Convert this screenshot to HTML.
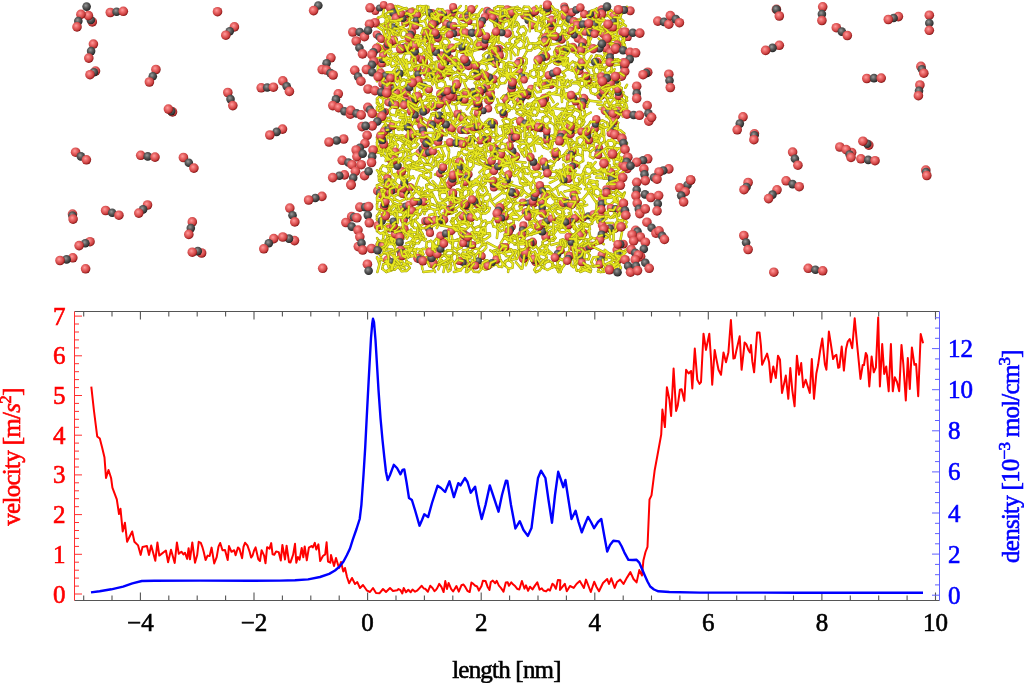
<!DOCTYPE html>
<html><head><meta charset="utf-8"><title>CO2 diffusion</title>
<style>html,body{margin:0;padding:0;background:#fff;}body{width:1024px;height:683px;overflow:hidden;}svg{display:block;}
text{font-family:"Liberation Serif","Times New Roman",serif;font-size:25px;stroke-width:0.6px;}</style></head>
<body><svg width="1024" height="683" viewBox="0 0 1024 683">
<defs>
<radialGradient id="gO" cx="0.42" cy="0.4" r="0.62" fx="0.4" fy="0.36">
<stop offset="0" stop-color="#ff9c9c"/><stop offset="0.4" stop-color="#e96666"/><stop offset="0.72" stop-color="#cc4242"/><stop offset="0.9" stop-color="#9c2020"/><stop offset="1" stop-color="#6a0e0e"/>
</radialGradient>
<radialGradient id="gC" cx="0.42" cy="0.4" r="0.62" fx="0.4" fy="0.36">
<stop offset="0" stop-color="#9a9a9a"/><stop offset="0.45" stop-color="#5c5c5c"/><stop offset="0.82" stop-color="#383838"/><stop offset="1" stop-color="#181818"/>
</radialGradient>
</defs>
<rect width="1024" height="683" fill="#fff"/>
<g>
<path d="M412.3 195.4L415.2 191.5M553.9 226.7L553.6 229.1M451.3 255.9L446.5 255.6M620.2 241.2L622.1 231.8M420.5 13.5L417.4 11.3M535 151.1L532.9 142M454.2 227.7L466.7 222.7M513.3 219.3L510.3 216.9M520.3 35.5L517.5 31.7M399.4 100.1L397.4 103.6M612.3 267.8L610.8 265.4M596.7 216.1L597.5 214M426.9 170L423.3 167.4M551 114L549 103.1M546.4 64.8L542.8 62.6M479.4 210.8L474.3 210.9M561.6 268.5L559.9 265.5M540.5 231.6L539.9 227.3M612.4 33.8L612.9 37.6M490 62.8L490 59.6M620 175.8L622.4 176.6M386.2 18.4L386 16.4M401 90.9L404.2 89.6M519.4 206.3L528.7 216.7M473.9 263.7L471.7 259.9M545.8 124.4L542.3 121.8M612.3 267.8L613.5 269.3M452 66.3L450.5 66M433.8 262L433.5 260.4M401.8 188.4L389.4 190.7M550.5 118.2L549.9 122.6M382.1 79.2L382.8 80.5M416.2 187.3L418.7 187M445.6 62.2L450.7 62M580.2 264.8L580.5 261.4M482.7 38.8L478.4 39.6M545.8 200L545.7 203.5M436.4 130.8L439.8 131.5M549.9 177.5L548.2 174.5M410.8 84.8L410.1 81.6M446.2 129.8L449.5 128.2M623.4 94.6L626.4 97.4M619.4 27.7L616.4 32.1M464.1 266.2L460.5 269.9M554.2 62.9L554.6 60M440.9 128.1L440.1 130.4M561.4 51.3L559.4 48.9M554.9 25.5L556.9 25.3M557.1 247.3L567.5 239.5M546.6 237.4L548.8 234.6M403.5 231.5L391.5 238.6M380.8 140.1L377.2 140.5M608.8 147.4L607.2 143M456.8 91.8L454.3 91.3M432.9 70.5L435.7 68.2M604.9 269.1L605.9 266.8M546.4 64.8L546.6 66.1M602.3 196.9L599.1 198.4M537.7 71.6L537.5 75.6M437.2 132.4L444.5 133M482.9 227.8L483.2 231M461.4 200.2L463.2 203.1M380.8 149.3L381.4 155.8M426.8 68.1L430.5 68.4M477.7 65.8L477.7 66.7M580.5 131.5L588.6 124.9M543.8 147.4L541.1 143.9M418 238.7L406.3 232.8M466.3 236.8L463.2 236.9M574.4 247.5L577.3 251.4M613.9 260.2L610.1 262.2M538.7 82.9L540.8 77.8M597.7 87.5L598.8 91.8M566.1 129.7L566.2 134.4M377.5 114.3L381.7 113.5M598.4 256.8L601.2 261M515.7 102.1L520.2 100.9M574 247.3L574.4 247.5M415.2 42.6L411 42.1M463.4 145.5L462 149.2M379 79.3L377 76.1M620.1 42.1L616 40M590.8 220.1L592.2 218.1M386.1 120.8L396.7 122.6M578.4 204L575.7 201.7M574 161.4L573.5 156.6M435.7 165.6L432.8 167.2M413.8 255.9L409.8 256.5M614.4 65.3L611.4 63.3M477.8 158.4L481.3 157.2M421 239.4L418.7 243.1M417.8 164.6L422.1 162.6M411.1 25.3L409.3 20.8M495 157.6L496.3 158.6M409.5 29L405.5 30.4M604.9 269.1L605.5 264.4M550.7 195.7L555.2 198.6M521.5 86.5L524.3 91.4M443.1 120.6L441 122.8M497.1 183.6L500 184.4M509.2 217.9L513.5 219.2M460.4 255.5L462.6 253.4M555 203.9L550.2 206.3M601.5 88.1L604.5 91M469.3 126.3L469.2 130.7M482.5 209.8L479.1 207.2M602.4 221.6L597.8 222.3M549.2 13L553.5 12.3M420.2 230.1L420.9 228.3M434.1 244.2L433.4 248.6M481.2 203L484.6 205.6M597.2 196.8L593.6 193.8M432.3 67.3L429.3 76.1M399.8 27.5L396.3 24.6M483.8 210.2L487.2 207.6M484.9 140.5L481.5 140M615.2 152.2L618.1 148.6M444.6 162.6L445.3 166.7M475.8 90.6L479.2 91.4M465.2 36.5L464.8 35.6M478.9 272L473.7 271.7M498.5 43.1L498.4 33.1M510.1 95.3L508.1 97.8M423.8 10.9L420.5 13.5M506.5 147.9L503.2 151.1M573.6 226.6L574.7 222.2M488.5 93.1L494.2 82.7M492.4 75.5L493.2 79.6M612.4 33.8L612.3 32.2M405.2 123.6L402.1 124.9M599.6 108.7L609.3 107.9M496.9 64.7L493.5 65.3M594.3 173.6L595.8 171.5M603.2 124.3L604.3 135.4M619.7 206.9L616.1 194.6M568.9 158.5L572.5 151.7M569.7 238.7L574.5 239M517.7 103.8L515.7 102.1M478.5 137.9L488.2 145.5M574.4 259.6L574.9 264.3M424.9 36.3L428.7 36.3M611.4 65.9L611.7 69.7M382.7 41.2L385.5 33.9M420.7 6L423.8 6.2M436.2 221.1L436.8 220.1M506.7 137.7L502.4 129.8M618.1 148.6L621.2 147.8M587.2 106.7L578.6 100.1M426.3 56.8L425 50.9M432.6 204.5L437.4 206.6M486.2 247.6L482.8 251.6M501.6 143.6L501 140.6M560.3 179.9L557.5 174.7M488.3 40.2L487.1 36.7M395.7 166.5L392.2 166.4M517.2 80.4L520.3 82.3M602.6 171.1L602.2 174.2M534.4 216.9L532.3 216.8M568.6 252.2L570 247.9M473.7 116.7L468 117.1M453.5 198.1L453.6 196.9M524.3 91.4L525.2 94.8M390.7 156.4L386.3 157.8M496.3 158.6L495 157.6M584.6 85.5L587.2 87.7M576.8 120.6L579.6 116.5M576.1 249.6L573.6 246.1M604.5 127.8L599.5 127.9M438.3 244.3L435.5 247.7M471.1 124L467.5 123.2M619.9 83.8L618.1 79.2M466.7 20.9L464.4 28.3M530.9 171.2L532.4 172.9M387.7 38L390 37.5M405.9 211.5L408.3 207.8M578.5 19.5L570 20.4M491.2 160.8L495 157.6M431.6 121.9L430.1 118.4M491.2 179.6L486.6 178.1M386.7 51.2L383.7 49.1M544.9 216.6L543.1 221.3M529.6 195.7L531.1 193.2M388.1 96.6L386.4 98.3M513.7 211.9L509.7 215.4M413.6 220.3L410.6 219.5M572.1 70.7L568.7 69.4M388.7 153.6L390.7 156.4M589.2 138.9L589.5 135M445 24.6L442.9 21M511 135.8L509.8 131.8M473.8 137.4L473.7 132.6M458.6 8.3L460.7 6M593.6 129.4L589.4 129.7M436.2 221.1L432 221.9M588.4 265.9L594 266.2M495.8 218.7L496 213.5M564.9 31.7L562.8 30.4M460.5 269.9L455.6 268.5M439.7 18.4L437.9 17.6M581.9 261.6L577.2 252.7M567.8 58.2L567.6 62M518.4 233.5L511.6 240.9M435.7 102.2L439.3 102.6M471.4 40.2L472 43.9M503.3 17.5L511.5 10.1M543.4 209.9L548.5 211.3M506.8 50.6L512 45.5M427.2 96.5L431.7 105.8M530.4 188.3L530.7 183.5M511 135.8L514.6 132.2M463.4 207.3L464.4 204.8M616.7 104.6L613.3 108M592.1 223.4L587.5 226M490 37.3L493.8 34.9M607 45.5L607.1 52.2M413.1 242.7L414.5 243.4M494.3 8.4L498.3 6.2M561.4 51.3L560.2 48.2M604.7 69L607.9 65.5M553.4 22.7L554.5 18.2M410.8 160.4L411.1 155.5M431 190.7L426.7 188.4M419 79.6L419.6 82.9M608.1 11.4L611 10.3M617.7 179.4L620 175.8M536.7 57.5L541 58.8M420.5 73.3L417.9 69.4M498.3 79.8L500.7 75.5M594.9 187.7L593.8 190.6M442.4 155.4L442.8 158.8M491.1 48.9L492.5 47.3M449.8 133.3L446.2 129.8M383.7 49.1L384.3 45M548.8 234.6L553.2 234.8M528.3 173.9L523.1 173.1M603.9 208.6L605.2 212.9M596.3 35.2L594.3 32.1M419.8 226.3L423.7 223.8M582.8 25.5L583.3 28.6M613.9 13.2L613.9 17.3M436.1 83.2L439.8 80.4M508.8 125.2L504.6 123.7M407.5 127.1L405.2 123.6M467.8 242.3L464.4 239.8M540.8 77.8L541.8 81.3M555 150.6L549.7 147.3M528.1 231.7L527.3 235.6M471.7 204.8L476.8 204.8M517.7 73.8L519.8 77.2M412 17.1L416.7 17.8M537.8 222.2L534.3 218.4M487.5 69.1L484 72.8M403.7 72.7L406.8 62.4M463.1 178.9L462.9 174.5M612.2 136.7L616.4 137.5M413 236.3L411 229.5M394.8 174L407.6 176M451.2 14.9L453.5 11.1M397.9 167.8L395.7 166.5M463.4 145.5L458.6 146.2M461.1 152.3L462 149.2M412.6 8.3L415.6 10M575.8 234.3L575.5 236.2M435.2 264.6L439.6 261.3M385.8 77.9L389.6 79.9M384.9 176.2L377 170.3M537.8 222.2L537.2 223.1M384.9 231.8L380.4 233.5M402.5 255.9L398.3 256.9M385.4 14.3L388.6 11.8M444.5 200.2L441.8 202.7M422.6 248.7L427.7 249.2M575.6 67.5L579.3 68.9M428.5 104.1L420.7 109.9M406.8 226.5L406.7 230.4M390.4 150.1L387.1 151.4M531.9 136.8L532.2 135.9M406.2 243.4L414.9 239.9M476.5 85.3L474.8 82.9M492.2 53.9L493.5 58.9M516.4 251.3L518.4 251.1M381 57.2L385.3 65.7M524.3 91.4L528.5 89.4M545.2 36.1L546 41.3M567.6 154.3L571 156.9M503.3 110.7L503.5 106.5M588.2 135.9L589.5 135M431 58.5L432.1 63.2M476.6 70.3L473.4 71.1M377.6 73.9L378.1 64.4M460.8 110.8L462.4 119.9M507.1 194.7L509.9 192.2M546.5 162.2L541.6 160.1M524.8 107.1L527.6 103.8M399 251L395.6 250.5M458 174.1L462.9 174.5M524.4 238.3L523.5 242.2M408.8 165.2L412.4 165.4M597.7 87.5L597.1 86.9M444.5 17.1L445 18.2M528.6 147.9L531 151.7M521.6 239.8L523.5 242.2M488.4 92.9L492.1 93M495.6 32.3L494.4 23.9M415.7 133.7L419.8 134.8M484.7 134.1L488 134.6M537 190.8L549.9 191.5M483.2 231L478.8 233M575.8 94.1L579.1 93.2M438.3 209.3L440.4 208.5M443.6 216.4L436.7 228M553.6 165.3L549.4 166.7M484.2 58.7L483.1 55.3M460.1 92.5L456.8 91.8M599.7 266.4L603.6 264.1M487.2 201.8L483.3 201.3M429.9 89.2L431 93.6M582.2 72L584.9 74.5M540.8 25.8L552.6 31.9M528.1 231.7L527.2 233.3M476.9 130.9L480.2 133.9M478.1 181.3L480.9 183.1M521.1 59.6L523.8 57.1M377.5 43.7L381.6 46.3M567.5 234.9L571.2 234.4M437.2 87.6L436.1 83.2M437.3 246.4L439.8 250.1M391.6 31.2L389.6 35.8M574.5 228.9L571.9 224.6M443.1 236.5L452.7 244.6M471.4 245.2L482.9 240.6M452.2 162.1L453.3 158M470.9 14.4L476.9 6M617.6 49.9L616.3 51.4M463.2 203.1L463.4 207.3M493.9 177.6L498.3 180M393.1 146L390.4 150.1M621.1 161.1L615.6 158.6M501.8 142.9L495 150.7M552.8 37L549.2 38.7M437.7 98.7L439.4 95M542.2 23.3L543.6 27.7M471.2 182.2L475.4 180.3M504.2 229.9L500.6 231.1M480.5 186.5L485.5 187.4M390.4 23.6L394.2 21.2M467.5 123.2L466.2 123.7M412 86L412.1 78.9M623 78.6L618.1 79.2M473.8 60.1L470.8 64.5M467.2 249.6L462.9 250.5M624.1 133.5L623.9 135.7M411.1 148.4L407.2 152.2M389.7 83.2L389.9 82.5M478.4 39.6L481 39.7M419.4 160.6L415 163M386.9 239.2L389.5 242.6M498.2 50.9L503.3 49.5M489.4 267.6L484.9 269.6M383.7 31L377 26.5M484.6 76.8L483.6 79.9M535.4 127.6L532.8 128.9M426.4 46.1L424.6 44.3M510.3 208.9L513.9 208.7M614.4 214.3L613.6 210.1M433.8 262L430.2 260.7M569 47.4L569.6 44.8M457.2 84.3L453.3 82.4M500.5 83.5L498.3 79.8M563.4 128.5L561.4 129.7M488.3 167.6L491 169.4M466 31.9L464.8 35.6M528.9 155.9L524.3 156.3M388.2 129.8L390.5 127.1M410.1 81.6L414.2 79M622.7 108.4L620.5 111.3M384.2 250.4L388.4 249.1M573.6 246.1L574.4 243.6M611.4 63.3L613.2 60.3M543.4 209.9L539.8 213.3M419.1 229L424 236.8M429.8 19.9L433.6 18.9M571.3 18.8L568 7.9M573.2 106.1L574.8 109.4M596.9 24.6L589.5 33.8M541.5 125.1L547.5 126.3M404.8 159.1L403 157.4M424.2 64.2L426.8 68.1M420.1 206L422.9 206.1M583.9 58.9L583.9 54.4M539.3 226.6L545.1 229.9M442.9 38.5L438.7 33M468.8 144.2L468.1 140.5M386.9 270.9L396.6 264.5M425.8 39.5L428.7 36.3M423.8 6.2L423.8 10.9M541.8 81.3L540.8 77.8M549.7 121.4L557.3 127.3M616.7 171.6L620.9 175.6M613.5 269.3L616.3 271M395.4 241L393 244.1M567.4 230.2L564.5 232.3M551 28.3L542.7 36.8M584.4 81.3L583.9 80.4M384.7 219.1L381.1 221.4M433.3 96.5L433.5 99.8M497.5 259L494.3 255.3M528.6 147.9L527.4 144.1M561.2 96.5L560.9 92.4M459 64.6L458.2 62.6M531.6 107.2L532 107.8M496.6 141.9L495.5 139.7M619.5 212.4L624 212.1M550.6 141.3L547 139.6M414.5 243.4L412.4 239.9M534 46.7L538.6 46.8M436.7 48.5L432.7 46.9M476.9 130.9L476.8 125.8M546.2 7.9L549.7 9.6M474.7 259.5L475.6 255.2M530 226.5L534 228.1M575.6 67.5L572.1 70.7M557.5 174.7L563.2 169M499.1 150.4L496.1 151.3M520.4 169.6L519.7 171M604.7 68.1L604.7 69M420.5 98.6L422.2 101.9M519.1 142L516.5 131.8M509.4 119.6L511.2 123.1M462.1 98.8L474.7 104.5M622.1 216.8L627 222.3M399.8 110.9L404.2 123.1M451.4 116.7L449 120.3M479.1 207.2L480.6 207.8M439.8 80.4L437.8 77.3M484.4 195.3L479.4 194.5M411.3 250.1L417.1 248.9M563.7 155.5L567.6 154.3M409.9 145.2L413.7 142.5M383.4 140.9L384 146M434.3 209.9L435.9 215.1M547.5 136.8L545 129.9M427.9 16.5L429.8 19.9M504 162L503.2 159.2M381.8 96.6L383 98.7M461.8 117.7L448.4 114.1M425.8 210L424.4 214M466.4 21.2L466.6 24.2M508 15.5L510.1 11.1M496 137.8L491.8 137.2M604.1 230L605.9 227.8M604.6 141.1L601.3 143.7M407.6 22.5L410.6 25.1M621.7 223.6L622.6 220.1M537.5 108.3L539.6 105.8M562.8 72.3L565 76M623.4 252.3L617.5 247.6M506.6 104.3L503.8 99.3M411.7 63L412.4 65M564 223.3L554.7 227.2M618 37.2L619 42.1M453.5 132.7L453.2 121.3M433.2 53L431.9 55M444.1 45.3L441.5 41.9M616.4 32.1L617.6 37M396.3 113.8L397.1 110.9M436.2 139L439.2 142.1M597.4 12.6L596.2 16.8M456.5 76.1L460.4 78.1M400.9 237.3L397.3 242.3M511.1 201.3L513.8 203.9M537.5 108.3L538.9 103.6M439.8 192.3L437.8 189.3M377 45L377.5 43.7M614.6 264.1L618.9 264.1M468.1 189.7L468.6 194.3M612.9 37.6L609.5 39.7M435 174.6L442.5 176.1M526.6 185L530.7 183.5M393.1 13.5L389.9 16M546 110.8L541.1 111.9M435.9 254.5L435.1 251.6M559.9 265.5L561.3 269.3M605 102.1L608.7 102.5M412.4 65L411.7 63M399.1 75.7L398.8 80.2M383 98.7L381.8 96.6M442.5 191.3L446.6 192.6M401.3 258.8L402.5 255.9M442.3 169.2L438.8 167.5M486.5 124.6L486.7 127.9M602.2 174.2L602.6 171.1M493.7 43.2L490 41.4M472.3 263.4L468.1 261.8M564.7 140L566.7 137.8M608.8 81L612.5 79.3M507.5 133.4L503.8 131.4M429.8 253.8L426.7 257.7M395.9 235.8L394.6 230.8M472.4 32.7L474.8 24.7M457.2 72L452.3 73.6M433.7 214.1L437.1 217.2M599 208L603.9 208.6M565.9 227.7L567.4 230.2M587.2 29.7L589.1 27.9M485.9 244.4L486.2 247.6M529.9 128.2L532.8 128.9M418.7 99.4L415.2 97M447.9 258.6L447 263.4M575.3 37.2L582.6 31.1M624 212.1L625.5 215.9M432.2 271.1L423.2 272M604.8 198.3L602.3 196.9M534 46.7L531.1 50.3M475.1 179.5L483 190.9M486.9 162.9L483.4 164.1M521 235.5L521.2 234.6M603.4 94.9L604.5 91M466.2 262.4L458.6 258.2M388.7 214.8L384.7 214M446 113.3L449.9 113.2M555.2 198.6L555 203.9M479.1 71.6L478.1 71.9M405.5 30.4L404.8 29.6M476.4 14.5L478.7 16.1M392.3 145.1L390.2 141.9M587.7 81.6L583.9 80.4M429.5 207.9L428.7 205.2M405.1 114.4L400.4 115.6M572.1 124.2L570.4 124.2M582.7 156.1L582.6 152.3M416.1 39.2L416.7 36.5M462.6 181.7L467 180.6M468.8 188.2L464.4 189.2M504.1 62.2L505.8 66.5M576.4 188L578.6 191.7M501.1 21L499 25.2M584.2 259.3L583.6 258.4M560.7 184.3L552.2 190.5M621.3 150.5L618.5 154M480.5 186.5L476.6 184.2M611.4 63.3L611.4 65.9M579.6 25.8L582.8 25.5M560.2 271.6L553.3 265M519.9 202.8L522.1 206.5M428.4 121.4L429.2 124.8M527.4 209.9L523 210.5M577.3 262.5L574.4 259.6M606.7 174.1L605.9 178.2M384.5 226.5L385.1 227.6M584.6 85.5L585.9 81.1M570.7 92.3L574.3 95.2M601.6 169.2L603.1 164.7M463 46.6L461.6 50.7M510.6 168.9L508.5 173.2M465.5 218.5L469.9 219.5M385.6 189.9L384.7 189.1M410.6 143.1L415.5 142.1M513.3 36.5L517.6 37.5M517.6 80.7L513.4 80.8M459.9 205.7L459.7 201.5M388.1 254.7L389.8 254.1M555.6 219.1L557.5 218M563.4 202.1L563 206.3M446.5 255.6L444.7 255.2M475.6 255.2L471.2 251.3M496 263.1L490.7 263M393.7 204.2L385.6 212.4M460.9 270.4L453.9 272M381.2 259.7L380.8 255.4M514.3 199.7L516.3 203M575.4 234.1L577.2 230.5M589.5 180.2L593.9 181.1M542.8 62.6L543.4 57.7M507.4 107.4L509.5 106.3M582 224.4L583 226M573 186.9L579.5 192.9M532.8 128.9L535.4 133.1M455 142.1L459.8 141.4M432.6 42.9L436.5 40.5M382.7 105.8L383.1 108.6M378 17.8L382.6 15.8M471.7 136.2L472.4 139.8M410.6 105.3L408.7 110.1M611 43.6L611.6 45.2M468.3 159.3L470.3 158.5M603.1 164.7L607.2 163M389.8 125.2L386.2 125.5M497 259.8L494.5 256.3M569.8 227.1L573.6 226.6M585.1 66.9L589.1 72.1M392.1 249.7L391.6 251.7M619 42.1L615 45.3M561.6 268.5L558.1 267.1M499.6 61.4L504.1 62.2M593.1 145.2L594.7 141.3M452.9 241.7L457.6 239.4M508.4 234.3L511.8 237.1M390 37.5L387.7 38M527.2 233.3L526.6 229M481.6 239.6L483.7 242.4M558.6 19.2L559.8 17.6M611.5 192.7L609.4 196.2M556.9 25.3L554.9 25.5M398.1 35.2L393.5 34.6M576.4 50.4L581 44.1M406.6 120.3L402.7 114.6M502.3 127.7L504.6 126M561.5 227.5L561.5 223.6M620.8 202.1L616.8 207.3M470.4 257.2L468.1 259.3M386.5 130.1L384.4 133.3M478.5 147.8L478.2 148.9M417.9 201.5L424.5 195M563.1 209.5L561.1 220.6M517.4 109.9L521.6 108.7M423.7 223.8L428.6 223.5M406.7 199L405.4 198.8M457.2 84.5L457.2 84.3M480.1 74L481.1 70.9M568.6 32.8L568.4 37.4M546 41.3L543.3 45M419.6 155.7L419.4 160.6M508.4 128.1L510.9 125.5M538.5 127.6L541.2 126.1M384.4 133.3L384.4 136.8M532 107.8L531.6 107.2M479.4 210.8L477.6 210.8M593.1 35.7L589.3 33.6M613.5 210.3L615.7 214.1M491.4 266.8L481.7 256.9M596.3 125.4L599.8 125.4M445.8 51.5L444.1 54.1M582.2 199.7L587.8 193.1M519.7 121.3L519.4 126.3M436.8 35.5L434.3 39.8M411.6 111.6L414.9 109.1M560.8 122.9L560.1 119.5M574.9 264.3L577.2 261.8M400.4 115.6L396.3 113.8M590.2 193.3L587.8 193.1M525.2 94.8L523.1 96.6M529.8 257.3L531.3 252.6M485.3 209L482.5 209.8M604.2 271.7L600.3 272M399 111.5L395.9 115.2M512.2 214.6L517.2 214.5M600.1 79.7L604.5 81M540.1 139.1L550 141.4M608.4 178.8L596.1 177.6M424.2 137.5L424.9 132.9M524.2 95.9L524.3 91.4M407 141.1L403.1 141.9M463.1 258.4L460.4 255.5M410.6 25.1L417 22.9M615 144.4L612.4 147.6M545.7 203.5L545.8 200M608.5 154.4L606.9 150M590 146L587.6 149.7M577.6 199.5L576.6 194.9M483.4 42.8L481.2 47M614.1 122L617.6 124.5M435.3 158.2L433.9 159M462.9 174.5L465.7 171M563.5 164.5L564.8 172M616.2 186.1L617.8 189.8M608.8 81L604.8 78.7M519.4 126.3L515 128.4M500 27.6L497.7 19.7M598.4 74.4L594.8 74M503.8 99.3L501.5 98.4M477.7 66.7L481.3 63M462.7 261.1L464.1 266.2M455.7 168.3L457.8 169.7M571 132.1L569.3 127.8M506.3 67.1L508.1 65.7M423.2 254.3L420.2 257.7M402.4 37.7L400 34.9M405.8 80.5L400.8 79.3M421.7 189.9L422.3 193.1M611.9 233.2L609.9 232.3M445.3 126.1L449.5 128.2M568.1 237.2L567.5 234.9M380.4 233.5L377 230.9M486.6 178.1L485.4 183.3M610.8 122.6L614.1 122M395.5 87.5L401.7 88.7M540 69.2L543.8 71M536.1 263.6L548.9 261.1M535.4 260L531.8 261M479 142.5L483.4 141.8M396.5 66.9L396 62.3M547.6 128.3L545 129.9M411.6 61.8L406.3 62.4M569.9 51L566.2 52.7M589.4 100.7L587.1 104.6M531 210.8L531.5 215.7M430.1 118.4L432.4 113.8M444.1 54.1L440.2 53.4M538.5 254.8L536.9 255.3M437.6 116.6L439.7 114.4M527.2 233.3L524.4 238.3M515.9 65.9L513.7 67.4M604.6 59.8L603.5 57.3M602.2 174.2L603 170M402.9 263L401.3 258.8M498.9 103.8L497.2 99M596.2 64.3L594.5 67.3M472.8 223.2L471.3 225.9M458.3 230.7L461.4 230.6M595.1 148.7L594.3 148.7M471.9 157.2L475 158.5M572.4 238.9L568.1 237.2M545.1 67.6L536.7 68.8M417.9 131.2L422.4 129.6M413.9 75.8L417.3 79M487.1 47.7L485.7 43.4M422.5 233.8L422.1 237.2M412.7 124.1L411.3 127.4M398.6 162.8L395.7 166.5M567 242.7L569.7 238.7M471.5 24.3L484.3 25.6M614.1 122L619 116.3M464.6 74.8L467.4 78M392 173.8L389.6 162.2M459.2 222L468.6 220.1M404.7 169.7L408.8 171.4M432.7 143L431.7 140.5M497.4 248L487.3 242.6M510.9 256.5L506.1 256M432.9 80.4L428.5 80.8M567.3 150.4L562.6 156.6M583.5 170.7L585 181.5M615.5 112.2L612.5 112.7M534.1 69.5L534.4 64.9M520.4 79.8L520.3 82.3M459.1 65.2L450.8 56.4M536.1 194.4L532.1 196.3M525.9 265.2L529 256.3M410.8 121.7L421.2 125.9M535.7 184.4L535.4 189.2M573.6 226.6L576.4 230.1M586.5 242.6L590.4 246.1M584.3 110.8L585.3 115.8M417.3 210.2L415.7 211.5M468.6 194.3L464.8 197.2M590.7 239.3L589.2 231M394.4 255.3L395.3 250.8M485.4 126.2L486.5 124.6M580.2 264.8L577.3 262.5M593.2 85.9L587.7 81.6M449 120.3L445.1 120.4M377.7 68.1L386 62.1M590 176.8L579.2 180.6M491.2 131.8L488.9 126.6M408.8 165.2L412.7 163.6M521.6 72.8L525.9 62M565.3 176.7L567 180.6M485.6 87.5L487.4 84.1M564.1 213.3L561.8 215.2M454.7 84L457.2 84.5M492.2 41.4L493.7 45.8M439.8 131.5L442.6 128.5M568.7 69.4L569 64.9M564.5 171.7L574.6 177.5M576.8 120.6L574.5 122.2M385.9 52.1L383.1 50.2M620.3 42.8L624.6 44.5M527.5 73.9L528 78.1M396.5 66.9L395.5 65.1M405.4 198.8L399.8 201.7M420.2 257.7L415.7 256.8M431.8 192.6L437.2 203.1M497.3 223.4L500.9 222.2M605.9 227.8L609.3 229.7M381.1 189.8L377 187.9M409.6 77.2L406.5 74.2M406.9 13.5L409.8 14.1M435.3 158.2L438.7 155.1M587.9 131.5L588.2 135.9M539.8 166.9L539.3 158.1M583.3 262.8L580.2 264.8M440.1 130.4L440.9 128.1M396.4 153.5L397.5 145.7M489 48.3L495.7 39.7M416 48.8L414.3 48.6M524.1 65.9L521.2 64M468.9 203.4L472.1 206.9M581.4 255.5L578.1 255.5M386.5 148.5L381.2 150.6M620.8 202.1L616.5 201.5M408.2 10L412.6 8.3M501.1 21L499.8 20.3M600.5 258.2L601.8 254.2M387.6 187.1L389.1 190.5M488.3 167.6L483.6 164.7M566 19.8L563.3 21.1M473 154L475.2 149.6M460 45.7L452.9 47.4M577.2 261.8L580.5 261.4M524.1 65.9L525.6 67.5M491.2 131.8L495.5 132.4M556.6 179.5L549.8 182.8M515.8 164.6L522.7 170.9M378.8 105.2L382.7 105.8M608.2 126.6L610.8 122.6M525.6 143.6L527.4 146.2M595 33.9L593.1 35.7M388.7 153.6L390.4 150.1M418.7 46L422.9 47.5M437.8 205.1L437.9 203M576.1 238.4L578.2 240.7M482.1 222L480.6 217.7M493.8 34.9L497.5 36.7M624 12.2L621.2 14M569.5 101.1L565.9 98.2M518.1 23.7L515 26.2M398.9 29L400.8 32.4M604.4 193.4L609 191.3M499.9 17.8L501.1 21M491.6 162.2L494.9 152.9M546 110.8L546 108.4M451.4 101.2L454.6 98.7M405.7 85.7L402.1 87.9M576.7 243.3L577.1 244.3M566.2 207.6L565.6 203.3M468.6 97L457.6 103.8M521.2 64L515.9 65.9M403.3 228.9L404.6 233.9M519.6 88.8L516.5 86.9M583 204.1L580.5 206.3M472.1 236.3L470.1 239.5M613.3 87.4L609.2 85M535.1 136.7L532.2 135.9M525.8 209.7L527.4 209.9M396.9 107.3L400 105.6M566 110.3L568.8 106.6M428.3 95.8L433.3 96.5M503.9 149.5L494.3 151.9M429.8 101.5L430.8 105M616.5 216.6L615.7 214.1M571.8 109.9L562 108.4M482.9 232L481.3 228.8M622.6 10.4L627 6.8M481.1 70.9L483.3 72.3M520.4 79.8L519.8 75.6M524.9 14.6L522.2 10.6M491.2 131.8L486.7 127.9M386.7 118L390.2 117.7M430.3 102.1L433.5 99.8M479.9 129.9L479.7 126.6M514.4 45.1L510.1 44M433.9 159L439.6 156.5M455 116.1L456 120.4M422.4 14.8L426.8 13.6M407.2 152.2L407 156.5M457.4 68.2L458.8 67.4M578.6 191.7L576.6 194.9M582 27.7L595.1 31.6M544.4 112.1L546 108.4M418.7 224.6L417.9 228M617 101.2L609.1 93.8M558.5 116.3L561.8 113M410.5 120.9L402.5 130M531.4 195.3L540 192.6M587.2 204.9L577 208.4M509.9 192.2L514.9 193.5M406.2 46.6L407 44.4M415.1 71.5L413.9 75.8M398.9 99.6L408.5 90.3M620.1 164.9L619.5 169.2M599.8 125.4L598.7 121.7M433.4 248.6L429.4 249.8M409.5 252.7L406.3 255.7M377 118.5L377 119.7M505.8 245.9L506.9 250.2M560.1 119.5L558.5 116.3M619.6 104.8L621.2 102.4M606.9 39.5L598.4 49.7M549.8 128.7L537.1 126.4M399.8 201.7L401 204.4M385.1 27.2L385.9 23.5M581.9 16.2L587 15.8M617.7 260.4L614.6 264.1M555.3 125.8L556.9 122.5M448.2 45.4L444.1 45.3M463.1 258.4L462.7 261.1M616.8 207.3L620.7 208.6M561.4 219.7L563.4 222.5M450 262L450.7 258.6M514.9 193.5L517.1 197.2M546.4 229.8L545.4 229.2M520.3 35.5L517.6 37.5M494.3 97L492.8 100.8M509.5 106.3L509.3 110.5M439.7 18.4L435.8 19.5M426.8 242.1L430.8 240.9M608.2 236.1L600.5 226.1M538.5 127.6L535.4 133.1M616.6 108.9L620.5 111.3M567 180.6L572.9 178.4M570.9 260.9L566.1 256.9M470.1 183.9L468.8 188.2M531.3 252.6L528.9 248.1M492.3 83.2L490.4 82.5M513.9 208.7L513.7 211.9M415.3 93.2L418.8 95.6M394 134.3L391.7 137M391.6 251.7L387.3 253M453.4 191.8L457.8 189.2M544.3 75.3L540.8 77.8M618.1 85.5L619.9 83.8M415.5 142.1L417.1 138.5M508 165.6L508.9 163.5M567.5 217.1L563 215.4M600.9 56.1L603.4 60.8M384.9 178.1L382.1 181.7M457.1 225.5L453.5 225.2M543.8 267.9L542.2 266.6M549.4 23.9L553.4 22.7M454.6 98.7L458.4 98.9M434.7 186.2L435 189.6M460 43.4L463 46.6M622.7 116.4L624.4 103.9M488.9 119.1L492.4 119.5M588 61.9L592.9 61.7M442.8 264.8L439.6 261.3M459.7 201.5L461.4 200.2M402.6 185.3L413 176.2M480.6 217.7L476.7 219.7M484.9 269.6L481.6 267.1M427.2 179.4L430.3 183.9M384.8 197.2L383.1 196.7M528.8 235.1L536 229.3M591 269.7L590.4 272M414.2 227.9L411.2 224.5M607.1 98.2L608.7 102.5M388.8 237.9L393.3 237.9M506.8 71.9L506.3 67.1M464.4 28.3L466 31.9M407.5 237.5L395.8 231.6M583.6 258.4L583.3 262.8M488 134.6L488.1 137.8M478.7 249.3L482.1 245.3M586.1 138L583.6 135.8M380.7 25.1L377 22.4M458.3 88.4L456.8 91.8M464.7 169.6L460.1 171.3M570.9 260.9L572.4 257.9M530.7 183.5L526.6 185M471.2 251.3L469.4 253.6M566.6 131.7L554.9 133.7M494.4 149.5L491.1 152.4M405.2 257.3L406.8 261.5M389.6 35.8L391.6 31.2M513.3 253.1L514.7 255.4M433.6 62.9L436 66.5M543.6 260.4L539.5 258.7M476.5 102.9L475.3 99.7M467.3 161.5L470.3 158.5M409.4 168.4L400.2 159.2M415.7 100.9L414.5 103.7M443.8 250.9L436.8 249.5M603.2 238.6L601.1 242.8M593.2 85.9L597.7 87.5M528.7 169.3L530.1 158.7M458.8 67.4L457.2 72M490 41.4L490 37.3M581.9 265.6L584.7 266.7M532.8 225.2L530.7 221.8M477.1 140.5L479 142.5M422.9 47.5L424.3 51.9M621.2 92.4L621.1 95.1M557.5 10.2L559.8 13.9M494.4 23L496.5 18.8M517.7 103.8L513.7 102.5M618.3 164L614.1 163.9M575.7 201.7L577.6 199.5M417 103.1L419.7 91.6M453.3 158L457.4 157.3M385.4 151.1L392.1 147.8M493.6 81.7L495.1 78.7M472.1 236.3L471.5 232.6M570.5 85.1L566.9 87.2M616.9 45.5L619 42.1M441.5 206.9L437.8 205.1M541.9 24.9L542.2 23.3M389.8 189.1L387.6 187.1M456 120.4L454.3 122.8M382.8 80.5L386.9 85.9M589.6 67.5L586.4 64.8M417.6 229.9L417.9 228M592.2 79.3L587.7 81.6M401 165.1L395.9 176.4M574.3 98.2L575.8 94.1M477.3 154.7L477.8 158.4M473.8 228.5L478.2 226.5M377 118.5L377.5 114.3M421.5 257.2L419.5 252.6M483.2 79.1L484.8 81.5M561.8 251.1L565.3 253M555.4 237.9L553.3 240.7M411.7 216.1L415.7 213.5M388.3 90.1L386.9 85.9M551.8 80.3L550.5 76.3M377 62L377 58.6M575.7 26.4L576.8 29.2M526.1 47.1L523.4 47.4M419.6 158.5L421 156.3M571.2 144.2L571.7 149M588 24.5L582.9 24.8M536.6 266L540.6 264.4M416 48.8L418.7 46M574.3 98.2L574.3 95.2M457.5 220.4L456.5 218.4M459.3 114.4L463.9 113.6M505.3 224.3L500.7 227.3M445.9 102.8L443.7 101.2M599 265.6L599.7 266.4M532.8 191.1L535.2 191.3M458.7 19.3L455.7 16.3M524.9 140.5L518.2 140.5M619 116.3L619.5 114.5M509 62.1L513.5 63.2M444.5 200.2L440.4 198.9M407.8 104.1L408.9 101.3M565.4 246.6L562.8 247.3M424.9 36.3L421.7 33M574.4 155.8L571.4 153.2M378.8 93.1L380.5 91.4M487.2 201.8L487.2 207.6M455.4 208.8L456.5 211M565.1 119.3L570.9 123.2M445.8 86.3L442.1 89.2M496.4 155.5L499.9 145.6M406.5 74.2L408.7 75.8M383.6 234.9L385.9 232.6M377.5 100.1L381.2 110.8M496.5 142.5L490.2 145.5M519.4 126.3L518.2 124.7M463.8 188.1L464.4 189.2M473.7 245.8L474.2 248.2M441.8 202.7L444.5 200.2M424.2 64.2L423.7 64.6M423.2 254.3L419.5 252.6M446.2 129.8L447.5 124.8M475.8 240.1L472.1 236.3M444.9 76.2L442.6 80.2M415.8 62.9L414.4 66.5M467.4 78L466.1 80.6M536.3 115.4L532 114.6M611.8 97.5L607.1 98.2M620.1 42.1L620.3 42.8M532.8 191.1L530.4 188.3M523.1 96.6L519.2 95.3M392.6 54.1L402.2 52.9M426.1 206.4L422.9 198.9M588.5 191.5L584.5 181.7M470.8 211.8L466.4 213.3M461.9 242.4L461.5 247.6M532.5 96.4L528.2 98.4M462.3 191.7L460.5 195.5M434.3 209.9L429.5 207.9M514.9 45.8L515.7 41M438.7 14.4L438.3 14.2M431 190.7L427.7 190.6M394.9 262.5L398.5 262.9M484.3 267.6L471.6 262.8M602.7 222.7L612.7 223M432.6 181L437.4 186.3M509.7 215.4L506.1 215.5M448.1 175L445.5 178.3M517.4 237.3L516 238.8M485 101.1L487.4 88.1M601.7 133.5L599.1 136.1M501 140.6L496.6 141.9M485.7 43.4L483.4 42.8M583.1 160.9L578.8 163.5M464.4 189.2L461.3 186M451 221.6L452.7 218.2M466.7 47.4L469.7 47.8M594.8 74L593.1 70M532 239.6L535.4 242.1M490.4 198.4L487.2 201.8M469.7 263.5L470.8 265.4M445.5 215.1L441.2 216.1M496.5 18.8L499.9 17.8M488.8 53.2L490.3 53.2M553.2 234.8L556.1 231.1M613.9 17.3L611 18.4M453.4 28.8L440.4 30M391.5 57.7L390.2 59.4M412.4 239.9L414.7 236.2M382.8 80.5L379 79.3M473.8 50.7L484.7 47.9M511.3 49.7L507.4 48.8M377 219.6L377 215.7M423.3 7L416.4 15.6M495.1 78.7L497.9 80.1M506.2 112.7L503.3 110.7M555.8 171.7L557.5 174.7M451.4 101.2L452 99M577.7 64L579.4 59.6M534.4 177.9L531.1 176.2M576.4 188L579.9 182.4M560.9 192.2L565.5 197.9M497.3 223.4L497.6 227.4M618.9 264.1L621.2 259.2M609.8 72.2L608.5 73.1M398.9 139.4L398.4 136.1M486.9 96.8L488.4 92.9M572.4 257.9L574.4 259.6M417.5 53.2L416 48.8M601.7 63.7L593.8 62.6M417.6 229.9L420.2 230.1M466.6 256.9L469.4 253.6M392.7 213.8L388.7 214.8M429.2 124.8L425.5 125.4M498.3 146.7L494.4 149.5M437.8 9L442.5 9.6M488.7 89.9L492.1 93M533 213.4L531.5 215.7M444.7 156.2L440.6 146.4M433.5 260.4L435.2 264.6M572.4 194.3L570.2 190.5M601 20.5L599.8 26M405.3 40.8L409.1 44.1M546 108.4L539.6 105.8M575.4 266.5L577.2 261.8M586.5 12.5L596 22.6M387.3 224L392.6 224.4M498.9 254L499.3 252.1M433.9 159L432 163.5M486.3 175.7L484.9 175.4M398.3 227.3L403.3 228.9M416.9 133.6L417.9 131.2M504.9 265.3L505.2 261M597.1 155.2L593.2 158.2M507.1 203.1L511.1 201.3M539 176.4L534.4 177.9M381.7 69.3L377 81.3M396.3 24.6L397.6 20.2M555.5 72.1L558.1 70.3M429.4 249.8L426.1 246.6M435.5 247.7L433.7 245.4M412 17.1L409.9 15.2M564.1 213.3L562.4 210.6M549.7 231.9L546.1 232.3M577.9 83.8L577.7 79.6M547.4 249.4L556.9 258M572.1 124.2L576.5 124.8M575.4 132.7L571 132.1M512.5 22.7L516.9 22M585.4 129.2L587.9 131.5M488.8 53.2L489 49.9M530 226.5L529.3 221M442.3 169.2L443.1 174.1M502.3 155.3L509.1 161.5M581.4 86.8L579.1 93.2M465.7 171L468.7 171.8M617.1 93.8L613.5 91M470.5 207.9L472.1 206.9M597.4 141.9L596.8 137.5M407 141.1L405.3 143.6M484.4 195.3L485.9 193.9M437.6 116.6L437.7 116.1M596.8 137.5L600.1 134.9M469.2 130.7L465.9 132.4M424.5 93.7L418.8 95.6M488.7 89.9L485.6 87.5M553.4 22.7L549.8 25.1M609 236L610.4 239.6M594.4 86.7L590.8 86.8M426.8 13.6L427.9 16.5M473.7 271.7L471.2 267.3M563.1 82.3L562.8 86.4M447.2 214.4L448 211.8M560.1 232.1L558.6 229.6M615.1 192.6L616.9 195.8M470.4 17.7L469.8 18M625.4 101L627 97.4M439.7 114.4L442.4 116.4M544.3 186.6L548.7 186.4M428.3 95.8L425.5 100M422.6 122.4L421.3 124.8M392.6 90.9L388.3 90.1M621.3 196.3L624.8 192.4M462.4 18.8L466.4 21.2M485.2 144.6L482.6 148.2M506.2 248.7L506.6 246.5M407.2 152.2L411.1 148.4M554.3 162.3L553.6 165.3M476.1 234.2L484 235M417.3 210.2L420.1 206M427.5 106.9L423.2 105.3M425.9 141.7L424.2 137.5M587.6 226.6L579 225.7M456.9 250.9L460.4 237.6M603.3 16.9L608.1 15.5M605.2 212.9L601.6 216.7M591.1 92.9L589.9 88.6M534 228.1L534.6 232.4M408.9 94.9L405.7 96.1M562.1 259.9L558.7 258M451.9 145.9L444.8 144.8M378.8 193.9L382.2 193.5M594.3 32.1L596 27.5M432.7 46.9L432.6 42.9M432.8 71.9L432.4 77.1M577.3 131.9L583.4 119.7M538.9 38.2L541.6 34.5M620.3 184.6L617.9 183.8M616.2 186.1L617.9 183.8M542.6 189.9L544.3 186.6M387.3 253L388.1 254.7M417.5 123.4L414.9 119.7M623.2 199.5L620.8 202.1M621.2 92.4L617.1 93.8M409.9 145.2L411.9 148.7M455.7 104.2L451.9 104M512.9 47.3L511.3 49.7M465.7 40.2L462.6 40.2M509.3 260.1L514.9 259.2M609.9 204.8L605.4 203.4M479.7 150L479.5 150.3M515.6 118.4L519.7 121.3M616.5 216.6L619.5 212.4M619.6 256.2L618.9 264.1M498.7 210.3L490.2 200M406.6 137.8L407 141.1M554.5 31.2L555.4 33.2M388.5 258.9L385.1 261.4M622.6 181L620.3 184.6M389.1 190.5L390.4 194.5M461.9 222.8L462 221.8M510.6 26.9L509.4 25.2M491.2 179.6L493.9 177.6M428.9 164.9L429.3 164.7M495.8 107.7L498.9 103.8M405.7 96.1L401.7 94.1M593.6 129.4L596.9 130.5M537.5 164.2L541.9 156M620.9 267.9L618.6 271.6M559.8 157L557.5 158.7M615.5 112.2L614.1 109.3M464 221.2L465.5 218.5M398.8 46.7L400.2 42M459 64.6L455.4 65.3M549.7 192.7L550.7 195.7M396.7 206.1L395.9 209.6M531.1 176.2L532.4 172.9M513.4 80.8L511.3 77.4M481.1 213.3L482.9 213.1M506.1 185.8L501.8 188.2M426 87.1L429.9 89.2M554.1 80.5L558.7 79.4M613.9 153.8L612 156.4M495.3 85.6L495 85.9M473.2 217.2L473.7 212.7M472.1 206.9L470.8 211.8M503.6 104.3L505.2 108.7M448.8 24.2L445 24.6M426.9 170L427.3 170.9M481.3 78.5L480.1 74M615.4 227.6L617.5 228.4M393.3 237.9L395.4 241M504 63.4L503.1 76.3M531.2 104.1L532 107.8M622.6 160.9L618.3 164M397.8 145.1L388.6 137.8M500.7 75.5L505.4 74.9M392 66.6L390.1 63.4M442.1 89.2L437.2 87.6M395.1 37.7L393.5 34.6M379.6 8.6L388.3 7.1M521.4 195.3L516.4 195M422.2 128.7L429.3 124.6M393 244.1L394.7 246.2M593.2 85.9L594.4 86.7M425.9 164.5L424.5 164.8M526.2 181.6L526.6 185M565.4 15.1L566 19.8M575.4 234.1L571.6 234.6M467.4 78L473.9 79.1M505.2 261L509.3 260.1M613.5 269.3L609 271.5M463.9 237.1L466.3 236.8M415.1 113.1L411.8 113.6M479.1 71.6L477.7 66.7M431.9 196.8L429.3 197.6M528 121.2L527.6 117.7M581.2 249L580.1 248.2M435.8 19.5L433.6 18.9M422.9 210.3L420.1 214.5M479.9 256.9L476.8 260.3M423.8 6.2L426.5 6M394.7 269.6L391.1 269.3M543.8 102.5L547.4 106.1M537.3 213.6L534.4 216.9M600.9 145.6L593.1 135.4M621.1 95.1L623.4 94.6M518.2 124.7L521.5 124M391.7 137L388.8 134.7M608.2 48.5L598.7 38.5M467 214.5L461.5 204.1M395.2 199.5L399.8 201.7M500.1 211.5L504 214.8M601.6 216.7L600.8 217M415.5 142.1L418.2 144.2M545.2 192.9L542.6 197.9M451.2 14.9L449.3 17.4M421.6 54.7L417.5 53.2M397.6 73.1L399.1 75.7M506.9 250.2L503.6 253.4M614.1 264.7L613.5 269.3M621 61.4L619.2 64.4M555.8 16L553.5 12.3M576.1 55L585.2 61.8M514.1 88.3L513.8 77M455.2 165.5L455.7 168.3M546.7 229.4L550 219.7M472.6 125.8L474.7 121.4M620.4 140.8L620.1 143.3M385.6 189.9L389.1 190.5M615.1 192.6L610.7 191.7M394.8 74.6L394.4 70.5M514.5 211.4L512.2 207.8M571.5 256.1L572.4 257.9M391.2 137.7L394.3 136.8M603.1 20.6L601 20.5M620.1 143.3L615.9 142.5M445.3 166.7L442.3 169.2M554.3 51.9L556.4 48.2M458 174.1L456.3 177M396.9 217.6L393.8 214.5M404.8 29.6L405.5 30.4M431.7 48.5L432.7 46.9M460 231.1L455.8 230.5M513.3 235.2L517.4 237.3M616.4 137.5L620.4 140.8M582.8 251.7L587.1 251.7M569.4 81.8L572 80.2M536.3 143.1L534.5 140.4M411.6 61.8L411.7 59.9M423.2 105.3L422.2 101.9M402.3 135.3L406.6 137.8M596.3 125.4L601.3 125.1M627 100.8L624.7 101.3M444.9 264.4L443.5 272M497.4 40.8L493.7 43.2M564.9 31.7L566.8 30M535.4 189.2L537.9 192.1M418.4 110.6L415.1 113.1M409.8 78.8L405.8 80.5M605.7 234.1L604.1 230M409.4 250.2L409.3 246.5M422.8 205.3L426.5 195.6M596.3 55.6L600.9 56.1M407.8 265.1L409.7 267.8M473.7 116.7L470.9 113M516.8 113.1L517.4 109.9M565.3 184.2L562 183.9M531.6 185.2L523.7 177M404.7 169.7L408.5 167.8M491 169.4L490 173.5M577.1 244.3L577.7 244.7M518.2 146.2L522.7 154.3M586.7 184.1L597.4 181.3M421.8 157.1L430.4 155.3M460.1 171.3L456.1 168.4M412.3 134.9L409 134M440.1 57.1L442.2 57.1M601.4 64.8L604.6 70.5M511.6 240.1L510.1 237.3M420.9 36.1L424.5 38.2M460 231.1L458.3 230.7M385.1 28.6L388.3 31M413.3 207.8L415.7 211.5M575.8 234.3L577.2 230.5M525.4 229.7L528.1 231.7M543.4 57.7L547.5 55M405.5 30.4L402.6 27.8M470.4 17.7L466.4 21.2M425.9 130.5L424.9 132.9M428.5 67.6L436.1 61.7M574.3 95.2L573.7 99.7M440.4 177.4L443.1 174.1M485.9 239.1L481.6 239.6M428.9 208.6L425.8 210M575.9 255.7L571.5 256.1M416.1 117.4L420 118.7M437.8 77.3L434 75M440.9 33.3L441.1 29.9M435.6 71L435.7 68.2M457.4 68.2L455.5 64.4M431 93.6L428.3 95.8M507.9 94.4L510.1 95.3M404 108L401.8 109.7M580.1 212.1L579.2 207.9M525.6 110.8L524.8 107.1M580.5 261.4L581.9 265.6M484.9 140.5L485 143.7M609.5 39.7L606.9 37.2M400.9 237.3L395.9 235.8M468 117.1L471.4 121M416.6 233.5L414 245.8M587.2 29.7L583.3 28.6M533.7 77.6L530 75.5M531.5 10.9L529.6 14.7M422.7 59.9L426.3 56.8M518.6 254.9L519.9 255.7M594.6 135.8L591.7 139.3M443 20.6L444.3 25M540.6 264.4L543.1 260.5M612.5 167.6L617.4 167.2M437.4 206.6L438.3 209.3M517 234.9L521.2 234.6M497.6 182.8L489.4 181.7M417.6 217.7L413.6 220.3M384.5 226.5L387.3 224M414.5 17.6L419.3 18.9M452.3 73.6L448.9 70.6M427.8 27.2L430.9 30.5M511.3 77.4L513.5 73.9M619.5 212.4L617.5 207.7M398.3 256.9L400.7 261.6M485.5 220.5L486.9 223.1M549.6 243.5L545.9 245.9M593.9 181.1L597.6 184.5M596.7 240.4L596.3 241.7M519.8 75.6L523.4 72.6M459.7 229.3L461 228.7M614.1 160.7L618.4 157.6M443.6 220.6L447.2 214.4M543.8 71L544.3 75.3M458.1 116.3L452.2 123.4M613.3 49.1L611.6 45.2M588 142L590 146M475.1 260.2L472.3 263.4M475.8 90.6L477.3 85.7M410.5 250.9L414.5 250.3M593 30L595 33.9M616 40L617.1 44.7M450.5 208.1L455.4 208.8M406.3 255.7L402 254.4M522.2 164.9L525 172M577.6 199.5L582.2 199.7M462.9 125.4L466.2 123.7M584.5 144.3L583.5 141.8M462 149.2L463.4 145.5M577.7 64L575.9 63M392.2 266.2L391.1 269.3M441.6 179.6L444.3 181M407.2 191.6L410.7 191.4M437.8 189.3L440.7 186.5M574 247.3L569.2 247M483.6 79.9L481.3 78.5M408.4 146.2L409.9 145.2M394.7 158.9L390.7 156.4M557.7 79.1L555.4 81.8M413.5 93.9L415.3 93.2M381.1 189.8L382.2 193.5M473.9 96.3L470.4 95.5M389.7 179.1L392.2 179.9M390.6 77.9L398.8 74.2M441 141.7L432.6 139.9M378.8 146.1L377 151.7M426.7 172.8L416 169.4M491.8 221.8L494 217.8M508.1 97.8L503.8 99.3M578.2 240.7L581.7 237.9M563 126.5L561.4 129.7M503.4 193.1L501.3 189.2M539.9 227.3L542.1 223.9M386.7 57.4L384.6 53.7M564.5 232.3L560.1 232.1M580.8 146.3L577 143.3M557.3 148.9L559.7 152.1M572.6 61.7L575.9 63M579.6 228.8L577.2 230.5M378.6 240.7L377.1 238.1M597.1 86.9L596.4 82.7M543.1 221.3L537.8 222.2M486.2 146.1L478.2 153.7M585.6 150.3L586.1 137.4M493.6 226.6L491.8 221.8M519.3 27.3L523.8 26.6M408.5 175.9L414.1 178.3M510.9 125.5L508.4 128.1M404 214.3L405.9 211.5M438.6 20.6L443 20.6M505.8 66.5L503 69.9M486.1 64.2L490 62.8M552.6 262.9L551.9 267.5M425.9 195L425.1 191.5M443.7 101.2L444.4 99.4M418.7 187L421.7 189.9M550.8 152L557.7 159.5M462.9 174.5L457.8 173.1M578.2 129.1L575.4 132.7M387.5 234.7L386.9 239.2M502.5 172.5L506.6 175.1M573.4 267.2L571.4 265.6M522.1 206.5L519.4 210.8M596 14.9L598.3 11.3M516.9 259L514.9 259.2M522.2 10.6L524.1 6.8M478.4 116.2L473.7 116.7M577.6 154.2L574.4 155.8M485.7 40.1L496.2 39.9M505.7 207.5L507.1 203.1M390.1 21.6L389.3 25.3M605.2 212.9L607.2 213M480.9 183.1L478.1 181.3M520.9 137.7L517.2 141.3M517.4 187.7L522.3 188M496.9 56.1L498.2 50.9M538.9 18.9L535 15.9M503.8 220L499.8 222M384.3 252.9L388.1 254.7M623 149.4L627 143.4M440.8 14.3L443.1 22M614 86.9L617.1 85.7M470.1 67.2L466.1 56.5M454 253.4L458.5 253.6M548.4 215.2L547.1 210.8M485.6 233.7L489.8 233.2M585.6 173.1L584.5 168.7M411.7 59.9L411.6 61.8M466.2 10.3L469.5 12.7M483.4 42.8L488.9 41.6M509.1 66.2L506.8 63.6M466.4 213.3L464.1 215.2M507.4 48.8L505 45.5M532.8 128.9L535.4 127.6M439.4 161.9L435.7 161.6M581.9 265.6L580.1 270.3M594.3 173.6L592.4 171.3M580.8 45.8L576.4 50.4M613.9 260.2L610.5 257.8M558.7 227.3L552.2 234.8M456.7 163.9L459.3 164.9M381.8 96.6L378.8 93.1M384.6 173.4L382.2 173.6M584.5 168.7L587.4 165.5M493.2 79.6L493.6 81.7M609.6 106.1L605.3 94.8M602.6 171.1L601 173.2M443.5 15L444.5 17.1M392.2 241.7L394.2 231.3M461.3 178.8L466.1 188M503.3 6.7L504.4 9.4M390.5 127.1L393.4 129.4M597.5 24.7L602 17.2M550.3 227L553.9 226.7M411 45.4L414.3 48.6M419.8 134.8L420.5 137.3M542.2 266.6L539.8 270.4M615.7 214.1L613.7 217.4M557.5 174.7L564.4 174.9M392.3 145.1L392.5 143.1M561.7 209.8L564.1 213.3M621.2 14L619.8 18M541 58.8L543.5 62.6M452.4 123.4L454.3 122.8M442.4 116.4L443.1 120.6M519.7 178.8L522.8 178.6M541.7 252.7L545.9 254.5M440.4 60.8L436.4 62M434.9 130.2L432.8 127.1M544.5 263.3L543.6 260.4M586.2 245.9L594.3 242.6M514.9 259.2L514.7 255.4M584.7 266.7L580.4 264.7M587.8 193.1L589 190.2M414.4 66.5L412.4 65M401.4 176.6L405 180.2M540.5 31.4L541.6 34.5M438.6 131.8L434.9 130.2M428.6 223.5L429.7 225.5M492.3 83.2L495.3 85.6M388.8 134.7L388.2 129.8M512.2 207.8L513.8 203.9M452.3 114.2L455 116.1M432.8 71.9L430.5 68.4M599.8 125.4L596.3 125.4M478.2 236.3L481.5 236.9M413.1 242.7L413.2 246.4M410.3 120.6L412.7 124.1M536.2 213.8L537.3 213.6M568.8 231.1L569.8 227.1M409.8 14.1L409.7 18M389.9 16L386 16.4M385.1 261.4L388.1 263.1M520.9 97.1L521.3 101.1M403.9 79.7L406.7 81.6M504.3 225.5L505.3 224.3M428.7 36.3L430.5 38M438.1 75L442.6 73.6M526 202.6L528.9 205.9M589.1 27.9L593 30M386.5 241L388.8 237.9M616.9 14L615.5 12.2M405.9 36.4L402.4 37.7M451.9 104L451.4 101.2M524.9 34.8L520.3 35.5M427.3 162.2L425.9 164.5M620.2 35.8L624.3 37.9M501.2 164L497.5 167.2M469.5 136.5L471.7 136.2M463.5 202.5L449.8 203.1M418.7 39.4L425.1 40.2M588.7 182.8L589.5 180.2M518.7 147.1L521.3 144M399.9 100.8L399.4 100.1M584.2 238.7L583.1 242.3M560.1 34.8L555.8 34.6M450.4 159.8L440.9 169.6M510.5 25.7L500.4 31.4M410.3 38.3L413.8 35.1M473.8 228.5L471.3 225.9M461.7 208.6L459.9 205.7M500.3 217.7L508.2 218M622.6 23.2L625.9 26M482.6 185.8L480.9 183.1M508 240.3L507.8 238.5M558.2 56.8L559.9 59.2M467.5 271.8L465.9 272M440.4 60.8L440.1 57.1M418 35.6L418.7 39.4M457.5 118.9L456 120.4M415.8 26.1L411.1 25.3M556.3 75.1L557.7 79.1M479.7 150L482.6 148.2M415.2 97L415.7 100.9M417.1 138.5L413 137.4M574.9 264.3L573.4 267.2M469.7 269.6L467.5 271.8M455.7 16.3L452.3 17.5M482.1 222L485.5 220.5M499.1 150.4L498.3 146.7M382.6 15.8L386.2 18.4M400.3 82L403.9 79.7M576 77L577.7 73.3M492.5 165.6L491.2 160.8M392.2 266.2L391.4 270.6M519.4 210.8L514.5 211.4M604.7 69L600.4 70.7M419.5 252.6L422.6 248.7M401.6 247.1L401 250.1M394.7 246.2L397.3 242.3M541.1 111.9L537.5 108.3M397.2 96.4L399.4 100.1M385.9 232.6L384.9 231.8M451 205.1L449.5 200.4M620 100.4L618.5 93.3M483.2 44.8L474.7 42.1M526.1 47.1L529 43.6M457.6 239.4L461.9 242.4M493 184L491.2 179.6M416.7 36.5L420.9 36.1M455.4 100.2L446.3 100.7M497.9 135.4L496 137.8M613.8 76.1L614.3 76.8M415 163L410.8 160.4M395.5 65.1L396.5 66.9M548.3 36.7L545.2 36.1M388.3 31L390.5 28.1M449.9 113.2L451.4 116.7M551.8 218.6L548.4 215.2M421.9 70.2L432.5 72.8M604.4 167.5L607.8 175.1M573.5 156.6L577.9 154M432 39.8L432.3 35.6M491.1 152.4L487 150.6M589.9 229.2L587.4 231.7M472.3 62.8L470.8 64.5M497.2 227.8L497.3 223.4M440.9 128.1L445.3 126.1M427.2 179.4L423.6 177.3M399.4 121.8L402.1 124.9M430.1 118.4L428.4 121.4M401.6 247.1L399 251M611.5 105.9L610.6 109M602.3 196.9L604.4 193.4M571 138.9L573.3 142.1M579.5 245.2L577.1 244.3M468.3 159.3L466.3 158.5M602.7 259.5L600.5 258.2M432.2 253.1L435.9 254.5M547.4 106.1L546 110.8M400.8 32.4L400 34.9M377.2 140.5L377 137.2M380.2 169.1L382.8 165.6M464.6 230.3L459.7 229.3M385.9 52.1L386.7 51.2M412 68.6L415.1 71.5M429.5 35L424.9 36.3M432.8 127.1L434.3 125.7M535.1 60L536.7 57.5M517.6 80.7L517.2 80.4M450.7 69.4L446.9 66.5M614.8 177.9L607.1 184.3M409.5 49.8L406.2 46.6M445.6 98.5L449.7 97.4M565.8 241L568.1 237.2M486.3 175.7L483.6 173.8M417.4 11.3L415.6 10M478.2 30.6L482.5 29.9M430.3 145.1L431.7 140.5M505 45.5L497.4 40.8M539.8 270.4L535.8 271.9M571.6 234.6L568.8 231.1M413.1 220.5L404.9 225.3M577.2 230.5L582 230.6M523.3 33.5L525.1 42.1M576.4 230.1L575.4 234.1M485.4 122.5L488.9 119.1M471.2 182.2L466.1 179.8M597.9 243.7L590.4 246.1M610.9 39.4L611 43.6M546.5 162.2L550.7 160.8M414.7 133.8L407.1 135.3M473 154L473.4 154.3M512.9 161.2L525.5 162.5M554.1 138.2L561.9 144.9M440.6 132.2L440.9 128.1M398.1 23.2L398.2 27.7M618.1 148.6L612.4 147.6M443.6 116.9L446 113.3M564.7 80.7L569.4 81.8M498.9 103.8L503.6 104.3M566.9 117L568.4 116M440.6 75L437.8 77.3M426.7 188.4L426.3 185M515 128.4L510.9 125.5M501.3 189.2L495.2 188.8M397.4 103.6L393.1 103.4M509.2 17L508.6 20.3M519.6 88.8L519.4 90.4M445.4 12.6L443.5 15M527.3 235.6L523.8 237.5M383.1 50.2L383.7 49.1M546.5 104.3L548.6 94.1M505.2 108.7L503.5 106.5M582.2 199.7L584.9 202M388.8 211.1L388.8 205.5M542.8 142.1L547.1 143.8M583.9 54.4L583.9 58.9M511.8 237.1L516 238.8M503.6 95.9L507.9 94.4M423.3 89.3L418.7 86.9M505.8 245.9L502.4 246.8M525.2 110.7L524.5 113.9M470.8 265.4L469.7 269.6M598.4 256.8L600.5 258.2M382.1 181.7L379.3 184.5M500.8 177.1L499.6 173.5M587.1 251.7L589.9 255.5M472.1 206.9L470.5 207.9M510.1 95.3L513.3 98.5M452.9 78.3L449.3 76.5M580.1 270.3L576.8 270.7M402.7 145.4L405.3 143.6M466.8 117.4L465 122M596.8 137.5L594.6 135.8M546 41.3L552 44M437.3 25.8L433.4 26.9M600.2 238.5L602.7 229.1M572.2 170.3L568.8 172.6M446.5 255.6L444.5 252.9M478.1 181.3L476.6 184.2M486.1 156.3L483.6 156.1M620.1 164.9L621.1 161.1M472 43.9L469.2 43.9M379.3 184.5L383.8 186.4M528.2 98.4L524.2 95.9M464.4 204.8L468.9 203.4M619.3 227.8L617.5 228.4M557.5 218L561.8 215.2M439.2 142.1L437.8 146.7M428.5 80.8L425.9 77.2M447 263.4L447.9 263.3M538.9 103.6L543.8 102.5M618.3 10.4L622.6 10.4M404.2 89.6L408.1 91.6M391 94.6L396.9 104.4M577.8 222L568.8 213M459.4 60.6L459 64.6M418.3 108.6L418.4 110.6M381.4 75.1L384 78.4M425.5 100L429.8 101.5M458.7 222L457.1 225.5M611.8 172.1L609.7 170.1M416.8 190.5L412.2 195M530 75.5L527.5 73.9M597.5 214L596 218.1M417.5 6.6L420.7 6M522.8 11.3L522.2 10.6M411.8 113.6L411.6 111.6M616.7 61L624.5 64.3M504.4 189.1L512.1 181.9M532 107.8L529.2 111.1M550.7 108L549.1 111.7M396.2 177.5L401.4 176.6M622.2 44.5L615.8 40.4M481.5 236.9L485.6 233.7M538.4 249.1L541.9 245.9M541.9 204.9L543.4 209.9M389.6 237.9L394 245.4M483.7 242.4L485.9 244.4M527.4 146.2L524.8 149.3M604.1 105.2L605 102.1M613.6 210.1L616.8 207.3M503.3 49.5L507.4 48.8M452.3 17.5L451.2 14.9M507.1 157.9L503.2 151.1M488.4 59.5L484.2 58.7M498.3 146.7L501.6 143.6M613.2 60.3L618 59.3M397.5 204.7L395.7 211.4M503.6 174.1L502.5 172.5M451.8 255.8L454.3 252.8M459.2 76.7L460.5 74.2M552.7 73.6L556.3 75.1M397 135.5L384.4 133.6M412 50.2L421.7 43.3M413.6 140.8L416.6 131.2M395.9 235.8L393.3 237.9M441.1 160.9L439.4 161.9M610.8 122.6L608.2 126.6M510.5 19.4L508 15.5M467.7 252.1L467.6 254.3M390.7 114.8L388.6 110.6M503.5 206.4L508.1 195.2M482.6 185.8L480.5 186.5M617.6 49.9L616.9 45.5M600.1 33.7L596.3 35.2M406.5 20.9L403.3 19.9M385.3 23.1L385.9 23.5M410.4 10.9L397.5 6M452.2 62L452.6 58M385.1 261.4L381.2 259.7M408.8 171.4L410 167.8M580.6 32L581.7 38.4M502.1 112.7L497.4 112.2M562.2 89.5L563.9 90.8M432.8 71.9L432 73M422.3 193.1L425.1 191.5M535.4 127.6L534.1 123.5M588.4 32.4L597.4 25M563.8 241.5L551.3 245M499.8 126.6L512.8 122.9M489.8 233.2L490 235.9M549.7 48.7L543.4 52.7M537.6 63.8L534.1 69.5M471.2 67.3L472.3 62.8M473.7 212.7L477.6 210.8M579.2 207.9L580.5 206.3M608.1 15.5L608.1 11.4M430.5 68.4L430.9 63.9M473.6 255.3L474.7 259.5M384.4 133.3L382.5 132.2M467.2 249.6L470.2 246.5M397.1 155.7L396.2 159.8M592.6 221.1L590.8 220.1M525 126.7L525.1 130.3M491.8 137.2L489.4 134.2M399.3 212.1L410.7 213.1M580.8 136.3L584.5 139.3M474.7 121.4L471.1 124M383 239.4L383.6 234.9M616.9 45.5L611 43.3M598.3 11.3L601.9 12.3M584.9 202L583 204.1M574.8 109.4L578.9 108.9M592.7 75.7L592.2 79.3M414.2 79L419 79.6M558.1 203.3L558.4 199.2M377 110.1L377 107.4M414.1 252.4L417.1 248.9M522.3 188L524.3 191.8M459.2 76.7L460.4 78.1M412.6 161.3L412.4 165.4M384 149.2L388.3 147.8M394.7 182L396.2 177.5M561.2 25.6L562.8 30.4M620.7 208.6L621.5 212.8M447.7 130.3L455.3 122.5M578.7 79.5L576 77M401.8 109.7L404 108M462 79.9L459.2 76.7M521.8 131.1L519.6 133.2M422.9 206.1L424.5 206.6M497 259.8L500.5 260.1M562.2 86.2L561.1 82.9M411.1 70.2L407.2 70M459.7 212.8L464.1 215.2M405 223.1L406.8 226.5M618.2 258.1L615.3 255M610.9 39.4L616 40M497.9 80.1L498.3 79.8M383.1 196.7L384.8 197.2M483.6 156.1L480.4 152.9M503.8 252.1L506.9 250.2M590.4 246.1L589.6 251M497.8 87.2L495 85.9M542.5 245L542.8 241.7M561.2 217.4L558.1 223.7M567.6 102.8L565.4 116.1M528 78.1L524.5 81.1M597 201.6L595.8 212.4M474 156.5L473 154M396.2 177.5L392.9 174.2M414.2 79L413.9 75.8M606.6 62.2L607.9 65M614.1 201.6L614.6 198.4M440.4 198.9L439.4 194.4M529.6 110.5L531.6 107.2M591.7 139.3L589.2 138.9M456 127L454.7 132M618.2 258.1L617.7 260.4M535.9 108L535 109M583.5 141.8L588 142M398.4 136.1L402.3 135.3M613.5 172.5L617 175.9M416.2 252.8L413.8 255.9M453.2 87.4L449 86.5M473.7 132.6L476.9 130.9M428.9 164.9L427.7 161.7M524.8 149.3L524.1 148.4M414.9 119.7L416.1 117.4M575.5 236.2L575.8 234.3M604.1 271.5L596.4 260M405.8 80.5L403.9 79.7M520.5 149.7L518.7 147.1M429.4 107L430.3 102.1M404.6 233.9L400.9 237.3M496.7 64.8L496.9 64.7M546 108.4L549.2 106.4M439.5 15.1L439.7 18.4M616.6 129.4L617.8 127.7M398.1 159L403 157.4M435.4 120.7L434.3 125.7M403.3 153.1L405.4 150.5M597.4 19.5L596 14.9M438.2 163.4L441.1 160.9M582.9 24.8L579.8 20.6M566.8 30L568.6 32.8M411.3 250.1L409.4 250.2M519.9 255.7L520.8 250.8M397.5 42.3L394.7 46.6M616.9 14L618.3 23.3M523.5 242.2L521.6 239.8M486.3 175.7L484.9 181.3M404.2 247L408.5 248.3M471.4 184.9L480.2 175.6M475.3 129.2L476.9 130.9M438.8 167.5L438.2 163.4M447.5 26.7L447.2 30.1M507.2 237.5L505.6 229.2M468.1 259.3L463.1 258.4M499 25.2L495.6 26.2M460.5 195.5L460 191M388.6 110.6L391.7 106.9M503.8 99.3L506.6 104.3M602.4 120.4L607.2 122.9M614.1 201.6L609.9 204.8M595 33.9L594.3 32.1M575.7 53L572.1 51.6M467.5 271.8L466.4 269.9M577.1 244.3L578.2 240.7M492.4 123.2L488.9 126.6M601.4 64.8L602 62.3M550.7 195.7L549.7 192.7M482.8 149.7L490.2 137.9M571.4 153.2L571.7 149M447 268L447.9 263.3M382.2 63.3L378.1 64.4M524.8 149.3L520.5 149.7M623.2 24.3L615.5 30.9M397.1 110.9L401.8 109.7M557.6 262.3L560.4 258.8M553.5 102.2L548.1 93.3M581.9 244.1L586.5 242.6M462.7 129.8L462.9 125.4M595.5 94.5L591.1 92.9M457.4 157.3L461.1 152.3M583.2 78.2L587 81.7M409.7 18L406.5 20.9M618.5 22.4L618.3 23.3M468 131.7L476.2 130.4M432 163.5L428.9 164.9M435.4 24.9L437.3 25.8M472.3 99.4L462 104M424.5 206.6L422.9 206.1M385.1 93.1L388.1 96.6M397.3 242.3L400.7 242.7M576.5 124.8L578.2 129.1M533.1 206.9L536.7 203.4M568.3 138.9L562.9 145.8M503 69.9L505.4 75.8M541.7 252.7L544.5 254.9M399.8 76.4L399.1 75.7M568.1 26.8L563.4 24M614.5 99L617.3 100.1M425.8 210L424.5 206.6M482.6 148.2L479.7 150M414.5 250.3L416.2 252.8M525.5 248.8L523.4 250.1M552.2 155.9L551.8 142.3M619.2 156.2L618.5 154M535.4 133.1L535.1 136.7M540.4 41.2L544.2 44.1M404.9 199.1L409.5 187.4M563 61.4L562.7 60.6M574 164.4L571.3 176.9M584.7 266.7L585.3 264.4M545.9 254.5L546.8 258.4M462.3 191.7L462.5 196.8M563.4 222.5L561.5 223.6M432.3 35.6L434.9 31.4M609.4 196.2L609.2 195.6M596.7 216.1L595.3 211.8M387.1 151.4L386.5 148.5M383.8 186.4L384.7 189.1M380.4 196.2L377 191.1M549.9 240.2L549.6 243.5M625.9 165.3L627 171.1M508.1 65.7L509.1 66.2M473.4 158L485.1 165.5M403.3 19.9L403.4 16M454.2 175.5L454 171.1M429.3 42.9L426.4 46.1M590.8 112.5L579.6 118.5M550.5 83L548.6 87.1M524.5 113.9L520.3 115.1M596.9 130.5L599.5 127.9M508.5 268.6L508.1 272M380.8 140.1L379.5 139.1M434.6 76.5L434 75M442.9 21.7L445.2 27.5M438.7 212.8L440.4 208.5M542.8 117.5L547 115.7M618.9 264.1L620.9 267.9M586 47.3L587 51.4M555.8 34.6L554.2 29.8M561.8 215.2L557.5 218M434.3 125.7L438 127.3M490 235.9L485.9 239.1M398.3 129.5L395.5 126.5M444.7 255.2L446.5 255.6M503.2 159.2L507.1 157.9M593.8 190.6L590.2 193.3M405.6 66.3L407.9 62.8M566.7 112.8L568.4 116M529.7 245.7L527.1 246.5M516.4 195L514.4 191.2M594.3 148.7L597.6 150.5M608.1 15.5L603.3 16.9M409.5 252.7L408.1 254M535.2 191.3L537.7 191.9M578.8 163.5L579.1 167.5M387.3 41.7L382.2 41.5M596.8 187.1L593.5 189.3M529.6 195.7L526.1 197.4M447.9 250.2L441.8 256.8M579.4 220.1L582 224.4M378.8 213.4L380.8 209.5M406.5 74.2L407.7 69.9M605 198.8L609.2 195.6M509.3 260.1L510.9 256.5M622.4 176.6L622.6 181M530.7 183.5L533.3 181.6M433.4 148.2L430.3 145.1M458.6 146.2L454.4 144.5M534.1 69.5L537.7 71.6M589.5 67.2L585.4 61.5M478.2 226.5L482.9 227.8M588.1 240L584.2 238.7M463.1 209.8L464.4 204.8M421 239.4L425.8 239.1M485.9 77.2L488.7 74.3M557.2 269.4L557.9 265.5M454.7 198.8L464.9 197.7M608.8 85.8L600.4 89.6M615.7 17.3L613.9 17.3M578.8 101.2L573.7 99.7M424 40.8L425.8 39.5M613.5 269.3L612.3 267.8M611 43.6L607 45.5M623.7 166.2L620.1 164.9M493.5 58.9L496.9 61.5M488.3 40.2L492.2 41.4M527.4 144.1L525.6 143.6M555.4 33.2L552.8 37M523.4 72.6L524.1 65.9M394.5 30.1L390.5 28.1M609.8 72.2L612.8 72.3M588.5 259.3L584.2 259.3M463 46.6L466.7 47.4M567.9 58.9L566.4 67.2M429.3 197.6L425.9 195M568.4 116L566.9 117M479.2 91.4L478.3 94.3M545.8 124.4L545.7 126.4M470.8 132.1L459.3 129.9M565.4 242.7L565.8 241M508.4 7L521.8 10M455 262.6L457.7 259.7M444.3 25L441.1 29.3M476.3 40.8L481 39.7M542.5 96.7L549.7 92M444.4 99.4L442.7 103M409.3 20.8L412 17.1M379.1 180.6L378.8 175.8M394.7 182L392.2 179.9M435.3 12.9L439.5 15.1M579.8 20.6L581.9 16.2M459.8 141.4L464 143.1M537.7 191.9L542.6 189.9M615.4 154.9L615.2 152.2M441.2 216.1L438.7 212.8M441.1 29.9L444.4 26.6M555.4 81.8L551.8 80.3M539.9 227.3L539.3 226.6M457.4 157.3L458.8 152.2M439.5 70.5L440.6 75M524.8 149.3L527.7 153.5M604.6 59.8L606.6 62.2M582.6 152.3L583.2 149.4M562 183.9L560.3 179.9M415.1 113.1L416.1 117.4M429.3 200.5L429.3 197.6M469.9 125.8L480.2 122.5M417.3 214.4L418.7 214.3M455.7 104.2L456.8 109.7M586.4 64.8L588 61.9M598.4 24.5L592.5 15.7M577.6 125.3L576.8 120.6M519.3 27.3L518.1 23.7M496.7 64.8L499.6 61.4M576 101.4L574.3 98.2M427.5 48.1L424.3 51.9M481.5 236.9L483.2 231M606.1 256.7L602.7 259.5M566.5 93.7L570.7 92.3M413.9 75.8L409.6 77.2M460.8 82.2L457.2 84.3M407.1 34.2L415.5 37.1M606.9 150L608.8 147.4M511.6 229.6L503 219.1M519.6 133.2L520.9 137.7M587.9 41.2L590.2 43.8M399.9 100.8L403.9 98.5M513.5 219.2L513.7 223M611.6 229.5L615.4 227.6M511.2 120.5L511.2 123.1M537.5 75.6L533.7 77.6M400.4 172.5L397.9 167.8M408 100.9L407.8 104.1M506.8 63.6L509 62.1M598.8 65.3L602 62.3M564.6 36.3L564.9 31.7M555.1 137.5L554.7 140.3M406.2 46.6L407.7 48.8M409.4 250.2L408.5 248.3M380.6 51.6L377 49M584.7 266.7L581.9 265.6M610.1 262.2L613.9 260.2M623.9 135.7L620.1 134.9M484.9 175.4L486.3 175.7M410.3 120.6L410.6 116.9M421 156.3L418.5 152.1M560.8 122.9L563 118.5M447.5 26.7L445 24.6M617.7 179.4L618.4 180.3M622.2 36.7L625.3 48.9M436.4 139.4L433 138.7M518.2 241.6L515 243.7M463.9 113.6L466.8 117.4M574.4 82L582.4 80.5M612 156.4L608.5 154.4M381.7 113.5L384.2 117M581.2 249L581.9 244.1M543.3 45L539.7 43.4M384.6 173.4L384.9 178.1M618.4 122.8L606.2 116.5M438.3 209.3L434.3 209.9M477.3 95.9L480.6 95.2M466.9 224.9L464 221.2M464.4 116.3L468 117.1M620.5 111.3L622 114.1M418.8 95.6L420.5 98.6M578.8 49.1L581.9 46.2M495.9 134.9L494.8 122.8M472.2 15.3L476.4 14.5M395.3 144.2L392.3 145.1M408.3 207.8L413.3 207.8M496 213.5L500.1 211.5M438 127.3L441 122.8M571 115L574.8 117.6M598.7 121.7L602.4 120.4M479 156.8L485.8 160.4M442.9 21.7L439.4 21.4M433.1 246.6L430.7 249.7M576.5 124.8L577.6 125.3M461.9 222.8L457.5 220.4M386.7 174.7L382.2 173.6M519.2 242.4L516 238.8M541.9 245.9L546.7 247.3M418.7 224.6L419.8 226.3M567.4 230.2L568.8 231.1M446.8 209.6L450.5 208.1M412.9 99.7L415.7 100.9M446.9 172.9L449.6 169.4M592.5 187.5L592.4 186.3M431.7 169.8L426.9 170M560.9 92.4L562.2 89.5M619.5 212.4L618.3 215.7M569.9 51L569 47.4M437.6 116.6L433 113.2M510.3 216.9L512.2 214.6M534 228.1L539.9 227.3M609.4 216.9L607.2 213M622.6 23.2L618.5 22.4M398 194.5L401.2 196.7M531.5 215.7L533 213.4M388.1 254.7L392.1 251.8M416.4 208.1L428.9 205.6M479.1 207.2L478.5 203.7M399.8 76.4L393.9 75M389.4 54L391.5 57.7M484.2 58.7L481.2 61.5M450.7 62L453.9 64.1M452.2 62L453.9 64.1M604.1 105.2L597.3 104.5M566.6 162L563.2 159.4M392.5 11.3L393.1 13.5M443.7 101.2L445.6 98.5M443.7 64.5L445.6 62.2M452.3 73.6L450.4 79.2M492.2 53.9L488.8 53.2M414.3 48.6L417.6 49.4M377 107.4L378.8 105.2M586.3 97L589.4 100.7M563.3 21.1L559.8 17.6M613.2 60.3L608.5 58.4M483.2 79.1L481.3 78.5M406.9 13.5L408.2 10M611.7 69.7L608.5 73.1M520.1 207.2L521.6 203.3M525.5 248.8L529.4 251.7M397.3 56.1L403.5 68M567.6 23.9L562.3 19.1M382.9 182.8L378.4 172.2M510.1 11.1L514.8 10.7M545 129.9L540.5 129.5M414.1 252.4L416.2 252.8M438.3 120.8L437.6 116.6M492.1 93L488.7 89.9M470.8 239.4L473.9 230.7M463.9 237.1L466.7 237M451.4 116.7L450.6 116.6M393.8 214.5L392.7 213.8M522.3 188L523.5 185.2M390.3 212.4L391.1 209M499.3 252.1L498.2 247.8M510.5 44L512.9 47.3M618.1 79.2L616.7 81.6M438.7 252.7L441.2 256.3M419.8 134.8L416.9 133.6M466.2 123.7L465 122M448 211.8L446.8 209.6M478.2 242.8L471.8 232.3M491.5 56.7L488.4 59.5M481 39.7L483.4 42.8M462.9 24.8L461.5 28.2M467.8 155.5L471.3 153.4M481.1 70.9L484 72.8M609.7 170.1L609.8 165.7M507.8 238.5L509.3 242.3M377 76.1L377.6 73.9M612.4 147.6L614.9 152.1M556.7 206.3L549.8 210M399.2 252.4L398.3 256.9M428.8 46.1L426.4 46.1M419.9 191.7L419.8 193.4M399.9 103L409 99.8M498 218.6L499.8 223.4M406.6 120.3L406.5 119.7M607 45.5L603.1 43.3M378.1 64.4L377 62M598.7 66.7L600.1 68.2M425.4 31.3L435.3 35.8M499 30.3L505.1 19.5M406.7 230.4L404.7 230.9M447.3 99.6L442.2 110.6M448.9 70.6L450.5 66M428.3 224.1L434.4 219.2M394.2 187.2L398.3 190M408.5 175.9L404.2 178.7M535 15.9L535.7 10.9M548.2 174.5L551.2 171.6M571.4 35.8L562.2 33.5M517.2 141.3L512.3 140.3M615.4 73.7L611.7 69.7M437.4 21.8L437.3 25.8M611 255.5L614.9 255.6M403.6 23.8L404.5 25.9M589.5 81L587.7 81.6M527.5 73.9L530 75.5M468.4 154.3L464.3 154.9M432.8 167.2L431.7 169.8M382.5 133.2L383.5 136.4M524.5 81.1L520.4 79.8M431.2 114L441.1 119.1M613.9 13.2L615.5 12.2M610.9 39.4L609.1 38.7M539.6 105.8L537.5 108.3M417.1 248.9L411.3 250.1M507.1 157.9L512 159.4M382.1 79.2L385.8 77.9M450 262L451.1 265.4M613.3 108L610.6 107M530.1 117.8L533.1 121.3M464.8 35.6L465.2 36.5M413.6 57.1L411.6 61.8M609.9 232.3L611.6 229.5M616.8 264.2L617.4 255.7M508.1 65.7L510.5 69.1M466.9 222.9L466.9 224.9M541.9 65.1L537.6 63.8M503.6 174.1L501 170.7M382.6 15.8L384 9.1M396.3 140L395.3 144.2M420.3 119.2L424 118.7M432 39.8L430.5 38M388.4 20.7L390.1 21.6M424.6 41.3L415.6 38.4M477.9 116.8L475.5 108.1M584.5 144.3L580.8 146.3M428.3 6.7L427.8 15.3M419.1 176.6L414.4 189.3M579.8 53.3L577.3 55.7M528.5 256.5L523.7 258.6M458.4 98.9L458.9 101.6M437.2 31.4L436.8 35.5M458.4 225L462 221.8M389.3 25.3L386.8 28.1M498.3 180L500 184.4M597.4 12.6L608.1 15.5M478.1 79.8L483.2 79.1M395.9 237.1L382.8 233.5M591.3 166.8L592.4 171.3M398.8 80.2L400.3 82M456.5 218.4L458.7 222M525.7 143.9L527.4 133.3M571.2 234.4L571.6 234.6M601.1 242.8L597.9 243.7M583.2 124.7L573.2 127.6M589.5 135L592.4 131.5M535.4 242.1L535.9 246.4M621.1 161.1L619.2 156.2M579.4 220.1L581.2 216.9M400 34.9L400.8 32.4M456.9 9.9L458 12.5M557.7 75.9L556.3 75.1M594.5 67.3L589.6 67.5M434.3 39.8L436.5 40.5M580.5 206.3L583 204.1M614.6 198.4L614.1 201.6M435.4 120.7L431.6 121.9M400.1 149.4L409.6 140.5M595.7 238.6L596.3 241.7M424.5 164.8L425.9 164.5M574.4 259.6L577.3 262.5M446.7 135.3L433.2 134.9M579.6 217.3L569.2 217.9M389.3 171.2L386.7 174.7M592.2 218.1L595.2 216.5M580.7 256L583.6 258.4M514.3 199.7L509.3 198.4M523 210.5L520.1 207.2M386.2 182.3L384.9 178.1M466.1 148.6L469.3 151.1M589 225L589.9 229.2M572.1 51.6L569 47.4M500.5 11.5L500.4 17M511.8 237.1L511.6 240.1M403.4 16L406.6 13.1M568.4 37.4L566.4 39.1M440.6 46.1L446.9 48.7M386.8 28.1L385.1 27.2M590.8 86.8L586.6 84M481.3 228.8L480 226.1M613.1 35.5L618 37.2M480.4 152.9L479.7 150M402.9 251.1L415.3 256.4M454.9 226.4L466 229.4M435.9 254.5L436.7 258.9M504.3 132.5L515.4 127.1M613.7 217.4L609.4 216.9M384 149.2L380.8 149.3M583.1 242.3L581.9 244.1M627 107.2L627 109.6M387.7 157.7L388.7 153.6M538.6 46.8L537.6 42.6M571.4 265.6L570.9 260.9M394.7 46.6L389.6 46.3M407.9 62.8L411.7 63M618.5 154L615.4 154.9M610.6 109L614.1 109.3M471.4 146.6L462.5 145.1M597.6 184.5L596.8 187.1M559 16.8L555.8 16M616.9 45.5L620.3 42.8M589 190.2L592.5 187.5M379.7 110.7L377 110.1M544.2 44.1L545.2 48.3M616 36.8L620.2 35.8M411.9 148.7L409.4 150.5M398.9 67.5L399.3 71.6M466.2 123.7L467.5 123.2M590.2 43.8L588 46.6M466.2 123.7L469.3 126.3M517.6 80.7L519.6 83.9M594.3 148.7L595.1 148.7M488.7 74.3L492.4 75.5M587.9 125.9L590.5 121.9M427.7 190.6L431.1 193.3M430.5 38L432 39.8M575.9 63L575.6 67.5M577.8 270.5L588.5 267.7M484.6 76.8L485.9 77.2M492.7 159.2L490.8 155.9M548.8 19.4L549.4 23.9M572.2 170.3L575.7 170.8M532.2 144.1L527.4 144.1M391.4 270.6L386.4 271.9M587.4 231.7L584 230.2M377 103.3L377 98.8M382.3 268.8L383.2 264.4M609.7 170.1L612.5 167.6M520.3 183.3L530.4 183.7M567.2 31L562.8 30.4M517.4 109.9L521.2 109.3M574.3 220.2L579.4 220.1M533 213.4L535.9 210.1M432 39.8L430 43.1M601.2 155.6L595.7 151.1M442.9 38.5L446.9 38.6M424.5 206.6L426.2 201.9M551.1 44.9L562.4 42.5M521.9 152.6L524.1 148.4M398.2 27.7L394.5 30.1M535.9 246.4L538.4 249.1M471.2 267.3L470.8 265.4M383.1 50.2L385.9 52.1M523.4 250.1L525.5 248.8M467.8 155.5L468.4 154.3M462 149.2L466.1 148.6M383.2 205.2L380.8 209.5M440 14.1L443.6 14.4M411.2 224.5L412 221.1M409.5 49.8L410.3 52.9M562.1 202.8L552.5 193.5M380.5 57.5L383.4 59.9M503.5 106.5L506.6 104.3M531.5 10.9L535.7 10.9M393.8 214.5L395.7 211.4M499.8 222L495.8 218.7M594.3 32.1L595 33.9M454 253.4L451.3 255.9M517.3 14.7L514.5 11.3M540.4 169L552 168.3M509.6 225.6L505.3 224.3M456.7 163.9L461.3 162.2M435 189.6L431 190.7M471.5 232.6L474.6 232.5M578.8 101.2L581.1 97.3M409.4 150.5L411.1 155.5M613.3 108L614.1 109.3M616.7 171.6L611.8 172.1M534.5 140.4L532.2 144.1M618.4 157.6L622.6 157.7M377 185.2L379.3 184.5M535 109L532.7 105.3M479.6 164.6L466.7 160.1M400.9 211.3L404 214.3M540.4 8.8L540.8 6M582.9 223.4L582.9 218.1M457.5 220.4L456.3 215.4M504.3 21.7L500.9 31.9M517.9 243.3L521.6 239.8M408.1 91.6L408.9 94.9M486.1 64.2L487.5 69.1M482.9 213.1L483.8 210.2M475.4 180.3L478.1 181.3M513.3 219.3L513.5 219.2M583.9 80.4L584.4 76.9M399.8 27.5L398.6 31.7M513.8 203.9L512.2 207.8M481.2 203L483.3 201.3M435.7 68.2L439.5 70.5M469.3 151.1L468.4 154.3M513.7 211.9L512.2 214.6M551.4 189.4L549.7 192.7M505.2 118.1L509.4 119.6M469.3 151.1L474.4 150.4M467.7 252.1L467.2 249.6M486.6 269.5L498.3 262.9M481.3 157.2L485.9 159.4M505.1 82.9L500.5 83.5" stroke="#9a980e" stroke-width="2.5" fill="none" stroke-linecap="round"/>
<path d="M412.3 195.4L415.2 191.5M553.9 226.7L553.6 229.1M451.3 255.9L446.5 255.6M620.2 241.2L622.1 231.8M420.5 13.5L417.4 11.3M535 151.1L532.9 142M454.2 227.7L466.7 222.7M513.3 219.3L510.3 216.9M520.3 35.5L517.5 31.7M399.4 100.1L397.4 103.6M612.3 267.8L610.8 265.4M596.7 216.1L597.5 214M426.9 170L423.3 167.4M551 114L549 103.1M546.4 64.8L542.8 62.6M479.4 210.8L474.3 210.9M561.6 268.5L559.9 265.5M540.5 231.6L539.9 227.3M612.4 33.8L612.9 37.6M490 62.8L490 59.6M620 175.8L622.4 176.6M386.2 18.4L386 16.4M401 90.9L404.2 89.6M519.4 206.3L528.7 216.7M473.9 263.7L471.7 259.9M545.8 124.4L542.3 121.8M612.3 267.8L613.5 269.3M452 66.3L450.5 66M433.8 262L433.5 260.4M401.8 188.4L389.4 190.7M550.5 118.2L549.9 122.6M382.1 79.2L382.8 80.5M416.2 187.3L418.7 187M445.6 62.2L450.7 62M580.2 264.8L580.5 261.4M482.7 38.8L478.4 39.6M545.8 200L545.7 203.5M436.4 130.8L439.8 131.5M549.9 177.5L548.2 174.5M410.8 84.8L410.1 81.6M446.2 129.8L449.5 128.2M623.4 94.6L626.4 97.4M619.4 27.7L616.4 32.1M464.1 266.2L460.5 269.9M554.2 62.9L554.6 60M440.9 128.1L440.1 130.4M561.4 51.3L559.4 48.9M554.9 25.5L556.9 25.3M557.1 247.3L567.5 239.5M546.6 237.4L548.8 234.6M403.5 231.5L391.5 238.6M380.8 140.1L377.2 140.5M608.8 147.4L607.2 143M456.8 91.8L454.3 91.3M432.9 70.5L435.7 68.2M604.9 269.1L605.9 266.8M546.4 64.8L546.6 66.1M602.3 196.9L599.1 198.4M537.7 71.6L537.5 75.6M437.2 132.4L444.5 133M482.9 227.8L483.2 231M461.4 200.2L463.2 203.1M380.8 149.3L381.4 155.8M426.8 68.1L430.5 68.4M477.7 65.8L477.7 66.7M580.5 131.5L588.6 124.9M543.8 147.4L541.1 143.9M418 238.7L406.3 232.8M466.3 236.8L463.2 236.9M574.4 247.5L577.3 251.4M613.9 260.2L610.1 262.2M538.7 82.9L540.8 77.8M597.7 87.5L598.8 91.8M566.1 129.7L566.2 134.4M377.5 114.3L381.7 113.5M598.4 256.8L601.2 261M515.7 102.1L520.2 100.9M574 247.3L574.4 247.5M415.2 42.6L411 42.1M463.4 145.5L462 149.2M379 79.3L377 76.1M620.1 42.1L616 40M590.8 220.1L592.2 218.1M386.1 120.8L396.7 122.6M578.4 204L575.7 201.7M574 161.4L573.5 156.6M435.7 165.6L432.8 167.2M413.8 255.9L409.8 256.5M614.4 65.3L611.4 63.3M477.8 158.4L481.3 157.2M421 239.4L418.7 243.1M417.8 164.6L422.1 162.6M411.1 25.3L409.3 20.8M495 157.6L496.3 158.6M409.5 29L405.5 30.4M604.9 269.1L605.5 264.4M550.7 195.7L555.2 198.6M521.5 86.5L524.3 91.4M443.1 120.6L441 122.8M497.1 183.6L500 184.4M509.2 217.9L513.5 219.2M460.4 255.5L462.6 253.4M555 203.9L550.2 206.3M601.5 88.1L604.5 91M469.3 126.3L469.2 130.7M482.5 209.8L479.1 207.2M602.4 221.6L597.8 222.3M549.2 13L553.5 12.3M420.2 230.1L420.9 228.3M434.1 244.2L433.4 248.6M481.2 203L484.6 205.6M597.2 196.8L593.6 193.8M432.3 67.3L429.3 76.1M399.8 27.5L396.3 24.6M483.8 210.2L487.2 207.6M484.9 140.5L481.5 140M615.2 152.2L618.1 148.6M444.6 162.6L445.3 166.7M475.8 90.6L479.2 91.4M465.2 36.5L464.8 35.6M478.9 272L473.7 271.7M498.5 43.1L498.4 33.1M510.1 95.3L508.1 97.8M423.8 10.9L420.5 13.5M506.5 147.9L503.2 151.1M573.6 226.6L574.7 222.2M488.5 93.1L494.2 82.7M492.4 75.5L493.2 79.6M612.4 33.8L612.3 32.2M405.2 123.6L402.1 124.9M599.6 108.7L609.3 107.9M496.9 64.7L493.5 65.3M594.3 173.6L595.8 171.5M603.2 124.3L604.3 135.4M619.7 206.9L616.1 194.6M568.9 158.5L572.5 151.7M569.7 238.7L574.5 239M517.7 103.8L515.7 102.1M478.5 137.9L488.2 145.5M574.4 259.6L574.9 264.3M424.9 36.3L428.7 36.3M611.4 65.9L611.7 69.7M382.7 41.2L385.5 33.9M420.7 6L423.8 6.2M436.2 221.1L436.8 220.1M506.7 137.7L502.4 129.8M618.1 148.6L621.2 147.8M587.2 106.7L578.6 100.1M426.3 56.8L425 50.9M432.6 204.5L437.4 206.6M486.2 247.6L482.8 251.6M501.6 143.6L501 140.6M560.3 179.9L557.5 174.7M488.3 40.2L487.1 36.7M395.7 166.5L392.2 166.4M517.2 80.4L520.3 82.3M602.6 171.1L602.2 174.2M534.4 216.9L532.3 216.8M568.6 252.2L570 247.9M473.7 116.7L468 117.1M453.5 198.1L453.6 196.9M524.3 91.4L525.2 94.8M390.7 156.4L386.3 157.8M496.3 158.6L495 157.6M584.6 85.5L587.2 87.7M576.8 120.6L579.6 116.5M576.1 249.6L573.6 246.1M604.5 127.8L599.5 127.9M438.3 244.3L435.5 247.7M471.1 124L467.5 123.2M619.9 83.8L618.1 79.2M466.7 20.9L464.4 28.3M530.9 171.2L532.4 172.9M387.7 38L390 37.5M405.9 211.5L408.3 207.8M578.5 19.5L570 20.4M491.2 160.8L495 157.6M431.6 121.9L430.1 118.4M491.2 179.6L486.6 178.1M386.7 51.2L383.7 49.1M544.9 216.6L543.1 221.3M529.6 195.7L531.1 193.2M388.1 96.6L386.4 98.3M513.7 211.9L509.7 215.4M413.6 220.3L410.6 219.5M572.1 70.7L568.7 69.4M388.7 153.6L390.7 156.4M589.2 138.9L589.5 135M445 24.6L442.9 21M511 135.8L509.8 131.8M473.8 137.4L473.7 132.6M458.6 8.3L460.7 6M593.6 129.4L589.4 129.7M436.2 221.1L432 221.9M588.4 265.9L594 266.2M495.8 218.7L496 213.5M564.9 31.7L562.8 30.4M460.5 269.9L455.6 268.5M439.7 18.4L437.9 17.6M581.9 261.6L577.2 252.7M567.8 58.2L567.6 62M518.4 233.5L511.6 240.9M435.7 102.2L439.3 102.6M471.4 40.2L472 43.9M503.3 17.5L511.5 10.1M543.4 209.9L548.5 211.3M506.8 50.6L512 45.5M427.2 96.5L431.7 105.8M530.4 188.3L530.7 183.5M511 135.8L514.6 132.2M463.4 207.3L464.4 204.8M616.7 104.6L613.3 108M592.1 223.4L587.5 226M490 37.3L493.8 34.9M607 45.5L607.1 52.2M413.1 242.7L414.5 243.4M494.3 8.4L498.3 6.2M561.4 51.3L560.2 48.2M604.7 69L607.9 65.5M553.4 22.7L554.5 18.2M410.8 160.4L411.1 155.5M431 190.7L426.7 188.4M419 79.6L419.6 82.9M608.1 11.4L611 10.3M617.7 179.4L620 175.8M536.7 57.5L541 58.8M420.5 73.3L417.9 69.4M498.3 79.8L500.7 75.5M594.9 187.7L593.8 190.6M442.4 155.4L442.8 158.8M491.1 48.9L492.5 47.3M449.8 133.3L446.2 129.8M383.7 49.1L384.3 45M548.8 234.6L553.2 234.8M528.3 173.9L523.1 173.1M603.9 208.6L605.2 212.9M596.3 35.2L594.3 32.1M419.8 226.3L423.7 223.8M582.8 25.5L583.3 28.6M613.9 13.2L613.9 17.3M436.1 83.2L439.8 80.4M508.8 125.2L504.6 123.7M407.5 127.1L405.2 123.6M467.8 242.3L464.4 239.8M540.8 77.8L541.8 81.3M555 150.6L549.7 147.3M528.1 231.7L527.3 235.6M471.7 204.8L476.8 204.8M517.7 73.8L519.8 77.2M412 17.1L416.7 17.8M537.8 222.2L534.3 218.4M487.5 69.1L484 72.8M403.7 72.7L406.8 62.4M463.1 178.9L462.9 174.5M612.2 136.7L616.4 137.5M413 236.3L411 229.5M394.8 174L407.6 176M451.2 14.9L453.5 11.1M397.9 167.8L395.7 166.5M463.4 145.5L458.6 146.2M461.1 152.3L462 149.2M412.6 8.3L415.6 10M575.8 234.3L575.5 236.2M435.2 264.6L439.6 261.3M385.8 77.9L389.6 79.9M384.9 176.2L377 170.3M537.8 222.2L537.2 223.1M384.9 231.8L380.4 233.5M402.5 255.9L398.3 256.9M385.4 14.3L388.6 11.8M444.5 200.2L441.8 202.7M422.6 248.7L427.7 249.2M575.6 67.5L579.3 68.9M428.5 104.1L420.7 109.9M406.8 226.5L406.7 230.4M390.4 150.1L387.1 151.4M531.9 136.8L532.2 135.9M406.2 243.4L414.9 239.9M476.5 85.3L474.8 82.9M492.2 53.9L493.5 58.9M516.4 251.3L518.4 251.1M381 57.2L385.3 65.7M524.3 91.4L528.5 89.4M545.2 36.1L546 41.3M567.6 154.3L571 156.9M503.3 110.7L503.5 106.5M588.2 135.9L589.5 135M431 58.5L432.1 63.2M476.6 70.3L473.4 71.1M377.6 73.9L378.1 64.4M460.8 110.8L462.4 119.9M507.1 194.7L509.9 192.2M546.5 162.2L541.6 160.1M524.8 107.1L527.6 103.8M399 251L395.6 250.5M458 174.1L462.9 174.5M524.4 238.3L523.5 242.2M408.8 165.2L412.4 165.4M597.7 87.5L597.1 86.9M444.5 17.1L445 18.2M528.6 147.9L531 151.7M521.6 239.8L523.5 242.2M488.4 92.9L492.1 93M495.6 32.3L494.4 23.9M415.7 133.7L419.8 134.8M484.7 134.1L488 134.6M537 190.8L549.9 191.5M483.2 231L478.8 233M575.8 94.1L579.1 93.2M438.3 209.3L440.4 208.5M443.6 216.4L436.7 228M553.6 165.3L549.4 166.7M484.2 58.7L483.1 55.3M460.1 92.5L456.8 91.8M599.7 266.4L603.6 264.1M487.2 201.8L483.3 201.3M429.9 89.2L431 93.6M582.2 72L584.9 74.5M540.8 25.8L552.6 31.9M528.1 231.7L527.2 233.3M476.9 130.9L480.2 133.9M478.1 181.3L480.9 183.1M521.1 59.6L523.8 57.1M377.5 43.7L381.6 46.3M567.5 234.9L571.2 234.4M437.2 87.6L436.1 83.2M437.3 246.4L439.8 250.1M391.6 31.2L389.6 35.8M574.5 228.9L571.9 224.6M443.1 236.5L452.7 244.6M471.4 245.2L482.9 240.6M452.2 162.1L453.3 158M470.9 14.4L476.9 6M617.6 49.9L616.3 51.4M463.2 203.1L463.4 207.3M493.9 177.6L498.3 180M393.1 146L390.4 150.1M621.1 161.1L615.6 158.6M501.8 142.9L495 150.7M552.8 37L549.2 38.7M437.7 98.7L439.4 95M542.2 23.3L543.6 27.7M471.2 182.2L475.4 180.3M504.2 229.9L500.6 231.1M480.5 186.5L485.5 187.4M390.4 23.6L394.2 21.2M467.5 123.2L466.2 123.7M412 86L412.1 78.9M623 78.6L618.1 79.2M473.8 60.1L470.8 64.5M467.2 249.6L462.9 250.5M624.1 133.5L623.9 135.7M411.1 148.4L407.2 152.2M389.7 83.2L389.9 82.5M478.4 39.6L481 39.7M419.4 160.6L415 163M386.9 239.2L389.5 242.6M498.2 50.9L503.3 49.5M489.4 267.6L484.9 269.6M383.7 31L377 26.5M484.6 76.8L483.6 79.9M535.4 127.6L532.8 128.9M426.4 46.1L424.6 44.3M510.3 208.9L513.9 208.7M614.4 214.3L613.6 210.1M433.8 262L430.2 260.7M569 47.4L569.6 44.8M457.2 84.3L453.3 82.4M500.5 83.5L498.3 79.8M563.4 128.5L561.4 129.7M488.3 167.6L491 169.4M466 31.9L464.8 35.6M528.9 155.9L524.3 156.3M388.2 129.8L390.5 127.1M410.1 81.6L414.2 79M622.7 108.4L620.5 111.3M384.2 250.4L388.4 249.1M573.6 246.1L574.4 243.6M611.4 63.3L613.2 60.3M543.4 209.9L539.8 213.3M419.1 229L424 236.8M429.8 19.9L433.6 18.9M571.3 18.8L568 7.9M573.2 106.1L574.8 109.4M596.9 24.6L589.5 33.8M541.5 125.1L547.5 126.3M404.8 159.1L403 157.4M424.2 64.2L426.8 68.1M420.1 206L422.9 206.1M583.9 58.9L583.9 54.4M539.3 226.6L545.1 229.9M442.9 38.5L438.7 33M468.8 144.2L468.1 140.5M386.9 270.9L396.6 264.5M425.8 39.5L428.7 36.3M423.8 6.2L423.8 10.9M541.8 81.3L540.8 77.8M549.7 121.4L557.3 127.3M616.7 171.6L620.9 175.6M613.5 269.3L616.3 271M395.4 241L393 244.1M567.4 230.2L564.5 232.3M551 28.3L542.7 36.8M584.4 81.3L583.9 80.4M384.7 219.1L381.1 221.4M433.3 96.5L433.5 99.8M497.5 259L494.3 255.3M528.6 147.9L527.4 144.1M561.2 96.5L560.9 92.4M459 64.6L458.2 62.6M531.6 107.2L532 107.8M496.6 141.9L495.5 139.7M619.5 212.4L624 212.1M550.6 141.3L547 139.6M414.5 243.4L412.4 239.9M534 46.7L538.6 46.8M436.7 48.5L432.7 46.9M476.9 130.9L476.8 125.8M546.2 7.9L549.7 9.6M474.7 259.5L475.6 255.2M530 226.5L534 228.1M575.6 67.5L572.1 70.7M557.5 174.7L563.2 169M499.1 150.4L496.1 151.3M520.4 169.6L519.7 171M604.7 68.1L604.7 69M420.5 98.6L422.2 101.9M519.1 142L516.5 131.8M509.4 119.6L511.2 123.1M462.1 98.8L474.7 104.5M622.1 216.8L627 222.3M399.8 110.9L404.2 123.1M451.4 116.7L449 120.3M479.1 207.2L480.6 207.8M439.8 80.4L437.8 77.3M484.4 195.3L479.4 194.5M411.3 250.1L417.1 248.9M563.7 155.5L567.6 154.3M409.9 145.2L413.7 142.5M383.4 140.9L384 146M434.3 209.9L435.9 215.1M547.5 136.8L545 129.9M427.9 16.5L429.8 19.9M504 162L503.2 159.2M381.8 96.6L383 98.7M461.8 117.7L448.4 114.1M425.8 210L424.4 214M466.4 21.2L466.6 24.2M508 15.5L510.1 11.1M496 137.8L491.8 137.2M604.1 230L605.9 227.8M604.6 141.1L601.3 143.7M407.6 22.5L410.6 25.1M621.7 223.6L622.6 220.1M537.5 108.3L539.6 105.8M562.8 72.3L565 76M623.4 252.3L617.5 247.6M506.6 104.3L503.8 99.3M411.7 63L412.4 65M564 223.3L554.7 227.2M618 37.2L619 42.1M453.5 132.7L453.2 121.3M433.2 53L431.9 55M444.1 45.3L441.5 41.9M616.4 32.1L617.6 37M396.3 113.8L397.1 110.9M436.2 139L439.2 142.1M597.4 12.6L596.2 16.8M456.5 76.1L460.4 78.1M400.9 237.3L397.3 242.3M511.1 201.3L513.8 203.9M537.5 108.3L538.9 103.6M439.8 192.3L437.8 189.3M377 45L377.5 43.7M614.6 264.1L618.9 264.1M468.1 189.7L468.6 194.3M612.9 37.6L609.5 39.7M435 174.6L442.5 176.1M526.6 185L530.7 183.5M393.1 13.5L389.9 16M546 110.8L541.1 111.9M435.9 254.5L435.1 251.6M559.9 265.5L561.3 269.3M605 102.1L608.7 102.5M412.4 65L411.7 63M399.1 75.7L398.8 80.2M383 98.7L381.8 96.6M442.5 191.3L446.6 192.6M401.3 258.8L402.5 255.9M442.3 169.2L438.8 167.5M486.5 124.6L486.7 127.9M602.2 174.2L602.6 171.1M493.7 43.2L490 41.4M472.3 263.4L468.1 261.8M564.7 140L566.7 137.8M608.8 81L612.5 79.3M507.5 133.4L503.8 131.4M429.8 253.8L426.7 257.7M395.9 235.8L394.6 230.8M472.4 32.7L474.8 24.7M457.2 72L452.3 73.6M433.7 214.1L437.1 217.2M599 208L603.9 208.6M565.9 227.7L567.4 230.2M587.2 29.7L589.1 27.9M485.9 244.4L486.2 247.6M529.9 128.2L532.8 128.9M418.7 99.4L415.2 97M447.9 258.6L447 263.4M575.3 37.2L582.6 31.1M624 212.1L625.5 215.9M432.2 271.1L423.2 272M604.8 198.3L602.3 196.9M534 46.7L531.1 50.3M475.1 179.5L483 190.9M486.9 162.9L483.4 164.1M521 235.5L521.2 234.6M603.4 94.9L604.5 91M466.2 262.4L458.6 258.2M388.7 214.8L384.7 214M446 113.3L449.9 113.2M555.2 198.6L555 203.9M479.1 71.6L478.1 71.9M405.5 30.4L404.8 29.6M476.4 14.5L478.7 16.1M392.3 145.1L390.2 141.9M587.7 81.6L583.9 80.4M429.5 207.9L428.7 205.2M405.1 114.4L400.4 115.6M572.1 124.2L570.4 124.2M582.7 156.1L582.6 152.3M416.1 39.2L416.7 36.5M462.6 181.7L467 180.6M468.8 188.2L464.4 189.2M504.1 62.2L505.8 66.5M576.4 188L578.6 191.7M501.1 21L499 25.2M584.2 259.3L583.6 258.4M560.7 184.3L552.2 190.5M621.3 150.5L618.5 154M480.5 186.5L476.6 184.2M611.4 63.3L611.4 65.9M579.6 25.8L582.8 25.5M560.2 271.6L553.3 265M519.9 202.8L522.1 206.5M428.4 121.4L429.2 124.8M527.4 209.9L523 210.5M577.3 262.5L574.4 259.6M606.7 174.1L605.9 178.2M384.5 226.5L385.1 227.6M584.6 85.5L585.9 81.1M570.7 92.3L574.3 95.2M601.6 169.2L603.1 164.7M463 46.6L461.6 50.7M510.6 168.9L508.5 173.2M465.5 218.5L469.9 219.5M385.6 189.9L384.7 189.1M410.6 143.1L415.5 142.1M513.3 36.5L517.6 37.5M517.6 80.7L513.4 80.8M459.9 205.7L459.7 201.5M388.1 254.7L389.8 254.1M555.6 219.1L557.5 218M563.4 202.1L563 206.3M446.5 255.6L444.7 255.2M475.6 255.2L471.2 251.3M496 263.1L490.7 263M393.7 204.2L385.6 212.4M460.9 270.4L453.9 272M381.2 259.7L380.8 255.4M514.3 199.7L516.3 203M575.4 234.1L577.2 230.5M589.5 180.2L593.9 181.1M542.8 62.6L543.4 57.7M507.4 107.4L509.5 106.3M582 224.4L583 226M573 186.9L579.5 192.9M532.8 128.9L535.4 133.1M455 142.1L459.8 141.4M432.6 42.9L436.5 40.5M382.7 105.8L383.1 108.6M378 17.8L382.6 15.8M471.7 136.2L472.4 139.8M410.6 105.3L408.7 110.1M611 43.6L611.6 45.2M468.3 159.3L470.3 158.5M603.1 164.7L607.2 163M389.8 125.2L386.2 125.5M497 259.8L494.5 256.3M569.8 227.1L573.6 226.6M585.1 66.9L589.1 72.1M392.1 249.7L391.6 251.7M619 42.1L615 45.3M561.6 268.5L558.1 267.1M499.6 61.4L504.1 62.2M593.1 145.2L594.7 141.3M452.9 241.7L457.6 239.4M508.4 234.3L511.8 237.1M390 37.5L387.7 38M527.2 233.3L526.6 229M481.6 239.6L483.7 242.4M558.6 19.2L559.8 17.6M611.5 192.7L609.4 196.2M556.9 25.3L554.9 25.5M398.1 35.2L393.5 34.6M576.4 50.4L581 44.1M406.6 120.3L402.7 114.6M502.3 127.7L504.6 126M561.5 227.5L561.5 223.6M620.8 202.1L616.8 207.3M470.4 257.2L468.1 259.3M386.5 130.1L384.4 133.3M478.5 147.8L478.2 148.9M417.9 201.5L424.5 195M563.1 209.5L561.1 220.6M517.4 109.9L521.6 108.7M423.7 223.8L428.6 223.5M406.7 199L405.4 198.8M457.2 84.5L457.2 84.3M480.1 74L481.1 70.9M568.6 32.8L568.4 37.4M546 41.3L543.3 45M419.6 155.7L419.4 160.6M508.4 128.1L510.9 125.5M538.5 127.6L541.2 126.1M384.4 133.3L384.4 136.8M532 107.8L531.6 107.2M479.4 210.8L477.6 210.8M593.1 35.7L589.3 33.6M613.5 210.3L615.7 214.1M491.4 266.8L481.7 256.9M596.3 125.4L599.8 125.4M445.8 51.5L444.1 54.1M582.2 199.7L587.8 193.1M519.7 121.3L519.4 126.3M436.8 35.5L434.3 39.8M411.6 111.6L414.9 109.1M560.8 122.9L560.1 119.5M574.9 264.3L577.2 261.8M400.4 115.6L396.3 113.8M590.2 193.3L587.8 193.1M525.2 94.8L523.1 96.6M529.8 257.3L531.3 252.6M485.3 209L482.5 209.8M604.2 271.7L600.3 272M399 111.5L395.9 115.2M512.2 214.6L517.2 214.5M600.1 79.7L604.5 81M540.1 139.1L550 141.4M608.4 178.8L596.1 177.6M424.2 137.5L424.9 132.9M524.2 95.9L524.3 91.4M407 141.1L403.1 141.9M463.1 258.4L460.4 255.5M410.6 25.1L417 22.9M615 144.4L612.4 147.6M545.7 203.5L545.8 200M608.5 154.4L606.9 150M590 146L587.6 149.7M577.6 199.5L576.6 194.9M483.4 42.8L481.2 47M614.1 122L617.6 124.5M435.3 158.2L433.9 159M462.9 174.5L465.7 171M563.5 164.5L564.8 172M616.2 186.1L617.8 189.8M608.8 81L604.8 78.7M519.4 126.3L515 128.4M500 27.6L497.7 19.7M598.4 74.4L594.8 74M503.8 99.3L501.5 98.4M477.7 66.7L481.3 63M462.7 261.1L464.1 266.2M455.7 168.3L457.8 169.7M571 132.1L569.3 127.8M506.3 67.1L508.1 65.7M423.2 254.3L420.2 257.7M402.4 37.7L400 34.9M405.8 80.5L400.8 79.3M421.7 189.9L422.3 193.1M611.9 233.2L609.9 232.3M445.3 126.1L449.5 128.2M568.1 237.2L567.5 234.9M380.4 233.5L377 230.9M486.6 178.1L485.4 183.3M610.8 122.6L614.1 122M395.5 87.5L401.7 88.7M540 69.2L543.8 71M536.1 263.6L548.9 261.1M535.4 260L531.8 261M479 142.5L483.4 141.8M396.5 66.9L396 62.3M547.6 128.3L545 129.9M411.6 61.8L406.3 62.4M569.9 51L566.2 52.7M589.4 100.7L587.1 104.6M531 210.8L531.5 215.7M430.1 118.4L432.4 113.8M444.1 54.1L440.2 53.4M538.5 254.8L536.9 255.3M437.6 116.6L439.7 114.4M527.2 233.3L524.4 238.3M515.9 65.9L513.7 67.4M604.6 59.8L603.5 57.3M602.2 174.2L603 170M402.9 263L401.3 258.8M498.9 103.8L497.2 99M596.2 64.3L594.5 67.3M472.8 223.2L471.3 225.9M458.3 230.7L461.4 230.6M595.1 148.7L594.3 148.7M471.9 157.2L475 158.5M572.4 238.9L568.1 237.2M545.1 67.6L536.7 68.8M417.9 131.2L422.4 129.6M413.9 75.8L417.3 79M487.1 47.7L485.7 43.4M422.5 233.8L422.1 237.2M412.7 124.1L411.3 127.4M398.6 162.8L395.7 166.5M567 242.7L569.7 238.7M471.5 24.3L484.3 25.6M614.1 122L619 116.3M464.6 74.8L467.4 78M392 173.8L389.6 162.2M459.2 222L468.6 220.1M404.7 169.7L408.8 171.4M432.7 143L431.7 140.5M497.4 248L487.3 242.6M510.9 256.5L506.1 256M432.9 80.4L428.5 80.8M567.3 150.4L562.6 156.6M583.5 170.7L585 181.5M615.5 112.2L612.5 112.7M534.1 69.5L534.4 64.9M520.4 79.8L520.3 82.3M459.1 65.2L450.8 56.4M536.1 194.4L532.1 196.3M525.9 265.2L529 256.3M410.8 121.7L421.2 125.9M535.7 184.4L535.4 189.2M573.6 226.6L576.4 230.1M586.5 242.6L590.4 246.1M584.3 110.8L585.3 115.8M417.3 210.2L415.7 211.5M468.6 194.3L464.8 197.2M590.7 239.3L589.2 231M394.4 255.3L395.3 250.8M485.4 126.2L486.5 124.6M580.2 264.8L577.3 262.5M593.2 85.9L587.7 81.6M449 120.3L445.1 120.4M377.7 68.1L386 62.1M590 176.8L579.2 180.6M491.2 131.8L488.9 126.6M408.8 165.2L412.7 163.6M521.6 72.8L525.9 62M565.3 176.7L567 180.6M485.6 87.5L487.4 84.1M564.1 213.3L561.8 215.2M454.7 84L457.2 84.5M492.2 41.4L493.7 45.8M439.8 131.5L442.6 128.5M568.7 69.4L569 64.9M564.5 171.7L574.6 177.5M576.8 120.6L574.5 122.2M385.9 52.1L383.1 50.2M620.3 42.8L624.6 44.5M527.5 73.9L528 78.1M396.5 66.9L395.5 65.1M405.4 198.8L399.8 201.7M420.2 257.7L415.7 256.8M431.8 192.6L437.2 203.1M497.3 223.4L500.9 222.2M605.9 227.8L609.3 229.7M381.1 189.8L377 187.9M409.6 77.2L406.5 74.2M406.9 13.5L409.8 14.1M435.3 158.2L438.7 155.1M587.9 131.5L588.2 135.9M539.8 166.9L539.3 158.1M583.3 262.8L580.2 264.8M440.1 130.4L440.9 128.1M396.4 153.5L397.5 145.7M489 48.3L495.7 39.7M416 48.8L414.3 48.6M524.1 65.9L521.2 64M468.9 203.4L472.1 206.9M581.4 255.5L578.1 255.5M386.5 148.5L381.2 150.6M620.8 202.1L616.5 201.5M408.2 10L412.6 8.3M501.1 21L499.8 20.3M600.5 258.2L601.8 254.2M387.6 187.1L389.1 190.5M488.3 167.6L483.6 164.7M566 19.8L563.3 21.1M473 154L475.2 149.6M460 45.7L452.9 47.4M577.2 261.8L580.5 261.4M524.1 65.9L525.6 67.5M491.2 131.8L495.5 132.4M556.6 179.5L549.8 182.8M515.8 164.6L522.7 170.9M378.8 105.2L382.7 105.8M608.2 126.6L610.8 122.6M525.6 143.6L527.4 146.2M595 33.9L593.1 35.7M388.7 153.6L390.4 150.1M418.7 46L422.9 47.5M437.8 205.1L437.9 203M576.1 238.4L578.2 240.7M482.1 222L480.6 217.7M493.8 34.9L497.5 36.7M624 12.2L621.2 14M569.5 101.1L565.9 98.2M518.1 23.7L515 26.2M398.9 29L400.8 32.4M604.4 193.4L609 191.3M499.9 17.8L501.1 21M491.6 162.2L494.9 152.9M546 110.8L546 108.4M451.4 101.2L454.6 98.7M405.7 85.7L402.1 87.9M576.7 243.3L577.1 244.3M566.2 207.6L565.6 203.3M468.6 97L457.6 103.8M521.2 64L515.9 65.9M403.3 228.9L404.6 233.9M519.6 88.8L516.5 86.9M583 204.1L580.5 206.3M472.1 236.3L470.1 239.5M613.3 87.4L609.2 85M535.1 136.7L532.2 135.9M525.8 209.7L527.4 209.9M396.9 107.3L400 105.6M566 110.3L568.8 106.6M428.3 95.8L433.3 96.5M503.9 149.5L494.3 151.9M429.8 101.5L430.8 105M616.5 216.6L615.7 214.1M571.8 109.9L562 108.4M482.9 232L481.3 228.8M622.6 10.4L627 6.8M481.1 70.9L483.3 72.3M520.4 79.8L519.8 75.6M524.9 14.6L522.2 10.6M491.2 131.8L486.7 127.9M386.7 118L390.2 117.7M430.3 102.1L433.5 99.8M479.9 129.9L479.7 126.6M514.4 45.1L510.1 44M433.9 159L439.6 156.5M455 116.1L456 120.4M422.4 14.8L426.8 13.6M407.2 152.2L407 156.5M457.4 68.2L458.8 67.4M578.6 191.7L576.6 194.9M582 27.7L595.1 31.6M544.4 112.1L546 108.4M418.7 224.6L417.9 228M617 101.2L609.1 93.8M558.5 116.3L561.8 113M410.5 120.9L402.5 130M531.4 195.3L540 192.6M587.2 204.9L577 208.4M509.9 192.2L514.9 193.5M406.2 46.6L407 44.4M415.1 71.5L413.9 75.8M398.9 99.6L408.5 90.3M620.1 164.9L619.5 169.2M599.8 125.4L598.7 121.7M433.4 248.6L429.4 249.8M409.5 252.7L406.3 255.7M377 118.5L377 119.7M505.8 245.9L506.9 250.2M560.1 119.5L558.5 116.3M619.6 104.8L621.2 102.4M606.9 39.5L598.4 49.7M549.8 128.7L537.1 126.4M399.8 201.7L401 204.4M385.1 27.2L385.9 23.5M581.9 16.2L587 15.8M617.7 260.4L614.6 264.1M555.3 125.8L556.9 122.5M448.2 45.4L444.1 45.3M463.1 258.4L462.7 261.1M616.8 207.3L620.7 208.6M561.4 219.7L563.4 222.5M450 262L450.7 258.6M514.9 193.5L517.1 197.2M546.4 229.8L545.4 229.2M520.3 35.5L517.6 37.5M494.3 97L492.8 100.8M509.5 106.3L509.3 110.5M439.7 18.4L435.8 19.5M426.8 242.1L430.8 240.9M608.2 236.1L600.5 226.1M538.5 127.6L535.4 133.1M616.6 108.9L620.5 111.3M567 180.6L572.9 178.4M570.9 260.9L566.1 256.9M470.1 183.9L468.8 188.2M531.3 252.6L528.9 248.1M492.3 83.2L490.4 82.5M513.9 208.7L513.7 211.9M415.3 93.2L418.8 95.6M394 134.3L391.7 137M391.6 251.7L387.3 253M453.4 191.8L457.8 189.2M544.3 75.3L540.8 77.8M618.1 85.5L619.9 83.8M415.5 142.1L417.1 138.5M508 165.6L508.9 163.5M567.5 217.1L563 215.4M600.9 56.1L603.4 60.8M384.9 178.1L382.1 181.7M457.1 225.5L453.5 225.2M543.8 267.9L542.2 266.6M549.4 23.9L553.4 22.7M454.6 98.7L458.4 98.9M434.7 186.2L435 189.6M460 43.4L463 46.6M622.7 116.4L624.4 103.9M488.9 119.1L492.4 119.5M588 61.9L592.9 61.7M442.8 264.8L439.6 261.3M459.7 201.5L461.4 200.2M402.6 185.3L413 176.2M480.6 217.7L476.7 219.7M484.9 269.6L481.6 267.1M427.2 179.4L430.3 183.9M384.8 197.2L383.1 196.7M528.8 235.1L536 229.3M591 269.7L590.4 272M414.2 227.9L411.2 224.5M607.1 98.2L608.7 102.5M388.8 237.9L393.3 237.9M506.8 71.9L506.3 67.1M464.4 28.3L466 31.9M407.5 237.5L395.8 231.6M583.6 258.4L583.3 262.8M488 134.6L488.1 137.8M478.7 249.3L482.1 245.3M586.1 138L583.6 135.8M380.7 25.1L377 22.4M458.3 88.4L456.8 91.8M464.7 169.6L460.1 171.3M570.9 260.9L572.4 257.9M530.7 183.5L526.6 185M471.2 251.3L469.4 253.6M566.6 131.7L554.9 133.7M494.4 149.5L491.1 152.4M405.2 257.3L406.8 261.5M389.6 35.8L391.6 31.2M513.3 253.1L514.7 255.4M433.6 62.9L436 66.5M543.6 260.4L539.5 258.7M476.5 102.9L475.3 99.7M467.3 161.5L470.3 158.5M409.4 168.4L400.2 159.2M415.7 100.9L414.5 103.7M443.8 250.9L436.8 249.5M603.2 238.6L601.1 242.8M593.2 85.9L597.7 87.5M528.7 169.3L530.1 158.7M458.8 67.4L457.2 72M490 41.4L490 37.3M581.9 265.6L584.7 266.7M532.8 225.2L530.7 221.8M477.1 140.5L479 142.5M422.9 47.5L424.3 51.9M621.2 92.4L621.1 95.1M557.5 10.2L559.8 13.9M494.4 23L496.5 18.8M517.7 103.8L513.7 102.5M618.3 164L614.1 163.9M575.7 201.7L577.6 199.5M417 103.1L419.7 91.6M453.3 158L457.4 157.3M385.4 151.1L392.1 147.8M493.6 81.7L495.1 78.7M472.1 236.3L471.5 232.6M570.5 85.1L566.9 87.2M616.9 45.5L619 42.1M441.5 206.9L437.8 205.1M541.9 24.9L542.2 23.3M389.8 189.1L387.6 187.1M456 120.4L454.3 122.8M382.8 80.5L386.9 85.9M589.6 67.5L586.4 64.8M417.6 229.9L417.9 228M592.2 79.3L587.7 81.6M401 165.1L395.9 176.4M574.3 98.2L575.8 94.1M477.3 154.7L477.8 158.4M473.8 228.5L478.2 226.5M377 118.5L377.5 114.3M421.5 257.2L419.5 252.6M483.2 79.1L484.8 81.5M561.8 251.1L565.3 253M555.4 237.9L553.3 240.7M411.7 216.1L415.7 213.5M388.3 90.1L386.9 85.9M551.8 80.3L550.5 76.3M377 62L377 58.6M575.7 26.4L576.8 29.2M526.1 47.1L523.4 47.4M419.6 158.5L421 156.3M571.2 144.2L571.7 149M588 24.5L582.9 24.8M536.6 266L540.6 264.4M416 48.8L418.7 46M574.3 98.2L574.3 95.2M457.5 220.4L456.5 218.4M459.3 114.4L463.9 113.6M505.3 224.3L500.7 227.3M445.9 102.8L443.7 101.2M599 265.6L599.7 266.4M532.8 191.1L535.2 191.3M458.7 19.3L455.7 16.3M524.9 140.5L518.2 140.5M619 116.3L619.5 114.5M509 62.1L513.5 63.2M444.5 200.2L440.4 198.9M407.8 104.1L408.9 101.3M565.4 246.6L562.8 247.3M424.9 36.3L421.7 33M574.4 155.8L571.4 153.2M378.8 93.1L380.5 91.4M487.2 201.8L487.2 207.6M455.4 208.8L456.5 211M565.1 119.3L570.9 123.2M445.8 86.3L442.1 89.2M496.4 155.5L499.9 145.6M406.5 74.2L408.7 75.8M383.6 234.9L385.9 232.6M377.5 100.1L381.2 110.8M496.5 142.5L490.2 145.5M519.4 126.3L518.2 124.7M463.8 188.1L464.4 189.2M473.7 245.8L474.2 248.2M441.8 202.7L444.5 200.2M424.2 64.2L423.7 64.6M423.2 254.3L419.5 252.6M446.2 129.8L447.5 124.8M475.8 240.1L472.1 236.3M444.9 76.2L442.6 80.2M415.8 62.9L414.4 66.5M467.4 78L466.1 80.6M536.3 115.4L532 114.6M611.8 97.5L607.1 98.2M620.1 42.1L620.3 42.8M532.8 191.1L530.4 188.3M523.1 96.6L519.2 95.3M392.6 54.1L402.2 52.9M426.1 206.4L422.9 198.9M588.5 191.5L584.5 181.7M470.8 211.8L466.4 213.3M461.9 242.4L461.5 247.6M532.5 96.4L528.2 98.4M462.3 191.7L460.5 195.5M434.3 209.9L429.5 207.9M514.9 45.8L515.7 41M438.7 14.4L438.3 14.2M431 190.7L427.7 190.6M394.9 262.5L398.5 262.9M484.3 267.6L471.6 262.8M602.7 222.7L612.7 223M432.6 181L437.4 186.3M509.7 215.4L506.1 215.5M448.1 175L445.5 178.3M517.4 237.3L516 238.8M485 101.1L487.4 88.1M601.7 133.5L599.1 136.1M501 140.6L496.6 141.9M485.7 43.4L483.4 42.8M583.1 160.9L578.8 163.5M464.4 189.2L461.3 186M451 221.6L452.7 218.2M466.7 47.4L469.7 47.8M594.8 74L593.1 70M532 239.6L535.4 242.1M490.4 198.4L487.2 201.8M469.7 263.5L470.8 265.4M445.5 215.1L441.2 216.1M496.5 18.8L499.9 17.8M488.8 53.2L490.3 53.2M553.2 234.8L556.1 231.1M613.9 17.3L611 18.4M453.4 28.8L440.4 30M391.5 57.7L390.2 59.4M412.4 239.9L414.7 236.2M382.8 80.5L379 79.3M473.8 50.7L484.7 47.9M511.3 49.7L507.4 48.8M377 219.6L377 215.7M423.3 7L416.4 15.6M495.1 78.7L497.9 80.1M506.2 112.7L503.3 110.7M555.8 171.7L557.5 174.7M451.4 101.2L452 99M577.7 64L579.4 59.6M534.4 177.9L531.1 176.2M576.4 188L579.9 182.4M560.9 192.2L565.5 197.9M497.3 223.4L497.6 227.4M618.9 264.1L621.2 259.2M609.8 72.2L608.5 73.1M398.9 139.4L398.4 136.1M486.9 96.8L488.4 92.9M572.4 257.9L574.4 259.6M417.5 53.2L416 48.8M601.7 63.7L593.8 62.6M417.6 229.9L420.2 230.1M466.6 256.9L469.4 253.6M392.7 213.8L388.7 214.8M429.2 124.8L425.5 125.4M498.3 146.7L494.4 149.5M437.8 9L442.5 9.6M488.7 89.9L492.1 93M533 213.4L531.5 215.7M444.7 156.2L440.6 146.4M433.5 260.4L435.2 264.6M572.4 194.3L570.2 190.5M601 20.5L599.8 26M405.3 40.8L409.1 44.1M546 108.4L539.6 105.8M575.4 266.5L577.2 261.8M586.5 12.5L596 22.6M387.3 224L392.6 224.4M498.9 254L499.3 252.1M433.9 159L432 163.5M486.3 175.7L484.9 175.4M398.3 227.3L403.3 228.9M416.9 133.6L417.9 131.2M504.9 265.3L505.2 261M597.1 155.2L593.2 158.2M507.1 203.1L511.1 201.3M539 176.4L534.4 177.9M381.7 69.3L377 81.3M396.3 24.6L397.6 20.2M555.5 72.1L558.1 70.3M429.4 249.8L426.1 246.6M435.5 247.7L433.7 245.4M412 17.1L409.9 15.2M564.1 213.3L562.4 210.6M549.7 231.9L546.1 232.3M577.9 83.8L577.7 79.6M547.4 249.4L556.9 258M572.1 124.2L576.5 124.8M575.4 132.7L571 132.1M512.5 22.7L516.9 22M585.4 129.2L587.9 131.5M488.8 53.2L489 49.9M530 226.5L529.3 221M442.3 169.2L443.1 174.1M502.3 155.3L509.1 161.5M581.4 86.8L579.1 93.2M465.7 171L468.7 171.8M617.1 93.8L613.5 91M470.5 207.9L472.1 206.9M597.4 141.9L596.8 137.5M407 141.1L405.3 143.6M484.4 195.3L485.9 193.9M437.6 116.6L437.7 116.1M596.8 137.5L600.1 134.9M469.2 130.7L465.9 132.4M424.5 93.7L418.8 95.6M488.7 89.9L485.6 87.5M553.4 22.7L549.8 25.1M609 236L610.4 239.6M594.4 86.7L590.8 86.8M426.8 13.6L427.9 16.5M473.7 271.7L471.2 267.3M563.1 82.3L562.8 86.4M447.2 214.4L448 211.8M560.1 232.1L558.6 229.6M615.1 192.6L616.9 195.8M470.4 17.7L469.8 18M625.4 101L627 97.4M439.7 114.4L442.4 116.4M544.3 186.6L548.7 186.4M428.3 95.8L425.5 100M422.6 122.4L421.3 124.8M392.6 90.9L388.3 90.1M621.3 196.3L624.8 192.4M462.4 18.8L466.4 21.2M485.2 144.6L482.6 148.2M506.2 248.7L506.6 246.5M407.2 152.2L411.1 148.4M554.3 162.3L553.6 165.3M476.1 234.2L484 235M417.3 210.2L420.1 206M427.5 106.9L423.2 105.3M425.9 141.7L424.2 137.5M587.6 226.6L579 225.7M456.9 250.9L460.4 237.6M603.3 16.9L608.1 15.5M605.2 212.9L601.6 216.7M591.1 92.9L589.9 88.6M534 228.1L534.6 232.4M408.9 94.9L405.7 96.1M562.1 259.9L558.7 258M451.9 145.9L444.8 144.8M378.8 193.9L382.2 193.5M594.3 32.1L596 27.5M432.7 46.9L432.6 42.9M432.8 71.9L432.4 77.1M577.3 131.9L583.4 119.7M538.9 38.2L541.6 34.5M620.3 184.6L617.9 183.8M616.2 186.1L617.9 183.8M542.6 189.9L544.3 186.6M387.3 253L388.1 254.7M417.5 123.4L414.9 119.7M623.2 199.5L620.8 202.1M621.2 92.4L617.1 93.8M409.9 145.2L411.9 148.7M455.7 104.2L451.9 104M512.9 47.3L511.3 49.7M465.7 40.2L462.6 40.2M509.3 260.1L514.9 259.2M609.9 204.8L605.4 203.4M479.7 150L479.5 150.3M515.6 118.4L519.7 121.3M616.5 216.6L619.5 212.4M619.6 256.2L618.9 264.1M498.7 210.3L490.2 200M406.6 137.8L407 141.1M554.5 31.2L555.4 33.2M388.5 258.9L385.1 261.4M622.6 181L620.3 184.6M389.1 190.5L390.4 194.5M461.9 222.8L462 221.8M510.6 26.9L509.4 25.2M491.2 179.6L493.9 177.6M428.9 164.9L429.3 164.7M495.8 107.7L498.9 103.8M405.7 96.1L401.7 94.1M593.6 129.4L596.9 130.5M537.5 164.2L541.9 156M620.9 267.9L618.6 271.6M559.8 157L557.5 158.7M615.5 112.2L614.1 109.3M464 221.2L465.5 218.5M398.8 46.7L400.2 42M459 64.6L455.4 65.3M549.7 192.7L550.7 195.7M396.7 206.1L395.9 209.6M531.1 176.2L532.4 172.9M513.4 80.8L511.3 77.4M481.1 213.3L482.9 213.1M506.1 185.8L501.8 188.2M426 87.1L429.9 89.2M554.1 80.5L558.7 79.4M613.9 153.8L612 156.4M495.3 85.6L495 85.9M473.2 217.2L473.7 212.7M472.1 206.9L470.8 211.8M503.6 104.3L505.2 108.7M448.8 24.2L445 24.6M426.9 170L427.3 170.9M481.3 78.5L480.1 74M615.4 227.6L617.5 228.4M393.3 237.9L395.4 241M504 63.4L503.1 76.3M531.2 104.1L532 107.8M622.6 160.9L618.3 164M397.8 145.1L388.6 137.8M500.7 75.5L505.4 74.9M392 66.6L390.1 63.4M442.1 89.2L437.2 87.6M395.1 37.7L393.5 34.6M379.6 8.6L388.3 7.1M521.4 195.3L516.4 195M422.2 128.7L429.3 124.6M393 244.1L394.7 246.2M593.2 85.9L594.4 86.7M425.9 164.5L424.5 164.8M526.2 181.6L526.6 185M565.4 15.1L566 19.8M575.4 234.1L571.6 234.6M467.4 78L473.9 79.1M505.2 261L509.3 260.1M613.5 269.3L609 271.5M463.9 237.1L466.3 236.8M415.1 113.1L411.8 113.6M479.1 71.6L477.7 66.7M431.9 196.8L429.3 197.6M528 121.2L527.6 117.7M581.2 249L580.1 248.2M435.8 19.5L433.6 18.9M422.9 210.3L420.1 214.5M479.9 256.9L476.8 260.3M423.8 6.2L426.5 6M394.7 269.6L391.1 269.3M543.8 102.5L547.4 106.1M537.3 213.6L534.4 216.9M600.9 145.6L593.1 135.4M621.1 95.1L623.4 94.6M518.2 124.7L521.5 124M391.7 137L388.8 134.7M608.2 48.5L598.7 38.5M467 214.5L461.5 204.1M395.2 199.5L399.8 201.7M500.1 211.5L504 214.8M601.6 216.7L600.8 217M415.5 142.1L418.2 144.2M545.2 192.9L542.6 197.9M451.2 14.9L449.3 17.4M421.6 54.7L417.5 53.2M397.6 73.1L399.1 75.7M506.9 250.2L503.6 253.4M614.1 264.7L613.5 269.3M621 61.4L619.2 64.4M555.8 16L553.5 12.3M576.1 55L585.2 61.8M514.1 88.3L513.8 77M455.2 165.5L455.7 168.3M546.7 229.4L550 219.7M472.6 125.8L474.7 121.4M620.4 140.8L620.1 143.3M385.6 189.9L389.1 190.5M615.1 192.6L610.7 191.7M394.8 74.6L394.4 70.5M514.5 211.4L512.2 207.8M571.5 256.1L572.4 257.9M391.2 137.7L394.3 136.8M603.1 20.6L601 20.5M620.1 143.3L615.9 142.5M445.3 166.7L442.3 169.2M554.3 51.9L556.4 48.2M458 174.1L456.3 177M396.9 217.6L393.8 214.5M404.8 29.6L405.5 30.4M431.7 48.5L432.7 46.9M460 231.1L455.8 230.5M513.3 235.2L517.4 237.3M616.4 137.5L620.4 140.8M582.8 251.7L587.1 251.7M569.4 81.8L572 80.2M536.3 143.1L534.5 140.4M411.6 61.8L411.7 59.9M423.2 105.3L422.2 101.9M402.3 135.3L406.6 137.8M596.3 125.4L601.3 125.1M627 100.8L624.7 101.3M444.9 264.4L443.5 272M497.4 40.8L493.7 43.2M564.9 31.7L566.8 30M535.4 189.2L537.9 192.1M418.4 110.6L415.1 113.1M409.8 78.8L405.8 80.5M605.7 234.1L604.1 230M409.4 250.2L409.3 246.5M422.8 205.3L426.5 195.6M596.3 55.6L600.9 56.1M407.8 265.1L409.7 267.8M473.7 116.7L470.9 113M516.8 113.1L517.4 109.9M565.3 184.2L562 183.9M531.6 185.2L523.7 177M404.7 169.7L408.5 167.8M491 169.4L490 173.5M577.1 244.3L577.7 244.7M518.2 146.2L522.7 154.3M586.7 184.1L597.4 181.3M421.8 157.1L430.4 155.3M460.1 171.3L456.1 168.4M412.3 134.9L409 134M440.1 57.1L442.2 57.1M601.4 64.8L604.6 70.5M511.6 240.1L510.1 237.3M420.9 36.1L424.5 38.2M460 231.1L458.3 230.7M385.1 28.6L388.3 31M413.3 207.8L415.7 211.5M575.8 234.3L577.2 230.5M525.4 229.7L528.1 231.7M543.4 57.7L547.5 55M405.5 30.4L402.6 27.8M470.4 17.7L466.4 21.2M425.9 130.5L424.9 132.9M428.5 67.6L436.1 61.7M574.3 95.2L573.7 99.7M440.4 177.4L443.1 174.1M485.9 239.1L481.6 239.6M428.9 208.6L425.8 210M575.9 255.7L571.5 256.1M416.1 117.4L420 118.7M437.8 77.3L434 75M440.9 33.3L441.1 29.9M435.6 71L435.7 68.2M457.4 68.2L455.5 64.4M431 93.6L428.3 95.8M507.9 94.4L510.1 95.3M404 108L401.8 109.7M580.1 212.1L579.2 207.9M525.6 110.8L524.8 107.1M580.5 261.4L581.9 265.6M484.9 140.5L485 143.7M609.5 39.7L606.9 37.2M400.9 237.3L395.9 235.8M468 117.1L471.4 121M416.6 233.5L414 245.8M587.2 29.7L583.3 28.6M533.7 77.6L530 75.5M531.5 10.9L529.6 14.7M422.7 59.9L426.3 56.8M518.6 254.9L519.9 255.7M594.6 135.8L591.7 139.3M443 20.6L444.3 25M540.6 264.4L543.1 260.5M612.5 167.6L617.4 167.2M437.4 206.6L438.3 209.3M517 234.9L521.2 234.6M497.6 182.8L489.4 181.7M417.6 217.7L413.6 220.3M384.5 226.5L387.3 224M414.5 17.6L419.3 18.9M452.3 73.6L448.9 70.6M427.8 27.2L430.9 30.5M511.3 77.4L513.5 73.9M619.5 212.4L617.5 207.7M398.3 256.9L400.7 261.6M485.5 220.5L486.9 223.1M549.6 243.5L545.9 245.9M593.9 181.1L597.6 184.5M596.7 240.4L596.3 241.7M519.8 75.6L523.4 72.6M459.7 229.3L461 228.7M614.1 160.7L618.4 157.6M443.6 220.6L447.2 214.4M543.8 71L544.3 75.3M458.1 116.3L452.2 123.4M613.3 49.1L611.6 45.2M588 142L590 146M475.1 260.2L472.3 263.4M475.8 90.6L477.3 85.7M410.5 250.9L414.5 250.3M593 30L595 33.9M616 40L617.1 44.7M450.5 208.1L455.4 208.8M406.3 255.7L402 254.4M522.2 164.9L525 172M577.6 199.5L582.2 199.7M462.9 125.4L466.2 123.7M584.5 144.3L583.5 141.8M462 149.2L463.4 145.5M577.7 64L575.9 63M392.2 266.2L391.1 269.3M441.6 179.6L444.3 181M407.2 191.6L410.7 191.4M437.8 189.3L440.7 186.5M574 247.3L569.2 247M483.6 79.9L481.3 78.5M408.4 146.2L409.9 145.2M394.7 158.9L390.7 156.4M557.7 79.1L555.4 81.8M413.5 93.9L415.3 93.2M381.1 189.8L382.2 193.5M473.9 96.3L470.4 95.5M389.7 179.1L392.2 179.9M390.6 77.9L398.8 74.2M441 141.7L432.6 139.9M378.8 146.1L377 151.7M426.7 172.8L416 169.4M491.8 221.8L494 217.8M508.1 97.8L503.8 99.3M578.2 240.7L581.7 237.9M563 126.5L561.4 129.7M503.4 193.1L501.3 189.2M539.9 227.3L542.1 223.9M386.7 57.4L384.6 53.7M564.5 232.3L560.1 232.1M580.8 146.3L577 143.3M557.3 148.9L559.7 152.1M572.6 61.7L575.9 63M579.6 228.8L577.2 230.5M378.6 240.7L377.1 238.1M597.1 86.9L596.4 82.7M543.1 221.3L537.8 222.2M486.2 146.1L478.2 153.7M585.6 150.3L586.1 137.4M493.6 226.6L491.8 221.8M519.3 27.3L523.8 26.6M408.5 175.9L414.1 178.3M510.9 125.5L508.4 128.1M404 214.3L405.9 211.5M438.6 20.6L443 20.6M505.8 66.5L503 69.9M486.1 64.2L490 62.8M552.6 262.9L551.9 267.5M425.9 195L425.1 191.5M443.7 101.2L444.4 99.4M418.7 187L421.7 189.9M550.8 152L557.7 159.5M462.9 174.5L457.8 173.1M578.2 129.1L575.4 132.7M387.5 234.7L386.9 239.2M502.5 172.5L506.6 175.1M573.4 267.2L571.4 265.6M522.1 206.5L519.4 210.8M596 14.9L598.3 11.3M516.9 259L514.9 259.2M522.2 10.6L524.1 6.8M478.4 116.2L473.7 116.7M577.6 154.2L574.4 155.8M485.7 40.1L496.2 39.9M505.7 207.5L507.1 203.1M390.1 21.6L389.3 25.3M605.2 212.9L607.2 213M480.9 183.1L478.1 181.3M520.9 137.7L517.2 141.3M517.4 187.7L522.3 188M496.9 56.1L498.2 50.9M538.9 18.9L535 15.9M503.8 220L499.8 222M384.3 252.9L388.1 254.7M623 149.4L627 143.4M440.8 14.3L443.1 22M614 86.9L617.1 85.7M470.1 67.2L466.1 56.5M454 253.4L458.5 253.6M548.4 215.2L547.1 210.8M485.6 233.7L489.8 233.2M585.6 173.1L584.5 168.7M411.7 59.9L411.6 61.8M466.2 10.3L469.5 12.7M483.4 42.8L488.9 41.6M509.1 66.2L506.8 63.6M466.4 213.3L464.1 215.2M507.4 48.8L505 45.5M532.8 128.9L535.4 127.6M439.4 161.9L435.7 161.6M581.9 265.6L580.1 270.3M594.3 173.6L592.4 171.3M580.8 45.8L576.4 50.4M613.9 260.2L610.5 257.8M558.7 227.3L552.2 234.8M456.7 163.9L459.3 164.9M381.8 96.6L378.8 93.1M384.6 173.4L382.2 173.6M584.5 168.7L587.4 165.5M493.2 79.6L493.6 81.7M609.6 106.1L605.3 94.8M602.6 171.1L601 173.2M443.5 15L444.5 17.1M392.2 241.7L394.2 231.3M461.3 178.8L466.1 188M503.3 6.7L504.4 9.4M390.5 127.1L393.4 129.4M597.5 24.7L602 17.2M550.3 227L553.9 226.7M411 45.4L414.3 48.6M419.8 134.8L420.5 137.3M542.2 266.6L539.8 270.4M615.7 214.1L613.7 217.4M557.5 174.7L564.4 174.9M392.3 145.1L392.5 143.1M561.7 209.8L564.1 213.3M621.2 14L619.8 18M541 58.8L543.5 62.6M452.4 123.4L454.3 122.8M442.4 116.4L443.1 120.6M519.7 178.8L522.8 178.6M541.7 252.7L545.9 254.5M440.4 60.8L436.4 62M434.9 130.2L432.8 127.1M544.5 263.3L543.6 260.4M586.2 245.9L594.3 242.6M514.9 259.2L514.7 255.4M584.7 266.7L580.4 264.7M587.8 193.1L589 190.2M414.4 66.5L412.4 65M401.4 176.6L405 180.2M540.5 31.4L541.6 34.5M438.6 131.8L434.9 130.2M428.6 223.5L429.7 225.5M492.3 83.2L495.3 85.6M388.8 134.7L388.2 129.8M512.2 207.8L513.8 203.9M452.3 114.2L455 116.1M432.8 71.9L430.5 68.4M599.8 125.4L596.3 125.4M478.2 236.3L481.5 236.9M413.1 242.7L413.2 246.4M410.3 120.6L412.7 124.1M536.2 213.8L537.3 213.6M568.8 231.1L569.8 227.1M409.8 14.1L409.7 18M389.9 16L386 16.4M385.1 261.4L388.1 263.1M520.9 97.1L521.3 101.1M403.9 79.7L406.7 81.6M504.3 225.5L505.3 224.3M428.7 36.3L430.5 38M438.1 75L442.6 73.6M526 202.6L528.9 205.9M589.1 27.9L593 30M386.5 241L388.8 237.9M616.9 14L615.5 12.2M405.9 36.4L402.4 37.7M451.9 104L451.4 101.2M524.9 34.8L520.3 35.5M427.3 162.2L425.9 164.5M620.2 35.8L624.3 37.9M501.2 164L497.5 167.2M469.5 136.5L471.7 136.2M463.5 202.5L449.8 203.1M418.7 39.4L425.1 40.2M588.7 182.8L589.5 180.2M518.7 147.1L521.3 144M399.9 100.8L399.4 100.1M584.2 238.7L583.1 242.3M560.1 34.8L555.8 34.6M450.4 159.8L440.9 169.6M510.5 25.7L500.4 31.4M410.3 38.3L413.8 35.1M473.8 228.5L471.3 225.9M461.7 208.6L459.9 205.7M500.3 217.7L508.2 218M622.6 23.2L625.9 26M482.6 185.8L480.9 183.1M508 240.3L507.8 238.5M558.2 56.8L559.9 59.2M467.5 271.8L465.9 272M440.4 60.8L440.1 57.1M418 35.6L418.7 39.4M457.5 118.9L456 120.4M415.8 26.1L411.1 25.3M556.3 75.1L557.7 79.1M479.7 150L482.6 148.2M415.2 97L415.7 100.9M417.1 138.5L413 137.4M574.9 264.3L573.4 267.2M469.7 269.6L467.5 271.8M455.7 16.3L452.3 17.5M482.1 222L485.5 220.5M499.1 150.4L498.3 146.7M382.6 15.8L386.2 18.4M400.3 82L403.9 79.7M576 77L577.7 73.3M492.5 165.6L491.2 160.8M392.2 266.2L391.4 270.6M519.4 210.8L514.5 211.4M604.7 69L600.4 70.7M419.5 252.6L422.6 248.7M401.6 247.1L401 250.1M394.7 246.2L397.3 242.3M541.1 111.9L537.5 108.3M397.2 96.4L399.4 100.1M385.9 232.6L384.9 231.8M451 205.1L449.5 200.4M620 100.4L618.5 93.3M483.2 44.8L474.7 42.1M526.1 47.1L529 43.6M457.6 239.4L461.9 242.4M493 184L491.2 179.6M416.7 36.5L420.9 36.1M455.4 100.2L446.3 100.7M497.9 135.4L496 137.8M613.8 76.1L614.3 76.8M415 163L410.8 160.4M395.5 65.1L396.5 66.9M548.3 36.7L545.2 36.1M388.3 31L390.5 28.1M449.9 113.2L451.4 116.7M551.8 218.6L548.4 215.2M421.9 70.2L432.5 72.8M604.4 167.5L607.8 175.1M573.5 156.6L577.9 154M432 39.8L432.3 35.6M491.1 152.4L487 150.6M589.9 229.2L587.4 231.7M472.3 62.8L470.8 64.5M497.2 227.8L497.3 223.4M440.9 128.1L445.3 126.1M427.2 179.4L423.6 177.3M399.4 121.8L402.1 124.9M430.1 118.4L428.4 121.4M401.6 247.1L399 251M611.5 105.9L610.6 109M602.3 196.9L604.4 193.4M571 138.9L573.3 142.1M579.5 245.2L577.1 244.3M468.3 159.3L466.3 158.5M602.7 259.5L600.5 258.2M432.2 253.1L435.9 254.5M547.4 106.1L546 110.8M400.8 32.4L400 34.9M377.2 140.5L377 137.2M380.2 169.1L382.8 165.6M464.6 230.3L459.7 229.3M385.9 52.1L386.7 51.2M412 68.6L415.1 71.5M429.5 35L424.9 36.3M432.8 127.1L434.3 125.7M535.1 60L536.7 57.5M517.6 80.7L517.2 80.4M450.7 69.4L446.9 66.5M614.8 177.9L607.1 184.3M409.5 49.8L406.2 46.6M445.6 98.5L449.7 97.4M565.8 241L568.1 237.2M486.3 175.7L483.6 173.8M417.4 11.3L415.6 10M478.2 30.6L482.5 29.9M430.3 145.1L431.7 140.5M505 45.5L497.4 40.8M539.8 270.4L535.8 271.9M571.6 234.6L568.8 231.1M413.1 220.5L404.9 225.3M577.2 230.5L582 230.6M523.3 33.5L525.1 42.1M576.4 230.1L575.4 234.1M485.4 122.5L488.9 119.1M471.2 182.2L466.1 179.8M597.9 243.7L590.4 246.1M610.9 39.4L611 43.6M546.5 162.2L550.7 160.8M414.7 133.8L407.1 135.3M473 154L473.4 154.3M512.9 161.2L525.5 162.5M554.1 138.2L561.9 144.9M440.6 132.2L440.9 128.1M398.1 23.2L398.2 27.7M618.1 148.6L612.4 147.6M443.6 116.9L446 113.3M564.7 80.7L569.4 81.8M498.9 103.8L503.6 104.3M566.9 117L568.4 116M440.6 75L437.8 77.3M426.7 188.4L426.3 185M515 128.4L510.9 125.5M501.3 189.2L495.2 188.8M397.4 103.6L393.1 103.4M509.2 17L508.6 20.3M519.6 88.8L519.4 90.4M445.4 12.6L443.5 15M527.3 235.6L523.8 237.5M383.1 50.2L383.7 49.1M546.5 104.3L548.6 94.1M505.2 108.7L503.5 106.5M582.2 199.7L584.9 202M388.8 211.1L388.8 205.5M542.8 142.1L547.1 143.8M583.9 54.4L583.9 58.9M511.8 237.1L516 238.8M503.6 95.9L507.9 94.4M423.3 89.3L418.7 86.9M505.8 245.9L502.4 246.8M525.2 110.7L524.5 113.9M470.8 265.4L469.7 269.6M598.4 256.8L600.5 258.2M382.1 181.7L379.3 184.5M500.8 177.1L499.6 173.5M587.1 251.7L589.9 255.5M472.1 206.9L470.5 207.9M510.1 95.3L513.3 98.5M452.9 78.3L449.3 76.5M580.1 270.3L576.8 270.7M402.7 145.4L405.3 143.6M466.8 117.4L465 122M596.8 137.5L594.6 135.8M546 41.3L552 44M437.3 25.8L433.4 26.9M600.2 238.5L602.7 229.1M572.2 170.3L568.8 172.6M446.5 255.6L444.5 252.9M478.1 181.3L476.6 184.2M486.1 156.3L483.6 156.1M620.1 164.9L621.1 161.1M472 43.9L469.2 43.9M379.3 184.5L383.8 186.4M528.2 98.4L524.2 95.9M464.4 204.8L468.9 203.4M619.3 227.8L617.5 228.4M557.5 218L561.8 215.2M439.2 142.1L437.8 146.7M428.5 80.8L425.9 77.2M447 263.4L447.9 263.3M538.9 103.6L543.8 102.5M618.3 10.4L622.6 10.4M404.2 89.6L408.1 91.6M391 94.6L396.9 104.4M577.8 222L568.8 213M459.4 60.6L459 64.6M418.3 108.6L418.4 110.6M381.4 75.1L384 78.4M425.5 100L429.8 101.5M458.7 222L457.1 225.5M611.8 172.1L609.7 170.1M416.8 190.5L412.2 195M530 75.5L527.5 73.9M597.5 214L596 218.1M417.5 6.6L420.7 6M522.8 11.3L522.2 10.6M411.8 113.6L411.6 111.6M616.7 61L624.5 64.3M504.4 189.1L512.1 181.9M532 107.8L529.2 111.1M550.7 108L549.1 111.7M396.2 177.5L401.4 176.6M622.2 44.5L615.8 40.4M481.5 236.9L485.6 233.7M538.4 249.1L541.9 245.9M541.9 204.9L543.4 209.9M389.6 237.9L394 245.4M483.7 242.4L485.9 244.4M527.4 146.2L524.8 149.3M604.1 105.2L605 102.1M613.6 210.1L616.8 207.3M503.3 49.5L507.4 48.8M452.3 17.5L451.2 14.9M507.1 157.9L503.2 151.1M488.4 59.5L484.2 58.7M498.3 146.7L501.6 143.6M613.2 60.3L618 59.3M397.5 204.7L395.7 211.4M503.6 174.1L502.5 172.5M451.8 255.8L454.3 252.8M459.2 76.7L460.5 74.2M552.7 73.6L556.3 75.1M397 135.5L384.4 133.6M412 50.2L421.7 43.3M413.6 140.8L416.6 131.2M395.9 235.8L393.3 237.9M441.1 160.9L439.4 161.9M610.8 122.6L608.2 126.6M510.5 19.4L508 15.5M467.7 252.1L467.6 254.3M390.7 114.8L388.6 110.6M503.5 206.4L508.1 195.2M482.6 185.8L480.5 186.5M617.6 49.9L616.9 45.5M600.1 33.7L596.3 35.2M406.5 20.9L403.3 19.9M385.3 23.1L385.9 23.5M410.4 10.9L397.5 6M452.2 62L452.6 58M385.1 261.4L381.2 259.7M408.8 171.4L410 167.8M580.6 32L581.7 38.4M502.1 112.7L497.4 112.2M562.2 89.5L563.9 90.8M432.8 71.9L432 73M422.3 193.1L425.1 191.5M535.4 127.6L534.1 123.5M588.4 32.4L597.4 25M563.8 241.5L551.3 245M499.8 126.6L512.8 122.9M489.8 233.2L490 235.9M549.7 48.7L543.4 52.7M537.6 63.8L534.1 69.5M471.2 67.3L472.3 62.8M473.7 212.7L477.6 210.8M579.2 207.9L580.5 206.3M608.1 15.5L608.1 11.4M430.5 68.4L430.9 63.9M473.6 255.3L474.7 259.5M384.4 133.3L382.5 132.2M467.2 249.6L470.2 246.5M397.1 155.7L396.2 159.8M592.6 221.1L590.8 220.1M525 126.7L525.1 130.3M491.8 137.2L489.4 134.2M399.3 212.1L410.7 213.1M580.8 136.3L584.5 139.3M474.7 121.4L471.1 124M383 239.4L383.6 234.9M616.9 45.5L611 43.3M598.3 11.3L601.9 12.3M584.9 202L583 204.1M574.8 109.4L578.9 108.9M592.7 75.7L592.2 79.3M414.2 79L419 79.6M558.1 203.3L558.4 199.2M377 110.1L377 107.4M414.1 252.4L417.1 248.9M522.3 188L524.3 191.8M459.2 76.7L460.4 78.1M412.6 161.3L412.4 165.4M384 149.2L388.3 147.8M394.7 182L396.2 177.5M561.2 25.6L562.8 30.4M620.7 208.6L621.5 212.8M447.7 130.3L455.3 122.5M578.7 79.5L576 77M401.8 109.7L404 108M462 79.9L459.2 76.7M521.8 131.1L519.6 133.2M422.9 206.1L424.5 206.6M497 259.8L500.5 260.1M562.2 86.2L561.1 82.9M411.1 70.2L407.2 70M459.7 212.8L464.1 215.2M405 223.1L406.8 226.5M618.2 258.1L615.3 255M610.9 39.4L616 40M497.9 80.1L498.3 79.8M383.1 196.7L384.8 197.2M483.6 156.1L480.4 152.9M503.8 252.1L506.9 250.2M590.4 246.1L589.6 251M497.8 87.2L495 85.9M542.5 245L542.8 241.7M561.2 217.4L558.1 223.7M567.6 102.8L565.4 116.1M528 78.1L524.5 81.1M597 201.6L595.8 212.4M474 156.5L473 154M396.2 177.5L392.9 174.2M414.2 79L413.9 75.8M606.6 62.2L607.9 65M614.1 201.6L614.6 198.4M440.4 198.9L439.4 194.4M529.6 110.5L531.6 107.2M591.7 139.3L589.2 138.9M456 127L454.7 132M618.2 258.1L617.7 260.4M535.9 108L535 109M583.5 141.8L588 142M398.4 136.1L402.3 135.3M613.5 172.5L617 175.9M416.2 252.8L413.8 255.9M453.2 87.4L449 86.5M473.7 132.6L476.9 130.9M428.9 164.9L427.7 161.7M524.8 149.3L524.1 148.4M414.9 119.7L416.1 117.4M575.5 236.2L575.8 234.3M604.1 271.5L596.4 260M405.8 80.5L403.9 79.7M520.5 149.7L518.7 147.1M429.4 107L430.3 102.1M404.6 233.9L400.9 237.3M496.7 64.8L496.9 64.7M546 108.4L549.2 106.4M439.5 15.1L439.7 18.4M616.6 129.4L617.8 127.7M398.1 159L403 157.4M435.4 120.7L434.3 125.7M403.3 153.1L405.4 150.5M597.4 19.5L596 14.9M438.2 163.4L441.1 160.9M582.9 24.8L579.8 20.6M566.8 30L568.6 32.8M411.3 250.1L409.4 250.2M519.9 255.7L520.8 250.8M397.5 42.3L394.7 46.6M616.9 14L618.3 23.3M523.5 242.2L521.6 239.8M486.3 175.7L484.9 181.3M404.2 247L408.5 248.3M471.4 184.9L480.2 175.6M475.3 129.2L476.9 130.9M438.8 167.5L438.2 163.4M447.5 26.7L447.2 30.1M507.2 237.5L505.6 229.2M468.1 259.3L463.1 258.4M499 25.2L495.6 26.2M460.5 195.5L460 191M388.6 110.6L391.7 106.9M503.8 99.3L506.6 104.3M602.4 120.4L607.2 122.9M614.1 201.6L609.9 204.8M595 33.9L594.3 32.1M575.7 53L572.1 51.6M467.5 271.8L466.4 269.9M577.1 244.3L578.2 240.7M492.4 123.2L488.9 126.6M601.4 64.8L602 62.3M550.7 195.7L549.7 192.7M482.8 149.7L490.2 137.9M571.4 153.2L571.7 149M447 268L447.9 263.3M382.2 63.3L378.1 64.4M524.8 149.3L520.5 149.7M623.2 24.3L615.5 30.9M397.1 110.9L401.8 109.7M557.6 262.3L560.4 258.8M553.5 102.2L548.1 93.3M581.9 244.1L586.5 242.6M462.7 129.8L462.9 125.4M595.5 94.5L591.1 92.9M457.4 157.3L461.1 152.3M583.2 78.2L587 81.7M409.7 18L406.5 20.9M618.5 22.4L618.3 23.3M468 131.7L476.2 130.4M432 163.5L428.9 164.9M435.4 24.9L437.3 25.8M472.3 99.4L462 104M424.5 206.6L422.9 206.1M385.1 93.1L388.1 96.6M397.3 242.3L400.7 242.7M576.5 124.8L578.2 129.1M533.1 206.9L536.7 203.4M568.3 138.9L562.9 145.8M503 69.9L505.4 75.8M541.7 252.7L544.5 254.9M399.8 76.4L399.1 75.7M568.1 26.8L563.4 24M614.5 99L617.3 100.1M425.8 210L424.5 206.6M482.6 148.2L479.7 150M414.5 250.3L416.2 252.8M525.5 248.8L523.4 250.1M552.2 155.9L551.8 142.3M619.2 156.2L618.5 154M535.4 133.1L535.1 136.7M540.4 41.2L544.2 44.1M404.9 199.1L409.5 187.4M563 61.4L562.7 60.6M574 164.4L571.3 176.9M584.7 266.7L585.3 264.4M545.9 254.5L546.8 258.4M462.3 191.7L462.5 196.8M563.4 222.5L561.5 223.6M432.3 35.6L434.9 31.4M609.4 196.2L609.2 195.6M596.7 216.1L595.3 211.8M387.1 151.4L386.5 148.5M383.8 186.4L384.7 189.1M380.4 196.2L377 191.1M549.9 240.2L549.6 243.5M625.9 165.3L627 171.1M508.1 65.7L509.1 66.2M473.4 158L485.1 165.5M403.3 19.9L403.4 16M454.2 175.5L454 171.1M429.3 42.9L426.4 46.1M590.8 112.5L579.6 118.5M550.5 83L548.6 87.1M524.5 113.9L520.3 115.1M596.9 130.5L599.5 127.9M508.5 268.6L508.1 272M380.8 140.1L379.5 139.1M434.6 76.5L434 75M442.9 21.7L445.2 27.5M438.7 212.8L440.4 208.5M542.8 117.5L547 115.7M618.9 264.1L620.9 267.9M586 47.3L587 51.4M555.8 34.6L554.2 29.8M561.8 215.2L557.5 218M434.3 125.7L438 127.3M490 235.9L485.9 239.1M398.3 129.5L395.5 126.5M444.7 255.2L446.5 255.6M503.2 159.2L507.1 157.9M593.8 190.6L590.2 193.3M405.6 66.3L407.9 62.8M566.7 112.8L568.4 116M529.7 245.7L527.1 246.5M516.4 195L514.4 191.2M594.3 148.7L597.6 150.5M608.1 15.5L603.3 16.9M409.5 252.7L408.1 254M535.2 191.3L537.7 191.9M578.8 163.5L579.1 167.5M387.3 41.7L382.2 41.5M596.8 187.1L593.5 189.3M529.6 195.7L526.1 197.4M447.9 250.2L441.8 256.8M579.4 220.1L582 224.4M378.8 213.4L380.8 209.5M406.5 74.2L407.7 69.9M605 198.8L609.2 195.6M509.3 260.1L510.9 256.5M622.4 176.6L622.6 181M530.7 183.5L533.3 181.6M433.4 148.2L430.3 145.1M458.6 146.2L454.4 144.5M534.1 69.5L537.7 71.6M589.5 67.2L585.4 61.5M478.2 226.5L482.9 227.8M588.1 240L584.2 238.7M463.1 209.8L464.4 204.8M421 239.4L425.8 239.1M485.9 77.2L488.7 74.3M557.2 269.4L557.9 265.5M454.7 198.8L464.9 197.7M608.8 85.8L600.4 89.6M615.7 17.3L613.9 17.3M578.8 101.2L573.7 99.7M424 40.8L425.8 39.5M613.5 269.3L612.3 267.8M611 43.6L607 45.5M623.7 166.2L620.1 164.9M493.5 58.9L496.9 61.5M488.3 40.2L492.2 41.4M527.4 144.1L525.6 143.6M555.4 33.2L552.8 37M523.4 72.6L524.1 65.9M394.5 30.1L390.5 28.1M609.8 72.2L612.8 72.3M588.5 259.3L584.2 259.3M463 46.6L466.7 47.4M567.9 58.9L566.4 67.2M429.3 197.6L425.9 195M568.4 116L566.9 117M479.2 91.4L478.3 94.3M545.8 124.4L545.7 126.4M470.8 132.1L459.3 129.9M565.4 242.7L565.8 241M508.4 7L521.8 10M455 262.6L457.7 259.7M444.3 25L441.1 29.3M476.3 40.8L481 39.7M542.5 96.7L549.7 92M444.4 99.4L442.7 103M409.3 20.8L412 17.1M379.1 180.6L378.8 175.8M394.7 182L392.2 179.9M435.3 12.9L439.5 15.1M579.8 20.6L581.9 16.2M459.8 141.4L464 143.1M537.7 191.9L542.6 189.9M615.4 154.9L615.2 152.2M441.2 216.1L438.7 212.8M441.1 29.9L444.4 26.6M555.4 81.8L551.8 80.3M539.9 227.3L539.3 226.6M457.4 157.3L458.8 152.2M439.5 70.5L440.6 75M524.8 149.3L527.7 153.5M604.6 59.8L606.6 62.2M582.6 152.3L583.2 149.4M562 183.9L560.3 179.9M415.1 113.1L416.1 117.4M429.3 200.5L429.3 197.6M469.9 125.8L480.2 122.5M417.3 214.4L418.7 214.3M455.7 104.2L456.8 109.7M586.4 64.8L588 61.9M598.4 24.5L592.5 15.7M577.6 125.3L576.8 120.6M519.3 27.3L518.1 23.7M496.7 64.8L499.6 61.4M576 101.4L574.3 98.2M427.5 48.1L424.3 51.9M481.5 236.9L483.2 231M606.1 256.7L602.7 259.5M566.5 93.7L570.7 92.3M413.9 75.8L409.6 77.2M460.8 82.2L457.2 84.3M407.1 34.2L415.5 37.1M606.9 150L608.8 147.4M511.6 229.6L503 219.1M519.6 133.2L520.9 137.7M587.9 41.2L590.2 43.8M399.9 100.8L403.9 98.5M513.5 219.2L513.7 223M611.6 229.5L615.4 227.6M511.2 120.5L511.2 123.1M537.5 75.6L533.7 77.6M400.4 172.5L397.9 167.8M408 100.9L407.8 104.1M506.8 63.6L509 62.1M598.8 65.3L602 62.3M564.6 36.3L564.9 31.7M555.1 137.5L554.7 140.3M406.2 46.6L407.7 48.8M409.4 250.2L408.5 248.3M380.6 51.6L377 49M584.7 266.7L581.9 265.6M610.1 262.2L613.9 260.2M623.9 135.7L620.1 134.9M484.9 175.4L486.3 175.7M410.3 120.6L410.6 116.9M421 156.3L418.5 152.1M560.8 122.9L563 118.5M447.5 26.7L445 24.6M617.7 179.4L618.4 180.3M622.2 36.7L625.3 48.9M436.4 139.4L433 138.7M518.2 241.6L515 243.7M463.9 113.6L466.8 117.4M574.4 82L582.4 80.5M612 156.4L608.5 154.4M381.7 113.5L384.2 117M581.2 249L581.9 244.1M543.3 45L539.7 43.4M384.6 173.4L384.9 178.1M618.4 122.8L606.2 116.5M438.3 209.3L434.3 209.9M477.3 95.9L480.6 95.2M466.9 224.9L464 221.2M464.4 116.3L468 117.1M620.5 111.3L622 114.1M418.8 95.6L420.5 98.6M578.8 49.1L581.9 46.2M495.9 134.9L494.8 122.8M472.2 15.3L476.4 14.5M395.3 144.2L392.3 145.1M408.3 207.8L413.3 207.8M496 213.5L500.1 211.5M438 127.3L441 122.8M571 115L574.8 117.6M598.7 121.7L602.4 120.4M479 156.8L485.8 160.4M442.9 21.7L439.4 21.4M433.1 246.6L430.7 249.7M576.5 124.8L577.6 125.3M461.9 222.8L457.5 220.4M386.7 174.7L382.2 173.6M519.2 242.4L516 238.8M541.9 245.9L546.7 247.3M418.7 224.6L419.8 226.3M567.4 230.2L568.8 231.1M446.8 209.6L450.5 208.1M412.9 99.7L415.7 100.9M446.9 172.9L449.6 169.4M592.5 187.5L592.4 186.3M431.7 169.8L426.9 170M560.9 92.4L562.2 89.5M619.5 212.4L618.3 215.7M569.9 51L569 47.4M437.6 116.6L433 113.2M510.3 216.9L512.2 214.6M534 228.1L539.9 227.3M609.4 216.9L607.2 213M622.6 23.2L618.5 22.4M398 194.5L401.2 196.7M531.5 215.7L533 213.4M388.1 254.7L392.1 251.8M416.4 208.1L428.9 205.6M479.1 207.2L478.5 203.7M399.8 76.4L393.9 75M389.4 54L391.5 57.7M484.2 58.7L481.2 61.5M450.7 62L453.9 64.1M452.2 62L453.9 64.1M604.1 105.2L597.3 104.5M566.6 162L563.2 159.4M392.5 11.3L393.1 13.5M443.7 101.2L445.6 98.5M443.7 64.5L445.6 62.2M452.3 73.6L450.4 79.2M492.2 53.9L488.8 53.2M414.3 48.6L417.6 49.4M377 107.4L378.8 105.2M586.3 97L589.4 100.7M563.3 21.1L559.8 17.6M613.2 60.3L608.5 58.4M483.2 79.1L481.3 78.5M406.9 13.5L408.2 10M611.7 69.7L608.5 73.1M520.1 207.2L521.6 203.3M525.5 248.8L529.4 251.7M397.3 56.1L403.5 68M567.6 23.9L562.3 19.1M382.9 182.8L378.4 172.2M510.1 11.1L514.8 10.7M545 129.9L540.5 129.5M414.1 252.4L416.2 252.8M438.3 120.8L437.6 116.6M492.1 93L488.7 89.9M470.8 239.4L473.9 230.7M463.9 237.1L466.7 237M451.4 116.7L450.6 116.6M393.8 214.5L392.7 213.8M522.3 188L523.5 185.2M390.3 212.4L391.1 209M499.3 252.1L498.2 247.8M510.5 44L512.9 47.3M618.1 79.2L616.7 81.6M438.7 252.7L441.2 256.3M419.8 134.8L416.9 133.6M466.2 123.7L465 122M448 211.8L446.8 209.6M478.2 242.8L471.8 232.3M491.5 56.7L488.4 59.5M481 39.7L483.4 42.8M462.9 24.8L461.5 28.2M467.8 155.5L471.3 153.4M481.1 70.9L484 72.8M609.7 170.1L609.8 165.7M507.8 238.5L509.3 242.3M377 76.1L377.6 73.9M612.4 147.6L614.9 152.1M556.7 206.3L549.8 210M399.2 252.4L398.3 256.9M428.8 46.1L426.4 46.1M419.9 191.7L419.8 193.4M399.9 103L409 99.8M498 218.6L499.8 223.4M406.6 120.3L406.5 119.7M607 45.5L603.1 43.3M378.1 64.4L377 62M598.7 66.7L600.1 68.2M425.4 31.3L435.3 35.8M499 30.3L505.1 19.5M406.7 230.4L404.7 230.9M447.3 99.6L442.2 110.6M448.9 70.6L450.5 66M428.3 224.1L434.4 219.2M394.2 187.2L398.3 190M408.5 175.9L404.2 178.7M535 15.9L535.7 10.9M548.2 174.5L551.2 171.6M571.4 35.8L562.2 33.5M517.2 141.3L512.3 140.3M615.4 73.7L611.7 69.7M437.4 21.8L437.3 25.8M611 255.5L614.9 255.6M403.6 23.8L404.5 25.9M589.5 81L587.7 81.6M527.5 73.9L530 75.5M468.4 154.3L464.3 154.9M432.8 167.2L431.7 169.8M382.5 133.2L383.5 136.4M524.5 81.1L520.4 79.8M431.2 114L441.1 119.1M613.9 13.2L615.5 12.2M610.9 39.4L609.1 38.7M539.6 105.8L537.5 108.3M417.1 248.9L411.3 250.1M507.1 157.9L512 159.4M382.1 79.2L385.8 77.9M450 262L451.1 265.4M613.3 108L610.6 107M530.1 117.8L533.1 121.3M464.8 35.6L465.2 36.5M413.6 57.1L411.6 61.8M609.9 232.3L611.6 229.5M616.8 264.2L617.4 255.7M508.1 65.7L510.5 69.1M466.9 222.9L466.9 224.9M541.9 65.1L537.6 63.8M503.6 174.1L501 170.7M382.6 15.8L384 9.1M396.3 140L395.3 144.2M420.3 119.2L424 118.7M432 39.8L430.5 38M388.4 20.7L390.1 21.6M424.6 41.3L415.6 38.4M477.9 116.8L475.5 108.1M584.5 144.3L580.8 146.3M428.3 6.7L427.8 15.3M419.1 176.6L414.4 189.3M579.8 53.3L577.3 55.7M528.5 256.5L523.7 258.6M458.4 98.9L458.9 101.6M437.2 31.4L436.8 35.5M458.4 225L462 221.8M389.3 25.3L386.8 28.1M498.3 180L500 184.4M597.4 12.6L608.1 15.5M478.1 79.8L483.2 79.1M395.9 237.1L382.8 233.5M591.3 166.8L592.4 171.3M398.8 80.2L400.3 82M456.5 218.4L458.7 222M525.7 143.9L527.4 133.3M571.2 234.4L571.6 234.6M601.1 242.8L597.9 243.7M583.2 124.7L573.2 127.6M589.5 135L592.4 131.5M535.4 242.1L535.9 246.4M621.1 161.1L619.2 156.2M579.4 220.1L581.2 216.9M400 34.9L400.8 32.4M456.9 9.9L458 12.5M557.7 75.9L556.3 75.1M594.5 67.3L589.6 67.5M434.3 39.8L436.5 40.5M580.5 206.3L583 204.1M614.6 198.4L614.1 201.6M435.4 120.7L431.6 121.9M400.1 149.4L409.6 140.5M595.7 238.6L596.3 241.7M424.5 164.8L425.9 164.5M574.4 259.6L577.3 262.5M446.7 135.3L433.2 134.9M579.6 217.3L569.2 217.9M389.3 171.2L386.7 174.7M592.2 218.1L595.2 216.5M580.7 256L583.6 258.4M514.3 199.7L509.3 198.4M523 210.5L520.1 207.2M386.2 182.3L384.9 178.1M466.1 148.6L469.3 151.1M589 225L589.9 229.2M572.1 51.6L569 47.4M500.5 11.5L500.4 17M511.8 237.1L511.6 240.1M403.4 16L406.6 13.1M568.4 37.4L566.4 39.1M440.6 46.1L446.9 48.7M386.8 28.1L385.1 27.2M590.8 86.8L586.6 84M481.3 228.8L480 226.1M613.1 35.5L618 37.2M480.4 152.9L479.7 150M402.9 251.1L415.3 256.4M454.9 226.4L466 229.4M435.9 254.5L436.7 258.9M504.3 132.5L515.4 127.1M613.7 217.4L609.4 216.9M384 149.2L380.8 149.3M583.1 242.3L581.9 244.1M627 107.2L627 109.6M387.7 157.7L388.7 153.6M538.6 46.8L537.6 42.6M571.4 265.6L570.9 260.9M394.7 46.6L389.6 46.3M407.9 62.8L411.7 63M618.5 154L615.4 154.9M610.6 109L614.1 109.3M471.4 146.6L462.5 145.1M597.6 184.5L596.8 187.1M559 16.8L555.8 16M616.9 45.5L620.3 42.8M589 190.2L592.5 187.5M379.7 110.7L377 110.1M544.2 44.1L545.2 48.3M616 36.8L620.2 35.8M411.9 148.7L409.4 150.5M398.9 67.5L399.3 71.6M466.2 123.7L467.5 123.2M590.2 43.8L588 46.6M466.2 123.7L469.3 126.3M517.6 80.7L519.6 83.9M594.3 148.7L595.1 148.7M488.7 74.3L492.4 75.5M587.9 125.9L590.5 121.9M427.7 190.6L431.1 193.3M430.5 38L432 39.8M575.9 63L575.6 67.5M577.8 270.5L588.5 267.7M484.6 76.8L485.9 77.2M492.7 159.2L490.8 155.9M548.8 19.4L549.4 23.9M572.2 170.3L575.7 170.8M532.2 144.1L527.4 144.1M391.4 270.6L386.4 271.9M587.4 231.7L584 230.2M377 103.3L377 98.8M382.3 268.8L383.2 264.4M609.7 170.1L612.5 167.6M520.3 183.3L530.4 183.7M567.2 31L562.8 30.4M517.4 109.9L521.2 109.3M574.3 220.2L579.4 220.1M533 213.4L535.9 210.1M432 39.8L430 43.1M601.2 155.6L595.7 151.1M442.9 38.5L446.9 38.6M424.5 206.6L426.2 201.9M551.1 44.9L562.4 42.5M521.9 152.6L524.1 148.4M398.2 27.7L394.5 30.1M535.9 246.4L538.4 249.1M471.2 267.3L470.8 265.4M383.1 50.2L385.9 52.1M523.4 250.1L525.5 248.8M467.8 155.5L468.4 154.3M462 149.2L466.1 148.6M383.2 205.2L380.8 209.5M440 14.1L443.6 14.4M411.2 224.5L412 221.1M409.5 49.8L410.3 52.9M562.1 202.8L552.5 193.5M380.5 57.5L383.4 59.9M503.5 106.5L506.6 104.3M531.5 10.9L535.7 10.9M393.8 214.5L395.7 211.4M499.8 222L495.8 218.7M594.3 32.1L595 33.9M454 253.4L451.3 255.9M517.3 14.7L514.5 11.3M540.4 169L552 168.3M509.6 225.6L505.3 224.3M456.7 163.9L461.3 162.2M435 189.6L431 190.7M471.5 232.6L474.6 232.5M578.8 101.2L581.1 97.3M409.4 150.5L411.1 155.5M613.3 108L614.1 109.3M616.7 171.6L611.8 172.1M534.5 140.4L532.2 144.1M618.4 157.6L622.6 157.7M377 185.2L379.3 184.5M535 109L532.7 105.3M479.6 164.6L466.7 160.1M400.9 211.3L404 214.3M540.4 8.8L540.8 6M582.9 223.4L582.9 218.1M457.5 220.4L456.3 215.4M504.3 21.7L500.9 31.9M517.9 243.3L521.6 239.8M408.1 91.6L408.9 94.9M486.1 64.2L487.5 69.1M482.9 213.1L483.8 210.2M475.4 180.3L478.1 181.3M513.3 219.3L513.5 219.2M583.9 80.4L584.4 76.9M399.8 27.5L398.6 31.7M513.8 203.9L512.2 207.8M481.2 203L483.3 201.3M435.7 68.2L439.5 70.5M469.3 151.1L468.4 154.3M513.7 211.9L512.2 214.6M551.4 189.4L549.7 192.7M505.2 118.1L509.4 119.6M469.3 151.1L474.4 150.4M467.7 252.1L467.2 249.6M486.6 269.5L498.3 262.9M481.3 157.2L485.9 159.4M505.1 82.9L500.5 83.5" stroke="#e8e820" stroke-width="1.6" fill="none" stroke-linecap="round"/>
<circle cx="493.8" cy="148.3" r="4.7" fill="url(#gO)"/>
<circle cx="497.1" cy="151.2" r="4.2" fill="url(#gC)"/>
<circle cx="500.5" cy="154.1" r="4.7" fill="url(#gO)"/>
<circle cx="384.1" cy="206.3" r="4.4" fill="url(#gO)"/>
<circle cx="384.7" cy="203.9" r="3.9" fill="url(#gC)"/>
<circle cx="385.3" cy="201.5" r="4.4" fill="url(#gO)"/>
<circle cx="515.5" cy="156.4" r="4.7" fill="url(#gO)"/>
<circle cx="512.3" cy="151.2" r="4.2" fill="url(#gC)"/>
<circle cx="509.1" cy="146" r="4.7" fill="url(#gO)"/>
<circle cx="448.4" cy="185.5" r="4.1" fill="url(#gO)"/>
<circle cx="444.5" cy="190" r="3.6" fill="url(#gC)"/>
<circle cx="522.9" cy="202.6" r="4.1" fill="url(#gO)"/>
<circle cx="528.3" cy="203" r="3.6" fill="url(#gC)"/>
<circle cx="533.6" cy="203.4" r="4.1" fill="url(#gO)"/>
<circle cx="600.9" cy="95.1" r="4.8" fill="url(#gO)"/>
<circle cx="602.5" cy="93" r="4.3" fill="url(#gC)"/>
<circle cx="604.2" cy="90.8" r="4.8" fill="url(#gO)"/>
<circle cx="395" cy="234" r="4.2" fill="url(#gO)"/>
<circle cx="399.7" cy="231.7" r="3.7" fill="url(#gC)"/>
<circle cx="404.5" cy="229.3" r="4.2" fill="url(#gO)"/>
<circle cx="419" cy="82.8" r="4" fill="url(#gO)"/>
<circle cx="423.9" cy="86.1" r="3.6" fill="url(#gC)"/>
<circle cx="428.9" cy="89.3" r="4" fill="url(#gO)"/>
<circle cx="402.4" cy="207.2" r="4" fill="url(#gO)"/>
<circle cx="405.8" cy="206" r="3.6" fill="url(#gC)"/>
<circle cx="409.3" cy="204.8" r="4" fill="url(#gO)"/>
<circle cx="426.7" cy="72" r="4.8" fill="url(#gO)"/>
<circle cx="433.2" cy="73.7" r="4.3" fill="url(#gC)"/>
<circle cx="439.7" cy="75.3" r="4.8" fill="url(#gO)"/>
<circle cx="623.6" cy="62.8" r="4.7" fill="url(#gO)"/>
<circle cx="624.2" cy="67.1" r="4.2" fill="url(#gC)"/>
<circle cx="624.8" cy="71.4" r="4.7" fill="url(#gO)"/>
<circle cx="617.1" cy="249.7" r="4.7" fill="url(#gO)"/>
<circle cx="617.6" cy="254.5" r="4.2" fill="url(#gC)"/>
<circle cx="618.1" cy="259.2" r="4.7" fill="url(#gO)"/>
<circle cx="488.3" cy="108.6" r="3.9" fill="url(#gO)"/>
<circle cx="483.1" cy="110.7" r="3.5" fill="url(#gC)"/>
<circle cx="477.8" cy="112.9" r="3.9" fill="url(#gO)"/>
<circle cx="463.2" cy="17.1" r="4.3" fill="url(#gO)"/>
<circle cx="467.3" cy="13.2" r="3.9" fill="url(#gC)"/>
<circle cx="471.3" cy="9.4" r="4.3" fill="url(#gO)"/>
<circle cx="527" cy="95" r="3.9" fill="url(#gO)"/>
<circle cx="529" cy="91.8" r="3.5" fill="url(#gC)"/>
<circle cx="531.1" cy="88.6" r="3.9" fill="url(#gO)"/>
<circle cx="393.9" cy="189.6" r="4" fill="url(#gO)"/>
<circle cx="391.6" cy="191.1" r="3.6" fill="url(#gC)"/>
<circle cx="389.4" cy="192.5" r="4" fill="url(#gO)"/>
<circle cx="389.4" cy="228.5" r="3.9" fill="url(#gO)"/>
<circle cx="392.4" cy="228.7" r="3.5" fill="url(#gC)"/>
<circle cx="395.5" cy="228.9" r="3.9" fill="url(#gO)"/>
<circle cx="565.6" cy="16.3" r="4.6" fill="url(#gO)"/>
<circle cx="569.8" cy="19" r="4.1" fill="url(#gC)"/>
<circle cx="573.9" cy="21.7" r="4.6" fill="url(#gO)"/>
<circle cx="519.8" cy="61.4" r="4.3" fill="url(#gO)"/>
<circle cx="518.7" cy="62.8" r="3.8" fill="url(#gC)"/>
<circle cx="517.6" cy="64.1" r="4.3" fill="url(#gO)"/>
<circle cx="600.7" cy="216.6" r="4.1" fill="url(#gO)"/>
<circle cx="601.3" cy="220.8" r="3.6" fill="url(#gC)"/>
<circle cx="601.9" cy="225" r="4.1" fill="url(#gO)"/>
<circle cx="389.5" cy="158.3" r="4.5" fill="url(#gO)"/>
<circle cx="392.3" cy="155.1" r="4.1" fill="url(#gC)"/>
<circle cx="395.1" cy="152" r="4.5" fill="url(#gO)"/>
<circle cx="583" cy="233" r="4.6" fill="url(#gO)"/>
<circle cx="581.4" cy="234.1" r="4.1" fill="url(#gC)"/>
<circle cx="579.8" cy="235.1" r="4.6" fill="url(#gO)"/>
<circle cx="489" cy="100.2" r="4.7" fill="url(#gO)"/>
<circle cx="489.6" cy="96.5" r="4.2" fill="url(#gC)"/>
<circle cx="490.2" cy="92.7" r="4.7" fill="url(#gO)"/>
<circle cx="438" cy="142" r="4.4" fill="url(#gO)"/>
<circle cx="439" cy="137.7" r="3.9" fill="url(#gC)"/>
<circle cx="440" cy="133.4" r="4.4" fill="url(#gO)"/>
<circle cx="619" cy="110.4" r="3.9" fill="url(#gO)"/>
<circle cx="617.6" cy="112.9" r="3.5" fill="url(#gC)"/>
<circle cx="616.1" cy="115.4" r="3.9" fill="url(#gO)"/>
<circle cx="507.1" cy="9.8" r="4.6" fill="url(#gO)"/>
<circle cx="503" cy="14.5" r="4.1" fill="url(#gC)"/>
<circle cx="499" cy="19.1" r="4.6" fill="url(#gO)"/>
<circle cx="419.5" cy="153" r="4.3" fill="url(#gO)"/>
<circle cx="422.4" cy="149.4" r="3.9" fill="url(#gC)"/>
<circle cx="425.3" cy="145.8" r="4.3" fill="url(#gO)"/>
<circle cx="532.5" cy="242.1" r="4.5" fill="url(#gO)"/>
<circle cx="530.5" cy="243" r="4.1" fill="url(#gC)"/>
<circle cx="528.5" cy="244" r="4.5" fill="url(#gO)"/>
<circle cx="466.9" cy="18.5" r="3.9" fill="url(#gO)"/>
<circle cx="467.7" cy="19.8" r="3.5" fill="url(#gC)"/>
<circle cx="468.6" cy="21.1" r="3.9" fill="url(#gO)"/>
<circle cx="511.6" cy="226.6" r="4.3" fill="url(#gO)"/>
<circle cx="510.2" cy="229.2" r="3.9" fill="url(#gC)"/>
<circle cx="508.7" cy="231.7" r="4.3" fill="url(#gO)"/>
<circle cx="407.4" cy="14.1" r="4.2" fill="url(#gO)"/>
<circle cx="409.5" cy="13.2" r="3.8" fill="url(#gC)"/>
<circle cx="411.5" cy="12.3" r="4.2" fill="url(#gO)"/>
<circle cx="615" cy="228.3" r="4.7" fill="url(#gO)"/>
<circle cx="609.8" cy="228.5" r="4.2" fill="url(#gC)"/>
<circle cx="604.6" cy="228.8" r="4.7" fill="url(#gO)"/>
<circle cx="377.5" cy="190.9" r="4.5" fill="url(#gO)"/>
<circle cx="379.9" cy="192.7" r="4" fill="url(#gC)"/>
<circle cx="382.2" cy="194.5" r="4.5" fill="url(#gO)"/>
<circle cx="468.7" cy="174.3" r="3.9" fill="url(#gO)"/>
<circle cx="467" cy="178.2" r="3.5" fill="url(#gC)"/>
<circle cx="465.4" cy="182" r="3.9" fill="url(#gO)"/>
<circle cx="586.5" cy="248.7" r="4" fill="url(#gO)"/>
<circle cx="588.9" cy="247.1" r="3.6" fill="url(#gC)"/>
<circle cx="591.2" cy="245.6" r="4" fill="url(#gO)"/>
<circle cx="531.5" cy="13" r="4.6" fill="url(#gO)"/>
<circle cx="533.2" cy="12" r="4.1" fill="url(#gC)"/>
<circle cx="534.9" cy="10.9" r="4.6" fill="url(#gO)"/>
<circle cx="466.9" cy="264.1" r="4" fill="url(#gO)"/>
<circle cx="463.1" cy="262.5" r="3.6" fill="url(#gC)"/>
<circle cx="459.3" cy="260.9" r="4" fill="url(#gO)"/>
<circle cx="425.7" cy="109.9" r="4.4" fill="url(#gO)"/>
<circle cx="423.2" cy="111.7" r="4" fill="url(#gC)"/>
<circle cx="379.8" cy="244.6" r="4.4" fill="url(#gO)"/>
<circle cx="381.6" cy="245.2" r="3.9" fill="url(#gC)"/>
<circle cx="383.3" cy="245.8" r="4.4" fill="url(#gO)"/>
<circle cx="395.9" cy="93.2" r="4.7" fill="url(#gO)"/>
<circle cx="392.9" cy="87.4" r="4.2" fill="url(#gC)"/>
<circle cx="390" cy="81.6" r="4.7" fill="url(#gO)"/>
<circle cx="575" cy="218" r="4.1" fill="url(#gO)"/>
<circle cx="571.7" cy="221.6" r="3.7" fill="url(#gC)"/>
<circle cx="568.4" cy="225.2" r="4.1" fill="url(#gO)"/>
<circle cx="441.8" cy="71.5" r="4.1" fill="url(#gO)"/>
<circle cx="444.8" cy="72.2" r="3.7" fill="url(#gC)"/>
<circle cx="447.9" cy="72.8" r="4.1" fill="url(#gO)"/>
<circle cx="550.7" cy="84.2" r="4.7" fill="url(#gO)"/>
<circle cx="546.4" cy="84.5" r="4.2" fill="url(#gC)"/>
<circle cx="542.1" cy="84.9" r="4.7" fill="url(#gO)"/>
<circle cx="376.8" cy="34.5" r="4.1" fill="url(#gO)"/>
<circle cx="379" cy="36.7" r="3.7" fill="url(#gC)"/>
<circle cx="381.2" cy="38.8" r="4.1" fill="url(#gO)"/>
<circle cx="426.2" cy="38.6" r="4.1" fill="url(#gO)"/>
<circle cx="426" cy="35.7" r="3.7" fill="url(#gC)"/>
<circle cx="425.8" cy="32.8" r="4.1" fill="url(#gO)"/>
<circle cx="602.2" cy="198.4" r="4.3" fill="url(#gO)"/>
<circle cx="601.7" cy="203.9" r="3.9" fill="url(#gC)"/>
<circle cx="601.3" cy="209.4" r="4.3" fill="url(#gO)"/>
<circle cx="574.9" cy="164.1" r="3.9" fill="url(#gO)"/>
<circle cx="572.6" cy="166.1" r="3.5" fill="url(#gC)"/>
<circle cx="570.3" cy="168.1" r="3.9" fill="url(#gO)"/>
<circle cx="375.3" cy="11.1" r="3.9" fill="url(#gO)"/>
<circle cx="379.5" cy="8" r="3.5" fill="url(#gC)"/>
<circle cx="383.7" cy="4.9" r="3.9" fill="url(#gO)"/>
<circle cx="424.5" cy="139.4" r="4.8" fill="url(#gO)"/>
<circle cx="426.4" cy="143.1" r="4.3" fill="url(#gC)"/>
<circle cx="403.9" cy="219.4" r="4.2" fill="url(#gO)"/>
<circle cx="407.8" cy="215.1" r="3.7" fill="url(#gC)"/>
<circle cx="411.8" cy="210.8" r="4.2" fill="url(#gO)"/>
<circle cx="424" cy="62.4" r="4.1" fill="url(#gO)"/>
<circle cx="422.6" cy="60.7" r="3.7" fill="url(#gC)"/>
<circle cx="421.1" cy="59" r="4.1" fill="url(#gO)"/>
<circle cx="441.7" cy="65.9" r="4" fill="url(#gO)"/>
<circle cx="445.7" cy="62" r="3.6" fill="url(#gC)"/>
<circle cx="449.6" cy="58" r="4" fill="url(#gO)"/>
<circle cx="583" cy="217.4" r="4" fill="url(#gO)"/>
<circle cx="588.3" cy="215.8" r="3.6" fill="url(#gC)"/>
<circle cx="593.6" cy="214.2" r="4" fill="url(#gO)"/>
<circle cx="511.2" cy="94.3" r="4.2" fill="url(#gO)"/>
<circle cx="508.6" cy="96.8" r="3.7" fill="url(#gC)"/>
<circle cx="506" cy="99.2" r="4.2" fill="url(#gO)"/>
<circle cx="408.8" cy="127.6" r="4.3" fill="url(#gO)"/>
<circle cx="407" cy="126.8" r="3.9" fill="url(#gC)"/>
<circle cx="403.1" cy="193.8" r="4.3" fill="url(#gO)"/>
<circle cx="406.6" cy="190.5" r="3.9" fill="url(#gC)"/>
<circle cx="410" cy="187.3" r="4.3" fill="url(#gO)"/>
<circle cx="627.8" cy="37.2" r="3.9" fill="url(#gO)"/>
<circle cx="625" cy="34.5" r="3.5" fill="url(#gC)"/>
<circle cx="622.2" cy="31.7" r="3.9" fill="url(#gO)"/>
<circle cx="567.1" cy="220.8" r="4.1" fill="url(#gO)"/>
<circle cx="565.5" cy="222" r="3.7" fill="url(#gC)"/>
<circle cx="401.4" cy="171.4" r="4.7" fill="url(#gO)"/>
<circle cx="397.4" cy="165.7" r="4.2" fill="url(#gC)"/>
<circle cx="393.4" cy="160" r="4.7" fill="url(#gO)"/>
<circle cx="610.8" cy="208" r="4.1" fill="url(#gO)"/>
<circle cx="615.3" cy="208.7" r="3.6" fill="url(#gC)"/>
<circle cx="619.8" cy="209.5" r="4.1" fill="url(#gO)"/>
<circle cx="443.7" cy="219.7" r="4.6" fill="url(#gO)"/>
<circle cx="439.3" cy="220.2" r="4.1" fill="url(#gC)"/>
<circle cx="434.9" cy="220.7" r="4.6" fill="url(#gO)"/>
<circle cx="557.3" cy="61" r="4.6" fill="url(#gO)"/>
<circle cx="558.7" cy="58.5" r="4.1" fill="url(#gC)"/>
<circle cx="560.1" cy="56" r="4.6" fill="url(#gO)"/>
<circle cx="572.6" cy="151" r="4" fill="url(#gO)"/>
<circle cx="571.1" cy="154.4" r="3.6" fill="url(#gC)"/>
<circle cx="569.6" cy="157.8" r="4" fill="url(#gO)"/>
<circle cx="487.1" cy="10.7" r="3.9" fill="url(#gO)"/>
<circle cx="488.8" cy="11.7" r="3.5" fill="url(#gC)"/>
<circle cx="490.5" cy="12.8" r="3.9" fill="url(#gO)"/>
<circle cx="467.2" cy="141.1" r="4.4" fill="url(#gO)"/>
<circle cx="472.1" cy="138.9" r="3.9" fill="url(#gC)"/>
<circle cx="457.4" cy="32.2" r="4.1" fill="url(#gO)"/>
<circle cx="453.5" cy="33.4" r="3.7" fill="url(#gC)"/>
<circle cx="449.6" cy="34.5" r="4.1" fill="url(#gO)"/>
<circle cx="608.9" cy="32.6" r="4.5" fill="url(#gO)"/>
<circle cx="606.1" cy="33.1" r="4" fill="url(#gC)"/>
<circle cx="603.3" cy="33.5" r="4.5" fill="url(#gO)"/>
<circle cx="493.3" cy="123.6" r="4.8" fill="url(#gO)"/>
<circle cx="491.7" cy="124.3" r="4.3" fill="url(#gC)"/>
<circle cx="432.2" cy="13.4" r="4.4" fill="url(#gO)"/>
<circle cx="429.2" cy="12.6" r="3.9" fill="url(#gC)"/>
<circle cx="487.6" cy="165.2" r="4.4" fill="url(#gO)"/>
<circle cx="489.5" cy="163" r="3.9" fill="url(#gC)"/>
<circle cx="491.5" cy="160.8" r="4.4" fill="url(#gO)"/>
<circle cx="519.7" cy="71.9" r="3.8" fill="url(#gO)"/>
<circle cx="521.9" cy="75.8" r="3.4" fill="url(#gC)"/>
<circle cx="524" cy="79.8" r="3.8" fill="url(#gO)"/>
<circle cx="595.5" cy="29.8" r="4.7" fill="url(#gO)"/>
<circle cx="594.1" cy="24.8" r="4.2" fill="url(#gC)"/>
<circle cx="417.4" cy="68" r="4.2" fill="url(#gO)"/>
<circle cx="417.9" cy="74.1" r="3.7" fill="url(#gC)"/>
<circle cx="418.4" cy="80.3" r="4.2" fill="url(#gO)"/>
<circle cx="572.7" cy="47.3" r="4.5" fill="url(#gO)"/>
<circle cx="566.1" cy="48.5" r="4" fill="url(#gC)"/>
<circle cx="559.5" cy="49.7" r="4.5" fill="url(#gO)"/>
<circle cx="524.6" cy="15.2" r="4.4" fill="url(#gO)"/>
<circle cx="528.3" cy="20.1" r="3.9" fill="url(#gC)"/>
<circle cx="531.9" cy="25" r="4.4" fill="url(#gO)"/>
<circle cx="409" cy="137.1" r="4.4" fill="url(#gO)"/>
<circle cx="411" cy="135.6" r="3.9" fill="url(#gC)"/>
<circle cx="412.9" cy="134" r="4.4" fill="url(#gO)"/>
<circle cx="480.1" cy="91.8" r="4.8" fill="url(#gO)"/>
<circle cx="473.3" cy="92" r="4.3" fill="url(#gC)"/>
<circle cx="466.5" cy="92.2" r="4.8" fill="url(#gO)"/>
<circle cx="512" cy="133.8" r="4" fill="url(#gO)"/>
<circle cx="512.2" cy="132.3" r="3.6" fill="url(#gC)"/>
<circle cx="512.3" cy="130.8" r="4" fill="url(#gO)"/>
<circle cx="523.4" cy="225.4" r="4.1" fill="url(#gO)"/>
<circle cx="522.5" cy="230" r="3.7" fill="url(#gC)"/>
<circle cx="521.7" cy="234.5" r="4.1" fill="url(#gO)"/>
<circle cx="486.5" cy="87.7" r="4" fill="url(#gO)"/>
<circle cx="483.1" cy="89.4" r="3.6" fill="url(#gC)"/>
<circle cx="479.8" cy="91.2" r="4" fill="url(#gO)"/>
<circle cx="415" cy="57.5" r="4.7" fill="url(#gO)"/>
<circle cx="414.8" cy="51.6" r="4.2" fill="url(#gC)"/>
<circle cx="414.6" cy="45.7" r="4.7" fill="url(#gO)"/>
<circle cx="495.3" cy="58.4" r="4.7" fill="url(#gO)"/>
<circle cx="490.9" cy="58.4" r="4.2" fill="url(#gC)"/>
<circle cx="424.7" cy="153.3" r="4.1" fill="url(#gO)"/>
<circle cx="428.8" cy="152.3" r="3.7" fill="url(#gC)"/>
<circle cx="432.9" cy="151.3" r="4.1" fill="url(#gO)"/>
<circle cx="550.7" cy="26" r="4.6" fill="url(#gO)"/>
<circle cx="551.2" cy="23.1" r="4.1" fill="url(#gC)"/>
<circle cx="551.7" cy="20.2" r="4.6" fill="url(#gO)"/>
<circle cx="454.4" cy="62.3" r="3.9" fill="url(#gO)"/>
<circle cx="457.6" cy="65.3" r="3.5" fill="url(#gC)"/>
<circle cx="460.8" cy="68.3" r="3.9" fill="url(#gO)"/>
<circle cx="535.3" cy="261.7" r="4.2" fill="url(#gO)"/>
<circle cx="534.5" cy="260.2" r="3.8" fill="url(#gC)"/>
<circle cx="533.7" cy="258.8" r="4.2" fill="url(#gO)"/>
<circle cx="497.4" cy="24.3" r="3.8" fill="url(#gO)"/>
<circle cx="495" cy="20.8" r="3.4" fill="url(#gC)"/>
<circle cx="492.6" cy="17.3" r="3.8" fill="url(#gO)"/>
<circle cx="622.6" cy="165" r="4.3" fill="url(#gO)"/>
<circle cx="625" cy="166.9" r="3.8" fill="url(#gC)"/>
<circle cx="627.4" cy="168.9" r="4.3" fill="url(#gO)"/>
<circle cx="453.2" cy="12.7" r="4" fill="url(#gO)"/>
<circle cx="453.1" cy="9.9" r="3.5" fill="url(#gC)"/>
<circle cx="453.1" cy="7" r="4" fill="url(#gO)"/>
<circle cx="388.2" cy="26.8" r="4.4" fill="url(#gO)"/>
<circle cx="393.4" cy="27.5" r="4" fill="url(#gC)"/>
<circle cx="510.3" cy="17.1" r="4.4" fill="url(#gO)"/>
<circle cx="511.1" cy="14.5" r="3.9" fill="url(#gC)"/>
<circle cx="511.9" cy="12" r="4.4" fill="url(#gO)"/>
<circle cx="453.7" cy="201.3" r="4.5" fill="url(#gO)"/>
<circle cx="453.2" cy="197.1" r="4" fill="url(#gC)"/>
<circle cx="452.8" cy="193" r="4.5" fill="url(#gO)"/>
<circle cx="382.2" cy="83.8" r="3.9" fill="url(#gO)"/>
<circle cx="384.9" cy="85.9" r="3.5" fill="url(#gC)"/>
<circle cx="387.6" cy="88.1" r="3.9" fill="url(#gO)"/>
<circle cx="573.7" cy="194.9" r="4.3" fill="url(#gO)"/>
<circle cx="574.6" cy="197.4" r="3.9" fill="url(#gC)"/>
<circle cx="575.5" cy="200" r="4.3" fill="url(#gO)"/>
<circle cx="461" cy="129.9" r="4" fill="url(#gO)"/>
<circle cx="464.1" cy="130.1" r="3.6" fill="url(#gC)"/>
<circle cx="467.2" cy="130.2" r="4" fill="url(#gO)"/>
<path d="M377 142.4L379.5 139.1M433 138.7L433 134.4M565 76L562.4 77.8M610.8 233.8L609 236M572.9 178.4L576.3 174.5M414.1 199.5L412.3 195.4M506.6 104.3L509.5 106.3M395.6 250.5L394.7 246.2M623.3 20.9L622.6 23.2M583.3 41.3L587.9 41.2M599.5 27.5L599.8 23.3M383.5 136.4L380.8 140.1M576.3 174.5L572.2 170.3M457.2 84.5L458.3 88.4M473 152.9L482.4 154.2M618.1 220.4L616.5 216.6M415.8 221.2L418.7 224.6M429.7 157.2L432.8 155.8M609.1 188L611.8 185.2M510.6 168.9L513.1 173.9M498.5 266.6L496 263.1M531.5 215.7L529.2 217.6M474.2 248.2L471.2 251.3M476.8 260.3L474.7 259.5M612.9 93.6L611.8 97.5M457.2 254.8L457.5 259.7M565.4 57.9L558.2 56.8M566.6 121.6L566.9 117M441.1 29.3L436.6 29.3M510.9 241.6L509.3 242.3M446.9 66.5L450.7 69.4M490 37.3L484.7 34M605.7 143.7L608.3 140.4M499.8 223.4L497.6 227.4M473.9 263.7L479.1 264.3M585.9 81.1L584.6 85.5M610.6 107L611.5 105.9M486.6 178.1L491.3 174.1M509.4 25.2L512.5 22.7M582 230.6L584 230.2M407.2 70L405.6 66.3M478.2 236.3L478.8 240.1M456.1 168.4L456.7 163.9M382.5 121.2L378.3 122M382.2 247.7L384.2 250.4M410.6 143.1L407 141.1M469.8 18L466.7 20.9M533 220.7L537.2 223.1M578.6 70.5L575.6 67.5M418.3 108.6L423.2 105.3M395.5 126.5L393.4 129.4M494.5 43.5L492.4 32.9M386 260.7L377 258.4M446.9 66.5L443.7 64.5M409.9 15.2L406.9 13.5M498.3 180L500.8 177.1M382.5 133.2L382.5 132.2M510.9 125.5L504.6 128.5M505.3 224.3L505.1 220.5M473.5 77.1L470 75.7M574.5 183.1L572.9 178.4M414.3 48.6L413.5 50.8M498.2 247.8L501.5 244.7M444.7 81.9L445.8 86.3M415.5 85.4L410.8 84.8M537 100.1L533.1 93.1M399.8 268.5L402.8 265.5M464.1 266.2L467.5 265.7M529.8 31.3L529.8 21.3M527.6 103.8L531.2 104.1M508.5 173.2L503.6 174.1M421.3 124.8L417.5 123.4M509.5 39.7L513.3 36.5M602 235.3L605.7 234.1M589.9 88.6L593.2 85.9M545.9 245.9L542.5 245M555.1 155.5L555 150.6M535.1 59.8L541.3 52M521.8 231.6L525.4 229.7M535.1 254.1L539.2 261.9M512.6 267.7L508.5 268.6M560.2 48.2L563.8 46.5M549.4 166.7L545.8 165.1M505.5 219L503.3 207M415.7 211.5L413.3 215.2M592.4 131.5L595 131.9M501 140.6L501.6 143.6M465.4 233.6L466.3 236.8M594.4 86.7L593.2 85.9M596 14.9L596.2 16.8M589.9 255.5L588.5 259.3M607.9 65L614.7 64.8M626.5 226.8L623.3 228.6M532 114.6L529.6 110.5M407.5 70.7L406.5 59.7M529.6 14.7L524.9 14.6M389.9 16L390.4 21M583 204.1L578.4 204M422.3 193.1L419.8 193.4M500 159.2L501.2 164M391.2 137.7L391.7 137M523.4 72.6L527.5 73.9M492.4 119.5L492.4 123.2M418.7 243.1L414.5 243.4M479.7 126.6L482.9 124M609 191.3L611.5 192.7M523.8 237.5L521.6 239.8M493.7 43.2L492.5 47.3M398 194.5L393.6 196.4M482.7 197.3L476.5 196.4M597.8 222.3L597 219.9M481.5 84.6L476.5 85.3M574.2 150.7L577 141.8M581.7 237.9L584.2 238.7M382.5 132.2L382.6 127.8M480.2 133.9L479.9 129.9M557.1 208.2L560.4 206.9M415.5 153.2L419.6 155.7M547 42.7L549.2 38.7M609.4 196.2L604.8 198.3M453.3 225.3L451 221.6M405.8 111.5L405.1 114.4M452.7 218.2L456.5 218.4M408.7 75.8L409.8 78.8M616.4 32.1L612.3 32.2M560.2 244.1L560.3 240.2M439.8 135.8L436.4 139.4M390.4 23.6L389.3 25.3M477.6 144.5L475 157.9M523.4 47.4L518.8 49M474.8 82.9L478.1 79.8M543.8 267.9L544.5 263.3M426.8 68.1L425 72.7M477.3 154.7L474 156.5M538.4 109.2L535 109M611.2 27.8L614.2 23.4M478.1 71.9L477.5 75.2M504.6 237.4L504.8 234.4M448 159.8L449.1 152.1M420 118.7L422.6 122.4M540.2 120.9L541.5 125.1M491.3 59.5L478.1 62.9M384.5 35.5L383.2 30.8M456.5 218.4L457.5 220.4M495.8 51.3L502 52.5M431.6 109.4L429.4 107M402.2 18.7L405.7 21.5M556.4 48.2L559.4 48.9M470.8 64.5L465.5 64M456.5 211L452.9 212.5M464.4 239.8L463.9 237.1M478.7 16.1L476.9 18.5M383 98.7L383.5 103.2M624.7 101.3L621.2 102.4M522.8 178.6L526.2 181.6M548.8 240.5L546.6 237.4M598.1 87L595 74.3M386.5 130.1L388.2 129.8M440.4 131.8L437 124.4M534.2 269.8L536.6 266M430.9 177.2L427.2 179.4M585.5 223.5L589 225M438.6 131.8L436.4 130.8M599.5 127.9L601.9 129.4M580.7 96.5L579.2 100.6M599.1 136.1L600.1 134.9M464.3 154.9L461.1 152.3M533.5 124.8L531 124.7M512.9 47.3L514.9 45.8M553.5 12.3L554.3 9.4M429.3 164.7L428.9 164.9M612.4 33.8L615 32.2M485.7 43.4L488.3 40.2M402.9 223.6L405 223.1M466.7 109.3L473.2 100.8M483.8 210.2L485.3 209M505.7 144.2L506.5 147.9M429.4 249.8L427.7 249.2M546.7 247.3L545.9 245.9M623.9 254.5L619.6 256.2M410.5 250.9L411.3 250.1M485.9 193.9L489.8 194.4M392.6 224.4L395 227.2M390 37.5L395.1 37.7M473.7 116.7L471.7 121.3M587 51.4L583.9 54.4M534.6 211.8L533.1 206.9M589.9 156.4L590.4 151.7M385.9 52.1L389.4 54M381.1 221.4L380.8 225M404 214.3L402 217.5M526.6 229L530 226.5M377 137.2L378.9 133.6M509.3 242.3L510.9 241.6M449.6 42L448.2 45.4M484.6 169.8L488.3 167.6M403.6 230L394.9 232.5M608.8 147.4L612.4 147.6M537.7 22.6L542.2 23.3M483.4 141.8L481.5 140M614.1 163.9L617.4 167.2M562.3 63.5L558 64.6M464.2 169.8L471.4 169.6M444.7 64.6L442.6 64.6M468.3 227.1L464.6 230.3M531.3 252.6L534.9 251.6M560.8 122.9L563 126.5M429.3 256.2L432.2 253.1M389.9 82.5L394.1 83.4M456.9 249.8L452.6 246.9M490 173.5L486.3 175.7M547.5 270L543.8 267.9M615.3 252.1L619.6 250.4M478.7 251.8L480.8 252.6M479.5 150.3L477.3 154.7M547.7 111.7L557.8 103.8M523.8 237.5L521 235.5M611.6 45.2L612.9 43.6M558.6 19.2L557.5 23.8M584 230.2L583 226M566.1 134.5L572.4 129.4M433.3 41.6L433.5 29.9M523.8 26.6L526.6 30.3M392.9 154.2L403.8 151M622.7 108.4L619.6 104.8M481.3 63L486.1 64.2M614.3 271.5L612.3 267.8M598.4 140.8L601 134.6M562 102L561.4 89.7M506.6 185.9L508.7 189.7M577.3 262.5L577.5 258M521.6 239.8L526.2 241.4M547.5 136.8L551.5 135.8M382.1 181.7L379.1 180.6M612.1 110L602.8 106.6M566.2 52.7L565.4 57.9M457.3 51.7L454.4 48.5M478.3 94.3L473.9 96.3M427.8 55.3L423.5 67.2M510.7 138.3L510.2 146.8M558.8 58.9L562.7 60.6M577.5 188.6L564.5 191.5M395.7 211.4L395.9 209.6M621.7 98.5L621.1 95.1M398.9 129.3L402.4 120.6M490.3 53.2L491.1 48.9M465.9 132.4L462.7 129.8M495.6 250.3L498.9 254M439.8 131.5L439.8 135.8M467.6 254.3L467.7 252.1M412.4 165.4L408.5 167.8M398.1 159L398.6 162.8M404.7 166.1L404.8 162M386 16.4L388.4 20.7M470.8 211.8L473.7 212.7M514.2 100.2L515.5 105.2M394.3 28.4L394.5 30.1M543.4 88.3L540 85.4M616.4 137.5L620.1 134.9M506.1 256L503.8 252.1M436.2 139L436.4 139.4M536.7 203.4L541.9 204.9M402.8 218.7L408.1 213.7M408.5 167.8L404.7 166.1M541.2 126.1L545.7 126.4M537.9 204.8L538.6 200.4M564.4 265L561.6 268.5M444.5 252.9L447.3 250.4M617.9 183.8L616.2 186.1M498 24.8L502.8 33.7M474.6 232.5L478.2 236.3M466.1 179.8L463.1 178.9M584.5 139.3L584.5 144.3M446 73.5L443.3 71.2M512.9 162.3L508.9 163.5M408 105.7L404 108M469.3 126.3L472.6 125.8M557.5 23.8L554.9 25.5M481.5 140L481.4 136.8M481 39.7L478.4 39.6M565.3 253L565.5 257.5M625.7 158.5L627 159.9M530.7 221.8L533 220.7M480.9 183.1L482 177.9M612.5 79.3L616.7 81.6M478.4 39.6L476.2 35.5M612.8 177.9L611.4 173.5M608.2 170.2L604.1 172M560.3 240.2L562.9 239.5M558.2 56.8L555.2 56.2M588.7 243.1L588.1 240M561 136.8L560.9 132M400.2 177L401.4 176.6M567.7 113.6L566 110.3M417.8 164.6L418.9 167.2M562.9 97.8L561.2 96.5M619.8 18L623.3 20.9M377 22.4L378 17.8M427.6 261.9L429.7 259.1M394.7 158.9L398.1 159M567.2 31L566.8 30M451.6 120.9L450.6 116.6M617.4 167.2L614.1 163.9M452.3 17.5L448.3 16.7M620.4 130.3L624.1 133.5M407 156.5L411.1 155.5M610 52.1L611.1 54.6M378.8 213.4L383.6 215.1M483.6 164.7L483.4 164.1M414.5 103.7L410.6 105.3M410.6 105.3L407.8 104.1M600.4 70.7L598.4 74.4M590.4 246.1L588.7 243.1M594.7 141.3L591.7 139.3M610.8 265.4L605.9 266.8M558.7 125.4L554.5 137.8M515.6 250.3L505.2 252.4M453 243.3L451.1 232.5M424.9 132.9L420.4 134.5M395.7 211.4L400.9 211.3M483.5 130.5L479.9 129.9M606.2 218.7L602.4 221.6M497.5 167.2L492.5 165.6M412.7 163.6L417.8 164.6M430.6 203.9L428.9 208.6M460.1 92.5L463.3 89.7M518.8 49L517.8 54.9M514 107L515.5 105.2M450.5 20.3L448.8 24.2M500.7 75.5L499 72.7M519.2 95.3L520.9 97.1M397.7 249.4L395.6 250.5M621.3 194.1L614.3 188.7M521.2 109.3L525.2 114.6M408.9 101.3L412.9 99.7M394.3 136.8L396.3 140M516.9 22L518.1 23.7M547 139.6L547.1 143.8M497.5 259L497 259.8M587.6 149.7L583.2 149.4M554.9 25.5L553.4 22.7M580.5 67.6L582.2 72M546.8 258.4L543.6 260.4M623.9 251.6L627 249M458.3 202.8L451 199.7M562.4 210.6L564.1 213.3M380.8 209.5L377.1 209M587.5 226L585.5 223.5M411.1 70.2L412 68.6M452 250.6L454 253.4M378 199.9L381.8 200.4M430.2 260.7L429.3 256.2M438 81.6L439.8 80.4M581.1 145.4L583.5 141.8M392.9 96.3L397.2 96.4M541.9 24.9L541.2 20.4M477.3 95.9L478.3 94.3M441.6 179.6L440.4 177.4M595.1 148.7L593.1 145.2M537 227.6L532.8 225.2M512 159.4L517.2 157.8M396.3 140L398.9 139.4M479.4 172.5L486.2 166.3M399.3 86L394.2 89.1M383.6 215.1L384.7 219.1M549.2 38.7L548.3 36.7M553.8 255.2L541 250.3M476.4 146.1L479 142.5M450.5 66L455.4 64.4M598 271.4L599.7 266.4M548.7 186.4L551.4 189.4M530.3 71.4L534.1 69.5M584.2 259.3L581.4 255.5M429.3 178.3L420.5 175.1M619.5 169.2L616.7 171.6M386.3 157.8L385.7 160.9M420.9 228.3L419.8 226.3M507.4 48.8L503.3 49.5M608.7 102.5L611.5 105.9M563.9 140.2L572.8 143.5M542.8 62.6L543.5 62.6M418.6 22.3L415.8 26.1M410.8 160.4L412.6 161.3M557.9 265.5L551.9 267.5M452 99L450.1 101.7M444.4 99.4L443.7 101.2M388.6 244.1L384.9 249M568.8 106.6L573.2 106.1M514.5 244.5L525.3 244.1M511.2 123.1L508.8 125.2M558.6 272L557.2 269.4M472.1 206.9L476.8 205.3M389.6 79.9L389.7 83.2M391.8 58.8L395.3 57.4M412.1 107.4L414.8 100.2M549.1 111.7L552.3 115.2M572.4 83.3L579.8 83M549.7 9.6L549.2 13M429.5 40.2L425.4 30.5M460.4 122.8L457.5 118.9M603.6 31.3L593.4 27.7M535.9 210.1L538 210.2M584 230.2L582 230.6M486.1 52.5L490.3 53.2M444.8 192.4L439.8 192.3M540.4 8.8L544.3 11.8M471.1 124L474.7 121.4M482.2 150.2L485.4 153.4M512.2 108.8L507.4 107.4M470.3 105L461.5 104.3M411 42.1L410.3 38.3M582.9 24.8L582.8 25.5M557.5 158.7L555.1 155.5M621.2 102.4L625.9 103.6M551.2 171.6L549.4 166.7M621.7 88.3L621.2 92.4M571.5 256.1L568.6 252.2M573.5 156.6L571 156.9M455.4 64.4L458.8 67.4M559.8 17.6L559.1 12.9M571.2 234.4L575.5 236.2M384.7 121.9L386.7 118M552.5 144.4L553.5 135.1M503.8 220L505.1 220.5M602 62.3L606.6 62.2M506.9 250.2L512.4 251.8M548.6 87.1L543.4 88.3M519.4 90.4L523.4 91.7M615 19.5L615.7 17.3M393.6 196.4L389.6 193.6M604.7 69L604.7 68.1M528.5 89.4L532.6 91.9M544.8 224.8L545.4 229.2M559.4 48.9L561.4 51.3M581.1 97.3L579.2 100.6M615.7 231.2L611.9 233.2M597.1 187.8L597 181.1M377 215.7L378.8 213.4M514.4 165.7L515.4 170.4M504.3 137.3L501 140.6M455 202.8L453.8 206.3M394.6 230.8L395 227.2M395.9 115.2L390.7 114.8M413.3 66.7L411.1 70.2M626.5 201.3L618.2 209.9M581.1 97.3L586.3 97M462.4 18.8L463.4 18.5M610.7 191.7L611.5 192.7M377.1 247.1L377 243.6M380.8 255.4L384.3 252.9M465.7 216L469.6 225.6M468 36.5L471.4 40.2M484 72.8L479.1 71.6M608.7 102.5L607.1 98.2M525.8 209.7L528.1 207.8M606.2 53.4L610 52.1M540.5 129.5L538.5 127.6M533.3 181.6L534.4 177.9M482.7 197.3L485.9 193.9M592.5 17.9L590.1 14.8M480.8 252.6L479.1 252.5M594 266.2L591.2 262M462.5 196.8L458.1 199.4M555.8 34.6L554.5 31.2M566.2 134.4L570.6 136.4M611.5 105.9L616.6 104.6M445 18.2L442.9 21.7M611.9 139.2L612.2 136.7M522 14.2L517.9 14.2M538 210.2L534.6 211.8M594.5 67.3L595.1 66.3M386.3 157.8L382.9 154.2M470.9 113L472.7 108.8M553.6 229.1L549.7 231.9M469.2 202.3L471.6 190.6M386.4 271.9L382.3 268.8M413.2 246.4L411.3 250.1M519.5 8.3L522.8 11.3M531.2 234.9L527.2 233.3M402.1 87.9L399.3 86M604.1 53.2L605.4 43.6M425.9 228L420.9 228.3M582.9 218.1L587.6 215.5M505.1 15.4L509.2 17M548.9 260.8L552.6 262.9M477.7 65.8L476.6 70.3M596 27.5L599.8 26M616 36.8L611 34.2M399.3 86L400.3 82M434 75L432.9 70.5M550.9 40.3L546.1 52.3M471.5 55.3L468.9 53.8M546.6 66.1L543.8 71M549.4 166.7L551.2 171.6M576.4 188L574.5 183.1M385.9 232.6L387.5 234.7M495.4 11L494.3 8.4M579.1 238.2L575.8 234.3M613.5 241L613.5 230.2M495 157.6L500 159.2M612.4 147.6L608.8 147.4M429.7 259.1L426.7 257.7M400.2 42L405.3 40.8M456.3 177L454.2 175.5M596.7 134.6L596.9 130.5M560.3 53.2L563.3 53.9M440.2 53.4L437.9 50.1M582.8 251.7L579.3 250.6M536.6 120.1L540.2 120.9M582 224.4L579.6 228.8M390.4 194.5L389.6 193.6M445.7 186.6L447.7 189.5M485.4 126.2L485.4 122.5M515.5 105.2L512.2 108.8M449.7 97.4L452 99M600.1 134.9L604 136.8M583.2 149.4L581.1 145.4M607.8 147.3L605.7 143.7M518.7 168.9L519.7 171M419.6 82.9L415.5 85.4M500.5 11.5L495.4 11M406.7 270.8L401.7 271.2M581.3 125.9L577.6 125.3M447.6 197.1L444.5 200.2M392.2 229.7L387 229.3M563.6 138L561 136.8M391.7 137L391.2 137.7M555 203.9L558.1 203.3M433.1 246.6L434.1 244.2M529.2 217.6L526.4 214.6M465.5 64L463.2 59.2M482.9 213.1L481.1 213.3M421 156.3L424.8 158.1M565.1 119.3L560.1 119.5M453.4 71.7L448.9 70.6M483.3 72.3L484.6 76.8M550.7 160.8L554.3 162.3M618.4 180.3L616.3 181.3M542.6 189.9L537.7 191.9M399.8 76.4L403.8 74.6M506.4 212.3L510.3 208.9M588 46.6L583.4 46.7M582 230.6L585.3 234.4M427.9 16.5L424.8 20.6M546.1 232.3L546.4 229.8M570.5 160.7L566.6 162M537.7 22.6L538.9 18.9M420.1 214.5L417.3 214.4M470.7 242.2L467.8 242.3M561.5 227.5L565.9 227.7M494.3 255.3L493.3 251M567.5 48.9L567.6 41.9M595.8 171.5L600 170.3M568.6 52.8L563.8 57.9M517.5 31.7L519.3 27.3M551 57.2L550.5 62.1M463.4 18.5L462.4 18.8M504.8 13.8L508 15.5M513.3 36.5L512.7 32.1M520.4 169.6L523 167M534.1 88.2L535 83.5M526.6 30.3L524.9 34.8M419.4 237L417.2 233.3M480.3 138.7L477.1 140.5M529 43.6L527 37.6M463.4 18.5L463.2 13.2M442.8 213.4L451.5 213.7M450.7 69.4L453.4 71.7M593.8 190.6L593.5 189.3M483.6 173.8L484.6 169.8M540.8 12.2L536.1 6M461.9 35.5L460 43.4M409.8 256.5L408.1 254M391.8 121.3L389.8 125.2M408.4 146.2L410.6 143.1M389.8 125.2L390.5 127.1M574 247.3L574.4 243.6M443.6 14.4L445 18.2M617.8 127.7L616.6 129.4M416 147.4L411.1 148.4M461.6 50.7L457.3 51.7M554.6 60L558.8 58.9M433 134.4L436.4 130.8M404.7 230.9L402.8 227.5M580.5 113.7L581.7 120.7M525.1 130.3L529.9 128.2M605.9 266.8L604.2 271.7M461 228.7L460 231.1M524.9 140.5L527.1 136.8M519.8 77.2L517.6 80.7M416.7 17.8L418.6 22.3M561.4 129.7L557.5 129.4M580.1 248.2L579.3 250.6M391.7 151.4L390.7 156.4M380.6 200.3L378 199.9M454.3 231.6L453.4 220.7M452.1 260.7L451.8 255.8M580 111.8L581.6 108.8M454 171.1L455.7 168.3M536.1 194.4L538.6 200.4M454.6 98.7L455.2 96.2M610.1 43.6L609.1 38.7M623.3 228.6L619.3 227.8M482.3 9L476 17.5M445.6 204.4L445.4 206.6M580.5 261.4L580.2 264.8M544.5 104.5L552.3 112.7M447.2 210.7L446.8 209.6M436 66.5L435.6 71M561.3 269.3L560.6 272M436.5 40.5L440.5 42.1M583.1 220.5L575 212M507.8 178.7L504.9 179.7M408.4 215.1L405.9 211.5M392 59.2L400.1 51.4M410.3 198.8L406.7 199M546 26.6L541.9 24.9M541.6 34.5L545.2 36.1M617.7 260.4L613.9 260.2M398.9 64.3L389.9 58.4M470.3 169.2L468.7 171.8M429.5 214.9L433.7 214.1M619.3 227.8L618.5 225.4M536 30.6L534.6 26.2M456.3 215.4L459.7 212.8M440.1 130.4L438.6 131.8M506 149.5L515 155.9M593 266.3L602.1 265.8M616 40L618 37.2M553.3 240.7L548.8 240.5M548.1 149.1L543.8 147.4M581.3 175.2L585.6 173.1M382.6 127.8L384.7 124.6M469.9 219.5L472.8 223.2M564.2 94.9L566.5 93.7M527.6 117.7L530.1 117.8M400.9 211.3L402.7 208.5M435.8 11.5L437.8 9M615.4 73.7L620.2 73.1M615.3 255L607.4 252.6M579.1 238.2L581.7 237.9M604.7 68.1L600.1 68.2M531 124.7L528 121.2M383.4 59.9L382.2 63.3M523.4 250.1L518.8 248.5M477.7 66.7L477.7 65.8M466.7 237L470.1 239.5M424.9 132.9L424.2 137.5M387.3 166.7L389.3 171.2M478.7 249.3L474.2 248.2M605.5 264.4L610.1 262.2M621.5 212.8L618.3 215.7M513.8 203.9L512.4 208.2M618.5 225.4L621.7 223.6M396.9 107.3L399 111.5M397.2 60.5L395.5 65.1M618.2 262.9L607 271.2M432.6 248L433.7 245.4M534.4 177.9L533.3 181.6M442.2 57.1L444.5 60.8M392.2 166.4L391.7 162.6M390.2 117.7L391.8 121.3M563 206.3L560.4 206.9M487 150.6L485.4 153.4M426.1 246.6L426.8 242.1M492.4 75.5L495.9 71.8M541.2 206.8L541.9 204.9M404.2 89.6L402.1 87.9M418.8 199.8L426.2 201.9M425.1 191.5L427.7 190.6M427.3 170.9L430.9 173M434.1 63.8L425.3 53.6M434.6 76.5L439.3 76.1M523.7 258.6L519.9 255.7M395 227.2L392.2 229.7M618.6 271.6L614.3 271.5M384.8 212.1L388.8 211.1M523.8 128.1L532.4 129.7M517.6 37.5L518.2 41.8M590.1 20L588 24.5M528.1 207.8L531 210.8M622.6 157.7L622.6 160.9M423.6 177.3L423.6 173.1M451.8 168.1L454.6 160.9M500.9 242.9L503.6 238.8M594.8 173.7L590.7 163.2M405.2 144.3L400.6 138.2M515 26.2L510.6 26.9M427.7 249.2L429.8 253.8M583.4 46.7L581 44.1M398.5 262.9L398.4 266.4M400.3 82L398.8 80.2M397.2 75.1L397.6 73.1M521.5 86.5L519.6 88.8M608.7 79.7L607.7 75.9M449.3 17.4L445 18.2M444.2 167.7L436.1 173.9M502 266.9L498.5 266.6M433.4 248.6L438.1 253.2M446 73.5L444.9 76.2M419.9 191.7L422.9 187.7M610.7 191.7L609.1 188M616 40L616 36.8M471.3 92.6L475.8 90.6M390.4 21L394.2 21.2M554.2 29.8L556.9 25.3M482.1 245.3L485.9 244.4M441.1 160.9L444.6 162.6M506.9 250.2L503.8 252.1M504.6 123.7L502.8 120.1M503.8 131.4L502.3 127.7M506.6 10.6L504.4 9.4M485.5 187.4L487.4 191.8M584.6 85.5L581.4 86.8M579.2 207.9L575 203.2M383.4 133.1L388.8 134.7M562.4 77.8L557.7 75.9M385.1 186.3L383.8 186.4M400 105.6L399.9 100.8M403.4 225.2L403.5 238.9M497.5 36.7L501.6 34M521 235.5L521.8 231.6M467.4 78L470 75.7M609.1 38.7L613.1 35.5M535 109L535.9 108M433.1 246.6L433.5 242.1M412 221.1L415.8 221.2M587.2 270.5L584.7 266.7M587.1 104.6L581.9 104.9M396.9 107.3L393.1 103.4M460 191L463.8 188.1M469.7 47.8L472.4 51.3M469.4 253.6L473.6 255.3M590.1 14.8L585.3 16.2M616.7 81.6L617.1 85.7M466.4 269.9L467.5 265.7M486.9 223.1L484.8 227.3M603.1 43.3L603 39.1M609.2 85L608.8 81M438.9 189.6L448.7 189.6M609 271.5L604.9 269.1M540.8 77.8L538.7 82.9M508.6 173.6L506.6 175.1M477.3 108.4L480.2 112.1M454.7 132L449.8 133.3M500.5 11.5L499.9 17.8M438 127.3L440.1 130.4M486.9 96.8L481.9 98.4M541.9 204.9L541.2 206.8M498.8 136.4L503.2 135.2M407.9 62.8L411.6 61.8M459.3 164.9L455.2 165.5M496.3 158.6L492.7 159.2M424 118.7L428.4 121.4M509.3 242.3L506.6 246.5M597.6 150.5L597.1 155.2M433.7 245.4L433.4 248.6M513.1 173.9L508.6 173.6M441.9 260.1L438.3 269.4M616.9 195.8L615.1 192.6M403 157.4L403.3 153.1M516.5 86.9L515.3 82.7M617.9 49.9L616.9 45.5M567 180.6L565.3 184.2M498 207.9L506.7 204.3M423.3 167.4L424.5 164.8M519.1 122.9L520.6 135.3M432.7 46.9L431.7 48.5M433 138.7L430.9 138.8M507.4 107.4L506.1 102.4M607.2 213L605.2 212.9M505.8 66.5L506.8 63.6M577.7 244.7L580.1 248.2M547.5 55L551 57.2M600 170.3L602.6 171.1M411.2 242.7L413.1 242.7M414.7 112.6L419.9 121.5M532.2 135.9L529.6 131.7M385.9 23.5L388.4 20.7M477.6 210.8L479.4 210.8M513.7 102.5L513.3 98.5M378.8 175.8L381.5 172.3M447.5 124.8L452.4 123.4M598.7 148.1L595.1 148.7M512.4 208.2L508.4 210M558.7 258L558.5 253.5M447.9 263.3L450 262M473.4 71.1L474.7 70.5M610.1 262.2L614.1 264.7M511 73.8L513.5 73.9M427.1 14.8L426.3 6.7M570.2 190.5L572.2 187.4M424.3 51.9L421.6 54.7M403.9 79.7L405.8 80.5M546.5 239.3L549.9 240.2M555.2 56.2L551 57.2M418.7 39.4L416.1 39.2M601.9 12.3L603.3 16.9M564.2 94.9L566.9 96.8M627 163.7L623.7 166.2M576.3 174.5L581.3 175.2M403.5 184.7L398.3 185.6M601.5 88.1L597.1 86.9M441.1 29.3L444.4 26.6M572.4 238.9L569.7 238.7M407.1 32.3L405.9 36.4M506.2 248.7L504.4 245.7M439.9 218.6L443.6 220.6M404.5 25.9L403.6 23.8M532.1 196.3L529.6 195.7M537.8 98.3L528.1 106.6M384.6 241.6L383 239.4M442.8 158.8L439.4 161.9M482.8 251.6L479.1 252.5M557.3 16.5L553.1 8M547.8 28.7L544.4 35M444.8 192.4L442.5 191.3M603.3 16.9L601 20.5M601.3 143.7L597.4 141.9M606.8 259.6L597.3 257.7M469.2 43.9L465.7 40.2M554.8 210.2L557.1 208.2M579.8 20.6L574.4 21M591.5 17.2L596.7 8.3M509.5 98.8L508.1 93.3M509.4 96.5L518.6 93.2M383.2 30.8L385.1 28.6M405.5 65.2L401.2 59M592.2 218.1L592.1 223.4M581.3 175.2L582.8 179.9M603.4 60.8L601.4 64.8M618.3 23.3L619.4 27.7M399.2 252.4L402 254.4M480 128.2L475.3 129.2M607.9 65.5L611.4 65.9M396.2 159.8L391.5 160.8M523.1 173.1L520.4 169.6M588.8 74.5L592.7 75.7M508.4 210L505.7 207.5M447.3 129.5L456.9 125.5M541.1 143.9L536.3 143.1M518.3 128.3L518.2 124.7M540.6 264.4L542.2 266.6M518.2 41.8L515.7 41M536.9 76L536.5 71.8M545.2 14.7L544.1 21.5M436.6 29.3L435.4 24.9M579.8 53.3L578.8 49.1M563.2 169L566.5 166.7M538.6 46.8L534.8 48.7M521.2 64L521.1 59.6M505.1 220.5L509.2 217.9M466.7 20.9L463.4 18.5M414.4 90.3L415.3 93.2M383.4 193.3L385.6 189.9M581.3 175.2L583.9 172.1M600.8 195.2L597.2 196.8M443 20.6L439.4 21.4M560.4 258.8L563.9 260.1M420.2 230.1L422.5 233.8M506.2 112.7L506.1 116.6M532.9 115.6L521.4 109.9M579.2 100.6L581.1 97.3M428.7 73.7L432.8 84.3M602 235.3L603.2 238.6M597 219.9L600.8 217M459.2 233.9L458.3 230.7M442.8 95.4L444.4 99.4M488.4 59.5L490 59.6M377 204.2L378 199.9M496 263.1L497 259.8M402.1 124.9L401.6 128.8M596.3 125.4L593.6 129.4M434.3 39.8L432 39.8M615.4 227.6L618.1 220.4M458.2 62.6L462.8 64.6M382.2 173.6L380.2 169.1M549.5 35.7L544.7 23M377 243.6L378.6 240.7M555.8 16L557.1 16.4M437.9 50.1L439.6 47.5M523.5 242.2L519.2 242.4M516 238.8L511.8 237.1M391.6 251.7L395.3 250.8M386.7 174.7L389.7 179.1M540.3 98L548.6 105.2M596.7 240.4L598.8 236.2M419.6 158.5L419.4 160.6M570.5 32.9L567.2 31M599.8 158.2L611.9 158M611.8 185.2L616.2 186.1M391.3 161.3L391.5 160.8M387.3 166.7L392.2 166.4M610.5 257.8L611 255.5M492.5 47.3L491.1 48.9M583.3 117.2L583.6 118.7M417.3 214.4L417.3 210.2M391.7 162.6L394.7 158.9M592.2 79.3L597.7 81M613.9 153.8L615.2 152.2M487.4 84.1L482.4 80M514.7 255.4L516.4 251.3M380.6 51.6L382.5 57.9M472.3 195.3L475.8 206.1M600.8 190.7L600.8 195.2M447.9 263.3L447 263.4M605.9 266.8L604.9 269.1M553.3 199.2L548.9 191.6M618.5 22.4L615 19.5M462.8 64.6L464.7 68.5M549.7 147.3L548.1 149.1M444.7 64.6L445.6 62.2M380.8 209.5L384.8 212.1M499.9 258.3L497.5 259M555.6 116.6L562.7 126.7M617.4 167.2L619.5 169.2M562.8 247.3L560.2 244.1M380.8 225L385.1 227.6M425.5 125.4L422.4 129.6M417.4 11.3L417.5 6.6M590.4 151.7L587.6 149.7M468.1 54.6L473.4 49.4M484.8 81.5L486.8 81.3M518.6 254.9L516.9 259M481.6 239.6L481.5 236.9M483.1 55.3L486.1 52.5M398.3 185.6L394.7 182M471.3 225.9L474.2 229.5M397.2 75.1L399.8 76.4M557.6 221.9L555.6 219.1M625.6 48.8L622.2 51.5M596.8 64.3L596.2 64.3M439.4 95L442.8 95.4M539.7 43.4L538.9 38.2M558.6 229.6L561.5 227.5M414.2 13.4L414.5 17.6M500.5 7.6L500 17.3M521.2 109.3L517.4 109.9M505.9 58.3L500.8 59.7M522.1 206.5L520.1 207.2M422.6 122.4L420.3 119.2M561.5 11.5L567 6.2M557.9 265.5L559.9 265.5M432 73L434.6 76.5M422.1 162.6L419.6 158.5M394.9 13L401.8 18.9M603.8 244.2L598 240.2M576.7 243.3L574 247.3M587 15.8L590.1 20M481.3 78.5L483.2 79.1M452 66.3L446.9 66.5M420.5 137.3L417.1 138.5M481.4 136.8L484.7 134.1M568.6 32.8L577.3 32.3M463.2 59.2L466.2 54.9M508.5 268.6L504.9 265.3M397.2 75.1L394.8 74.6M421.7 33L423.2 28.5M468.1 189.7L471.6 187M480.6 207.8L479.4 210.8M440.7 186.5L445.7 186.6M585.9 166.1L593.4 168.3M439.8 250.1L438.7 252.7M435.7 161.6L435.3 158.2M509.3 110.5L506.2 112.7M608.7 79.7L604.5 81M466.3 236.8L463.9 237.1M621.2 259.2L619.6 256.2M590 146L593.1 145.2M462.3 191.7L464.4 189.2M493.5 89L488.7 89.9M412.4 65L411.7 59.9M624.2 41L620.1 42.1M495 85.9L493.6 81.7M386 16.4L386.2 18.4M516.7 110.5L514 107M536.5 71.8L540 69.2M457.8 169.7L456.1 168.4M464.1 119.3L464.4 116.3M614.9 255.6L618.2 258.1M607.9 65L604.7 68.1M419.9 191.7L421.7 195.9M568.8 172.6L564.3 171.9M587.4 165.5L591.3 166.8M406.8 261.5L411 263.7M601.8 254.2L605.2 251.4M448.1 175L454.2 175.5M377 49L377 45M391.1 269.3L391.2 265.8M598.7 66.7L600.4 70.7M595.9 21.6L599.8 23.3M506.2 248.7L511 249.2M455.7 183.8L462.7 181.5M440.5 256.5L444.7 255.2M384.3 45L387.9 43M463.4 207.3L461.7 208.6M479.9 267.3L486.3 260.6M562.7 60.6L562.3 63.5M401.7 94.1L401 90.9M543.6 27.7L540.5 31.4M622.6 10.4L624 12.2M605 72.8L604.7 69M612.8 72.3L613.8 76.1M542.2 9.6L546.2 7.9M612 51.7L609.6 61.1M406.6 120.3L410.3 120.6M403.9 98.5L408 100.9M476 88.6L476.5 85.3M596 34L588.7 30.2M471.9 157.2L468.3 159.3M441.4 225.6L437.6 223.6M542.4 49.7L538.6 46.8M382.8 165.6L387.3 166.7M617.6 124.5L617.8 127.7M616.3 181.3L612.8 177.9M566.6 121.6L562.5 123.6M502.8 200.3L496.6 204.1M390.8 99.8L392.9 96.3M558.2 56.8L558.8 58.9M618.1 79.2L614.3 76.8M554.5 31.2L555.8 34.6M469.5 12.7L469.8 18M443.5 15L440 14.1M474.7 121.4L479.4 120.4M604 136.8L604.6 141.1M499.3 84.3L497.8 87.2M545.4 229.2L543.2 232.6M403 157.4L399.9 161.1M411.1 25.3L410.6 25.1M490 59.6L493.5 58.9M518.2 124.7L519.4 126.3M415.8 221.2L413.6 220.3M624 75.6L623 78.6M600.5 65.2L599.1 75.5M436.4 139.4L436.2 139M484.7 34L482.7 38.8M579.4 183.9L574.5 183.1M483.3 201.3L482.7 197.3M597.4 141.9L598.4 140.8M457.7 259.7L462.7 261.1M405.7 21.5L404.5 25.9M617.5 228.4L615.7 231.2M458 12.5L455.7 16.3M475.7 77.5L483.5 88M574.9 38.1L582.6 38.8M479.5 150.3L479.7 150M621.2 102.4L624.7 101.3M503.2 159.2L501.2 164M612.3 32.2L612.4 33.8M557.5 174.7L560.3 179.9M459.9 205.7L455.4 208.8M513.1 173.9L510.6 168.9M400.8 32.4L398.1 35.2M469.8 18L470.4 17.7M404.8 159.1L408.7 159.6M538.2 112.1L536.3 115.4M497.6 227.4L493.6 226.6M505.9 182.3L506.1 185.8M430.9 63.9L433.6 62.9M524.1 148.4L528.6 147.9M453.9 64.1L452 66.3M578.2 129.1L583.3 131.4M382.2 193.5L381.1 189.8M550.2 206.3L549.2 209.7M549.9 240.2L553.4 237.9M447.7 189.5L444.8 192.4M401 250.1L404.2 247M472.4 186.1L469.7 185.1M387.6 187.1L389.8 189.1M594.2 59.7L596.3 55.6M388.4 260.5L387.3 253M480.6 95.2L481.9 98.4M433.4 248.6L433.7 245.4M419.8 226.3L418.7 224.6M440.4 208.5L444.6 207.5M622 114.1L619.5 114.5M465.7 40.2L465.2 36.5M601.9 129.4L601.7 133.5M527.1 136.8L531.9 136.8M501.5 98.4L503.6 95.9M581.9 46.2L586 47.3M587.9 41.2L589.3 33.6M430.8 105L427.5 106.9M423.3 132.8L429.1 123.1M561.5 223.6L557.6 221.9M547 115.7L550.5 118.2M521.2 234.6L524.4 238.3M514.5 11.3L515.3 8.3M541.2 206.8L537.9 204.8M618.1 220.4L615.8 223.2M490.4 82.5L486.8 81.3M382.2 82.5L382.1 79.2M402.8 265.5L407.8 265.1M391.6 31.2L394.3 28.4M419.3 18.9L422.4 14.8M615.8 223.2L615.4 227.6M432.7 143L430.2 144.5M435.4 24.9L438.6 20.6M439.4 194.4L442.5 191.3M391.5 149.4L380.6 144.4M412.3 134.9L415.7 133.7M490.2 250.2L499.9 257.7M541.8 81.3L547.1 80.1M525.3 114.3L518 120.9M438.1 189.4L441.2 181.1M421.7 195.9L418.8 199.8M454.8 38.8L466.3 42.4M379.2 263.6L377 257.1M621.1 161.1L622.6 160.9M439.8 80.4L438 81.6M590.8 220.1L592.2 216M536.6 266L535.4 260M412.4 65L410.8 68.8M517.1 197.2L514.3 199.7M502.5 172.5L501.2 168.4M625 170.2L614.5 179.2M444.4 224.1L441.4 225.6M509.3 260.1L513 263.4M621.7 223.6L625.7 224.4M545.2 36.1L548.3 36.7M426.3 56.8L431 58.5M531.6 107.2L535.9 108M490.8 155.9L492.5 152M465.7 171L464.7 169.6M493 199.7L503.5 191.4M445.5 178.3L441.6 179.6M386.6 125.8L386.5 130.1M473.8 137.4L471.7 136.2M384 146L380.8 149.3M427.6 73.3L432 73M446.6 192.6L447.6 197.1M604.5 81L605.2 85.2M497.9 135.4L495.5 139.7M549.2 106.4L550.7 108M437.7 116.1L435.4 120.7M596.2 16.8L595.9 21.6M525.1 130.3L521.8 131.1M408.7 159.6L412.6 161.3M446.4 143.3L448 150.2M401.7 271.2L399.8 268.5M557.7 75.9L555.5 72.1M510.7 51.1L511.1 59.1M613.8 76.1L611.8 79.8M416.5 134.7L412.4 128.5M566.7 137.8L571 138.9M409.7 18L409.3 20.8M478.2 148.9L478.5 147.8M531 151.7L528.9 155.9M534.1 88.2L532.6 91.9M534.6 232.4L531.2 234.9M442.6 80.2L438 81.6M603.2 238.6L606.9 237.7M445.1 120.4L443.6 116.9M453.8 206.3L451 205.1M444.9 142L449.1 150.1M608.3 140.4L613 140.8M495.8 51.3L492.2 53.9M572.5 207.3L570.6 209.4M431.4 13.9L435.3 12.9M529.6 14.7L532.1 18.4M477.6 210.8L478.1 206.7M589.7 193L596.5 203M560.9 132L563.4 128.5M405.9 211.5L404 214.3M479.4 194.5L477.5 190.1M574.5 122.2L570.4 124.2M442.7 72.7L436.7 68.5M553.7 198.8L567.6 197.9M473.4 154.3L473 154M576.6 194.9L572.4 194.3M488.9 210.9L485.5 213.5M455.9 179.4L464.7 171.4M556.8 91.4L557.6 78.5M463.8 81.7L469 94.1M386.9 239.2L388.8 237.9M391.5 160.8L387.7 157.7M519.6 133.2L521.8 131.1M411.6 61.8L414.8 65.9M452.3 17.5L450.2 21.1M504 214.8L503.8 220M524.3 156.3L521.9 152.6M411.3 127.4L407.5 127.1M443.3 71.2L445.7 69.1M625.5 215.9L622.6 220.1M537.7 191.9L536.1 194.4M521.6 108.7L517.7 103.8M444.4 26.6L447.5 26.7M565.5 131.6L579 128.3M397.5 204.7L399.5 209.2M499.6 173.5L502.5 172.5M532 111.3L535.2 100.9M601.6 216.7L596.7 216.1M451.5 195.2L453 202.1M570 247.9L574.4 247.5M541.4 87L540.6 91.7M428.6 218.8L428.6 223.5M487.2 207.6L489.8 208M524.2 95.9L520.9 97.1M395.8 116.2L398.3 104.5M512 159.4L512.9 162.3M616.7 104.6L621.4 106.4M519.8 75.6L519.8 77.2M407.7 48.8L402.6 50M446.9 38.6L449.6 42M611.1 54.6L608.5 58.4M512.3 140.3L511 135.8M619.2 258.7L612.5 269.5M497.5 36.7L497.4 40.8M383.8 241.4L384.6 241.6M409.3 246.5L411.2 242.7M565.4 242.7L567 242.7M545.2 14.7L541.7 13M469.2 130.7L473.6 134.4M436.4 62L436 66.5M426.7 257.7L428.8 262.4M563.9 260.1L564.4 265M442.4 116.4L443.6 116.9M601.8 29L600.1 33.7M613.5 91L614 86.9M481.3 228.8L482.9 227.8M623.5 92.3L619.4 101.7M381.7 113.5L379.7 110.7M507.6 78.6L505.1 82.9M422.2 101.9L420.5 98.6M425 72.7L420.5 73.3M380.1 105.5L378.8 105.2M551 57.2L555.2 56.2M466.1 80.6L462 79.9M481.7 268.7L481.6 267.1M451.1 265.4L450.2 270.1M473.4 71.1L471.2 67.3M515.1 19L510.5 19.4M461.5 28.2L464.4 28.3M572.4 24.5L575.7 26.4M529 43.6L532.9 43.4M384.6 241.6L383.8 241.4M518.2 10.6L526.3 11.7M431.7 140.5L432.7 143M428.6 218.8L429.5 214.9M597 219.9L596 218.1M403.8 74.6L408.7 75.8M613.5 172.5L616.7 171.6M560.4 206.9L558.1 203.3M411.1 155.5L415.5 153.2M486.1 142.1L491.7 134.3M432.1 63.2L428.4 66.3M394.9 262.7L404.9 268.6M516 238.8L517 234.9M541.5 125.1L539.1 128.4M438.1 75L437.8 77.3M607.2 213L609.2 209.7M502.4 246.8L500.9 242.9M578.8 49.1L576.4 50.4M581.4 86.8L577.9 83.8M577.9 154L577.6 154.2M572.2 170.3L576.3 174.5M504.4 9.4L500.5 11.5M412.2 195L412.3 195.4M466.2 10.3L466.1 6.2M389.4 54L391.5 51.4M534.1 123.5L536.6 120.1M507.1 203.1L503.5 199.7M403 58.3L405.1 53.5M504.4 9.4L504.8 13.8M618.3 215.7L614.4 214.3M429.7 23.9L429.8 19.9M433.1 267.4L435.1 272M454.4 144.5L455 142.1M615.5 12.2L618.3 10.4M485.4 126.2L482.1 123.8M452 250.6L452.6 246.9M389.8 254.1L394.4 255.3M383.8 241.4L385.6 244.9M407 156.5L404.8 159.1M512.9 162.3L514.4 165.7M553.5 12.3L549.2 13M440.6 132.2L439.8 131.5M513 263.4L512.6 267.7M515.7 102.1L517.7 103.8M605.9 26.4L602.6 29M412.3 195.4L412.2 195M613 140.8L615 144.4M596.4 82.7L594.4 86.7M402.6 27.8L403.6 23.8M527.2 50.5L523.8 57.1M397.5 204.7L393 202.5M445.9 117.8L444 109.4M562.4 77.8L558.7 79.4M589.6 251L585 252.5M383.6 252.4L384.2 250.4M502.9 185.6L506.6 185.9M391.7 106.9L389.4 102.4M388.8 211.1L392.7 211.9M452.9 78.3L456.5 76.1M410 179.7L402.6 184.3M386.2 18.4L385.3 23.1M481.1 213.3L480.6 217.7M593.2 158.2L589.9 156.4M479.1 264.3L481.7 268.7M625.3 87.8L627 84.8M460.5 195.5L462.3 191.7M557.1 16.4L558.6 19.2M407 44.4L411 45.4M401.4 176.6L400.2 177M387.5 32.3L385.8 21.9M457.4 157.3L460.4 160.8M588.2 135.9L586.1 138M381.6 46.3L383.1 50.2M431.9 55L429.1 52.5M439.6 261.3L440.5 256.5M466.2 97.4L461.6 96.4M477.5 190.1L480.5 186.5M608.8 147.4L612.3 149.4M385.3 23.1L380.7 25.1M430.6 203.9L428.7 205.2M590.1 14.8L587 15.8M583.6 258.4L584.2 259.3M405.4 150.5L407.2 152.2M381.1 221.4L377 219.6M503.6 253.4L499.3 252.1M394.2 187.2L398.3 185.6M492.8 100.8L489.1 100.7M557.2 213.7L554.8 210.2M565.5 239.6L563.1 248.1M398.1 23.2L396.3 24.6M611.9 139.2L613 140.8M387.7 38L384.5 35.5M393.4 152.6L397.1 155.7M496.6 105.1L504 105M611.2 102.5L614.5 99M551.2 171.6L555.8 171.7M565.9 98.2L566.5 93.7M384.7 124.6L386.6 125.8M385.6 244.9L382.2 247.7M433.1 267.4L429.3 266M465.8 140L466.6 150M449.5 128.2L449.2 132.3M379.2 96.5L383 98.7M563.2 159.4L563.7 155.5M592.9 61.7L596.2 64.3M581 44.1L583.3 41.3M472.4 51.3L474.2 44.9M563 126.5L566.6 121.6M490 59.6L488.4 59.5M501.3 189.2L502.9 185.6M475.3 99.7L477.3 95.9M479.1 252.5L478.7 249.3M576.8 29.2L579.6 25.8M499.5 14.7L490 11.8M593.8 26.5L581.3 25.8M616.3 51.4L613.3 49.1M529.2 111.1L525.6 110.8M400.7 242.7L401.6 247.1M484.2 167.7L478.6 159.3M567 143.2L564.7 140M396.5 66.9L398.9 67.5M433.6 18.9L437.4 21.8M498.4 208.7L508.4 203.4M600.8 217L605.4 216.3M524.2 42.5L523.4 47.4M549.7 192.7L545.2 192.9M513.5 63.2L515.9 65.9M573.3 142.1L577 143.3M442.9 38.5L443.9 33.4M553.3 223.7L553.1 234.3M428.7 205.2L430.6 203.9M496.1 151.3L498 154.6M380.8 149.3L377 147.5M563 215.4L561.4 219.7M553.9 217.6L551.8 218.6M551.9 267.5L547.5 270M539.1 128.4L535.4 127.6M541.8 81.3L538.3 78.3M393.4 129.4L394 134.3M498 229.1L496.9 238M428.8 46.1L431.7 48.5M382.5 132.2L382.5 133.2M427.3 162.2L427.7 161.7M577.7 73.3L582.2 72M406.9 13.5L401.5 15.6M591.6 237.7L595.7 238.6M386.7 130.1L386.1 142.4M574.8 109.4L580 111.8M462.5 167.2L461.7 157.6M386.2 125.5L386.6 125.8M521 235.5L517.4 237.3M607.2 163L609.8 165.7M601.2 261L599 265.6M382.1 141L377.7 151.3M594.7 121.7L596.3 125.4M544.7 17.7L548.8 19.4M422.9 206.1L422.9 210.3M501 170.7L503.2 166.5M560.3 179.9L561.9 176.3M515.3 82.7L517.2 80.4M409.7 267.8L406.7 270.8M503.5 263.3L511.3 256.8M455.2 96.2L456.8 91.8M565.3 253L568.6 252.2M577.2 230.5L574 226.7M493.6 144.8L494.4 149.5M449.2 132.3L444.8 134.3M592.8 243.9L588.7 243.1M431.7 140.5L436.2 139M616.7 104.6L619.6 104.8M559 16.8L559.1 12.9M418.2 144.2L416 147.4M529.7 245.7L529.1 241.4M419.7 64.9L414.4 66.5M415.5 85.4L414.4 90.3M410.1 168.4L419.9 159.6M540.3 173.2L539 176.4M615.9 142.5L611.9 139.2M605.4 203.4L605 198.8M405.1 53.5L407.7 48.8M579.4 59.6L583.9 58.9M524.1 148.4L524.8 149.3M542.3 121.8L542.8 117.5M438.7 252.7L435.1 251.6M436.2 139L438.6 131.8M421.6 96L415.7 107.6M579.6 228.8L574.5 228.9M464.8 197.2L460.5 195.5M595.9 188.4L585.1 189.1M455 262.6L452.1 260.7M531.9 136.8L534.5 140.4M474.7 70.5L473.4 71.1M625.7 224.4L626.5 226.8M619.6 250.4L623.9 251.6M595.4 14.5L605.6 15.3M434 75L434.6 76.5M547.1 80.1L550.5 83M565.8 110L553.5 108.1M406.8 261.5L405.6 264.4M402.1 124.9L405.2 123.6M527.1 246.5L523.4 250.1M616.9 45.5L617.6 49.9M389.7 179.1L390.5 176.1M584.9 74.5L584.4 76.9M478.5 203.7L481.2 203M408.1 254L409.5 252.7M610.6 107L611.2 102.5M450.6 116.6L447.7 114.6M413.5 50.8L409.5 49.8M402.9 223.6L402 217.5M421.7 195.9L425.9 195M485.5 213.5L482.9 213.1M520.3 35.5L520.3 39.3M513.1 173.9L515.4 170.4M563.9 90.8L564.2 94.9M494 217.8L498 218.6M386 84.5L382.2 82.5M495.6 26.2L494.4 23M507.1 193.4L503.4 193.1M384.7 189.1L381.1 189.8M464.7 68.5L462 70.3M542.3 121.8L540.2 120.9M543.2 232.6L540.5 231.6M470.1 239.5L470.7 242.2M508 165.6L510.6 168.9M576.4 50.4L575.7 53M585.9 81.1L589.5 81M432.2 253.1L431.5 249.5M532.8 225.2L534 228.1M463.2 13.2L458 12.5M406.3 62.4L403 58.3M442.9 251.2L441.1 240.8M508 15.5L506.6 10.6M426.7 257.7L421.5 257.2M577.7 79.6L581 78.4M422.4 129.6L425.9 130.5M605.9 178.2L603.7 178.3M567.9 165.6L566.9 178.9M533.1 248.2L529.7 245.7M431.7 17.2L431.4 13.9M407.8 104.1L408 100.9M609.3 90.3L612.9 93.6M453.3 82.4L452.9 78.3M445.8 86.3L451.7 88.1M440.6 115.2L435.8 121M571.3 214.1L567.5 217.1M470.9 143.8L468.8 144.2M608.5 58.4L604.6 59.8M614.5 128.4L611 125.9M554.8 125.3L555.2 136.2M388.6 244.1L386.5 241M450.6 116.6L451.4 116.7M439.6 47.5L443.6 48.1M612.9 37.6L609.1 38.7M404.8 162L408.7 159.6M419.7 83.4L430.2 86.6M564.3 171.9L563.2 169M422.5 269.4L420.7 259M515.5 105.2L514 107M460.5 74.2L462 70.3M517.3 92.2L519.4 90.4M612.3 267.8L614.6 264.1M432.4 113.8L436.2 112.7M596.3 241.7L596.7 240.4M442.9 38.5L436.8 35.5M562.7 60.6L563 61.4M582.8 25.5L582.9 24.8M407.7 69.9L412 68.6M439.4 95L442.1 89.2M482.4 206.9L473.3 210.9M426.3 185L430.3 183.9M486.7 127.9L483.5 130.5M503.2 151.1L499.1 150.4M397.7 249.4L399.2 252.4M520.3 82.3L521.5 86.5M411 79.9L403.7 71.1M457.8 225.8L461 228.7M599.8 23.3L603.1 20.6M425.9 164.5L422.1 162.6M499.8 20.3L500.4 17M541 138.1L530.7 145.8M572.2 187.4L576.4 188M503.8 131.4L503.2 135.2M439.4 161.9L441.1 160.9M523 167L528.2 167.8M416.8 190.5L416.2 187.3M417.1 138.5L415.5 142.1M595.4 169.8L588.1 162.9M464 143.1L468.1 140.5M404 108L400 105.6M466 31.9L469.1 32M533.3 181.6L535.7 184.4M522.2 189.7L518 196.4M437.7 116.1L444 114.3M616.6 129.4L620.4 130.3M394.7 246.2L393 244.1M564.2 94.9L562.9 97.8M439.6 47.5L440.6 46.1M390.5 28.1L390.4 23.6M414.7 236.2L419 235.9M409.6 82L421.9 87.4M394.1 83.4L395.5 87.5M553.8 84.5L554.1 80.5M383.5 103.2L380.1 105.5M408.4 143.2L407.9 130.7M470.4 95.5L469.3 94.7M584.7 185L578.5 178.3M391.8 199.9L395.2 199.5M532.9 43.4L534 46.7M436.7 258.9L433.8 262M379.5 139.1L380.8 140.1M561.9 176.3L565.3 176.7M502.9 185.6L501.8 188.2M582.2 130.3L576 123.7M457.3 51.7L456.2 57.3M424.9 36.3L424.5 38.2M575.5 236.2L576.1 238.4M433.5 242.1L436.3 238.7M583.2 78.2L578.7 79.5M508.8 125.2L504.6 126M506.1 102.4L509.5 98.8M567.7 79.9L562.6 89.3M577.2 230.5L575.4 234.1M569.2 247L567 242.7M412.2 195L410.3 198.8M453.4 71.7L451.1 73.8M441 122.8L438.3 120.8M543.6 16.8L538.9 18.9M566.5 166.7L571 167.4M592.4 171.3L594.3 173.6M409.9 145.2L408.4 146.2M617.3 100.1L616.7 104.6M599.8 26L601.8 29M411.7 59.9L413.2 56.4M498.2 50.9L495.8 51.3M562.8 30.4L564.9 31.7M568.6 47.9L572.5 46.1M389 183.9L401.4 189.3M401 204.4L397.5 204.7M589.4 34.5L579.2 27.3M583.3 117.2L584.2 121.9M589.5 81L593.8 83.8M572.1 113.1L571 115M548.3 212.5L541.6 224.7M596.2 16.8L592.5 17.9M541.1 177.9L551.4 171M408.1 254L410.5 250.9M512.1 127.1L505.1 128.7M571 156.9L573.5 156.6M452.5 227.6L453.5 225.2M487.4 260.5L490.7 263M408.1 254L403.4 254.7M621.3 196.3L623.2 199.5M411.7 216.1L413.3 215.2M462 70.3L457.4 68.2M563 61.4L565.4 57.9M415.2 57.9L415.8 62.9M600.1 68.2L598.8 65.3M423.6 173.1L427.3 170.9M386.5 148.5L389.2 144.4M618.2 258.1L621.7 258.2M609.1 38.7L612.9 37.6M480.2 112.1L478.4 116.2M434.9 31.4L437.2 31.4M429.7 259.1L433.5 260.4M379.2 254.1L377 248.4M493.7 45.8L491.1 48.9M394.7 158.9L396.2 159.8M394.6 230.8L398.3 227.3M611 10.3L613.9 13.2M550.5 76.3L552.7 73.6M395.5 65.1L392 66.6M558.1 70.3L562.8 72.3M514.8 10.7L517.3 14.7M439.5 15.1L443.3 14M503.2 166.5L499.9 162.3M520.3 39.3L524.2 42.5M489.8 194.4L490.4 198.4M386.3 34.4L385.1 45M503.2 135.2L504.3 137.3M612.3 32.2L611.2 27.8M574.8 109.4L572.1 113.1M565.5 257.5L562.1 259.9M577.6 125.3L576.5 124.8M440.4 208.5L441.5 206.9M468.8 188.2L473.1 192.6M604.5 91L609.3 90.3M444.3 181L445.7 186.6M395.6 250.5L397.7 249.4M509.3 198.4L511.1 201.3M420.5 13.5L422.4 14.8M475.3 129.2L472.6 125.8M411 42.1L409.1 44.1M413.8 35.1L418 35.6M384.7 219.1L390.6 221.4M422.4 14.8L420.5 13.5M418.8 95.6L424.5 93.7M617.9 183.8L617.7 179.4M514.4 191.2L517.4 187.7M441.5 41.9L440.5 42.1M512.5 22.7L515.1 19M417.9 69.4L419.7 64.9M489.8 208L488.9 210.9M389.6 193.6L390.4 194.5M417.6 113L414.7 104.2M416.1 117.4L415.1 113.1M495.3 85.6L493.5 89M399.5 117.9L409.3 117.1M455.5 64.4L458.2 62.6M417 232.1L424.3 240.5M431.7 48.5L433.2 53M466.3 158.5L467.8 155.5M559.8 13.9L559 16.8M481.7 268.7L478.9 272M385.9 232.6L387 229.3M510.1 44L509.5 39.7M585.1 66.9L580.5 67.6M507.5 9.5L517.6 6.8M393 244.1L388.6 244.1M555.9 123.8L553 111M393.6 196.4L395.2 199.5M511.5 162.5L518.4 156.8M464 139L454.5 137.2M595.3 211.8L599 208M517.9 14.2L514.5 11.3M495.5 139.7L498.8 136.4M596.7 216.1L592.8 220.2M503.9 22L499.8 20.3M608.4 65.4L614.5 59.4M560.4 206.9L557.1 208.2M571.2 144.2L567 143.2M491.1 48.9L487.1 47.7M390.3 212.4L392.7 211.9M450.1 101.7L445.9 102.8M535.8 271.9L534.2 269.8M422.4 129.6L425.5 125.4M387.9 160.2L386.6 152.4M461.5 247.6L456.9 249.8M386.9 239.2L384.6 241.6M395.5 87.5L392.6 90.9M452.1 260.7L450 262" stroke="#9a980e" stroke-width="2.5" fill="none" stroke-linecap="round"/>
<path d="M377 142.4L379.5 139.1M433 138.7L433 134.4M565 76L562.4 77.8M610.8 233.8L609 236M572.9 178.4L576.3 174.5M414.1 199.5L412.3 195.4M506.6 104.3L509.5 106.3M395.6 250.5L394.7 246.2M623.3 20.9L622.6 23.2M583.3 41.3L587.9 41.2M599.5 27.5L599.8 23.3M383.5 136.4L380.8 140.1M576.3 174.5L572.2 170.3M457.2 84.5L458.3 88.4M473 152.9L482.4 154.2M618.1 220.4L616.5 216.6M415.8 221.2L418.7 224.6M429.7 157.2L432.8 155.8M609.1 188L611.8 185.2M510.6 168.9L513.1 173.9M498.5 266.6L496 263.1M531.5 215.7L529.2 217.6M474.2 248.2L471.2 251.3M476.8 260.3L474.7 259.5M612.9 93.6L611.8 97.5M457.2 254.8L457.5 259.7M565.4 57.9L558.2 56.8M566.6 121.6L566.9 117M441.1 29.3L436.6 29.3M510.9 241.6L509.3 242.3M446.9 66.5L450.7 69.4M490 37.3L484.7 34M605.7 143.7L608.3 140.4M499.8 223.4L497.6 227.4M473.9 263.7L479.1 264.3M585.9 81.1L584.6 85.5M610.6 107L611.5 105.9M486.6 178.1L491.3 174.1M509.4 25.2L512.5 22.7M582 230.6L584 230.2M407.2 70L405.6 66.3M478.2 236.3L478.8 240.1M456.1 168.4L456.7 163.9M382.5 121.2L378.3 122M382.2 247.7L384.2 250.4M410.6 143.1L407 141.1M469.8 18L466.7 20.9M533 220.7L537.2 223.1M578.6 70.5L575.6 67.5M418.3 108.6L423.2 105.3M395.5 126.5L393.4 129.4M494.5 43.5L492.4 32.9M386 260.7L377 258.4M446.9 66.5L443.7 64.5M409.9 15.2L406.9 13.5M498.3 180L500.8 177.1M382.5 133.2L382.5 132.2M510.9 125.5L504.6 128.5M505.3 224.3L505.1 220.5M473.5 77.1L470 75.7M574.5 183.1L572.9 178.4M414.3 48.6L413.5 50.8M498.2 247.8L501.5 244.7M444.7 81.9L445.8 86.3M415.5 85.4L410.8 84.8M537 100.1L533.1 93.1M399.8 268.5L402.8 265.5M464.1 266.2L467.5 265.7M529.8 31.3L529.8 21.3M527.6 103.8L531.2 104.1M508.5 173.2L503.6 174.1M421.3 124.8L417.5 123.4M509.5 39.7L513.3 36.5M602 235.3L605.7 234.1M589.9 88.6L593.2 85.9M545.9 245.9L542.5 245M555.1 155.5L555 150.6M535.1 59.8L541.3 52M521.8 231.6L525.4 229.7M535.1 254.1L539.2 261.9M512.6 267.7L508.5 268.6M560.2 48.2L563.8 46.5M549.4 166.7L545.8 165.1M505.5 219L503.3 207M415.7 211.5L413.3 215.2M592.4 131.5L595 131.9M501 140.6L501.6 143.6M465.4 233.6L466.3 236.8M594.4 86.7L593.2 85.9M596 14.9L596.2 16.8M589.9 255.5L588.5 259.3M607.9 65L614.7 64.8M626.5 226.8L623.3 228.6M532 114.6L529.6 110.5M407.5 70.7L406.5 59.7M529.6 14.7L524.9 14.6M389.9 16L390.4 21M583 204.1L578.4 204M422.3 193.1L419.8 193.4M500 159.2L501.2 164M391.2 137.7L391.7 137M523.4 72.6L527.5 73.9M492.4 119.5L492.4 123.2M418.7 243.1L414.5 243.4M479.7 126.6L482.9 124M609 191.3L611.5 192.7M523.8 237.5L521.6 239.8M493.7 43.2L492.5 47.3M398 194.5L393.6 196.4M482.7 197.3L476.5 196.4M597.8 222.3L597 219.9M481.5 84.6L476.5 85.3M574.2 150.7L577 141.8M581.7 237.9L584.2 238.7M382.5 132.2L382.6 127.8M480.2 133.9L479.9 129.9M557.1 208.2L560.4 206.9M415.5 153.2L419.6 155.7M547 42.7L549.2 38.7M609.4 196.2L604.8 198.3M453.3 225.3L451 221.6M405.8 111.5L405.1 114.4M452.7 218.2L456.5 218.4M408.7 75.8L409.8 78.8M616.4 32.1L612.3 32.2M560.2 244.1L560.3 240.2M439.8 135.8L436.4 139.4M390.4 23.6L389.3 25.3M477.6 144.5L475 157.9M523.4 47.4L518.8 49M474.8 82.9L478.1 79.8M543.8 267.9L544.5 263.3M426.8 68.1L425 72.7M477.3 154.7L474 156.5M538.4 109.2L535 109M611.2 27.8L614.2 23.4M478.1 71.9L477.5 75.2M504.6 237.4L504.8 234.4M448 159.8L449.1 152.1M420 118.7L422.6 122.4M540.2 120.9L541.5 125.1M491.3 59.5L478.1 62.9M384.5 35.5L383.2 30.8M456.5 218.4L457.5 220.4M495.8 51.3L502 52.5M431.6 109.4L429.4 107M402.2 18.7L405.7 21.5M556.4 48.2L559.4 48.9M470.8 64.5L465.5 64M456.5 211L452.9 212.5M464.4 239.8L463.9 237.1M478.7 16.1L476.9 18.5M383 98.7L383.5 103.2M624.7 101.3L621.2 102.4M522.8 178.6L526.2 181.6M548.8 240.5L546.6 237.4M598.1 87L595 74.3M386.5 130.1L388.2 129.8M440.4 131.8L437 124.4M534.2 269.8L536.6 266M430.9 177.2L427.2 179.4M585.5 223.5L589 225M438.6 131.8L436.4 130.8M599.5 127.9L601.9 129.4M580.7 96.5L579.2 100.6M599.1 136.1L600.1 134.9M464.3 154.9L461.1 152.3M533.5 124.8L531 124.7M512.9 47.3L514.9 45.8M553.5 12.3L554.3 9.4M429.3 164.7L428.9 164.9M612.4 33.8L615 32.2M485.7 43.4L488.3 40.2M402.9 223.6L405 223.1M466.7 109.3L473.2 100.8M483.8 210.2L485.3 209M505.7 144.2L506.5 147.9M429.4 249.8L427.7 249.2M546.7 247.3L545.9 245.9M623.9 254.5L619.6 256.2M410.5 250.9L411.3 250.1M485.9 193.9L489.8 194.4M392.6 224.4L395 227.2M390 37.5L395.1 37.7M473.7 116.7L471.7 121.3M587 51.4L583.9 54.4M534.6 211.8L533.1 206.9M589.9 156.4L590.4 151.7M385.9 52.1L389.4 54M381.1 221.4L380.8 225M404 214.3L402 217.5M526.6 229L530 226.5M377 137.2L378.9 133.6M509.3 242.3L510.9 241.6M449.6 42L448.2 45.4M484.6 169.8L488.3 167.6M403.6 230L394.9 232.5M608.8 147.4L612.4 147.6M537.7 22.6L542.2 23.3M483.4 141.8L481.5 140M614.1 163.9L617.4 167.2M562.3 63.5L558 64.6M464.2 169.8L471.4 169.6M444.7 64.6L442.6 64.6M468.3 227.1L464.6 230.3M531.3 252.6L534.9 251.6M560.8 122.9L563 126.5M429.3 256.2L432.2 253.1M389.9 82.5L394.1 83.4M456.9 249.8L452.6 246.9M490 173.5L486.3 175.7M547.5 270L543.8 267.9M615.3 252.1L619.6 250.4M478.7 251.8L480.8 252.6M479.5 150.3L477.3 154.7M547.7 111.7L557.8 103.8M523.8 237.5L521 235.5M611.6 45.2L612.9 43.6M558.6 19.2L557.5 23.8M584 230.2L583 226M566.1 134.5L572.4 129.4M433.3 41.6L433.5 29.9M523.8 26.6L526.6 30.3M392.9 154.2L403.8 151M622.7 108.4L619.6 104.8M481.3 63L486.1 64.2M614.3 271.5L612.3 267.8M598.4 140.8L601 134.6M562 102L561.4 89.7M506.6 185.9L508.7 189.7M577.3 262.5L577.5 258M521.6 239.8L526.2 241.4M547.5 136.8L551.5 135.8M382.1 181.7L379.1 180.6M612.1 110L602.8 106.6M566.2 52.7L565.4 57.9M457.3 51.7L454.4 48.5M478.3 94.3L473.9 96.3M427.8 55.3L423.5 67.2M510.7 138.3L510.2 146.8M558.8 58.9L562.7 60.6M577.5 188.6L564.5 191.5M395.7 211.4L395.9 209.6M621.7 98.5L621.1 95.1M398.9 129.3L402.4 120.6M490.3 53.2L491.1 48.9M465.9 132.4L462.7 129.8M495.6 250.3L498.9 254M439.8 131.5L439.8 135.8M467.6 254.3L467.7 252.1M412.4 165.4L408.5 167.8M398.1 159L398.6 162.8M404.7 166.1L404.8 162M386 16.4L388.4 20.7M470.8 211.8L473.7 212.7M514.2 100.2L515.5 105.2M394.3 28.4L394.5 30.1M543.4 88.3L540 85.4M616.4 137.5L620.1 134.9M506.1 256L503.8 252.1M436.2 139L436.4 139.4M536.7 203.4L541.9 204.9M402.8 218.7L408.1 213.7M408.5 167.8L404.7 166.1M541.2 126.1L545.7 126.4M537.9 204.8L538.6 200.4M564.4 265L561.6 268.5M444.5 252.9L447.3 250.4M617.9 183.8L616.2 186.1M498 24.8L502.8 33.7M474.6 232.5L478.2 236.3M466.1 179.8L463.1 178.9M584.5 139.3L584.5 144.3M446 73.5L443.3 71.2M512.9 162.3L508.9 163.5M408 105.7L404 108M469.3 126.3L472.6 125.8M557.5 23.8L554.9 25.5M481.5 140L481.4 136.8M481 39.7L478.4 39.6M565.3 253L565.5 257.5M625.7 158.5L627 159.9M530.7 221.8L533 220.7M480.9 183.1L482 177.9M612.5 79.3L616.7 81.6M478.4 39.6L476.2 35.5M612.8 177.9L611.4 173.5M608.2 170.2L604.1 172M560.3 240.2L562.9 239.5M558.2 56.8L555.2 56.2M588.7 243.1L588.1 240M561 136.8L560.9 132M400.2 177L401.4 176.6M567.7 113.6L566 110.3M417.8 164.6L418.9 167.2M562.9 97.8L561.2 96.5M619.8 18L623.3 20.9M377 22.4L378 17.8M427.6 261.9L429.7 259.1M394.7 158.9L398.1 159M567.2 31L566.8 30M451.6 120.9L450.6 116.6M617.4 167.2L614.1 163.9M452.3 17.5L448.3 16.7M620.4 130.3L624.1 133.5M407 156.5L411.1 155.5M610 52.1L611.1 54.6M378.8 213.4L383.6 215.1M483.6 164.7L483.4 164.1M414.5 103.7L410.6 105.3M410.6 105.3L407.8 104.1M600.4 70.7L598.4 74.4M590.4 246.1L588.7 243.1M594.7 141.3L591.7 139.3M610.8 265.4L605.9 266.8M558.7 125.4L554.5 137.8M515.6 250.3L505.2 252.4M453 243.3L451.1 232.5M424.9 132.9L420.4 134.5M395.7 211.4L400.9 211.3M483.5 130.5L479.9 129.9M606.2 218.7L602.4 221.6M497.5 167.2L492.5 165.6M412.7 163.6L417.8 164.6M430.6 203.9L428.9 208.6M460.1 92.5L463.3 89.7M518.8 49L517.8 54.9M514 107L515.5 105.2M450.5 20.3L448.8 24.2M500.7 75.5L499 72.7M519.2 95.3L520.9 97.1M397.7 249.4L395.6 250.5M621.3 194.1L614.3 188.7M521.2 109.3L525.2 114.6M408.9 101.3L412.9 99.7M394.3 136.8L396.3 140M516.9 22L518.1 23.7M547 139.6L547.1 143.8M497.5 259L497 259.8M587.6 149.7L583.2 149.4M554.9 25.5L553.4 22.7M580.5 67.6L582.2 72M546.8 258.4L543.6 260.4M623.9 251.6L627 249M458.3 202.8L451 199.7M562.4 210.6L564.1 213.3M380.8 209.5L377.1 209M587.5 226L585.5 223.5M411.1 70.2L412 68.6M452 250.6L454 253.4M378 199.9L381.8 200.4M430.2 260.7L429.3 256.2M438 81.6L439.8 80.4M581.1 145.4L583.5 141.8M392.9 96.3L397.2 96.4M541.9 24.9L541.2 20.4M477.3 95.9L478.3 94.3M441.6 179.6L440.4 177.4M595.1 148.7L593.1 145.2M537 227.6L532.8 225.2M512 159.4L517.2 157.8M396.3 140L398.9 139.4M479.4 172.5L486.2 166.3M399.3 86L394.2 89.1M383.6 215.1L384.7 219.1M549.2 38.7L548.3 36.7M553.8 255.2L541 250.3M476.4 146.1L479 142.5M450.5 66L455.4 64.4M598 271.4L599.7 266.4M548.7 186.4L551.4 189.4M530.3 71.4L534.1 69.5M584.2 259.3L581.4 255.5M429.3 178.3L420.5 175.1M619.5 169.2L616.7 171.6M386.3 157.8L385.7 160.9M420.9 228.3L419.8 226.3M507.4 48.8L503.3 49.5M608.7 102.5L611.5 105.9M563.9 140.2L572.8 143.5M542.8 62.6L543.5 62.6M418.6 22.3L415.8 26.1M410.8 160.4L412.6 161.3M557.9 265.5L551.9 267.5M452 99L450.1 101.7M444.4 99.4L443.7 101.2M388.6 244.1L384.9 249M568.8 106.6L573.2 106.1M514.5 244.5L525.3 244.1M511.2 123.1L508.8 125.2M558.6 272L557.2 269.4M472.1 206.9L476.8 205.3M389.6 79.9L389.7 83.2M391.8 58.8L395.3 57.4M412.1 107.4L414.8 100.2M549.1 111.7L552.3 115.2M572.4 83.3L579.8 83M549.7 9.6L549.2 13M429.5 40.2L425.4 30.5M460.4 122.8L457.5 118.9M603.6 31.3L593.4 27.7M535.9 210.1L538 210.2M584 230.2L582 230.6M486.1 52.5L490.3 53.2M444.8 192.4L439.8 192.3M540.4 8.8L544.3 11.8M471.1 124L474.7 121.4M482.2 150.2L485.4 153.4M512.2 108.8L507.4 107.4M470.3 105L461.5 104.3M411 42.1L410.3 38.3M582.9 24.8L582.8 25.5M557.5 158.7L555.1 155.5M621.2 102.4L625.9 103.6M551.2 171.6L549.4 166.7M621.7 88.3L621.2 92.4M571.5 256.1L568.6 252.2M573.5 156.6L571 156.9M455.4 64.4L458.8 67.4M559.8 17.6L559.1 12.9M571.2 234.4L575.5 236.2M384.7 121.9L386.7 118M552.5 144.4L553.5 135.1M503.8 220L505.1 220.5M602 62.3L606.6 62.2M506.9 250.2L512.4 251.8M548.6 87.1L543.4 88.3M519.4 90.4L523.4 91.7M615 19.5L615.7 17.3M393.6 196.4L389.6 193.6M604.7 69L604.7 68.1M528.5 89.4L532.6 91.9M544.8 224.8L545.4 229.2M559.4 48.9L561.4 51.3M581.1 97.3L579.2 100.6M615.7 231.2L611.9 233.2M597.1 187.8L597 181.1M377 215.7L378.8 213.4M514.4 165.7L515.4 170.4M504.3 137.3L501 140.6M455 202.8L453.8 206.3M394.6 230.8L395 227.2M395.9 115.2L390.7 114.8M413.3 66.7L411.1 70.2M626.5 201.3L618.2 209.9M581.1 97.3L586.3 97M462.4 18.8L463.4 18.5M610.7 191.7L611.5 192.7M377.1 247.1L377 243.6M380.8 255.4L384.3 252.9M465.7 216L469.6 225.6M468 36.5L471.4 40.2M484 72.8L479.1 71.6M608.7 102.5L607.1 98.2M525.8 209.7L528.1 207.8M606.2 53.4L610 52.1M540.5 129.5L538.5 127.6M533.3 181.6L534.4 177.9M482.7 197.3L485.9 193.9M592.5 17.9L590.1 14.8M480.8 252.6L479.1 252.5M594 266.2L591.2 262M462.5 196.8L458.1 199.4M555.8 34.6L554.5 31.2M566.2 134.4L570.6 136.4M611.5 105.9L616.6 104.6M445 18.2L442.9 21.7M611.9 139.2L612.2 136.7M522 14.2L517.9 14.2M538 210.2L534.6 211.8M594.5 67.3L595.1 66.3M386.3 157.8L382.9 154.2M470.9 113L472.7 108.8M553.6 229.1L549.7 231.9M469.2 202.3L471.6 190.6M386.4 271.9L382.3 268.8M413.2 246.4L411.3 250.1M519.5 8.3L522.8 11.3M531.2 234.9L527.2 233.3M402.1 87.9L399.3 86M604.1 53.2L605.4 43.6M425.9 228L420.9 228.3M582.9 218.1L587.6 215.5M505.1 15.4L509.2 17M548.9 260.8L552.6 262.9M477.7 65.8L476.6 70.3M596 27.5L599.8 26M616 36.8L611 34.2M399.3 86L400.3 82M434 75L432.9 70.5M550.9 40.3L546.1 52.3M471.5 55.3L468.9 53.8M546.6 66.1L543.8 71M549.4 166.7L551.2 171.6M576.4 188L574.5 183.1M385.9 232.6L387.5 234.7M495.4 11L494.3 8.4M579.1 238.2L575.8 234.3M613.5 241L613.5 230.2M495 157.6L500 159.2M612.4 147.6L608.8 147.4M429.7 259.1L426.7 257.7M400.2 42L405.3 40.8M456.3 177L454.2 175.5M596.7 134.6L596.9 130.5M560.3 53.2L563.3 53.9M440.2 53.4L437.9 50.1M582.8 251.7L579.3 250.6M536.6 120.1L540.2 120.9M582 224.4L579.6 228.8M390.4 194.5L389.6 193.6M445.7 186.6L447.7 189.5M485.4 126.2L485.4 122.5M515.5 105.2L512.2 108.8M449.7 97.4L452 99M600.1 134.9L604 136.8M583.2 149.4L581.1 145.4M607.8 147.3L605.7 143.7M518.7 168.9L519.7 171M419.6 82.9L415.5 85.4M500.5 11.5L495.4 11M406.7 270.8L401.7 271.2M581.3 125.9L577.6 125.3M447.6 197.1L444.5 200.2M392.2 229.7L387 229.3M563.6 138L561 136.8M391.7 137L391.2 137.7M555 203.9L558.1 203.3M433.1 246.6L434.1 244.2M529.2 217.6L526.4 214.6M465.5 64L463.2 59.2M482.9 213.1L481.1 213.3M421 156.3L424.8 158.1M565.1 119.3L560.1 119.5M453.4 71.7L448.9 70.6M483.3 72.3L484.6 76.8M550.7 160.8L554.3 162.3M618.4 180.3L616.3 181.3M542.6 189.9L537.7 191.9M399.8 76.4L403.8 74.6M506.4 212.3L510.3 208.9M588 46.6L583.4 46.7M582 230.6L585.3 234.4M427.9 16.5L424.8 20.6M546.1 232.3L546.4 229.8M570.5 160.7L566.6 162M537.7 22.6L538.9 18.9M420.1 214.5L417.3 214.4M470.7 242.2L467.8 242.3M561.5 227.5L565.9 227.7M494.3 255.3L493.3 251M567.5 48.9L567.6 41.9M595.8 171.5L600 170.3M568.6 52.8L563.8 57.9M517.5 31.7L519.3 27.3M551 57.2L550.5 62.1M463.4 18.5L462.4 18.8M504.8 13.8L508 15.5M513.3 36.5L512.7 32.1M520.4 169.6L523 167M534.1 88.2L535 83.5M526.6 30.3L524.9 34.8M419.4 237L417.2 233.3M480.3 138.7L477.1 140.5M529 43.6L527 37.6M463.4 18.5L463.2 13.2M442.8 213.4L451.5 213.7M450.7 69.4L453.4 71.7M593.8 190.6L593.5 189.3M483.6 173.8L484.6 169.8M540.8 12.2L536.1 6M461.9 35.5L460 43.4M409.8 256.5L408.1 254M391.8 121.3L389.8 125.2M408.4 146.2L410.6 143.1M389.8 125.2L390.5 127.1M574 247.3L574.4 243.6M443.6 14.4L445 18.2M617.8 127.7L616.6 129.4M416 147.4L411.1 148.4M461.6 50.7L457.3 51.7M554.6 60L558.8 58.9M433 134.4L436.4 130.8M404.7 230.9L402.8 227.5M580.5 113.7L581.7 120.7M525.1 130.3L529.9 128.2M605.9 266.8L604.2 271.7M461 228.7L460 231.1M524.9 140.5L527.1 136.8M519.8 77.2L517.6 80.7M416.7 17.8L418.6 22.3M561.4 129.7L557.5 129.4M580.1 248.2L579.3 250.6M391.7 151.4L390.7 156.4M380.6 200.3L378 199.9M454.3 231.6L453.4 220.7M452.1 260.7L451.8 255.8M580 111.8L581.6 108.8M454 171.1L455.7 168.3M536.1 194.4L538.6 200.4M454.6 98.7L455.2 96.2M610.1 43.6L609.1 38.7M623.3 228.6L619.3 227.8M482.3 9L476 17.5M445.6 204.4L445.4 206.6M580.5 261.4L580.2 264.8M544.5 104.5L552.3 112.7M447.2 210.7L446.8 209.6M436 66.5L435.6 71M561.3 269.3L560.6 272M436.5 40.5L440.5 42.1M583.1 220.5L575 212M507.8 178.7L504.9 179.7M408.4 215.1L405.9 211.5M392 59.2L400.1 51.4M410.3 198.8L406.7 199M546 26.6L541.9 24.9M541.6 34.5L545.2 36.1M617.7 260.4L613.9 260.2M398.9 64.3L389.9 58.4M470.3 169.2L468.7 171.8M429.5 214.9L433.7 214.1M619.3 227.8L618.5 225.4M536 30.6L534.6 26.2M456.3 215.4L459.7 212.8M440.1 130.4L438.6 131.8M506 149.5L515 155.9M593 266.3L602.1 265.8M616 40L618 37.2M553.3 240.7L548.8 240.5M548.1 149.1L543.8 147.4M581.3 175.2L585.6 173.1M382.6 127.8L384.7 124.6M469.9 219.5L472.8 223.2M564.2 94.9L566.5 93.7M527.6 117.7L530.1 117.8M400.9 211.3L402.7 208.5M435.8 11.5L437.8 9M615.4 73.7L620.2 73.1M615.3 255L607.4 252.6M579.1 238.2L581.7 237.9M604.7 68.1L600.1 68.2M531 124.7L528 121.2M383.4 59.9L382.2 63.3M523.4 250.1L518.8 248.5M477.7 66.7L477.7 65.8M466.7 237L470.1 239.5M424.9 132.9L424.2 137.5M387.3 166.7L389.3 171.2M478.7 249.3L474.2 248.2M605.5 264.4L610.1 262.2M621.5 212.8L618.3 215.7M513.8 203.9L512.4 208.2M618.5 225.4L621.7 223.6M396.9 107.3L399 111.5M397.2 60.5L395.5 65.1M618.2 262.9L607 271.2M432.6 248L433.7 245.4M534.4 177.9L533.3 181.6M442.2 57.1L444.5 60.8M392.2 166.4L391.7 162.6M390.2 117.7L391.8 121.3M563 206.3L560.4 206.9M487 150.6L485.4 153.4M426.1 246.6L426.8 242.1M492.4 75.5L495.9 71.8M541.2 206.8L541.9 204.9M404.2 89.6L402.1 87.9M418.8 199.8L426.2 201.9M425.1 191.5L427.7 190.6M427.3 170.9L430.9 173M434.1 63.8L425.3 53.6M434.6 76.5L439.3 76.1M523.7 258.6L519.9 255.7M395 227.2L392.2 229.7M618.6 271.6L614.3 271.5M384.8 212.1L388.8 211.1M523.8 128.1L532.4 129.7M517.6 37.5L518.2 41.8M590.1 20L588 24.5M528.1 207.8L531 210.8M622.6 157.7L622.6 160.9M423.6 177.3L423.6 173.1M451.8 168.1L454.6 160.9M500.9 242.9L503.6 238.8M594.8 173.7L590.7 163.2M405.2 144.3L400.6 138.2M515 26.2L510.6 26.9M427.7 249.2L429.8 253.8M583.4 46.7L581 44.1M398.5 262.9L398.4 266.4M400.3 82L398.8 80.2M397.2 75.1L397.6 73.1M521.5 86.5L519.6 88.8M608.7 79.7L607.7 75.9M449.3 17.4L445 18.2M444.2 167.7L436.1 173.9M502 266.9L498.5 266.6M433.4 248.6L438.1 253.2M446 73.5L444.9 76.2M419.9 191.7L422.9 187.7M610.7 191.7L609.1 188M616 40L616 36.8M471.3 92.6L475.8 90.6M390.4 21L394.2 21.2M554.2 29.8L556.9 25.3M482.1 245.3L485.9 244.4M441.1 160.9L444.6 162.6M506.9 250.2L503.8 252.1M504.6 123.7L502.8 120.1M503.8 131.4L502.3 127.7M506.6 10.6L504.4 9.4M485.5 187.4L487.4 191.8M584.6 85.5L581.4 86.8M579.2 207.9L575 203.2M383.4 133.1L388.8 134.7M562.4 77.8L557.7 75.9M385.1 186.3L383.8 186.4M400 105.6L399.9 100.8M403.4 225.2L403.5 238.9M497.5 36.7L501.6 34M521 235.5L521.8 231.6M467.4 78L470 75.7M609.1 38.7L613.1 35.5M535 109L535.9 108M433.1 246.6L433.5 242.1M412 221.1L415.8 221.2M587.2 270.5L584.7 266.7M587.1 104.6L581.9 104.9M396.9 107.3L393.1 103.4M460 191L463.8 188.1M469.7 47.8L472.4 51.3M469.4 253.6L473.6 255.3M590.1 14.8L585.3 16.2M616.7 81.6L617.1 85.7M466.4 269.9L467.5 265.7M486.9 223.1L484.8 227.3M603.1 43.3L603 39.1M609.2 85L608.8 81M438.9 189.6L448.7 189.6M609 271.5L604.9 269.1M540.8 77.8L538.7 82.9M508.6 173.6L506.6 175.1M477.3 108.4L480.2 112.1M454.7 132L449.8 133.3M500.5 11.5L499.9 17.8M438 127.3L440.1 130.4M486.9 96.8L481.9 98.4M541.9 204.9L541.2 206.8M498.8 136.4L503.2 135.2M407.9 62.8L411.6 61.8M459.3 164.9L455.2 165.5M496.3 158.6L492.7 159.2M424 118.7L428.4 121.4M509.3 242.3L506.6 246.5M597.6 150.5L597.1 155.2M433.7 245.4L433.4 248.6M513.1 173.9L508.6 173.6M441.9 260.1L438.3 269.4M616.9 195.8L615.1 192.6M403 157.4L403.3 153.1M516.5 86.9L515.3 82.7M617.9 49.9L616.9 45.5M567 180.6L565.3 184.2M498 207.9L506.7 204.3M423.3 167.4L424.5 164.8M519.1 122.9L520.6 135.3M432.7 46.9L431.7 48.5M433 138.7L430.9 138.8M507.4 107.4L506.1 102.4M607.2 213L605.2 212.9M505.8 66.5L506.8 63.6M577.7 244.7L580.1 248.2M547.5 55L551 57.2M600 170.3L602.6 171.1M411.2 242.7L413.1 242.7M414.7 112.6L419.9 121.5M532.2 135.9L529.6 131.7M385.9 23.5L388.4 20.7M477.6 210.8L479.4 210.8M513.7 102.5L513.3 98.5M378.8 175.8L381.5 172.3M447.5 124.8L452.4 123.4M598.7 148.1L595.1 148.7M512.4 208.2L508.4 210M558.7 258L558.5 253.5M447.9 263.3L450 262M473.4 71.1L474.7 70.5M610.1 262.2L614.1 264.7M511 73.8L513.5 73.9M427.1 14.8L426.3 6.7M570.2 190.5L572.2 187.4M424.3 51.9L421.6 54.7M403.9 79.7L405.8 80.5M546.5 239.3L549.9 240.2M555.2 56.2L551 57.2M418.7 39.4L416.1 39.2M601.9 12.3L603.3 16.9M564.2 94.9L566.9 96.8M627 163.7L623.7 166.2M576.3 174.5L581.3 175.2M403.5 184.7L398.3 185.6M601.5 88.1L597.1 86.9M441.1 29.3L444.4 26.6M572.4 238.9L569.7 238.7M407.1 32.3L405.9 36.4M506.2 248.7L504.4 245.7M439.9 218.6L443.6 220.6M404.5 25.9L403.6 23.8M532.1 196.3L529.6 195.7M537.8 98.3L528.1 106.6M384.6 241.6L383 239.4M442.8 158.8L439.4 161.9M482.8 251.6L479.1 252.5M557.3 16.5L553.1 8M547.8 28.7L544.4 35M444.8 192.4L442.5 191.3M603.3 16.9L601 20.5M601.3 143.7L597.4 141.9M606.8 259.6L597.3 257.7M469.2 43.9L465.7 40.2M554.8 210.2L557.1 208.2M579.8 20.6L574.4 21M591.5 17.2L596.7 8.3M509.5 98.8L508.1 93.3M509.4 96.5L518.6 93.2M383.2 30.8L385.1 28.6M405.5 65.2L401.2 59M592.2 218.1L592.1 223.4M581.3 175.2L582.8 179.9M603.4 60.8L601.4 64.8M618.3 23.3L619.4 27.7M399.2 252.4L402 254.4M480 128.2L475.3 129.2M607.9 65.5L611.4 65.9M396.2 159.8L391.5 160.8M523.1 173.1L520.4 169.6M588.8 74.5L592.7 75.7M508.4 210L505.7 207.5M447.3 129.5L456.9 125.5M541.1 143.9L536.3 143.1M518.3 128.3L518.2 124.7M540.6 264.4L542.2 266.6M518.2 41.8L515.7 41M536.9 76L536.5 71.8M545.2 14.7L544.1 21.5M436.6 29.3L435.4 24.9M579.8 53.3L578.8 49.1M563.2 169L566.5 166.7M538.6 46.8L534.8 48.7M521.2 64L521.1 59.6M505.1 220.5L509.2 217.9M466.7 20.9L463.4 18.5M414.4 90.3L415.3 93.2M383.4 193.3L385.6 189.9M581.3 175.2L583.9 172.1M600.8 195.2L597.2 196.8M443 20.6L439.4 21.4M560.4 258.8L563.9 260.1M420.2 230.1L422.5 233.8M506.2 112.7L506.1 116.6M532.9 115.6L521.4 109.9M579.2 100.6L581.1 97.3M428.7 73.7L432.8 84.3M602 235.3L603.2 238.6M597 219.9L600.8 217M459.2 233.9L458.3 230.7M442.8 95.4L444.4 99.4M488.4 59.5L490 59.6M377 204.2L378 199.9M496 263.1L497 259.8M402.1 124.9L401.6 128.8M596.3 125.4L593.6 129.4M434.3 39.8L432 39.8M615.4 227.6L618.1 220.4M458.2 62.6L462.8 64.6M382.2 173.6L380.2 169.1M549.5 35.7L544.7 23M377 243.6L378.6 240.7M555.8 16L557.1 16.4M437.9 50.1L439.6 47.5M523.5 242.2L519.2 242.4M516 238.8L511.8 237.1M391.6 251.7L395.3 250.8M386.7 174.7L389.7 179.1M540.3 98L548.6 105.2M596.7 240.4L598.8 236.2M419.6 158.5L419.4 160.6M570.5 32.9L567.2 31M599.8 158.2L611.9 158M611.8 185.2L616.2 186.1M391.3 161.3L391.5 160.8M387.3 166.7L392.2 166.4M610.5 257.8L611 255.5M492.5 47.3L491.1 48.9M583.3 117.2L583.6 118.7M417.3 214.4L417.3 210.2M391.7 162.6L394.7 158.9M592.2 79.3L597.7 81M613.9 153.8L615.2 152.2M487.4 84.1L482.4 80M514.7 255.4L516.4 251.3M380.6 51.6L382.5 57.9M472.3 195.3L475.8 206.1M600.8 190.7L600.8 195.2M447.9 263.3L447 263.4M605.9 266.8L604.9 269.1M553.3 199.2L548.9 191.6M618.5 22.4L615 19.5M462.8 64.6L464.7 68.5M549.7 147.3L548.1 149.1M444.7 64.6L445.6 62.2M380.8 209.5L384.8 212.1M499.9 258.3L497.5 259M555.6 116.6L562.7 126.7M617.4 167.2L619.5 169.2M562.8 247.3L560.2 244.1M380.8 225L385.1 227.6M425.5 125.4L422.4 129.6M417.4 11.3L417.5 6.6M590.4 151.7L587.6 149.7M468.1 54.6L473.4 49.4M484.8 81.5L486.8 81.3M518.6 254.9L516.9 259M481.6 239.6L481.5 236.9M483.1 55.3L486.1 52.5M398.3 185.6L394.7 182M471.3 225.9L474.2 229.5M397.2 75.1L399.8 76.4M557.6 221.9L555.6 219.1M625.6 48.8L622.2 51.5M596.8 64.3L596.2 64.3M439.4 95L442.8 95.4M539.7 43.4L538.9 38.2M558.6 229.6L561.5 227.5M414.2 13.4L414.5 17.6M500.5 7.6L500 17.3M521.2 109.3L517.4 109.9M505.9 58.3L500.8 59.7M522.1 206.5L520.1 207.2M422.6 122.4L420.3 119.2M561.5 11.5L567 6.2M557.9 265.5L559.9 265.5M432 73L434.6 76.5M422.1 162.6L419.6 158.5M394.9 13L401.8 18.9M603.8 244.2L598 240.2M576.7 243.3L574 247.3M587 15.8L590.1 20M481.3 78.5L483.2 79.1M452 66.3L446.9 66.5M420.5 137.3L417.1 138.5M481.4 136.8L484.7 134.1M568.6 32.8L577.3 32.3M463.2 59.2L466.2 54.9M508.5 268.6L504.9 265.3M397.2 75.1L394.8 74.6M421.7 33L423.2 28.5M468.1 189.7L471.6 187M480.6 207.8L479.4 210.8M440.7 186.5L445.7 186.6M585.9 166.1L593.4 168.3M439.8 250.1L438.7 252.7M435.7 161.6L435.3 158.2M509.3 110.5L506.2 112.7M608.7 79.7L604.5 81M466.3 236.8L463.9 237.1M621.2 259.2L619.6 256.2M590 146L593.1 145.2M462.3 191.7L464.4 189.2M493.5 89L488.7 89.9M412.4 65L411.7 59.9M624.2 41L620.1 42.1M495 85.9L493.6 81.7M386 16.4L386.2 18.4M516.7 110.5L514 107M536.5 71.8L540 69.2M457.8 169.7L456.1 168.4M464.1 119.3L464.4 116.3M614.9 255.6L618.2 258.1M607.9 65L604.7 68.1M419.9 191.7L421.7 195.9M568.8 172.6L564.3 171.9M587.4 165.5L591.3 166.8M406.8 261.5L411 263.7M601.8 254.2L605.2 251.4M448.1 175L454.2 175.5M377 49L377 45M391.1 269.3L391.2 265.8M598.7 66.7L600.4 70.7M595.9 21.6L599.8 23.3M506.2 248.7L511 249.2M455.7 183.8L462.7 181.5M440.5 256.5L444.7 255.2M384.3 45L387.9 43M463.4 207.3L461.7 208.6M479.9 267.3L486.3 260.6M562.7 60.6L562.3 63.5M401.7 94.1L401 90.9M543.6 27.7L540.5 31.4M622.6 10.4L624 12.2M605 72.8L604.7 69M612.8 72.3L613.8 76.1M542.2 9.6L546.2 7.9M612 51.7L609.6 61.1M406.6 120.3L410.3 120.6M403.9 98.5L408 100.9M476 88.6L476.5 85.3M596 34L588.7 30.2M471.9 157.2L468.3 159.3M441.4 225.6L437.6 223.6M542.4 49.7L538.6 46.8M382.8 165.6L387.3 166.7M617.6 124.5L617.8 127.7M616.3 181.3L612.8 177.9M566.6 121.6L562.5 123.6M502.8 200.3L496.6 204.1M390.8 99.8L392.9 96.3M558.2 56.8L558.8 58.9M618.1 79.2L614.3 76.8M554.5 31.2L555.8 34.6M469.5 12.7L469.8 18M443.5 15L440 14.1M474.7 121.4L479.4 120.4M604 136.8L604.6 141.1M499.3 84.3L497.8 87.2M545.4 229.2L543.2 232.6M403 157.4L399.9 161.1M411.1 25.3L410.6 25.1M490 59.6L493.5 58.9M518.2 124.7L519.4 126.3M415.8 221.2L413.6 220.3M624 75.6L623 78.6M600.5 65.2L599.1 75.5M436.4 139.4L436.2 139M484.7 34L482.7 38.8M579.4 183.9L574.5 183.1M483.3 201.3L482.7 197.3M597.4 141.9L598.4 140.8M457.7 259.7L462.7 261.1M405.7 21.5L404.5 25.9M617.5 228.4L615.7 231.2M458 12.5L455.7 16.3M475.7 77.5L483.5 88M574.9 38.1L582.6 38.8M479.5 150.3L479.7 150M621.2 102.4L624.7 101.3M503.2 159.2L501.2 164M612.3 32.2L612.4 33.8M557.5 174.7L560.3 179.9M459.9 205.7L455.4 208.8M513.1 173.9L510.6 168.9M400.8 32.4L398.1 35.2M469.8 18L470.4 17.7M404.8 159.1L408.7 159.6M538.2 112.1L536.3 115.4M497.6 227.4L493.6 226.6M505.9 182.3L506.1 185.8M430.9 63.9L433.6 62.9M524.1 148.4L528.6 147.9M453.9 64.1L452 66.3M578.2 129.1L583.3 131.4M382.2 193.5L381.1 189.8M550.2 206.3L549.2 209.7M549.9 240.2L553.4 237.9M447.7 189.5L444.8 192.4M401 250.1L404.2 247M472.4 186.1L469.7 185.1M387.6 187.1L389.8 189.1M594.2 59.7L596.3 55.6M388.4 260.5L387.3 253M480.6 95.2L481.9 98.4M433.4 248.6L433.7 245.4M419.8 226.3L418.7 224.6M440.4 208.5L444.6 207.5M622 114.1L619.5 114.5M465.7 40.2L465.2 36.5M601.9 129.4L601.7 133.5M527.1 136.8L531.9 136.8M501.5 98.4L503.6 95.9M581.9 46.2L586 47.3M587.9 41.2L589.3 33.6M430.8 105L427.5 106.9M423.3 132.8L429.1 123.1M561.5 223.6L557.6 221.9M547 115.7L550.5 118.2M521.2 234.6L524.4 238.3M514.5 11.3L515.3 8.3M541.2 206.8L537.9 204.8M618.1 220.4L615.8 223.2M490.4 82.5L486.8 81.3M382.2 82.5L382.1 79.2M402.8 265.5L407.8 265.1M391.6 31.2L394.3 28.4M419.3 18.9L422.4 14.8M615.8 223.2L615.4 227.6M432.7 143L430.2 144.5M435.4 24.9L438.6 20.6M439.4 194.4L442.5 191.3M391.5 149.4L380.6 144.4M412.3 134.9L415.7 133.7M490.2 250.2L499.9 257.7M541.8 81.3L547.1 80.1M525.3 114.3L518 120.9M438.1 189.4L441.2 181.1M421.7 195.9L418.8 199.8M454.8 38.8L466.3 42.4M379.2 263.6L377 257.1M621.1 161.1L622.6 160.9M439.8 80.4L438 81.6M590.8 220.1L592.2 216M536.6 266L535.4 260M412.4 65L410.8 68.8M517.1 197.2L514.3 199.7M502.5 172.5L501.2 168.4M625 170.2L614.5 179.2M444.4 224.1L441.4 225.6M509.3 260.1L513 263.4M621.7 223.6L625.7 224.4M545.2 36.1L548.3 36.7M426.3 56.8L431 58.5M531.6 107.2L535.9 108M490.8 155.9L492.5 152M465.7 171L464.7 169.6M493 199.7L503.5 191.4M445.5 178.3L441.6 179.6M386.6 125.8L386.5 130.1M473.8 137.4L471.7 136.2M384 146L380.8 149.3M427.6 73.3L432 73M446.6 192.6L447.6 197.1M604.5 81L605.2 85.2M497.9 135.4L495.5 139.7M549.2 106.4L550.7 108M437.7 116.1L435.4 120.7M596.2 16.8L595.9 21.6M525.1 130.3L521.8 131.1M408.7 159.6L412.6 161.3M446.4 143.3L448 150.2M401.7 271.2L399.8 268.5M557.7 75.9L555.5 72.1M510.7 51.1L511.1 59.1M613.8 76.1L611.8 79.8M416.5 134.7L412.4 128.5M566.7 137.8L571 138.9M409.7 18L409.3 20.8M478.2 148.9L478.5 147.8M531 151.7L528.9 155.9M534.1 88.2L532.6 91.9M534.6 232.4L531.2 234.9M442.6 80.2L438 81.6M603.2 238.6L606.9 237.7M445.1 120.4L443.6 116.9M453.8 206.3L451 205.1M444.9 142L449.1 150.1M608.3 140.4L613 140.8M495.8 51.3L492.2 53.9M572.5 207.3L570.6 209.4M431.4 13.9L435.3 12.9M529.6 14.7L532.1 18.4M477.6 210.8L478.1 206.7M589.7 193L596.5 203M560.9 132L563.4 128.5M405.9 211.5L404 214.3M479.4 194.5L477.5 190.1M574.5 122.2L570.4 124.2M442.7 72.7L436.7 68.5M553.7 198.8L567.6 197.9M473.4 154.3L473 154M576.6 194.9L572.4 194.3M488.9 210.9L485.5 213.5M455.9 179.4L464.7 171.4M556.8 91.4L557.6 78.5M463.8 81.7L469 94.1M386.9 239.2L388.8 237.9M391.5 160.8L387.7 157.7M519.6 133.2L521.8 131.1M411.6 61.8L414.8 65.9M452.3 17.5L450.2 21.1M504 214.8L503.8 220M524.3 156.3L521.9 152.6M411.3 127.4L407.5 127.1M443.3 71.2L445.7 69.1M625.5 215.9L622.6 220.1M537.7 191.9L536.1 194.4M521.6 108.7L517.7 103.8M444.4 26.6L447.5 26.7M565.5 131.6L579 128.3M397.5 204.7L399.5 209.2M499.6 173.5L502.5 172.5M532 111.3L535.2 100.9M601.6 216.7L596.7 216.1M451.5 195.2L453 202.1M570 247.9L574.4 247.5M541.4 87L540.6 91.7M428.6 218.8L428.6 223.5M487.2 207.6L489.8 208M524.2 95.9L520.9 97.1M395.8 116.2L398.3 104.5M512 159.4L512.9 162.3M616.7 104.6L621.4 106.4M519.8 75.6L519.8 77.2M407.7 48.8L402.6 50M446.9 38.6L449.6 42M611.1 54.6L608.5 58.4M512.3 140.3L511 135.8M619.2 258.7L612.5 269.5M497.5 36.7L497.4 40.8M383.8 241.4L384.6 241.6M409.3 246.5L411.2 242.7M565.4 242.7L567 242.7M545.2 14.7L541.7 13M469.2 130.7L473.6 134.4M436.4 62L436 66.5M426.7 257.7L428.8 262.4M563.9 260.1L564.4 265M442.4 116.4L443.6 116.9M601.8 29L600.1 33.7M613.5 91L614 86.9M481.3 228.8L482.9 227.8M623.5 92.3L619.4 101.7M381.7 113.5L379.7 110.7M507.6 78.6L505.1 82.9M422.2 101.9L420.5 98.6M425 72.7L420.5 73.3M380.1 105.5L378.8 105.2M551 57.2L555.2 56.2M466.1 80.6L462 79.9M481.7 268.7L481.6 267.1M451.1 265.4L450.2 270.1M473.4 71.1L471.2 67.3M515.1 19L510.5 19.4M461.5 28.2L464.4 28.3M572.4 24.5L575.7 26.4M529 43.6L532.9 43.4M384.6 241.6L383.8 241.4M518.2 10.6L526.3 11.7M431.7 140.5L432.7 143M428.6 218.8L429.5 214.9M597 219.9L596 218.1M403.8 74.6L408.7 75.8M613.5 172.5L616.7 171.6M560.4 206.9L558.1 203.3M411.1 155.5L415.5 153.2M486.1 142.1L491.7 134.3M432.1 63.2L428.4 66.3M394.9 262.7L404.9 268.6M516 238.8L517 234.9M541.5 125.1L539.1 128.4M438.1 75L437.8 77.3M607.2 213L609.2 209.7M502.4 246.8L500.9 242.9M578.8 49.1L576.4 50.4M581.4 86.8L577.9 83.8M577.9 154L577.6 154.2M572.2 170.3L576.3 174.5M504.4 9.4L500.5 11.5M412.2 195L412.3 195.4M466.2 10.3L466.1 6.2M389.4 54L391.5 51.4M534.1 123.5L536.6 120.1M507.1 203.1L503.5 199.7M403 58.3L405.1 53.5M504.4 9.4L504.8 13.8M618.3 215.7L614.4 214.3M429.7 23.9L429.8 19.9M433.1 267.4L435.1 272M454.4 144.5L455 142.1M615.5 12.2L618.3 10.4M485.4 126.2L482.1 123.8M452 250.6L452.6 246.9M389.8 254.1L394.4 255.3M383.8 241.4L385.6 244.9M407 156.5L404.8 159.1M512.9 162.3L514.4 165.7M553.5 12.3L549.2 13M440.6 132.2L439.8 131.5M513 263.4L512.6 267.7M515.7 102.1L517.7 103.8M605.9 26.4L602.6 29M412.3 195.4L412.2 195M613 140.8L615 144.4M596.4 82.7L594.4 86.7M402.6 27.8L403.6 23.8M527.2 50.5L523.8 57.1M397.5 204.7L393 202.5M445.9 117.8L444 109.4M562.4 77.8L558.7 79.4M589.6 251L585 252.5M383.6 252.4L384.2 250.4M502.9 185.6L506.6 185.9M391.7 106.9L389.4 102.4M388.8 211.1L392.7 211.9M452.9 78.3L456.5 76.1M410 179.7L402.6 184.3M386.2 18.4L385.3 23.1M481.1 213.3L480.6 217.7M593.2 158.2L589.9 156.4M479.1 264.3L481.7 268.7M625.3 87.8L627 84.8M460.5 195.5L462.3 191.7M557.1 16.4L558.6 19.2M407 44.4L411 45.4M401.4 176.6L400.2 177M387.5 32.3L385.8 21.9M457.4 157.3L460.4 160.8M588.2 135.9L586.1 138M381.6 46.3L383.1 50.2M431.9 55L429.1 52.5M439.6 261.3L440.5 256.5M466.2 97.4L461.6 96.4M477.5 190.1L480.5 186.5M608.8 147.4L612.3 149.4M385.3 23.1L380.7 25.1M430.6 203.9L428.7 205.2M590.1 14.8L587 15.8M583.6 258.4L584.2 259.3M405.4 150.5L407.2 152.2M381.1 221.4L377 219.6M503.6 253.4L499.3 252.1M394.2 187.2L398.3 185.6M492.8 100.8L489.1 100.7M557.2 213.7L554.8 210.2M565.5 239.6L563.1 248.1M398.1 23.2L396.3 24.6M611.9 139.2L613 140.8M387.7 38L384.5 35.5M393.4 152.6L397.1 155.7M496.6 105.1L504 105M611.2 102.5L614.5 99M551.2 171.6L555.8 171.7M565.9 98.2L566.5 93.7M384.7 124.6L386.6 125.8M385.6 244.9L382.2 247.7M433.1 267.4L429.3 266M465.8 140L466.6 150M449.5 128.2L449.2 132.3M379.2 96.5L383 98.7M563.2 159.4L563.7 155.5M592.9 61.7L596.2 64.3M581 44.1L583.3 41.3M472.4 51.3L474.2 44.9M563 126.5L566.6 121.6M490 59.6L488.4 59.5M501.3 189.2L502.9 185.6M475.3 99.7L477.3 95.9M479.1 252.5L478.7 249.3M576.8 29.2L579.6 25.8M499.5 14.7L490 11.8M593.8 26.5L581.3 25.8M616.3 51.4L613.3 49.1M529.2 111.1L525.6 110.8M400.7 242.7L401.6 247.1M484.2 167.7L478.6 159.3M567 143.2L564.7 140M396.5 66.9L398.9 67.5M433.6 18.9L437.4 21.8M498.4 208.7L508.4 203.4M600.8 217L605.4 216.3M524.2 42.5L523.4 47.4M549.7 192.7L545.2 192.9M513.5 63.2L515.9 65.9M573.3 142.1L577 143.3M442.9 38.5L443.9 33.4M553.3 223.7L553.1 234.3M428.7 205.2L430.6 203.9M496.1 151.3L498 154.6M380.8 149.3L377 147.5M563 215.4L561.4 219.7M553.9 217.6L551.8 218.6M551.9 267.5L547.5 270M539.1 128.4L535.4 127.6M541.8 81.3L538.3 78.3M393.4 129.4L394 134.3M498 229.1L496.9 238M428.8 46.1L431.7 48.5M382.5 132.2L382.5 133.2M427.3 162.2L427.7 161.7M577.7 73.3L582.2 72M406.9 13.5L401.5 15.6M591.6 237.7L595.7 238.6M386.7 130.1L386.1 142.4M574.8 109.4L580 111.8M462.5 167.2L461.7 157.6M386.2 125.5L386.6 125.8M521 235.5L517.4 237.3M607.2 163L609.8 165.7M601.2 261L599 265.6M382.1 141L377.7 151.3M594.7 121.7L596.3 125.4M544.7 17.7L548.8 19.4M422.9 206.1L422.9 210.3M501 170.7L503.2 166.5M560.3 179.9L561.9 176.3M515.3 82.7L517.2 80.4M409.7 267.8L406.7 270.8M503.5 263.3L511.3 256.8M455.2 96.2L456.8 91.8M565.3 253L568.6 252.2M577.2 230.5L574 226.7M493.6 144.8L494.4 149.5M449.2 132.3L444.8 134.3M592.8 243.9L588.7 243.1M431.7 140.5L436.2 139M616.7 104.6L619.6 104.8M559 16.8L559.1 12.9M418.2 144.2L416 147.4M529.7 245.7L529.1 241.4M419.7 64.9L414.4 66.5M415.5 85.4L414.4 90.3M410.1 168.4L419.9 159.6M540.3 173.2L539 176.4M615.9 142.5L611.9 139.2M605.4 203.4L605 198.8M405.1 53.5L407.7 48.8M579.4 59.6L583.9 58.9M524.1 148.4L524.8 149.3M542.3 121.8L542.8 117.5M438.7 252.7L435.1 251.6M436.2 139L438.6 131.8M421.6 96L415.7 107.6M579.6 228.8L574.5 228.9M464.8 197.2L460.5 195.5M595.9 188.4L585.1 189.1M455 262.6L452.1 260.7M531.9 136.8L534.5 140.4M474.7 70.5L473.4 71.1M625.7 224.4L626.5 226.8M619.6 250.4L623.9 251.6M595.4 14.5L605.6 15.3M434 75L434.6 76.5M547.1 80.1L550.5 83M565.8 110L553.5 108.1M406.8 261.5L405.6 264.4M402.1 124.9L405.2 123.6M527.1 246.5L523.4 250.1M616.9 45.5L617.6 49.9M389.7 179.1L390.5 176.1M584.9 74.5L584.4 76.9M478.5 203.7L481.2 203M408.1 254L409.5 252.7M610.6 107L611.2 102.5M450.6 116.6L447.7 114.6M413.5 50.8L409.5 49.8M402.9 223.6L402 217.5M421.7 195.9L425.9 195M485.5 213.5L482.9 213.1M520.3 35.5L520.3 39.3M513.1 173.9L515.4 170.4M563.9 90.8L564.2 94.9M494 217.8L498 218.6M386 84.5L382.2 82.5M495.6 26.2L494.4 23M507.1 193.4L503.4 193.1M384.7 189.1L381.1 189.8M464.7 68.5L462 70.3M542.3 121.8L540.2 120.9M543.2 232.6L540.5 231.6M470.1 239.5L470.7 242.2M508 165.6L510.6 168.9M576.4 50.4L575.7 53M585.9 81.1L589.5 81M432.2 253.1L431.5 249.5M532.8 225.2L534 228.1M463.2 13.2L458 12.5M406.3 62.4L403 58.3M442.9 251.2L441.1 240.8M508 15.5L506.6 10.6M426.7 257.7L421.5 257.2M577.7 79.6L581 78.4M422.4 129.6L425.9 130.5M605.9 178.2L603.7 178.3M567.9 165.6L566.9 178.9M533.1 248.2L529.7 245.7M431.7 17.2L431.4 13.9M407.8 104.1L408 100.9M609.3 90.3L612.9 93.6M453.3 82.4L452.9 78.3M445.8 86.3L451.7 88.1M440.6 115.2L435.8 121M571.3 214.1L567.5 217.1M470.9 143.8L468.8 144.2M608.5 58.4L604.6 59.8M614.5 128.4L611 125.9M554.8 125.3L555.2 136.2M388.6 244.1L386.5 241M450.6 116.6L451.4 116.7M439.6 47.5L443.6 48.1M612.9 37.6L609.1 38.7M404.8 162L408.7 159.6M419.7 83.4L430.2 86.6M564.3 171.9L563.2 169M422.5 269.4L420.7 259M515.5 105.2L514 107M460.5 74.2L462 70.3M517.3 92.2L519.4 90.4M612.3 267.8L614.6 264.1M432.4 113.8L436.2 112.7M596.3 241.7L596.7 240.4M442.9 38.5L436.8 35.5M562.7 60.6L563 61.4M582.8 25.5L582.9 24.8M407.7 69.9L412 68.6M439.4 95L442.1 89.2M482.4 206.9L473.3 210.9M426.3 185L430.3 183.9M486.7 127.9L483.5 130.5M503.2 151.1L499.1 150.4M397.7 249.4L399.2 252.4M520.3 82.3L521.5 86.5M411 79.9L403.7 71.1M457.8 225.8L461 228.7M599.8 23.3L603.1 20.6M425.9 164.5L422.1 162.6M499.8 20.3L500.4 17M541 138.1L530.7 145.8M572.2 187.4L576.4 188M503.8 131.4L503.2 135.2M439.4 161.9L441.1 160.9M523 167L528.2 167.8M416.8 190.5L416.2 187.3M417.1 138.5L415.5 142.1M595.4 169.8L588.1 162.9M464 143.1L468.1 140.5M404 108L400 105.6M466 31.9L469.1 32M533.3 181.6L535.7 184.4M522.2 189.7L518 196.4M437.7 116.1L444 114.3M616.6 129.4L620.4 130.3M394.7 246.2L393 244.1M564.2 94.9L562.9 97.8M439.6 47.5L440.6 46.1M390.5 28.1L390.4 23.6M414.7 236.2L419 235.9M409.6 82L421.9 87.4M394.1 83.4L395.5 87.5M553.8 84.5L554.1 80.5M383.5 103.2L380.1 105.5M408.4 143.2L407.9 130.7M470.4 95.5L469.3 94.7M584.7 185L578.5 178.3M391.8 199.9L395.2 199.5M532.9 43.4L534 46.7M436.7 258.9L433.8 262M379.5 139.1L380.8 140.1M561.9 176.3L565.3 176.7M502.9 185.6L501.8 188.2M582.2 130.3L576 123.7M457.3 51.7L456.2 57.3M424.9 36.3L424.5 38.2M575.5 236.2L576.1 238.4M433.5 242.1L436.3 238.7M583.2 78.2L578.7 79.5M508.8 125.2L504.6 126M506.1 102.4L509.5 98.8M567.7 79.9L562.6 89.3M577.2 230.5L575.4 234.1M569.2 247L567 242.7M412.2 195L410.3 198.8M453.4 71.7L451.1 73.8M441 122.8L438.3 120.8M543.6 16.8L538.9 18.9M566.5 166.7L571 167.4M592.4 171.3L594.3 173.6M409.9 145.2L408.4 146.2M617.3 100.1L616.7 104.6M599.8 26L601.8 29M411.7 59.9L413.2 56.4M498.2 50.9L495.8 51.3M562.8 30.4L564.9 31.7M568.6 47.9L572.5 46.1M389 183.9L401.4 189.3M401 204.4L397.5 204.7M589.4 34.5L579.2 27.3M583.3 117.2L584.2 121.9M589.5 81L593.8 83.8M572.1 113.1L571 115M548.3 212.5L541.6 224.7M596.2 16.8L592.5 17.9M541.1 177.9L551.4 171M408.1 254L410.5 250.9M512.1 127.1L505.1 128.7M571 156.9L573.5 156.6M452.5 227.6L453.5 225.2M487.4 260.5L490.7 263M408.1 254L403.4 254.7M621.3 196.3L623.2 199.5M411.7 216.1L413.3 215.2M462 70.3L457.4 68.2M563 61.4L565.4 57.9M415.2 57.9L415.8 62.9M600.1 68.2L598.8 65.3M423.6 173.1L427.3 170.9M386.5 148.5L389.2 144.4M618.2 258.1L621.7 258.2M609.1 38.7L612.9 37.6M480.2 112.1L478.4 116.2M434.9 31.4L437.2 31.4M429.7 259.1L433.5 260.4M379.2 254.1L377 248.4M493.7 45.8L491.1 48.9M394.7 158.9L396.2 159.8M394.6 230.8L398.3 227.3M611 10.3L613.9 13.2M550.5 76.3L552.7 73.6M395.5 65.1L392 66.6M558.1 70.3L562.8 72.3M514.8 10.7L517.3 14.7M439.5 15.1L443.3 14M503.2 166.5L499.9 162.3M520.3 39.3L524.2 42.5M489.8 194.4L490.4 198.4M386.3 34.4L385.1 45M503.2 135.2L504.3 137.3M612.3 32.2L611.2 27.8M574.8 109.4L572.1 113.1M565.5 257.5L562.1 259.9M577.6 125.3L576.5 124.8M440.4 208.5L441.5 206.9M468.8 188.2L473.1 192.6M604.5 91L609.3 90.3M444.3 181L445.7 186.6M395.6 250.5L397.7 249.4M509.3 198.4L511.1 201.3M420.5 13.5L422.4 14.8M475.3 129.2L472.6 125.8M411 42.1L409.1 44.1M413.8 35.1L418 35.6M384.7 219.1L390.6 221.4M422.4 14.8L420.5 13.5M418.8 95.6L424.5 93.7M617.9 183.8L617.7 179.4M514.4 191.2L517.4 187.7M441.5 41.9L440.5 42.1M512.5 22.7L515.1 19M417.9 69.4L419.7 64.9M489.8 208L488.9 210.9M389.6 193.6L390.4 194.5M417.6 113L414.7 104.2M416.1 117.4L415.1 113.1M495.3 85.6L493.5 89M399.5 117.9L409.3 117.1M455.5 64.4L458.2 62.6M417 232.1L424.3 240.5M431.7 48.5L433.2 53M466.3 158.5L467.8 155.5M559.8 13.9L559 16.8M481.7 268.7L478.9 272M385.9 232.6L387 229.3M510.1 44L509.5 39.7M585.1 66.9L580.5 67.6M507.5 9.5L517.6 6.8M393 244.1L388.6 244.1M555.9 123.8L553 111M393.6 196.4L395.2 199.5M511.5 162.5L518.4 156.8M464 139L454.5 137.2M595.3 211.8L599 208M517.9 14.2L514.5 11.3M495.5 139.7L498.8 136.4M596.7 216.1L592.8 220.2M503.9 22L499.8 20.3M608.4 65.4L614.5 59.4M560.4 206.9L557.1 208.2M571.2 144.2L567 143.2M491.1 48.9L487.1 47.7M390.3 212.4L392.7 211.9M450.1 101.7L445.9 102.8M535.8 271.9L534.2 269.8M422.4 129.6L425.5 125.4M387.9 160.2L386.6 152.4M461.5 247.6L456.9 249.8M386.9 239.2L384.6 241.6M395.5 87.5L392.6 90.9M452.1 260.7L450 262" stroke="#e8e820" stroke-width="1.6" fill="none" stroke-linecap="round"/>
<circle cx="385" cy="111.8" r="3.9" fill="url(#gO)"/>
<circle cx="383.1" cy="111.8" r="3.5" fill="url(#gC)"/>
<circle cx="443.6" cy="97.4" r="4.7" fill="url(#gO)"/>
<circle cx="445.2" cy="99.1" r="4.2" fill="url(#gC)"/>
<circle cx="446.7" cy="100.8" r="4.7" fill="url(#gO)"/>
<circle cx="399.7" cy="237.1" r="4.6" fill="url(#gO)"/>
<circle cx="399.7" cy="242.2" r="4.1" fill="url(#gC)"/>
<circle cx="390.4" cy="7.7" r="4.7" fill="url(#gO)"/>
<circle cx="393.4" cy="12.8" r="4.2" fill="url(#gC)"/>
<circle cx="396.3" cy="17.9" r="4.7" fill="url(#gO)"/>
<circle cx="544.4" cy="98.4" r="4.7" fill="url(#gO)"/>
<circle cx="543.3" cy="100.5" r="4.2" fill="url(#gC)"/>
<circle cx="542.3" cy="102.6" r="4.7" fill="url(#gO)"/>
<circle cx="587.2" cy="131.4" r="3.9" fill="url(#gO)"/>
<circle cx="584.2" cy="131.4" r="3.5" fill="url(#gC)"/>
<circle cx="581.3" cy="131.4" r="3.9" fill="url(#gO)"/>
<circle cx="603.4" cy="229" r="4.5" fill="url(#gO)"/>
<circle cx="601.6" cy="234.4" r="4" fill="url(#gC)"/>
<circle cx="599.9" cy="239.8" r="4.5" fill="url(#gO)"/>
<circle cx="540.9" cy="127.8" r="4.5" fill="url(#gO)"/>
<circle cx="539.2" cy="127.5" r="4.1" fill="url(#gC)"/>
<circle cx="537.5" cy="127.1" r="4.5" fill="url(#gO)"/>
<circle cx="467.7" cy="206.2" r="4.3" fill="url(#gO)"/>
<circle cx="466.2" cy="205.1" r="3.9" fill="url(#gC)"/>
<circle cx="464.7" cy="203.9" r="4.3" fill="url(#gO)"/>
<circle cx="543.8" cy="161.8" r="4.4" fill="url(#gO)"/>
<circle cx="545.6" cy="167.4" r="3.9" fill="url(#gC)"/>
<circle cx="547.4" cy="173.1" r="4.4" fill="url(#gO)"/>
<circle cx="605.2" cy="110.6" r="4.6" fill="url(#gO)"/>
<circle cx="609" cy="112" r="4.1" fill="url(#gC)"/>
<circle cx="612.9" cy="113.3" r="4.6" fill="url(#gO)"/>
<circle cx="505.8" cy="184.7" r="4.2" fill="url(#gO)"/>
<circle cx="507.2" cy="179.5" r="3.8" fill="url(#gC)"/>
<circle cx="508.6" cy="174.4" r="4.2" fill="url(#gO)"/>
<circle cx="556.5" cy="156.5" r="4.6" fill="url(#gO)"/>
<circle cx="556.1" cy="154.5" r="4.1" fill="url(#gC)"/>
<circle cx="555.8" cy="152.4" r="4.6" fill="url(#gO)"/>
<circle cx="602" cy="9.9" r="4.7" fill="url(#gO)"/>
<circle cx="601.7" cy="12.1" r="4.2" fill="url(#gC)"/>
<circle cx="601.4" cy="14.3" r="4.7" fill="url(#gO)"/>
<circle cx="428.8" cy="228.1" r="4.1" fill="url(#gO)"/>
<circle cx="429.4" cy="230.5" r="3.6" fill="url(#gC)"/>
<circle cx="430" cy="233" r="4.1" fill="url(#gO)"/>
<circle cx="577.8" cy="38.6" r="4.1" fill="url(#gO)"/>
<circle cx="574.2" cy="34.8" r="3.6" fill="url(#gC)"/>
<circle cx="570.6" cy="30.9" r="4.1" fill="url(#gO)"/>
<circle cx="483.4" cy="46.4" r="4.2" fill="url(#gO)"/>
<circle cx="481.6" cy="46.1" r="3.8" fill="url(#gC)"/>
<circle cx="479.8" cy="45.7" r="4.2" fill="url(#gO)"/>
<circle cx="393.5" cy="225.7" r="4.4" fill="url(#gO)"/>
<circle cx="393.5" cy="221.3" r="3.9" fill="url(#gC)"/>
<circle cx="387.3" cy="178.2" r="3.9" fill="url(#gO)"/>
<circle cx="387.3" cy="182" r="3.5" fill="url(#gC)"/>
<circle cx="387.4" cy="185.8" r="3.9" fill="url(#gO)"/>
<circle cx="484.4" cy="44.2" r="4" fill="url(#gO)"/>
<circle cx="485.3" cy="40.2" r="3.6" fill="url(#gC)"/>
<circle cx="486.2" cy="36.2" r="4" fill="url(#gO)"/>
<circle cx="520.1" cy="100.7" r="4.2" fill="url(#gO)"/>
<circle cx="522.2" cy="97.3" r="3.7" fill="url(#gC)"/>
<circle cx="524.3" cy="93.9" r="4.2" fill="url(#gO)"/>
<circle cx="573.7" cy="247.5" r="4" fill="url(#gO)"/>
<circle cx="571.1" cy="242.2" r="3.6" fill="url(#gC)"/>
<circle cx="568.5" cy="236.8" r="4" fill="url(#gO)"/>
<circle cx="477.4" cy="203.7" r="4.2" fill="url(#gO)"/>
<circle cx="474.8" cy="201.5" r="3.8" fill="url(#gC)"/>
<circle cx="472.2" cy="199.4" r="4.2" fill="url(#gO)"/>
<circle cx="437.2" cy="20.5" r="4.6" fill="url(#gO)"/>
<circle cx="434.7" cy="22.5" r="4.1" fill="url(#gC)"/>
<circle cx="432.3" cy="24.6" r="4.6" fill="url(#gO)"/>
<circle cx="378.2" cy="225.6" r="4.7" fill="url(#gO)"/>
<circle cx="381.8" cy="220.7" r="4.2" fill="url(#gC)"/>
<circle cx="385.5" cy="215.8" r="4.7" fill="url(#gO)"/>
<circle cx="503.6" cy="114.2" r="4.1" fill="url(#gO)"/>
<circle cx="503.1" cy="112.6" r="3.7" fill="url(#gC)"/>
<circle cx="563.6" cy="202.4" r="4.7" fill="url(#gO)"/>
<circle cx="567.7" cy="203.3" r="4.2" fill="url(#gC)"/>
<circle cx="571.7" cy="204.3" r="4.7" fill="url(#gO)"/>
<circle cx="474.5" cy="127.3" r="4" fill="url(#gO)"/>
<circle cx="477.1" cy="126.8" r="3.6" fill="url(#gC)"/>
<circle cx="479.8" cy="126.3" r="4" fill="url(#gO)"/>
<circle cx="523.4" cy="258.4" r="4.7" fill="url(#gO)"/>
<circle cx="524.5" cy="255.4" r="4.2" fill="url(#gC)"/>
<circle cx="525.6" cy="252.4" r="4.7" fill="url(#gO)"/>
<circle cx="493.7" cy="79.3" r="4.3" fill="url(#gO)"/>
<circle cx="489.5" cy="77.5" r="3.8" fill="url(#gC)"/>
<circle cx="485.3" cy="75.6" r="4.3" fill="url(#gO)"/>
<circle cx="406.2" cy="99.6" r="4.2" fill="url(#gO)"/>
<circle cx="405.2" cy="102.3" r="3.8" fill="url(#gC)"/>
<circle cx="404.1" cy="105.1" r="4.2" fill="url(#gO)"/>
<circle cx="472.3" cy="245" r="3.9" fill="url(#gO)"/>
<circle cx="467.7" cy="244" r="3.5" fill="url(#gC)"/>
<circle cx="463.2" cy="243.1" r="3.9" fill="url(#gO)"/>
<circle cx="525.8" cy="212.2" r="4.2" fill="url(#gO)"/>
<circle cx="527" cy="214.4" r="3.8" fill="url(#gC)"/>
<circle cx="528.2" cy="216.6" r="4.2" fill="url(#gO)"/>
<circle cx="451.5" cy="128.1" r="4.5" fill="url(#gO)"/>
<circle cx="445.9" cy="124.4" r="4" fill="url(#gC)"/>
<circle cx="440.3" cy="120.7" r="4.5" fill="url(#gO)"/>
<circle cx="599.3" cy="148.5" r="4" fill="url(#gO)"/>
<circle cx="598.8" cy="151.8" r="3.6" fill="url(#gC)"/>
<circle cx="598.2" cy="155" r="4" fill="url(#gO)"/>
<circle cx="435.2" cy="106.5" r="4.4" fill="url(#gO)"/>
<circle cx="437.5" cy="105.2" r="4" fill="url(#gC)"/>
<circle cx="439.7" cy="103.9" r="4.4" fill="url(#gO)"/>
<circle cx="418.8" cy="118.6" r="4.2" fill="url(#gO)"/>
<circle cx="414.9" cy="114.9" r="3.8" fill="url(#gC)"/>
<circle cx="411" cy="111.2" r="4.2" fill="url(#gO)"/>
<circle cx="618.8" cy="95.9" r="4.1" fill="url(#gO)"/>
<circle cx="618.2" cy="92.5" r="3.6" fill="url(#gC)"/>
<circle cx="617.6" cy="89" r="4.1" fill="url(#gO)"/>
<circle cx="411.5" cy="32" r="4.7" fill="url(#gO)"/>
<circle cx="410.4" cy="34.8" r="4.2" fill="url(#gC)"/>
<circle cx="409.3" cy="37.7" r="4.7" fill="url(#gO)"/>
<circle cx="511.8" cy="138.8" r="3.9" fill="url(#gO)"/>
<circle cx="514" cy="137.8" r="3.5" fill="url(#gC)"/>
<circle cx="516.2" cy="136.8" r="3.9" fill="url(#gO)"/>
<circle cx="493.9" cy="170.7" r="4.3" fill="url(#gO)"/>
<circle cx="497.9" cy="166.5" r="3.8" fill="url(#gC)"/>
<circle cx="501.9" cy="162.4" r="4.3" fill="url(#gO)"/>
<circle cx="478.2" cy="106" r="4.8" fill="url(#gO)"/>
<circle cx="477.9" cy="103.6" r="4.3" fill="url(#gC)"/>
<circle cx="477.6" cy="101.3" r="4.8" fill="url(#gO)"/>
<circle cx="548.7" cy="75.2" r="4.2" fill="url(#gO)"/>
<circle cx="552.8" cy="73.2" r="3.8" fill="url(#gC)"/>
<circle cx="557" cy="71.3" r="4.2" fill="url(#gO)"/>
<circle cx="520.4" cy="121.1" r="4.5" fill="url(#gO)"/>
<circle cx="525.4" cy="123.6" r="4" fill="url(#gC)"/>
<circle cx="530.5" cy="126.2" r="4.5" fill="url(#gO)"/>
<circle cx="421.5" cy="125.6" r="4.4" fill="url(#gO)"/>
<circle cx="422.7" cy="130.4" r="3.9" fill="url(#gC)"/>
<circle cx="423.9" cy="135.1" r="4.4" fill="url(#gO)"/>
<circle cx="596.9" cy="62" r="4.6" fill="url(#gO)"/>
<circle cx="595.1" cy="62" r="4.1" fill="url(#gC)"/>
<circle cx="440.9" cy="55.9" r="4.6" fill="url(#gO)"/>
<circle cx="436" cy="52.1" r="4.1" fill="url(#gC)"/>
<circle cx="431" cy="48.2" r="4.6" fill="url(#gO)"/>
<circle cx="397.3" cy="76.8" r="4.4" fill="url(#gO)"/>
<circle cx="399.5" cy="73.6" r="4" fill="url(#gC)"/>
<circle cx="579.1" cy="70.9" r="4.2" fill="url(#gO)"/>
<circle cx="580.6" cy="66.8" r="3.8" fill="url(#gC)"/>
<circle cx="582.1" cy="62.6" r="4.2" fill="url(#gO)"/>
<circle cx="583.7" cy="98.4" r="4.6" fill="url(#gO)"/>
<circle cx="582.6" cy="102.1" r="4.1" fill="url(#gC)"/>
<circle cx="581.5" cy="105.8" r="4.6" fill="url(#gO)"/>
<circle cx="585.2" cy="31.8" r="4" fill="url(#gO)"/>
<circle cx="589.9" cy="32.9" r="3.6" fill="url(#gC)"/>
<circle cx="594.6" cy="34" r="4" fill="url(#gO)"/>
<circle cx="561.7" cy="39.2" r="4.4" fill="url(#gO)"/>
<circle cx="558.3" cy="37.7" r="3.9" fill="url(#gC)"/>
<circle cx="554.9" cy="36.2" r="4.4" fill="url(#gO)"/>
<circle cx="613.6" cy="15.8" r="4.3" fill="url(#gO)"/>
<circle cx="613.3" cy="21.5" r="3.8" fill="url(#gC)"/>
<circle cx="613.1" cy="27.1" r="4.3" fill="url(#gO)"/>
<circle cx="468.6" cy="65.6" r="4.6" fill="url(#gO)"/>
<circle cx="466.5" cy="62.3" r="4.1" fill="url(#gC)"/>
<circle cx="464.4" cy="59.1" r="4.6" fill="url(#gO)"/>
<circle cx="630.2" cy="10.8" r="4.5" fill="url(#gO)"/>
<circle cx="623.9" cy="10" r="4.1" fill="url(#gC)"/>
<circle cx="507.6" cy="33.5" r="4.2" fill="url(#gO)"/>
<circle cx="501.8" cy="32.6" r="3.7" fill="url(#gC)"/>
<circle cx="496" cy="31.7" r="4.2" fill="url(#gO)"/>
<circle cx="463.3" cy="50.2" r="4.1" fill="url(#gO)"/>
<circle cx="461.9" cy="46.9" r="3.6" fill="url(#gC)"/>
<circle cx="451.9" cy="48" r="4.6" fill="url(#gO)"/>
<circle cx="447.2" cy="52.5" r="4.1" fill="url(#gC)"/>
<circle cx="442.5" cy="57.1" r="4.6" fill="url(#gO)"/>
<circle cx="493.8" cy="187.5" r="4" fill="url(#gO)"/>
<circle cx="493.4" cy="184.2" r="3.6" fill="url(#gC)"/>
<circle cx="493.1" cy="180.9" r="4" fill="url(#gO)"/>
<circle cx="596.1" cy="14.2" r="4.2" fill="url(#gO)"/>
<circle cx="590.2" cy="14.1" r="3.8" fill="url(#gC)"/>
<circle cx="584.2" cy="14" r="4.2" fill="url(#gO)"/>
<circle cx="440.5" cy="235.9" r="4.3" fill="url(#gO)"/>
<circle cx="445.9" cy="233.4" r="3.9" fill="url(#gC)"/>
<circle cx="451.3" cy="230.8" r="4.3" fill="url(#gO)"/>
<circle cx="568.2" cy="178.9" r="4.1" fill="url(#gO)"/>
<circle cx="564" cy="179.8" r="3.6" fill="url(#gC)"/>
<circle cx="545.5" cy="56.3" r="4.7" fill="url(#gO)"/>
<circle cx="541.8" cy="58.1" r="4.2" fill="url(#gC)"/>
<circle cx="538.2" cy="59.9" r="4.7" fill="url(#gO)"/>
<circle cx="580.7" cy="251" r="3.9" fill="url(#gO)"/>
<circle cx="581.3" cy="256.6" r="3.5" fill="url(#gC)"/>
<circle cx="581.8" cy="262.3" r="3.9" fill="url(#gO)"/>
<circle cx="440" cy="173.4" r="4" fill="url(#gO)"/>
<circle cx="441.6" cy="170.3" r="3.6" fill="url(#gC)"/>
<circle cx="443.2" cy="167.2" r="4" fill="url(#gO)"/>
<circle cx="564.2" cy="6.4" r="4" fill="url(#gO)"/>
<circle cx="564.6" cy="8" r="3.6" fill="url(#gC)"/>
<circle cx="565" cy="9.6" r="4" fill="url(#gO)"/>
<circle cx="487.6" cy="139.1" r="4" fill="url(#gO)"/>
<circle cx="484" cy="139.7" r="3.6" fill="url(#gC)"/>
<circle cx="480.4" cy="140.4" r="4" fill="url(#gO)"/>
<circle cx="388.6" cy="102.3" r="4.1" fill="url(#gO)"/>
<circle cx="392" cy="103.7" r="3.7" fill="url(#gC)"/>
<circle cx="395.4" cy="105.1" r="4.1" fill="url(#gO)"/>
<circle cx="405.2" cy="22.9" r="4.2" fill="url(#gO)"/>
<circle cx="402.9" cy="18.2" r="3.7" fill="url(#gC)"/>
<circle cx="400.7" cy="13.6" r="4.2" fill="url(#gO)"/>
<circle cx="545.8" cy="236.7" r="4.6" fill="url(#gO)"/>
<circle cx="542.2" cy="231.4" r="4.1" fill="url(#gC)"/>
<circle cx="538.6" cy="226.2" r="4.6" fill="url(#gO)"/>
<circle cx="463.9" cy="234.8" r="4.6" fill="url(#gO)"/>
<circle cx="465.8" cy="235.8" r="4.2" fill="url(#gC)"/>
<circle cx="467.6" cy="236.8" r="4.6" fill="url(#gO)"/>
<circle cx="465.2" cy="32.8" r="4.6" fill="url(#gO)"/>
<circle cx="472" cy="32.8" r="4.1" fill="url(#gC)"/>
<circle cx="478.8" cy="32.8" r="4.6" fill="url(#gO)"/>
<circle cx="477.3" cy="76.3" r="4.2" fill="url(#gO)"/>
<circle cx="476.6" cy="71" r="3.8" fill="url(#gC)"/>
<circle cx="475.8" cy="65.6" r="4.2" fill="url(#gO)"/>
<circle cx="462.9" cy="216" r="4.3" fill="url(#gO)"/>
<circle cx="467.1" cy="216.8" r="3.8" fill="url(#gC)"/>
<circle cx="471.2" cy="217.5" r="4.3" fill="url(#gO)"/>
<circle cx="572.1" cy="12.2" r="4.3" fill="url(#gO)"/>
<circle cx="576.2" cy="9.8" r="3.9" fill="url(#gC)"/>
<circle cx="580.3" cy="7.5" r="4.3" fill="url(#gO)"/>
<circle cx="542.1" cy="223.5" r="4" fill="url(#gO)"/>
<circle cx="546.9" cy="221" r="3.6" fill="url(#gC)"/>
<circle cx="551.7" cy="218.6" r="4" fill="url(#gO)"/>
<circle cx="496.3" cy="259.7" r="4.1" fill="url(#gO)"/>
<circle cx="492" cy="262.7" r="3.6" fill="url(#gC)"/>
<circle cx="487.7" cy="265.8" r="4.1" fill="url(#gO)"/>
<circle cx="464.6" cy="99.5" r="4" fill="url(#gO)"/>
<circle cx="458.8" cy="98.3" r="3.6" fill="url(#gC)"/>
<circle cx="453" cy="97.1" r="4" fill="url(#gO)"/>
<circle cx="562.3" cy="133.5" r="4.8" fill="url(#gO)"/>
<circle cx="560.8" cy="137.1" r="4.3" fill="url(#gC)"/>
<circle cx="559.3" cy="140.8" r="4.8" fill="url(#gO)"/>
<circle cx="446.2" cy="23.7" r="3.9" fill="url(#gO)"/>
<circle cx="449.9" cy="24.8" r="3.5" fill="url(#gC)"/>
<circle cx="453.6" cy="25.9" r="3.9" fill="url(#gO)"/>
<circle cx="536.3" cy="166.8" r="4.3" fill="url(#gO)"/>
<circle cx="533.3" cy="161.9" r="3.9" fill="url(#gC)"/>
<circle cx="530.3" cy="157.1" r="4.3" fill="url(#gO)"/>
<circle cx="575.7" cy="101.1" r="4.3" fill="url(#gO)"/>
<circle cx="573.4" cy="98.1" r="3.9" fill="url(#gC)"/>
<circle cx="571.2" cy="95.1" r="4.3" fill="url(#gO)"/>
<circle cx="457.5" cy="113.9" r="4.1" fill="url(#gO)"/>
<circle cx="460.2" cy="116.1" r="3.7" fill="url(#gC)"/>
<circle cx="463" cy="118.2" r="4.1" fill="url(#gO)"/>
<circle cx="433" cy="263.7" r="4.8" fill="url(#gO)"/>
<circle cx="431.5" cy="257.9" r="4.3" fill="url(#gC)"/>
<circle cx="430.1" cy="252.2" r="4.8" fill="url(#gO)"/>
<circle cx="499.8" cy="207.7" r="4.7" fill="url(#gO)"/>
<circle cx="498.4" cy="210.6" r="4.2" fill="url(#gC)"/>
<circle cx="497.1" cy="213.4" r="4.7" fill="url(#gO)"/>
<circle cx="514.9" cy="193.2" r="4.7" fill="url(#gO)"/>
<circle cx="511.7" cy="192.3" r="4.2" fill="url(#gC)"/>
<circle cx="587.6" cy="80.5" r="4.1" fill="url(#gO)"/>
<circle cx="586.5" cy="78.2" r="3.7" fill="url(#gC)"/>
<circle cx="585.5" cy="75.9" r="4.1" fill="url(#gO)"/>
<circle cx="400.8" cy="250.4" r="4.7" fill="url(#gO)"/>
<circle cx="401.4" cy="253" r="4.2" fill="url(#gC)"/>
<circle cx="402" cy="255.6" r="4.7" fill="url(#gO)"/>
<circle cx="450" cy="208.8" r="4.2" fill="url(#gO)"/>
<circle cx="448.8" cy="209.9" r="3.8" fill="url(#gC)"/>
<circle cx="447.7" cy="211.1" r="4.2" fill="url(#gO)"/>
<circle cx="560.4" cy="250.2" r="4.3" fill="url(#gO)"/>
<circle cx="557.6" cy="253.9" r="3.8" fill="url(#gC)"/>
<circle cx="554.9" cy="257.6" r="4.3" fill="url(#gO)"/>
<circle cx="413.2" cy="100.6" r="4.8" fill="url(#gO)"/>
<circle cx="415.4" cy="98.6" r="4.3" fill="url(#gC)"/>
<circle cx="417.6" cy="96.6" r="4.8" fill="url(#gO)"/>
<circle cx="541.9" cy="201.5" r="4.2" fill="url(#gO)"/>
<circle cx="542.2" cy="207.5" r="3.7" fill="url(#gC)"/>
<circle cx="542.5" cy="213.5" r="4.2" fill="url(#gO)"/>
<circle cx="423.6" cy="201.6" r="4.2" fill="url(#gO)"/>
<circle cx="418.6" cy="201.7" r="3.7" fill="url(#gC)"/>
<circle cx="413.7" cy="201.8" r="4.2" fill="url(#gO)"/>
<circle cx="605.6" cy="47.7" r="4.7" fill="url(#gO)"/>
<circle cx="599.4" cy="48.3" r="4.2" fill="url(#gC)"/>
<circle cx="593.2" cy="48.8" r="4.7" fill="url(#gO)"/>
<circle cx="539.8" cy="185.4" r="4.3" fill="url(#gO)"/>
<circle cx="542.3" cy="190.8" r="3.9" fill="url(#gC)"/>
<circle cx="544.8" cy="196.2" r="4.3" fill="url(#gO)"/>
<circle cx="569.5" cy="255.9" r="4.1" fill="url(#gO)"/>
<circle cx="568.3" cy="258.4" r="3.7" fill="url(#gC)"/>
<circle cx="567.2" cy="260.8" r="4.1" fill="url(#gO)"/>
<circle cx="387.3" cy="259.9" r="4.3" fill="url(#gO)"/>
<circle cx="391.1" cy="261.7" r="3.8" fill="url(#gC)"/>
<circle cx="606.4" cy="189.3" r="4.1" fill="url(#gO)"/>
<circle cx="606.5" cy="191.1" r="3.7" fill="url(#gC)"/>
<circle cx="606.5" cy="192.8" r="4.1" fill="url(#gO)"/>
<circle cx="617" cy="44.9" r="4.6" fill="url(#gO)"/>
<circle cx="616.1" cy="47.2" r="4.1" fill="url(#gC)"/>
<circle cx="615.1" cy="49.4" r="4.6" fill="url(#gO)"/>
<circle cx="406.9" cy="47.2" r="4.7" fill="url(#gO)"/>
<circle cx="403.8" cy="48.1" r="4.3" fill="url(#gC)"/>
<circle cx="400.6" cy="48.9" r="4.7" fill="url(#gO)"/>
<circle cx="451.9" cy="182" r="4.7" fill="url(#gO)"/>
<circle cx="452.5" cy="178.6" r="4.2" fill="url(#gC)"/>
<circle cx="453" cy="175.1" r="4.7" fill="url(#gO)"/>
<circle cx="438.1" cy="38" r="4.2" fill="url(#gO)"/>
<circle cx="436.6" cy="35.3" r="3.7" fill="url(#gC)"/>
<circle cx="435" cy="32.6" r="4.2" fill="url(#gO)"/>
<circle cx="390.1" cy="41.8" r="4.6" fill="url(#gO)"/>
<circle cx="391.8" cy="40.9" r="4.1" fill="url(#gC)"/>
<circle cx="393.5" cy="40.1" r="4.6" fill="url(#gO)"/>
<circle cx="481.8" cy="256.1" r="3.9" fill="url(#gO)"/>
<circle cx="478.5" cy="260.8" r="3.5" fill="url(#gC)"/>
<circle cx="475.3" cy="265.5" r="3.9" fill="url(#gO)"/>
<circle cx="450" cy="95.4" r="4.7" fill="url(#gO)"/>
<circle cx="453.3" cy="89.8" r="4.2" fill="url(#gC)"/>
<circle cx="456.7" cy="84.1" r="4.7" fill="url(#gO)"/>
<circle cx="504.9" cy="216.5" r="3.9" fill="url(#gO)"/>
<circle cx="501.6" cy="218" r="3.5" fill="url(#gC)"/>
<circle cx="498.3" cy="219.4" r="3.9" fill="url(#gO)"/>
<circle cx="402.7" cy="187.9" r="4.6" fill="url(#gO)"/>
<circle cx="404.3" cy="182.9" r="4.1" fill="url(#gC)"/>
<circle cx="502.3" cy="247.2" r="4" fill="url(#gO)"/>
<circle cx="503.9" cy="247.2" r="3.6" fill="url(#gC)"/>
<circle cx="505.4" cy="247.1" r="4" fill="url(#gO)"/>
<circle cx="589" cy="140.2" r="4.1" fill="url(#gO)"/>
<circle cx="587.5" cy="136.1" r="3.7" fill="url(#gC)"/>
<circle cx="586" cy="132" r="4.1" fill="url(#gO)"/>
<circle cx="621.6" cy="76.2" r="4.7" fill="url(#gO)"/>
<circle cx="616" cy="79.6" r="4.2" fill="url(#gC)"/>
<circle cx="610.3" cy="83.1" r="4.7" fill="url(#gO)"/>
<circle cx="582.6" cy="42.3" r="4.4" fill="url(#gO)"/>
<circle cx="581.7" cy="46.3" r="3.9" fill="url(#gC)"/>
<circle cx="580.7" cy="50.2" r="4.4" fill="url(#gO)"/>
<circle cx="383.9" cy="131.7" r="4.4" fill="url(#gO)"/>
<circle cx="388.4" cy="128.6" r="3.9" fill="url(#gC)"/>
<circle cx="392.9" cy="125.5" r="4.4" fill="url(#gO)"/>
<circle cx="570.3" cy="133.8" r="4.6" fill="url(#gO)"/>
<circle cx="570.3" cy="130.2" r="4.1" fill="url(#gC)"/>
<circle cx="570.4" cy="126.6" r="4.6" fill="url(#gO)"/>
<circle cx="613.5" cy="121.5" r="4.1" fill="url(#gO)"/>
<circle cx="612.1" cy="127.4" r="3.7" fill="url(#gC)"/>
<circle cx="610.7" cy="133.2" r="4.1" fill="url(#gO)"/>
<circle cx="386.8" cy="46.6" r="4.4" fill="url(#gO)"/>
<circle cx="387.8" cy="44.6" r="3.9" fill="url(#gC)"/>
<circle cx="388.8" cy="42.7" r="4.4" fill="url(#gO)"/>
<circle cx="601.8" cy="254.6" r="4.2" fill="url(#gO)"/>
<circle cx="600.8" cy="259.5" r="3.8" fill="url(#gC)"/>
<circle cx="599.7" cy="264.3" r="4.2" fill="url(#gO)"/>
<circle cx="610.2" cy="52.2" r="4.4" fill="url(#gO)"/>
<circle cx="610" cy="57.3" r="4" fill="url(#gC)"/>
<circle cx="609.8" cy="62.4" r="4.4" fill="url(#gO)"/>
<circle cx="440.1" cy="93.8" r="4" fill="url(#gO)"/>
<circle cx="443.6" cy="92.4" r="3.5" fill="url(#gC)"/>
<circle cx="447.1" cy="91" r="4" fill="url(#gO)"/>
<circle cx="545.9" cy="37.6" r="4.6" fill="url(#gO)"/>
<circle cx="545.3" cy="39.9" r="4.2" fill="url(#gC)"/>
<circle cx="544.8" cy="42.2" r="4.6" fill="url(#gO)"/>
<circle cx="546.7" cy="140.1" r="3.9" fill="url(#gO)"/>
<circle cx="546.7" cy="135.6" r="3.5" fill="url(#gC)"/>
<circle cx="546.7" cy="131.1" r="3.9" fill="url(#gO)"/>
<circle cx="532.8" cy="201.3" r="4.1" fill="url(#gO)"/>
<circle cx="534.3" cy="197.3" r="3.6" fill="url(#gC)"/>
<circle cx="535.7" cy="193.2" r="4.1" fill="url(#gO)"/>
<circle cx="610.6" cy="172.7" r="4.6" fill="url(#gO)"/>
<circle cx="611.9" cy="179.1" r="4.1" fill="url(#gC)"/>
<circle cx="613.2" cy="185.6" r="4.6" fill="url(#gO)"/>
<circle cx="437.2" cy="254" r="4.4" fill="url(#gO)"/>
<circle cx="440.5" cy="248.8" r="4" fill="url(#gC)"/>
<circle cx="443.8" cy="243.5" r="4.4" fill="url(#gO)"/>
<circle cx="484.9" cy="17" r="4.1" fill="url(#gO)"/>
<circle cx="482.5" cy="20.8" r="3.7" fill="url(#gC)"/>
<circle cx="480" cy="24.6" r="4.1" fill="url(#gO)"/>
<circle cx="381.9" cy="63.4" r="4" fill="url(#gO)"/>
<circle cx="382.4" cy="59.4" r="3.6" fill="url(#gC)"/>
<circle cx="383" cy="55.4" r="4" fill="url(#gO)"/>
<circle cx="594.6" cy="128.9" r="4.2" fill="url(#gO)"/>
<circle cx="595.5" cy="124.1" r="3.7" fill="url(#gC)"/>
<circle cx="596.3" cy="119.3" r="4.2" fill="url(#gO)"/>
<circle cx="576.9" cy="25.1" r="4.5" fill="url(#gO)"/>
<circle cx="582.8" cy="24.3" r="4" fill="url(#gC)"/>
<circle cx="588.7" cy="23.5" r="4.5" fill="url(#gO)"/>
<circle cx="459.4" cy="162.1" r="4.5" fill="url(#gO)"/>
<circle cx="458.9" cy="168" r="4" fill="url(#gC)"/>
<circle cx="458.5" cy="173.9" r="4.5" fill="url(#gO)"/>
<circle cx="425.1" cy="221" r="3.9" fill="url(#gO)"/>
<circle cx="426.7" cy="220.8" r="3.5" fill="url(#gC)"/>
<circle cx="428.3" cy="220.5" r="3.9" fill="url(#gO)"/>
<circle cx="498.9" cy="49.3" r="4.6" fill="url(#gO)"/>
<circle cx="497.1" cy="49.7" r="4.2" fill="url(#gC)"/>
<circle cx="495.3" cy="50.1" r="4.6" fill="url(#gO)"/>
<circle cx="430.8" cy="124.1" r="4.1" fill="url(#gO)"/>
<circle cx="432.6" cy="124.7" r="3.6" fill="url(#gC)"/>
<circle cx="495.8" cy="63.8" r="4.1" fill="url(#gO)"/>
<circle cx="497.8" cy="59.7" r="3.6" fill="url(#gC)"/>
<circle cx="499.8" cy="55.5" r="4.1" fill="url(#gO)"/>
<circle cx="547" cy="11.1" r="4.7" fill="url(#gO)"/>
<circle cx="547.2" cy="8" r="4.2" fill="url(#gC)"/>
<circle cx="547.4" cy="4.9" r="4.7" fill="url(#gO)"/>
<circle cx="383.8" cy="144.6" r="4.6" fill="url(#gO)"/>
<circle cx="382.2" cy="140.2" r="4.1" fill="url(#gC)"/>
<circle cx="380.6" cy="135.7" r="4.6" fill="url(#gO)"/>
<circle cx="417.8" cy="258.3" r="4.6" fill="url(#gO)"/>
<circle cx="420.4" cy="259.6" r="4.1" fill="url(#gC)"/>
<circle cx="422.9" cy="260.9" r="4.6" fill="url(#gO)"/>
<circle cx="511.6" cy="88.5" r="4.5" fill="url(#gO)"/>
<circle cx="512" cy="85.4" r="4.1" fill="url(#gC)"/>
<circle cx="512.5" cy="82.3" r="4.5" fill="url(#gO)"/>
<circle cx="438.3" cy="119.2" r="4.4" fill="url(#gO)"/>
<circle cx="439.2" cy="115.4" r="4" fill="url(#gC)"/>
<circle cx="450" cy="142.2" r="4.3" fill="url(#gO)"/>
<circle cx="456.3" cy="143" r="3.9" fill="url(#gC)"/>
<circle cx="462.6" cy="143.8" r="4.3" fill="url(#gO)"/>
<circle cx="447.5" cy="13.6" r="4.2" fill="url(#gO)"/>
<circle cx="443.2" cy="14.6" r="3.8" fill="url(#gC)"/>
<circle cx="439" cy="15.5" r="4.2" fill="url(#gO)"/>
<circle cx="380.7" cy="72.9" r="4.3" fill="url(#gO)"/>
<circle cx="385.6" cy="75.5" r="3.8" fill="url(#gC)"/>
<circle cx="390.4" cy="78.1" r="4.3" fill="url(#gO)"/>
<circle cx="602.8" cy="82.9" r="4.2" fill="url(#gO)"/>
<circle cx="602" cy="79.7" r="3.8" fill="url(#gC)"/>
<circle cx="601.2" cy="76.5" r="4.2" fill="url(#gO)"/>
<circle cx="406.2" cy="92.2" r="4.5" fill="url(#gO)"/>
<circle cx="409.3" cy="87.5" r="4" fill="url(#gC)"/>
<circle cx="412.5" cy="82.8" r="4.5" fill="url(#gO)"/>
<circle cx="417" cy="15" r="3.9" fill="url(#gO)"/>
<circle cx="416.2" cy="20.3" r="3.5" fill="url(#gC)"/>
<circle cx="415.5" cy="25.7" r="3.9" fill="url(#gO)"/>
<circle cx="623.4" cy="244.1" r="4.4" fill="url(#gO)"/>
<circle cx="620.5" cy="244.2" r="4" fill="url(#gC)"/>
<circle cx="617.7" cy="244.3" r="4.4" fill="url(#gO)"/>
<path d="M557.5 129.4L555.3 125.8M442.9 21L443 20.6M378.6 240.7L383.8 241.4M595.6 213L597.5 214M566.2 52.7L561.4 51.3M559.7 152.1L559.8 157M378.3 122L377 118.5M379.5 139.1L383.4 140.9M419.7 64.9L424.2 64.2M397.6 20.2L402.2 18.7M500.8 59.7L496.9 56.1M470.4 95.5L471.3 92.6M440.5 42.1L440.6 46.1M377 197.6L378.8 193.9M393.6 72.4L386.5 72.3M496.2 132.8L496.2 125.3M514 107L515.7 102.1M389.6 193.6L389.8 189.1M388.3 178.8L393.7 185.8M461.3 162.2L465.2 165M601 20.5L603.1 20.6M425.5 125.4L421 122.6M486.1 146L489.4 143M415.2 97L413.5 93.9M618 59.3L621 61.4M377 230.9L377 226.6M420.4 21.8L419.3 18.9M410.6 184.9L419.7 194.6M450.6 116.6L452.3 114.2M401.6 128.8L398.3 129.5M398.8 80.2L397.1 82.1M396.2 99.2L405 91.6M506.1 185.8L509.5 186.7M609 236L605.7 234.1M581.9 104.9L578.8 101.2M458.4 98.9L461.6 96.4M539.7 253.5L538.4 249.1M409.1 44.1L407.7 48.8M388 64.7L383.4 58.3M549.9 122.6L545.8 124.4M615.3 255L615.3 252.1M584.4 81.3L584.6 85.5M390.2 230.8L394.8 224.9M391.7 106.9L396.9 107.3M544.7 17.7L543.6 16.8M508.9 163.5L504 162M501.8 188.2L497.3 187.1M398.3 256.9L396 258.3M469.3 94.7L466.2 97.4M534.6 211.8L538 210.2M441.5 46.1L434.1 46.2M410.3 38.3L405.9 36.4M498.6 55.9L491.5 46.5M473.6 255.3L475.1 260.2M538.6 200.4L542.5 198M601.4 64.8L596.8 64.3M470.3 158.5L473.4 160.8M470 75.7L470.7 72.4M499.8 20.3L501.1 21M554.5 18.2L557.1 16.4M612.3 149.4L613.9 153.8M566.9 117L571 115M618.5 154L618.7 157.9M467.5 123.2L464.1 119.3M392.7 211.9L392.7 213.8M437.1 217.2L436.2 221.1M472.7 108.8L477.3 108.4M586 47.3L583.4 46.7M480 128.2L479.7 126.6M586.6 84L585.9 81.1M410.6 219.5L411.7 216.1M529.4 235L540.1 231.8M562.9 65.2L563 61.4M531.1 50.3L527.2 50.5M560.5 119.9L564.6 129M599 265.6L594 266.2M428.4 66.3L423.7 64.6M432 221.9L428.6 218.8M475.8 217.6L469.7 208.7M583.3 28.6L580.6 32M396 258.3L394.4 255.3M581.4 255.5L582.8 251.7M420.5 98.6L418.7 99.4M535.8 22.4L524.5 17.8M511 73.8L509.1 75.2M377 187.9L377 185.2M610.3 182L621 178.4M591.6 55.7L586.1 64.8M584.9 74.5L583.2 78.2M583.6 213L582.3 214.6M468.9 53.8L466.3 50.4M562.8 126.1L570.5 133.8M480.3 138.7L481.4 136.8M404.7 230.9L403.3 228.9M583.3 131.4L585.4 129.2M570.9 123.2L572.1 124.2M485.6 233.7L485.2 227.8M521.6 203.3L526 202.6M424.5 164.8L429.3 164.7M489.4 134.2L488 134.6M565.4 242.7L565.4 246.6M517.2 214.5L520.1 216.9M543.1 221.3L546.8 225.4M444.6 207.5L447.2 210.7M612 156.4L614.1 160.7M405.1 53.5L410.3 52.9M466.9 222.9L468.3 227.1M477.5 75.2L473.5 77.1M528.8 6.9L531.5 10.9M508.7 189.7L507.1 193.4M618.7 266L608.6 271.5M540.8 77.8L536.9 76M390.1 63.4L388.4 62.2M388.9 28.9L397.5 33.4M609.3 229.7L610.8 233.8M557.5 218L561.4 219.7M545.9 113.7L544.4 112.1M510.5 44L510.1 44M570.6 209.4L571.3 214.1M485.9 159.4L486.9 162.9M405.4 150.5L404.8 148.9M419 235.9L419.4 237M539.6 105.8L538.4 109.2M382.2 247.7L377.1 247.1M523.8 57.1L526.6 59M391.8 58.8L390.2 59.4M458.1 199.4L453.6 196.9M471.9 54.3L468.9 53.8M613.5 91L612.9 93.6M385.9 23.5L385.3 23.1M463.2 203.1L466.4 200.5M414.9 109.1L410.6 105.3M479.7 150L474.9 145.3M385.1 28.6L386.8 28.1M430.8 105L430.3 102.1M627 109.6L622.7 108.4M501.6 143.6L505.7 144.2M593.5 189.3L597.1 187.8M624.3 37.9L624.2 41M540.6 91.7L536.9 92.3M596.3 241.7L592.8 243.9M487.4 84.1L492.3 83.2M444.7 255.2L447.9 258.6M386.2 125.5L384.7 121.9M547 139.6L547.5 136.8M422.1 237.2L419.4 237M523.5 185.2L520 182.1M535.4 189.2L532.8 191.1M570.4 124.2L566.6 121.6M523.1 173.1L522.8 178.6M555.2 56.2L554.3 51.9M596.2 16.8L596 14.9M582.7 208.9L583.6 213M517.4 237.3L518.2 241.6M534.3 218.4L536.2 213.8M611.8 79.8L608.7 79.7M539.5 258.7L538.5 254.8M378.8 105.2L380.1 105.5M537.6 85.7L538.8 72.6M456.8 91.8L460.1 92.5M474.7 70.5L478.1 71.9M470.7 242.2L470.2 246.5M506.6 246.5L502.4 246.8M582.3 214.6L582.9 218.1M386.7 51.2L385.9 52.1M403.1 141.9L398.9 139.4M585 252.5L581.2 249M388.7 153.6L393.4 152.6M497.3 187.1L497.1 183.6M449.7 258.3L437.6 264.9M405 180.2L403.5 184.7M549.2 13L545.2 14.7M560.6 272L558.6 272M545.2 204.4L541.2 206.8M418.7 39.4L415.2 42.6M388.1 263.1L392.2 266.2M383.1 50.2L380.6 51.6M594.7 141.3L598.4 140.8M525 126.7L528 121.2M508.7 26.2L515 15.3M515 243.7L510.9 241.6M460.7 212.5L452.4 220.8M557.5 174.7L554.5 177.7M464.1 119.3L466.8 117.4M620.5 111.3L622.7 108.4M575.7 201.7L572.5 207.3M561.4 219.7L563 215.4M499.9 17.8L500.5 11.5M583.9 80.4L584.4 81.3M439.3 102.6L437.7 98.7M400.8 79.3L399.8 76.4M438.7 155.1L442.4 155.4M392.4 93.2L404.5 99.5M384.7 121.9L382.5 121.2M523.3 214.9L518.6 220.1M466.1 179.8L467 180.6M511.3 49.7L515.2 55.2M468.5 50.3L460.8 52.5M432 58.2L425 52.1M587.7 81.6L589.5 81M566.9 58.4L563.8 65.3M588.7 243.1L590.4 246.1M519.6 67.6L511.3 74.7M550.5 62.1L546.4 64.8M526.4 214.6L525.8 209.7M482.6 148.2L478.2 148.9M578.1 230.4L572.8 223M429.2 124.8L433.1 127.2M419.8 193.4L416.8 190.5M463.8 188.1L468.1 189.7M480.8 252.6L479.9 256.9M583.3 262.8L587.6 266.4M535.7 10.9L540.4 8.8M537.6 63.8L535.1 60M390.4 194.5L388.3 197.9M429.3 200.5L430.6 203.9M517.3 14.7L515.1 19M585.3 234.4L583.8 238.2M466.2 54.9L471.5 55.3M497.4 112.2L495.8 107.7M466.3 50.4L466.7 47.4M435.2 264.6L433.1 267.4M377.1 209L377 204.2M607.7 75.9L609.8 72.2M516.4 195L514.9 193.5M507.1 53.2L505.9 58.3M548.8 234.6L549.7 231.9M522 188.3L509.3 184.3M606.9 108.6L604.1 105.2M476.6 48L474.2 44.9M517.4 174.5L514.1 176M428.3 95.8L424.5 93.7M604.4 171.6L615.9 177.2M475.6 62.1L477.7 65.8M480 226.1L482.1 222M580.5 206.3L582.7 208.9M563.1 82.3L561.1 82.9M454.4 48.5L455.7 44.3M554.3 9.4L551.8 6M493.3 251L495.6 250.3M556.9 25.3L561.2 25.6M574.7 30.6L570.5 32.9M514.6 132.2L519.6 133.2M585.3 115.8L583.6 118.7M534.1 123.5L533.5 124.8M607.2 122.9L608.2 126.6M613.7 197L614.1 201.6M401.3 230L412.5 237M394.3 28.4L398.9 29M404.6 186L398.3 190.3M394.3 205.8L396.7 206.1M546 198.2L550.7 195.7M439.9 218.6L441.2 216.1M548.5 93.3L561.2 95.2M619.6 256.2L615.3 255M450 262L452.1 260.7M435.8 19.5L431.7 17.2M461.4 230.6L465.4 233.6M508.2 233L508.3 224.6M454.3 91.3L453.2 87.4M554.3 162.3L557.5 158.7M453.5 225.2L457.8 225.8M482.9 124L486.5 124.6M603 170L605.2 169.9M501.4 181.2L505.9 182.3M591.3 10.7L594.9 9.6M514.2 100.2L513.7 102.5M503.3 49.5L507.1 53.2M436.2 112.7L437.7 116.1M480.2 133.9L480.3 138.7M540 85.4L541.8 81.3M526.7 63.4L524.1 65.9M489.4 134.2L491.2 131.8M414.2 13.4L409.9 15.2M539.3 226.6L537 227.6M537.5 108.3L538.2 112.1M624.6 44.5L625.6 48.8M590.4 272L587.2 270.5M584.4 76.9L588.8 74.5M472.1 236.3L465.4 236.4M575.7 201.7L569.7 201.5M424.8 158.1L427.3 162.2M469.7 185.1L470.1 183.9M424.5 93.7L423.3 89.3M511.6 240.1L508 240.3M541.4 87L540 85.4M469.3 94.7L475.3 99.7M620.1 134.9L616.5 131.7M406.5 119.7L405.1 114.4M477.6 210.8L481.1 213.3M477.1 140.5L473.8 137.4M414.4 66.5L419.7 64.9M518.2 41.8L514.4 45.1M545.7 126.4L547.6 128.3M607.4 252.6L606.1 256.7M518.8 49L514.9 45.8M606.9 37.2L610.9 39.4M445.7 69.1L450.7 69.4M411.1 148.4L408.4 146.2M563.7 155.5L559.8 157M506.6 43.1L510.5 44M600.4 144.2L598.7 148.1M455.4 65.3L452.2 62M458.3 230.7L453.4 227M608.5 73.1L605 72.8M461.4 200.2L458.1 199.4M476.2 35.5L478.2 30.6M409.4 150.5L404.8 148.9M619.4 60.7L612 62.2M551.5 135.8L555.1 137.5M463.2 236.9L459.2 233.9M541.1 143.9L542.8 142.1M566.2 207.6L570.6 209.4M561.2 25.6L564.5 20.1M458.9 22.3L458.7 19.3M612.9 43.6L615.9 46M481.6 130.4L486.9 135.7M516.9 95.8L520.9 97.1M453.8 206.3L450.5 208.1M607.1 98.2L603.4 94.9M415.7 213.5L418.7 214.3M546.4 229.8L550.3 227M583 226L585.5 223.5M550.5 83L551.8 80.3M576.6 194.9L577.6 199.5M508.4 128.1L509.8 131.8M521.2 109.3L516.7 110.5M451.3 255.9L451.8 255.8M483.7 180.9L493.6 180.9M593.6 193.8L593.5 189.3M445.7 186.6L441.6 179.6M603.7 178.3L602.2 174.2M468.7 171.8L468.9 176.2M389.8 189.1L394.2 187.2M571 167.4L572.2 170.3M467.3 166.9L465.2 165M402.6 50L398.8 46.7M579.6 116.5L583.3 117.2M385.1 186.3L386.2 182.3M562.8 30.4L560.1 34.8M500.5 260.1L503 263.6M452.6 246.9L452.9 241.7M466.6 256.9L462.3 255.2M382.9 154.2L384 149.2M470.4 17.7L472.2 15.3M504.6 126L508.4 128.1M462 221.8L466.9 222.9M510.3 208.9L508.4 210M559.1 12.9L561.9 11.6M470.7 72.4L474.7 70.5M510.1 237.3L513.3 235.2M462.9 174.5L458 174.1M524.5 113.9L530.3 117.2M519.7 171L520.4 169.6M508.6 20.3L503.9 22M409.3 246.5L404.6 246.6M439.4 21.4L437.9 17.6M491.1 152.4L492.5 152M392.2 269.2L394.9 258.6M479.4 120.4L482.1 123.8M603.6 264.1L605.9 266.8M424.2 137.5L426.7 136M583.6 118.7L581 116.7M610.9 34.5L603.1 26.1M498.5 69.1L496.7 64.8M389.6 35.8L387.7 38M431.7 140.5L429 137.8M418.7 46L419.8 41.3M600.3 272L598 271.4M572.2 187.4L565.3 184.2M587.1 251.7L585 252.5M521.2 64L518.3 66.7M475 117.6L476.7 127.9M398.3 190L398 194.5M545.7 126.4L545.8 124.4M556.7 187.9L559 194.8M545.9 245.9L546.7 247.3M437.6 223.6L431.7 226.6M391.1 209L394.3 205.8M583.9 54.4L579.8 53.3M602.4 18.1L611 25.9M572.1 113.1L567.7 113.6M413.2 56.4L415.2 57.9M423.3 167.4L417.7 167.6M489.5 41.6L495.5 36.5M501.2 164L503.2 159.2M593.6 129.4L592.4 131.5M480.1 74L477.5 75.2M612.8 72.3L614.6 69.1M554.5 177.7L549.9 177.5M537.7 71.6L536.5 71.8M413.3 215.2L408.4 215.1M459.7 229.3L458.4 225M540 85.4L541.4 87M479.1 252.5L480.8 252.6M598.8 236.2L602 235.3M470.5 207.9L471.7 204.8M599.1 136.1L596.7 134.6M558.7 79.4L562.4 77.8M626.4 97.4L627 100.8M391.2 265.8L394.9 262.5M578.8 163.5L574 161.4M429.7 225.5L425.9 228M474.3 210.9L470.5 207.9M400.4 172.5L404.7 169.7M464.4 204.8L463.4 207.3M578.8 101.2L573.2 101.4M402.8 265.5L405.6 264.4M587.9 131.5L589.4 129.7M617.1 85.7L613.3 87.4M564.7 80.7L562.4 77.8M404.8 29.6L407.1 32.3M605.4 216.3L609.4 216.9M541.5 125.1L538.5 127.6M582.3 214.6L580.1 212.1M580.5 67.6L577.7 64M455.7 44.3L460 43.4M450.5 159.4L448.3 172.1M530 75.5L530.3 71.4M513.3 98.5L516.9 95.8M542.8 241.7L546.5 239.3M388.4 62.2L383.4 59.9M531.8 261L529.8 257.3M526.6 59L526.7 63.4M454.3 252.8L457.2 254.8M386.4 98.3L381.8 96.6M532.9 43.4L539.7 43.4M583.9 58.9L586.8 62.6M614.1 163.9L614.1 160.7M389.6 46.3L390.9 45.1M598.7 66.7L596.8 64.3M455.7 168.3L455.4 163.7M428.7 205.2L432.6 204.5M494.5 147.6L491.8 154.9M561.1 198.6L563.4 202.1M425.8 39.5L424 40.8M545.2 192.9L542.6 189.9M383.4 59.9L387.4 58.7M534.6 26.2L537.7 22.6M384 78.4L382.8 80.5M543.5 62.6L542.8 62.6M474.1 231.7L473.8 228.5M418.8 199.8L414.1 199.5M517.2 214.5L514.5 211.4M561.4 129.7L563.4 128.5M616.5 201.5L614.6 198.4M426.2 201.9L429.3 200.5M444.4 26.6L441.1 29.3M535.9 108L538.2 112.1M513.9 208.7L514.5 211.4M476.6 184.2L472.4 186.1M405.3 143.6L407 141.1M421 122.6L420.3 119.2M558.1 267.1L557.6 262.3M577 143.3L577 138.3M582.8 179.9L579.4 183.9M493.5 65.3L490 62.8M545.2 204.4L548 206.1M577.9 154L582.7 156.1M514.5 11.3L517.3 14.7M526.6 185L523.5 185.2M386.9 85.9L389.9 82.5M473.3 166.2L470.3 169.2M590.5 121.9L594.7 121.7M474.2 44.9L476.3 40.8M566.2 134.4L563.6 138M495.9 48L495.8 51.3M614 86.9L618.1 85.5M574.4 243.6L577.7 244.7M613.9 17.3L615.7 17.3M383.1 196.7L380.6 200.3M447.2 210.7L445.5 215.1M411.6 111.6L408 105.7M396.2 159.8L394.7 158.9M546.6 57L544.3 48.1M464 143.1L463.4 145.5M588.1 240L591.6 237.7M505 45.5L506.6 43.1M522.5 91.5L510.7 93.5M471.3 153.4L473.4 154.3M520 182.1L519.7 178.8M449.5 200.4L450.7 197M546.7 247.3L548 251.7M382.2 193.5L383.1 196.7M460.4 78.1L460.8 82.2M518.2 219.3L513.3 219.3M504.6 126L508.8 125.2M404.2 178.7L400.2 177M413.3 215.2L411.7 216.1M490 41.4L492.2 41.4M536.2 213.8L541.5 212.9M444.1 45.3L443.6 48.1M574.5 239L576.7 243.3M422.9 210.3L426.8 210.5M472.6 125.8L466.6 127.1M435.7 161.6L435.7 165.6M529.3 118.6L533.3 128M521.3 268.6L516 262.3M615.7 214.1L614.4 214.3M573.3 142.1L571.2 144.2M405.3 143.6L409.9 145.2M522.3 268.5L524.3 255.2M380.7 25.1L385.1 28.6M387.3 41.7L390 37.5M408 100.9L408 105.7M612.2 125.1L616.7 119.4M555 150.6L557.3 148.9M531.1 193.2L535.2 191.3M441.2 203.8L447.7 199.4M415.6 10L417.4 11.3M467.9 90.8L469.3 94.7M464.4 116.3L462.2 113.8M608.2 126.6L604.5 127.8M619.8 18L621.2 14M529.4 251.7L528.5 256.5M568.6 47.9L569.9 51M456.2 57.3L459.4 60.6M478.4 116.2L479.4 120.4M388.1 254.7L388.5 258.9M615.9 46L617.6 49.9M544.5 263.3L548.9 260.8M608.4 32L612.4 33.8M498.3 79.8L497.9 80.1M377.2 140.5L377 144.6M532.6 91.9L532.5 96.4M467.5 265.7L469.7 263.5M528.2 167.8L530.9 171.2M389.2 144.4L392.5 143.1M622.6 220.1L618.1 220.4M437.8 189.3L435 189.6M579.2 100.6L576 101.4M424.6 44.3L425.8 39.5M509.1 73.4L515.3 77.5M511 249.2L513.3 253.1M439.8 80.4L444.7 81.9M577.3 32.3L576.8 29.2M586.8 62.6L585.1 66.9M603.5 57.3L606.2 53.4M550.2 206.3L545.7 203.5M476.9 18.5L478.2 30.6M471.2 267.3L473.9 263.7M430.9 173L430.9 177.2M390.2 141.9L391.2 137.7M388.8 237.9L386.9 239.2M392.6 224.4L395.4 222M542.2 23.3L541.9 24.9M423.5 80.3L430.6 79.7M510.9 241.6L510.1 237.3M547.1 210.8L549.2 209.7M572.2 178.4L573.5 170.5M622.6 220.1L621.7 223.6M573.7 99.7L569.5 101.1M554 83.5L543.5 86.5M489.4 143L493.6 144.8M473.4 160.8L473.3 166.2M402 254.4L401 250.1M567.2 31L568.1 26.8M430.3 183.9L434.7 186.2M541.7 13L542.2 9.6M508 15.5L509.2 17M549.2 209.7L552.6 213.1M585 252.5L584.2 257.7M429.3 266L427.6 261.9M540.5 31.4L536 30.6M571.1 185L580.7 189M424.5 38.2L424 40.8M384.7 214L384.8 212.1M395.9 209.6L392.7 212.7M611 18.4L608.1 15.5M616.1 262L625.6 252.3M611.8 79.8L612.5 79.3M458.7 19.3L462.4 18.8M575.9 63L577.7 64M611.7 122.1L604.2 111.5M403.3 228.9L404.7 230.9M443.6 220.6L444.4 224.1M458.1 199.4L461.4 200.2M548.3 36.7L550.9 32.9M558.5 253.5L561.8 251.1M595 131.9L596.7 134.6M383.6 215.1L384.7 214M491.8 221.8L486.9 223.1M521.3 101.1L517.7 103.8M431.9 13.5L437.3 19.7M577.2 261.8L574.9 264.3M554.3 9.4L557.5 10.2M562.4 210.6L566.2 207.6M581.6 108.8L581.9 104.9M461.3 186L462.6 181.7M547.2 35.4L556.1 35.6M485.6 233.7L482.9 232M388.6 11.8L392.5 11.3M457.8 169.7L458 174.1M432.3 249.5L432.5 242.1M619.6 104.8L616.7 104.6M579.3 250.6L576.1 249.6M609.2 195.6L613.7 197M438.7 239.8L438.3 244.3M535.9 246.4L533.1 248.2M548 251.7L544.5 254.9M530.9 171.2L535 171.9M537.2 223.1L539.3 226.6M443.5 15L438.7 14.4M545.8 165.1L546.5 162.2M518.4 251.1L518.6 254.9M562.8 86.4L558.2 87.5M460.5 74.2L464.6 74.8M422.1 25.9L409 21.5M615.4 154.9L618.4 157.6M583.1 242.3L579.5 245.2M571.7 149L574.9 147.3M407.7 48.8L406.2 46.6M620.2 73.1L624 75.6M571.9 224.6L574.3 220.2M522.8 11.3L528.6 11.2M593.4 257.4L598.4 256.8M540 69.2L541.9 65.1M577.3 251.4L575.9 255.7M577.6 154.2L577.9 154M483.4 141.8L485.2 144.6M400.2 177L400.4 172.5M390.3 49.3L386.7 51.2M589.4 129.7L587.9 125.9M612.9 43.6L615 45.3M488.1 137.8L484.9 140.5M481.9 98.4L479.8 102.2M616.9 195.8L621.3 196.3M577 138.3L580.8 136.3M397.1 82.1L395.5 79.5M511.2 123.1L511.2 120.5M593.8 83.8L594.4 86.7M591.3 166.8L595.6 162.1M408.5 248.3L409.5 252.7M611 125.9L610.8 122.6M614.6 258.4L604.9 249.9M381.8 200.4L383.2 205.2M542.1 223.9L544.8 224.8M615.3 255L618.2 258.1M410.6 105.3L414.9 109.1M529.6 131.7L529.9 128.2M377 98.8L379.2 96.5M388.1 263.1L385.1 261.4M537.4 102.1L539.6 105.8M400.6 177.9L407.7 187.2M423.7 64.6L422.7 59.9M509.1 75.2L506.8 71.9M444.8 134.3L440.6 132.2M609.5 184.1L617 184.2M512.2 207.8L514.9 203.5M524.1 6.8L528.8 6.9M415.7 256.8L414.1 252.4M614.2 23.4L618.3 23.3M423.2 150.1L419.1 158M439.3 102.6L435.7 102.2M605.2 85.2L601.5 88.1M441 122.8L438 127.3M417.9 228L414.2 227.9M514.9 203.5L519.9 202.8M390.9 45.1L390.3 49.3M553.2 234.8L555.4 237.9M537.6 42.6L540.4 41.2M388.3 147.8L387.1 151.4M477.5 75.2L480.1 74M560.3 53.2L558.2 56.8M415 163L412.7 163.6M574.4 247.5L576.1 249.6M437.6 223.6L436.8 220.1M556.9 122.5L560.8 122.9M390.2 59.4L386.7 57.4M507.1 193.4L507.1 194.7M496.9 61.5L496.9 64.7M482.1 245.3L481.7 242.1M472.5 138.8L474.2 147.4M517.4 174.5L519.7 178.8M625.9 103.6L627 107.2M476.7 219.7L473.2 217.2M457.5 259.7L455 262.6M410.1 81.6L406.7 81.6M395.8 75L397.6 73.1M598.4 140.8L600.4 144.2M435.6 71L432.8 71.9M461.9 35.5L460.2 31.8M543.5 62.6L541.9 65.1M438.7 14.4L439.5 15.1M611.5 105.9L610.6 107M464.4 189.2L463.8 188.1M612.4 147.6L607.8 147.3M596.9 174.4L594.3 173.6M442.5 9.6L445.4 12.6M564.3 217.4L560 227.3M409.3 20.8L409.7 18M425.9 77.2L427.6 73.3M581 78.4L578.7 79.5M414.5 243.4L413.1 242.7M441.5 206.9L440.4 208.5M583.6 135.8L583.3 131.4M498.9 254L499.9 258.3M601.3 102.1L589.9 100.7M466.4 213.3L463.1 209.8M592.5 187.5L594.9 187.7M520.9 97.1L519.2 95.3M448.3 16.7L450.5 20.3M562.8 72.3L567.6 69.1M532.3 216.8L533 213.4M542.5 198L545.8 200M533.9 101.9L537.4 102.1M503.2 166.5L508 165.6M614.1 201.6L618.4 202.9M460.4 160.8L459.3 164.9M395.5 126.5L396 122.6M615.7 17.3L619.8 18M548.8 240.5L549.9 240.2M574.9 147.3L577.8 150M387 229.3L384.5 226.5M408.1 216.6L408.9 206.4M471.4 121L471.1 124M427.5 48.1L428.8 46.1M452.2 113.9L446.3 101.5M502.4 246.8L500.3 250M380.5 91.4L385.1 93.1M457.8 189.2L462.3 191.7M422.2 101.9L425.5 100M446.9 52.2L454.6 46.5M521.5 124L525 126.7M503 69.9L498.5 69.1M561.8 215.2L557.2 213.7M413.6 220.3L412 225.8M383.2 264.4L388.1 263.1M436.1 83.2L432.9 80.4M417.2 233.3L417.6 229.9M455.7 16.3L458.7 19.3M549.4 23.9L546 26.6M447.3 250.4L452 250.6M436.4 130.8L438.6 131.8M576.5 236.9L575.9 250.4M463.1 121.2L456.2 126.1M574.4 243.6L574 247.3M592.4 186.3L588.7 182.8M476.9 18.5L472.7 19.3M429.5 35L432.3 35.6M452.4 135.6L463.6 139.4M574.6 258L572.4 247.4M552.6 213.1L553.9 217.6M536.9 255.3L538.5 254.8M569.4 149.3L567 138.1M536.9 255.3L539.7 253.5M587.6 215.5L592.2 218.1M485.4 153.4L486.1 156.3M424 40.8L419.8 41.3M615.5 12.2L613.9 13.2M526.3 155.8L525.8 146.7M514.1 176L513.1 173.9M592.2 216L595.6 213M470.3 169.2L467.3 166.9M581.6 108.8L584.3 110.8M563.4 202.1L567.7 201.2M603.2 151L609.3 161.2M412.4 165.4L417.8 167.8M411 42.1L411 45.4M618.4 157.6L615.4 154.9M591.2 262L593.4 257.4M451.1 73.8L446 73.5M561.9 11.6L565.4 15.1M614.3 76.8L615.4 73.7M563.8 46.5L568.6 47.9M411.7 63L413.3 66.7M433.4 26.9L429.7 23.9M509.3 198.4L507.1 194.7M515.7 41L518.2 41.8M513.5 73.9L517.7 73.8M579.1 93.2L580.7 96.5M542.2 266.6L543.8 267.9M402 217.5L396.9 217.6M391.8 254.7L400.3 264.7M589.5 174.5L585.6 173.1M446.3 145.8L438.4 146.8M450.7 197L453.5 198.1M464 221.2L465.3 220.2M504.9 179.7L501.4 181.2M565.3 176.7L564.3 171.9M500.4 17L505.1 15.4M546 108.4L546 110.8M492.5 152L496.1 151.3M554.6 60L550.5 62.1M457.7 259.7L455 262.6M617.8 127.7L614.5 128.4M408.8 171.4L408.5 175.9M431.1 193.3L431.9 196.8M387.3 253L383.6 252.4M441.2 216.1L439.9 218.6M559.4 48.9L560.3 53.2M470.2 246.5L473.7 245.8M493.2 79.6L490.4 82.5M443.6 48.1L445.8 51.5M533.5 124.8L534.1 123.5M437.9 203L441.8 202.7M407.2 70L408.7 75.8M405.2 195.4L407.2 191.6M397.2 96.4L401.7 94.1M450.2 270.1L448.1 271.5M605.2 169.9L606.7 174.1M420 98.1L424 110.5M601 20.5L597.4 19.5M423.3 89.3L426 87.1M584.2 121.9L581.3 125.9M474.6 232.5L474.1 231.7M464.7 169.6L469.5 173M500.6 231.1L497.2 227.8M436.8 220.1L439.9 218.6M408.3 257.6L404.4 251M489.1 100.7L486.9 96.8M569.3 127.8L572.1 124.2M536.9 92.3L534.1 88.2M583.6 118.7L583.3 117.2M387.9 43L390.9 45.1M393 202.5L391.8 199.9M497.4 186.4L493 184M391.1 269.3L392.2 266.2M521.3 144L525.6 143.6M467 180.6L470.1 183.9M381.8 228.7L381 218.3M385.6 244.9L386.5 241M436.8 220.1L436.2 221.1M395.8 75L393.4 70.9M446.9 172.9L448.1 175M458.2 62.6L459 64.6M435.5 247.7L433.1 246.6M619.6 79.6L611.9 78.9M388.2 129.8L386.5 130.1M481.4 136.8L480.3 138.7M604.5 127.8L599.8 125.4M436.3 238.7L438.7 239.8M525.2 110.7L525.6 110.8M602.3 196.9L600.8 195.2M484.9 175.4L486.6 178.1M617 175.9L618.4 180.3M563 215.4L562.4 210.6M618.1 85.5L621.7 88.3M500 184.4L497.4 186.4M587.5 226L582.9 223.4M520.8 250.8L525.5 248.8M498 154.6L496.3 158.6M386.4 260.1L388.6 267M523.4 91.7L525.2 94.8M404.8 29.6L399.8 27.5M563.4 128.5L566.1 129.7M423.2 28.5L427.8 27.2M489.9 19.9L501.1 26.2M391.1 183.9L387.6 187.1M529.1 146.2L538.1 136.4M404.8 148.9L402.7 145.4M388.1 263.1L388.4 260.5M558.7 79.4L563.1 82.3M590.1 14.8L591.3 10.7M522.8 11.3L522 14.2M541.5 212.9L544.9 216.6M406.7 199L405.2 195.4M377 226.6L380.8 225M520.3 115.1L516.8 113.1M432.8 155.8L433.9 159M524.3 191.8L529.6 195.7M589.3 268.1L580.2 272M590.4 151.7L594.3 148.7M566.1 129.7L571 132.1M465.3 220.2L464 221.2M466.2 54.9L464.8 52.1M388.3 197.9L384.8 197.2M482.9 262.6L487.4 260.5M444.5 60.8L444.7 64.6M490.3 53.2L488.8 53.2M604.9 34.1L608.4 32M501.4 181.2L504.9 179.7M537.3 213.6L536.2 213.8M432.3 194.8L422.3 195.5M420.4 134.5L416.9 133.6M527.4 144.1L528.6 147.9M544.2 44.1L547 42.7M617.8 27.8L617.9 19.3M392.2 166.4L387.3 166.7M458.2 96.8L465.6 96.3M511.1 162.1L499 166M449.2 132.3L452.7 134M481.2 47L476.6 48M519.7 171L517.4 174.5M468.1 140.5L469.5 136.5M478.8 233L474.1 231.7M444.5 18.6L450.6 14.2M455.8 230.5L452.5 227.6M384.8 197.2L383.4 193.3M581 78.4L584.4 81.3M617.1 44.7L615.9 46M558 64.6L554.2 62.9M611.2 197.7L601.7 198.1M547 115.7L545.9 113.7M617.8 189.8L615.1 192.6M481.5 236.9L478.2 236.3M604.1 172L601.6 169.2M577.8 150L577.6 154.2M455 202.8L459.7 201.5M472.7 19.3L470.4 17.7M438 81.6L435.8 79M583.6 135.8L580.8 136.3M531 210.8L534.6 211.8M504.6 75.1L497.1 70.4M592.4 131.5L593.6 129.4M377.1 200.7L377 197.6M442.6 64.6L440.4 60.8M464.8 35.6L461.9 35.5M527.2 233.3L528.1 231.7M381.6 153.5L377 152.2M606.1 256.7L610.5 257.8M438.7 14.4L435.8 11.5M588.9 271.5L582.3 268.5M435.1 251.6L432.6 248M624.7 101.3L621.7 98.5M417.1 248.9L421.7 249.9M505.4 74.9L507.6 78.6M472.4 139.8L470.9 143.8M467.3 166.9L467.3 161.5M482.5 29.9L484.7 34M485.3 209L483.8 210.2M415.2 232.4L408 231.6M511.2 120.5L515.6 118.4M444.6 162.6L448.1 159.6M597.1 187.8L600.8 190.7M588.4 265.9L591 269.7M405.2 123.6L406.6 120.3M509.2 17L508 15.5M560.4 258.8L562.1 259.9M534.9 251.6L536.9 255.3M550.6 141.3L549.9 145.3M467.6 254.3L470.4 257.2M400 34.9L401.2 30.9M587.9 51.5L599.4 44.9M455.2 165.5L452.2 162.1M472.3 62.8L475.6 62.1M528.9 205.9L527.4 209.9M443.6 116.9L442.4 116.4M527.2 50.5L526.1 47.1M513.7 223L509.6 225.6M501.5 244.7L505.8 245.9M457.2 240.7L449.9 240.6M602.8 89.4L613.4 86.4M586.4 64.8L580.2 65.1M538.5 254.8L541.7 252.7M395.9 209.6L395.7 211.4M398.8 14.2L395.4 6M458.6 182.2L456.1 172.3M415 168.8L410 167.8M621.1 161.1L625.7 158.5M506.6 175.1L507.8 178.7M412.7 124.1L414.9 119.7M388.3 147.8L391.7 151.4M552.9 221.6L562.1 225.4M538.7 82.9L541.4 87M395.3 57.4L397.2 60.5M603.6 264.1L602.7 259.5M419 235.9L421 239.4M380.6 200.3L377.1 200.7M390.7 156.4L388.7 153.6M430.8 240.9L434.1 244.2M582.7 156.1L583.1 160.9M616.5 131.7L616.6 129.4M587.9 37.3L589 44.3M504.9 265.3L503 263.6M544.5 254.9L539.7 253.5M416.9 133.6L419.8 134.8M401.2 30.9L404.8 29.6M465.2 165L464.7 169.6M608.5 73.1L609.8 72.2M605.2 85.2L609.2 85M554.7 140.3L550.6 141.3M501.2 164L503.2 166.5M454.3 122.8L451.6 120.9M408 101.1L416.9 106.3M621.2 14L616.9 14M440.7 225.2L453.1 227.8M447.2 30.1L443.9 33.4M577.7 73.3L578.6 70.5M518.8 248.5L517.9 243.3M437.9 94.9L443.3 89.8M490.7 263L495.8 260.7M569 64.9L572.6 61.7M478.8 161.9L477.8 158.4M384.6 53.7L385.9 52.1M473.4 154.3L471.9 157.2M466.6 256.9L470.4 257.2M390.6 20.7L400.4 20.5M615 45.3L610.1 43.6M596.7 134.6L595 131.9M596.8 187.1L592.4 186.3M606.1 22.1L605.9 26.4M549.2 38.7L546.6 42.6M407.8 93.9L414.4 98.1M595.9 155.8L606.5 147.8M591.2 38L588.1 44.3M609.5 39.7L605.5 37.9M463.2 13.2L466.2 10.3M395.3 250.8L397.7 249.4M430.9 30.5L429.5 35M536.7 29.5L538.7 16.6M381.5 172.3L384.6 173.4M485.4 183.3L482.6 185.8M598.8 91.8L595.5 94.5M385.1 93.1L388.3 90.1M437.7 116.1L437.6 116.6M479.8 102.2L476.5 102.9M559.9 59.2L565.4 57.9M411.3 250.1L410.5 250.9M532.4 172.9L537 171.4M580 111.8L574.8 109.4M609.9 232.3L610.8 233.8M474.7 259.5L473.6 255.3M378.9 133.6L382.5 133.2M480.4 204L476.5 191.4M603 39.1L606.9 37.2M377 58.6L380.5 57.5M430.9 138.8L432.7 143M619.2 64.4L614.4 65.3M469.7 185.1L471.2 182.2M471.2 251.3L467.7 252.1M463.3 89.7L467.9 90.8M544.6 96.7L556.9 91.6M481.3 157.2L483.6 156.1M533.1 121.3L533.5 124.8M614.1 109.3L616.6 108.9M504.3 225.5L504.2 229.9M557.1 208.2L561.7 209.8M460.5 74.2L457.2 72M622.7 40.3L624 48.4M380.8 225L381.1 221.4M445.4 206.6L441.5 206.9M429.3 164.7L432.8 167.2M444.5 17.1L448.3 16.7M568.1 26.8L572.4 24.5M401.8 109.7L405.8 111.5M547.4 246.3L540.1 254.1M593.8 83.8L599.6 83.7M519.2 95.3L517.3 92.2M486.8 81.3L485.9 77.2M415.2 191.5L419.9 191.7M475.2 149.6L478.5 147.8M593.1 70L595.1 66.3M468.1 261.8L466.6 256.9M574.5 228.9L573.6 226.6M540.4 41.2L543.3 45M453.2 87.4L454.7 84M568.4 116L565.1 119.3M549.1 111.7L545.9 113.7M500.8 59.7L499.6 61.4M554.1 80.5L555.4 81.8M386.7 57.4L383.4 59.9M565.2 65.5L562.9 65.2M586.8 62.6L586.4 64.8M503.8 252.1L506.2 248.7M589.3 33.6L587.2 29.7M466.8 25.8L453.1 25.7M508.6 20.3L509.4 25.2M387.6 187.1L385.1 186.3M615.2 152.2L613.9 153.8M487.4 191.8L484.4 195.3M595.1 66.3L598.7 66.7M481.3 232L485.6 233.7M509.5 98.8L514.2 100.2M605.2 169.9L604.1 172M500 184.4L505.4 187.3M599.8 26L599.5 27.5M614.6 198.4L616.9 195.8M484.6 205.6L485.3 209M393.1 103.4L390.8 99.8M442.7 103L439.3 102.6M537 171.4L540.3 173.2M587 15.8L590.1 14.8M453.5 198.1L455 202.8M576.8 270.7L575.4 266.5M478.8 240.1L475.8 240.1M609.2 209.7L613.5 210.3M483.2 231L481.5 236.9M566.4 39.1L564.6 36.3M405.6 264.4L402.9 263M410.6 116.9L411.8 113.6M530.9 171.2L528.3 173.9M389.7 83.2L386 84.5M583.8 238.2L579.1 238.2M396 122.6L391.8 121.3M442.6 73.6L444.9 76.2M596.8 64.3L594.2 59.7M558.2 87.5L553.8 84.5M529.1 241.4L532 239.6M392.7 212.7L390.3 212.4M410.7 191.4L412.2 195M426.7 136L430.9 138.8M525.6 67.5L523.4 72.6M589.4 129.7L587.9 131.5M552.6 213.1L554.8 210.2M410 167.8L408.8 165.2M402.8 227.5L402.9 223.6M416.1 39.2L412.1 39.6M442 158.7L438 151.1M430.2 144.5L425.9 141.7M600 170.3L603.8 165.2M435.7 102.2L434.7 107.1M534.6 123L521.3 126.4M438.3 14.2L433.6 18.9M627 159.9L627 163.7M483.4 164.1L478.8 161.9M457.1 225.5L453.3 225.3M500.9 222.2L504.3 225.5M542.8 142.1L540 138.5M460.2 31.8L461.5 28.2M447 263.4L442.8 264.8M403.2 127.4L390.8 126M481.6 267.1L482.9 262.6M488.2 81.5L482.1 69.8M485.9 77.2L484.6 76.8M596 218.1L592.6 221.1M398.4 266.4L394.7 269.6M420.5 137.3L424.2 137.5M547.1 143.8L549.7 147.3M614.4 214.3L610.4 218M565.4 57.9L567.8 58.2M388.3 31L389.6 35.8M517.6 37.5L520.3 35.5M575.7 26.4L574.7 30.6M394.4 70.5L396.5 66.9M576.1 238.4L572.4 238.9M430.9 63.9L432.1 63.2M482 177.9L484.9 175.4M594.9 9.6L597.4 12.6M413 137.4L412.3 134.9M396 122.6L399.4 121.8M406.7 81.6L405.7 85.7M389.6 46.3L387.3 41.7M502.8 120.1L505.2 118.1M566.8 30L567.2 31M415.7 100.9L415.2 97M388.1 96.6L394.6 99M623.9 251.6L623.9 254.5M399.3 71.6L397.2 75.1M419.8 193.4L419.9 191.7M482.1 123.8L480 128.2M395.5 79.5L395.8 75M536.9 255.3L535.4 260M522.9 104.5L521.2 109.3M452.9 212.5L448 211.8M385.1 227.6L384.9 231.8M581.9 104.9L581.6 108.8M410 230.6L406.7 238.7M421.7 249.9L423.2 254.3M382.2 173.6L384.6 173.4M481.3 228.8L481.3 232M605.5 37.9L604.9 34.1M602.6 29L599.5 27.5M434.6 76.5L432.9 80.4M622.2 51.5L617.9 49.9M402.5 255.9L406.3 255.7M403.6 23.8L407.6 22.5M444.1 54.1L442.2 57.1M465.3 220.2L461.9 222.8M487 150.6L486.1 146M544.3 11.8L543.6 16.8M577.5 258L580.7 256M545.7 203.5L546 198.2M387.3 166.7L391.3 161.3M424.8 20.6L420.4 21.8M602.2 174.2L597.4 174.3M498 218.6L495.8 218.7M602.6 171.1L601.6 169.2M544.3 11.8L541.7 13M402.5 255.9L405.2 257.3M593.2 246.8L604.2 252.4M545.2 48.3L542.4 49.7M466.6 24.2L462.9 24.8M566.7 112.8L567.7 113.6M520.2 100.9L522.9 104.5M415.6 10L414.2 13.4M513.3 253.1L510.9 256.5M468.9 176.2L466.1 179.8M414.9 109.1L418.3 108.6M532.7 105.3L533.9 101.9M611.4 173.5L613.5 172.5M545.2 192.9L542.5 198M475.6 255.2L478.7 251.8M390.1 63.4L391.8 58.8M458.9 101.6L455.7 104.2M504.8 234.4L508.4 234.3M581 44.1L580.8 45.8M392.2 179.9L391.1 183.9M539.8 213.3L534.6 211.8M612.1 124.9L607.6 130.5M509.8 131.8L507.5 133.4M464.1 215.2L465.3 220.2M429.2 44.7L431.1 54.4M452.6 58L456.2 57.3M506.3 67.1L505.8 66.5M392.3 145.1L388.3 147.8M492.5 47.3L495.9 48M412.7 163.6L415 163M601 173.2L596.9 174.4M521.8 131.1L518.3 128.3M430.5 38L429.3 42.9M538 210.2L537.3 213.6M605.4 216.3L606.2 218.7M510.4 80.7L505.6 72.1M377.6 73.9L381.4 75.1M443.2 75.8L451.3 67.8M441.5 41.9L442.9 38.5M418.9 167.2L415 168.8M511.1 201.3L509.3 198.4M613.5 210.3L615.5 207.1M495.5 132.4L497.9 135.4M479.7 150L482.2 150.2M461.6 96.4L460.1 92.5M481.3 228.8L478.7 234.1M435.8 79L438.1 75M581 116.7L580 111.8M386.2 182.3L389.7 179.1M508 240.3L504.6 237.4M383.1 108.6L379.7 110.7M437.9 17.6L440 14.1M405.1 45L408.4 52.6M545.8 200L545.2 204.4M398.4 266.4L399.8 268.5M456.5 144.6L456.6 134.1M425.1 132.9L433.1 132.8M526.2 241.4L527.1 246.5M393.5 34.6L391.6 31.2M452.4 123.4L456 127M559.8 169.8L563.1 181.4M510.9 256.5L509.3 260.1M563.6 138L566.7 137.8M410.6 25.1L409.5 29M528.9 155.9L530.9 159M471.3 225.9L466.9 224.9M541.2 20.4L544.7 17.7M380 262L377.4 272M411.3 142.2L402.4 137.2M571 156.9L571.4 153.2M609.8 165.7L608.2 170.2M438.4 54.7L445.7 63.9M409.9 15.2L412 17.1M427.8 97.9L435.3 97.2M524.3 191.8L521.4 195.3M567.6 62L565.2 65.5M378 199.9L380.6 200.3M609.3 88.2L601 99.3M448.9 70.6L453.4 71.7M521.6 108.7L525.2 110.7M448.1 271.5L447 268M377 147.5L377 142.4M457.5 118.9L459.3 114.4M469.2 43.9L466.7 47.4M571 156.9L570.5 160.7M574.8 117.6L574.5 122.2M461 228.7L464.1 229.1M562.9 239.5L565.4 242.7M398.7 11L406.5 8M441.8 202.7L445.6 204.4M445 18.2L444.5 17.1M462.9 24.8L458.9 22.3M453.6 196.9L453.4 191.8M384.2 117L382.5 121.2M388.1 254.7L387.3 253M518.1 23.7L519.3 27.3M484.1 165.6L490.8 167.9M380.1 105.5L377 103.3M471.5 55.3L473.8 60.1M450.7 197L447.6 197.1M465 122L460.4 122.8M497.1 183.6L501.4 181.2M388.4 249.1L392.1 249.7M592.4 171.3L589.5 174.5M382.5 133.2L383.4 133.1M540.6 264.4L543.6 260.4M581.9 244.1L583.1 242.3M510.9 125.5L511.2 120.5M498.3 6.2L503.3 6.7M580.6 32L577.3 32.3M514.1 19.7L512 29.5M593.5 189.3L593.8 190.6M410.3 52.9L413.6 57.1M448.8 240.3L448.8 231.6M433.5 99.8L435.7 102.2M621.2 147.8L621.3 150.5M459.7 201.5L455 202.8M521.3 144L517.2 141.3M434.7 107.1L431.6 109.4M603.1 20.6L606.1 22.1M569 64.9L567.6 62M561.5 223.6L565.1 228.5M443.6 48.1L444.1 45.3M479.2 91.4L476 88.6M433.7 245.4L437.3 246.4M443.1 174.1L446.9 172.9M419.8 41.3L416.1 39.2M513.7 67.4L509.1 66.2M515.3 8.3L519.5 8.3M503 263.6L502 266.9M503 263.6L504.9 265.3M596.4 82.7L600.1 79.7M605.2 251.4L607.4 252.6M562.2 86.2L562.2 89.5M437.8 146.7L433.4 148.2M418.7 46L417.3 41.9M394.2 21.2L398.1 23.2M488.9 126.6L485.4 126.2M524.6 136.9L525 126.2M543.6 16.8L544.7 17.7M520.1 216.9L518.2 219.3M485.9 193.9L484.4 195.3M541.9 65.1L540 69.2M574.9 147.3L580.8 146.3M505.2 108.7L502.1 112.7M462.6 253.4L467.6 254.3M463 46.6L465.7 40.2M565.5 109.6L560.2 120.2M465.2 36.5L468 36.5M604.7 69L598.5 68.3M455.6 268.5L454.2 263.4M489 49.9L492.5 47.3M569.6 44.8L573.3 46.2M472.4 51.3L471.9 54.3M404.5 25.9L399.8 27.5M537.8 271.1L536.5 272M515.4 170.4L518.7 168.9M484.8 227.3L481.3 228.8M595 131.9L594.6 135.8M459.3 164.9L456.7 163.9M514.6 132.2L513.1 126.9M565.3 175.6L556.2 170.2M440.6 46.1L436.7 48.5M515.7 41L520.3 39.3M419.5 252.6L423.2 254.3M616.6 104.6L619.6 104.8M581.8 227.5L571.8 236.7M445.7 55.1L455.6 63.5M418.7 214.3L417.6 217.7M529.8 257.3L528.5 256.5M561.1 82.9L564.7 80.7M546.8 95.6L535.8 99.9M478.2 148.9L476.4 146.1M618.3 215.7L619.5 212.4M566.9 87.2L562.2 86.2M504.1 161.2L495.1 156.3M508.5 155.9L512.6 167.8M588.8 141L582.9 134.6M558.4 199.2L561.1 198.6M490.7 263L489.4 267.6M577 76.2L571.9 67M544.5 254.9L541.7 252.7M619.8 204.8L624.5 193.4M442.9 21L444.5 17.1M585.3 264.4L588.4 265.9M527.4 144.1L524.9 140.5M454.2 263.4L457.7 259.7M490.3 53.2L491.5 56.7M610.6 109L606.9 108.6M500 184.4L497.1 183.6M395.1 37.7L397.5 42.3M443.9 33.4L440.9 33.3M597.9 243.7L596.7 240.4M561.8 113L566.7 112.8M397.1 110.9L399 111.5M391.8 199.9L388.3 197.9M478.5 147.8L479.5 150.3M573.3 46.2L576.4 50.4M406.6 13.1L409.8 14.1M497.9 80.1L499.3 84.3M397.1 211.6L397.8 222.7M503.6 238.8L507.8 238.5M562.8 247.3L561.8 251.1M496.9 64.7L496.7 64.8M396.3 24.6L398.1 23.2M424.8 20.6L426.7 25.3M386 16.4L385.4 14.3M525.2 94.8L524.3 91.4M569.4 81.8L570.5 85.1M585.5 223.5L587.5 226M427.7 161.7L429.7 157.2M535 83.5L538.7 82.9M588.7 243.1L583.5 246.4M392.5 143.1L393.1 146M504.9 179.7L500.8 177.1M407.2 70L405 73.6M484.8 81.5L481.5 84.6M492.1 93L494.3 97M506.1 215.5L506.4 212.3M550.9 32.9L554.5 31.2M437.4 206.6L437.8 205.1M476.8 204.8L480.6 207.8M412.1 248.5L403.9 252.1M510.5 69.1L511 73.8M619.5 114.5L615.5 112.2M561.5 223.6L561.5 227.5M569.7 238.7L572.4 238.9M453.5 11.1L456.9 9.9M429.1 52.5L427.5 48.1" stroke="#9a980e" stroke-width="2.5" fill="none" stroke-linecap="round"/>
<path d="M557.5 129.4L555.3 125.8M442.9 21L443 20.6M378.6 240.7L383.8 241.4M595.6 213L597.5 214M566.2 52.7L561.4 51.3M559.7 152.1L559.8 157M378.3 122L377 118.5M379.5 139.1L383.4 140.9M419.7 64.9L424.2 64.2M397.6 20.2L402.2 18.7M500.8 59.7L496.9 56.1M470.4 95.5L471.3 92.6M440.5 42.1L440.6 46.1M377 197.6L378.8 193.9M393.6 72.4L386.5 72.3M496.2 132.8L496.2 125.3M514 107L515.7 102.1M389.6 193.6L389.8 189.1M388.3 178.8L393.7 185.8M461.3 162.2L465.2 165M601 20.5L603.1 20.6M425.5 125.4L421 122.6M486.1 146L489.4 143M415.2 97L413.5 93.9M618 59.3L621 61.4M377 230.9L377 226.6M420.4 21.8L419.3 18.9M410.6 184.9L419.7 194.6M450.6 116.6L452.3 114.2M401.6 128.8L398.3 129.5M398.8 80.2L397.1 82.1M396.2 99.2L405 91.6M506.1 185.8L509.5 186.7M609 236L605.7 234.1M581.9 104.9L578.8 101.2M458.4 98.9L461.6 96.4M539.7 253.5L538.4 249.1M409.1 44.1L407.7 48.8M388 64.7L383.4 58.3M549.9 122.6L545.8 124.4M615.3 255L615.3 252.1M584.4 81.3L584.6 85.5M390.2 230.8L394.8 224.9M391.7 106.9L396.9 107.3M544.7 17.7L543.6 16.8M508.9 163.5L504 162M501.8 188.2L497.3 187.1M398.3 256.9L396 258.3M469.3 94.7L466.2 97.4M534.6 211.8L538 210.2M441.5 46.1L434.1 46.2M410.3 38.3L405.9 36.4M498.6 55.9L491.5 46.5M473.6 255.3L475.1 260.2M538.6 200.4L542.5 198M601.4 64.8L596.8 64.3M470.3 158.5L473.4 160.8M470 75.7L470.7 72.4M499.8 20.3L501.1 21M554.5 18.2L557.1 16.4M612.3 149.4L613.9 153.8M566.9 117L571 115M618.5 154L618.7 157.9M467.5 123.2L464.1 119.3M392.7 211.9L392.7 213.8M437.1 217.2L436.2 221.1M472.7 108.8L477.3 108.4M586 47.3L583.4 46.7M480 128.2L479.7 126.6M586.6 84L585.9 81.1M410.6 219.5L411.7 216.1M529.4 235L540.1 231.8M562.9 65.2L563 61.4M531.1 50.3L527.2 50.5M560.5 119.9L564.6 129M599 265.6L594 266.2M428.4 66.3L423.7 64.6M432 221.9L428.6 218.8M475.8 217.6L469.7 208.7M583.3 28.6L580.6 32M396 258.3L394.4 255.3M581.4 255.5L582.8 251.7M420.5 98.6L418.7 99.4M535.8 22.4L524.5 17.8M511 73.8L509.1 75.2M377 187.9L377 185.2M610.3 182L621 178.4M591.6 55.7L586.1 64.8M584.9 74.5L583.2 78.2M583.6 213L582.3 214.6M468.9 53.8L466.3 50.4M562.8 126.1L570.5 133.8M480.3 138.7L481.4 136.8M404.7 230.9L403.3 228.9M583.3 131.4L585.4 129.2M570.9 123.2L572.1 124.2M485.6 233.7L485.2 227.8M521.6 203.3L526 202.6M424.5 164.8L429.3 164.7M489.4 134.2L488 134.6M565.4 242.7L565.4 246.6M517.2 214.5L520.1 216.9M543.1 221.3L546.8 225.4M444.6 207.5L447.2 210.7M612 156.4L614.1 160.7M405.1 53.5L410.3 52.9M466.9 222.9L468.3 227.1M477.5 75.2L473.5 77.1M528.8 6.9L531.5 10.9M508.7 189.7L507.1 193.4M618.7 266L608.6 271.5M540.8 77.8L536.9 76M390.1 63.4L388.4 62.2M388.9 28.9L397.5 33.4M609.3 229.7L610.8 233.8M557.5 218L561.4 219.7M545.9 113.7L544.4 112.1M510.5 44L510.1 44M570.6 209.4L571.3 214.1M485.9 159.4L486.9 162.9M405.4 150.5L404.8 148.9M419 235.9L419.4 237M539.6 105.8L538.4 109.2M382.2 247.7L377.1 247.1M523.8 57.1L526.6 59M391.8 58.8L390.2 59.4M458.1 199.4L453.6 196.9M471.9 54.3L468.9 53.8M613.5 91L612.9 93.6M385.9 23.5L385.3 23.1M463.2 203.1L466.4 200.5M414.9 109.1L410.6 105.3M479.7 150L474.9 145.3M385.1 28.6L386.8 28.1M430.8 105L430.3 102.1M627 109.6L622.7 108.4M501.6 143.6L505.7 144.2M593.5 189.3L597.1 187.8M624.3 37.9L624.2 41M540.6 91.7L536.9 92.3M596.3 241.7L592.8 243.9M487.4 84.1L492.3 83.2M444.7 255.2L447.9 258.6M386.2 125.5L384.7 121.9M547 139.6L547.5 136.8M422.1 237.2L419.4 237M523.5 185.2L520 182.1M535.4 189.2L532.8 191.1M570.4 124.2L566.6 121.6M523.1 173.1L522.8 178.6M555.2 56.2L554.3 51.9M596.2 16.8L596 14.9M582.7 208.9L583.6 213M517.4 237.3L518.2 241.6M534.3 218.4L536.2 213.8M611.8 79.8L608.7 79.7M539.5 258.7L538.5 254.8M378.8 105.2L380.1 105.5M537.6 85.7L538.8 72.6M456.8 91.8L460.1 92.5M474.7 70.5L478.1 71.9M470.7 242.2L470.2 246.5M506.6 246.5L502.4 246.8M582.3 214.6L582.9 218.1M386.7 51.2L385.9 52.1M403.1 141.9L398.9 139.4M585 252.5L581.2 249M388.7 153.6L393.4 152.6M497.3 187.1L497.1 183.6M449.7 258.3L437.6 264.9M405 180.2L403.5 184.7M549.2 13L545.2 14.7M560.6 272L558.6 272M545.2 204.4L541.2 206.8M418.7 39.4L415.2 42.6M388.1 263.1L392.2 266.2M383.1 50.2L380.6 51.6M594.7 141.3L598.4 140.8M525 126.7L528 121.2M508.7 26.2L515 15.3M515 243.7L510.9 241.6M460.7 212.5L452.4 220.8M557.5 174.7L554.5 177.7M464.1 119.3L466.8 117.4M620.5 111.3L622.7 108.4M575.7 201.7L572.5 207.3M561.4 219.7L563 215.4M499.9 17.8L500.5 11.5M583.9 80.4L584.4 81.3M439.3 102.6L437.7 98.7M400.8 79.3L399.8 76.4M438.7 155.1L442.4 155.4M392.4 93.2L404.5 99.5M384.7 121.9L382.5 121.2M523.3 214.9L518.6 220.1M466.1 179.8L467 180.6M511.3 49.7L515.2 55.2M468.5 50.3L460.8 52.5M432 58.2L425 52.1M587.7 81.6L589.5 81M566.9 58.4L563.8 65.3M588.7 243.1L590.4 246.1M519.6 67.6L511.3 74.7M550.5 62.1L546.4 64.8M526.4 214.6L525.8 209.7M482.6 148.2L478.2 148.9M578.1 230.4L572.8 223M429.2 124.8L433.1 127.2M419.8 193.4L416.8 190.5M463.8 188.1L468.1 189.7M480.8 252.6L479.9 256.9M583.3 262.8L587.6 266.4M535.7 10.9L540.4 8.8M537.6 63.8L535.1 60M390.4 194.5L388.3 197.9M429.3 200.5L430.6 203.9M517.3 14.7L515.1 19M585.3 234.4L583.8 238.2M466.2 54.9L471.5 55.3M497.4 112.2L495.8 107.7M466.3 50.4L466.7 47.4M435.2 264.6L433.1 267.4M377.1 209L377 204.2M607.7 75.9L609.8 72.2M516.4 195L514.9 193.5M507.1 53.2L505.9 58.3M548.8 234.6L549.7 231.9M522 188.3L509.3 184.3M606.9 108.6L604.1 105.2M476.6 48L474.2 44.9M517.4 174.5L514.1 176M428.3 95.8L424.5 93.7M604.4 171.6L615.9 177.2M475.6 62.1L477.7 65.8M480 226.1L482.1 222M580.5 206.3L582.7 208.9M563.1 82.3L561.1 82.9M454.4 48.5L455.7 44.3M554.3 9.4L551.8 6M493.3 251L495.6 250.3M556.9 25.3L561.2 25.6M574.7 30.6L570.5 32.9M514.6 132.2L519.6 133.2M585.3 115.8L583.6 118.7M534.1 123.5L533.5 124.8M607.2 122.9L608.2 126.6M613.7 197L614.1 201.6M401.3 230L412.5 237M394.3 28.4L398.9 29M404.6 186L398.3 190.3M394.3 205.8L396.7 206.1M546 198.2L550.7 195.7M439.9 218.6L441.2 216.1M548.5 93.3L561.2 95.2M619.6 256.2L615.3 255M450 262L452.1 260.7M435.8 19.5L431.7 17.2M461.4 230.6L465.4 233.6M508.2 233L508.3 224.6M454.3 91.3L453.2 87.4M554.3 162.3L557.5 158.7M453.5 225.2L457.8 225.8M482.9 124L486.5 124.6M603 170L605.2 169.9M501.4 181.2L505.9 182.3M591.3 10.7L594.9 9.6M514.2 100.2L513.7 102.5M503.3 49.5L507.1 53.2M436.2 112.7L437.7 116.1M480.2 133.9L480.3 138.7M540 85.4L541.8 81.3M526.7 63.4L524.1 65.9M489.4 134.2L491.2 131.8M414.2 13.4L409.9 15.2M539.3 226.6L537 227.6M537.5 108.3L538.2 112.1M624.6 44.5L625.6 48.8M590.4 272L587.2 270.5M584.4 76.9L588.8 74.5M472.1 236.3L465.4 236.4M575.7 201.7L569.7 201.5M424.8 158.1L427.3 162.2M469.7 185.1L470.1 183.9M424.5 93.7L423.3 89.3M511.6 240.1L508 240.3M541.4 87L540 85.4M469.3 94.7L475.3 99.7M620.1 134.9L616.5 131.7M406.5 119.7L405.1 114.4M477.6 210.8L481.1 213.3M477.1 140.5L473.8 137.4M414.4 66.5L419.7 64.9M518.2 41.8L514.4 45.1M545.7 126.4L547.6 128.3M607.4 252.6L606.1 256.7M518.8 49L514.9 45.8M606.9 37.2L610.9 39.4M445.7 69.1L450.7 69.4M411.1 148.4L408.4 146.2M563.7 155.5L559.8 157M506.6 43.1L510.5 44M600.4 144.2L598.7 148.1M455.4 65.3L452.2 62M458.3 230.7L453.4 227M608.5 73.1L605 72.8M461.4 200.2L458.1 199.4M476.2 35.5L478.2 30.6M409.4 150.5L404.8 148.9M619.4 60.7L612 62.2M551.5 135.8L555.1 137.5M463.2 236.9L459.2 233.9M541.1 143.9L542.8 142.1M566.2 207.6L570.6 209.4M561.2 25.6L564.5 20.1M458.9 22.3L458.7 19.3M612.9 43.6L615.9 46M481.6 130.4L486.9 135.7M516.9 95.8L520.9 97.1M453.8 206.3L450.5 208.1M607.1 98.2L603.4 94.9M415.7 213.5L418.7 214.3M546.4 229.8L550.3 227M583 226L585.5 223.5M550.5 83L551.8 80.3M576.6 194.9L577.6 199.5M508.4 128.1L509.8 131.8M521.2 109.3L516.7 110.5M451.3 255.9L451.8 255.8M483.7 180.9L493.6 180.9M593.6 193.8L593.5 189.3M445.7 186.6L441.6 179.6M603.7 178.3L602.2 174.2M468.7 171.8L468.9 176.2M389.8 189.1L394.2 187.2M571 167.4L572.2 170.3M467.3 166.9L465.2 165M402.6 50L398.8 46.7M579.6 116.5L583.3 117.2M385.1 186.3L386.2 182.3M562.8 30.4L560.1 34.8M500.5 260.1L503 263.6M452.6 246.9L452.9 241.7M466.6 256.9L462.3 255.2M382.9 154.2L384 149.2M470.4 17.7L472.2 15.3M504.6 126L508.4 128.1M462 221.8L466.9 222.9M510.3 208.9L508.4 210M559.1 12.9L561.9 11.6M470.7 72.4L474.7 70.5M510.1 237.3L513.3 235.2M462.9 174.5L458 174.1M524.5 113.9L530.3 117.2M519.7 171L520.4 169.6M508.6 20.3L503.9 22M409.3 246.5L404.6 246.6M439.4 21.4L437.9 17.6M491.1 152.4L492.5 152M392.2 269.2L394.9 258.6M479.4 120.4L482.1 123.8M603.6 264.1L605.9 266.8M424.2 137.5L426.7 136M583.6 118.7L581 116.7M610.9 34.5L603.1 26.1M498.5 69.1L496.7 64.8M389.6 35.8L387.7 38M431.7 140.5L429 137.8M418.7 46L419.8 41.3M600.3 272L598 271.4M572.2 187.4L565.3 184.2M587.1 251.7L585 252.5M521.2 64L518.3 66.7M475 117.6L476.7 127.9M398.3 190L398 194.5M545.7 126.4L545.8 124.4M556.7 187.9L559 194.8M545.9 245.9L546.7 247.3M437.6 223.6L431.7 226.6M391.1 209L394.3 205.8M583.9 54.4L579.8 53.3M602.4 18.1L611 25.9M572.1 113.1L567.7 113.6M413.2 56.4L415.2 57.9M423.3 167.4L417.7 167.6M489.5 41.6L495.5 36.5M501.2 164L503.2 159.2M593.6 129.4L592.4 131.5M480.1 74L477.5 75.2M612.8 72.3L614.6 69.1M554.5 177.7L549.9 177.5M537.7 71.6L536.5 71.8M413.3 215.2L408.4 215.1M459.7 229.3L458.4 225M540 85.4L541.4 87M479.1 252.5L480.8 252.6M598.8 236.2L602 235.3M470.5 207.9L471.7 204.8M599.1 136.1L596.7 134.6M558.7 79.4L562.4 77.8M626.4 97.4L627 100.8M391.2 265.8L394.9 262.5M578.8 163.5L574 161.4M429.7 225.5L425.9 228M474.3 210.9L470.5 207.9M400.4 172.5L404.7 169.7M464.4 204.8L463.4 207.3M578.8 101.2L573.2 101.4M402.8 265.5L405.6 264.4M587.9 131.5L589.4 129.7M617.1 85.7L613.3 87.4M564.7 80.7L562.4 77.8M404.8 29.6L407.1 32.3M605.4 216.3L609.4 216.9M541.5 125.1L538.5 127.6M582.3 214.6L580.1 212.1M580.5 67.6L577.7 64M455.7 44.3L460 43.4M450.5 159.4L448.3 172.1M530 75.5L530.3 71.4M513.3 98.5L516.9 95.8M542.8 241.7L546.5 239.3M388.4 62.2L383.4 59.9M531.8 261L529.8 257.3M526.6 59L526.7 63.4M454.3 252.8L457.2 254.8M386.4 98.3L381.8 96.6M532.9 43.4L539.7 43.4M583.9 58.9L586.8 62.6M614.1 163.9L614.1 160.7M389.6 46.3L390.9 45.1M598.7 66.7L596.8 64.3M455.7 168.3L455.4 163.7M428.7 205.2L432.6 204.5M494.5 147.6L491.8 154.9M561.1 198.6L563.4 202.1M425.8 39.5L424 40.8M545.2 192.9L542.6 189.9M383.4 59.9L387.4 58.7M534.6 26.2L537.7 22.6M384 78.4L382.8 80.5M543.5 62.6L542.8 62.6M474.1 231.7L473.8 228.5M418.8 199.8L414.1 199.5M517.2 214.5L514.5 211.4M561.4 129.7L563.4 128.5M616.5 201.5L614.6 198.4M426.2 201.9L429.3 200.5M444.4 26.6L441.1 29.3M535.9 108L538.2 112.1M513.9 208.7L514.5 211.4M476.6 184.2L472.4 186.1M405.3 143.6L407 141.1M421 122.6L420.3 119.2M558.1 267.1L557.6 262.3M577 143.3L577 138.3M582.8 179.9L579.4 183.9M493.5 65.3L490 62.8M545.2 204.4L548 206.1M577.9 154L582.7 156.1M514.5 11.3L517.3 14.7M526.6 185L523.5 185.2M386.9 85.9L389.9 82.5M473.3 166.2L470.3 169.2M590.5 121.9L594.7 121.7M474.2 44.9L476.3 40.8M566.2 134.4L563.6 138M495.9 48L495.8 51.3M614 86.9L618.1 85.5M574.4 243.6L577.7 244.7M613.9 17.3L615.7 17.3M383.1 196.7L380.6 200.3M447.2 210.7L445.5 215.1M411.6 111.6L408 105.7M396.2 159.8L394.7 158.9M546.6 57L544.3 48.1M464 143.1L463.4 145.5M588.1 240L591.6 237.7M505 45.5L506.6 43.1M522.5 91.5L510.7 93.5M471.3 153.4L473.4 154.3M520 182.1L519.7 178.8M449.5 200.4L450.7 197M546.7 247.3L548 251.7M382.2 193.5L383.1 196.7M460.4 78.1L460.8 82.2M518.2 219.3L513.3 219.3M504.6 126L508.8 125.2M404.2 178.7L400.2 177M413.3 215.2L411.7 216.1M490 41.4L492.2 41.4M536.2 213.8L541.5 212.9M444.1 45.3L443.6 48.1M574.5 239L576.7 243.3M422.9 210.3L426.8 210.5M472.6 125.8L466.6 127.1M435.7 161.6L435.7 165.6M529.3 118.6L533.3 128M521.3 268.6L516 262.3M615.7 214.1L614.4 214.3M573.3 142.1L571.2 144.2M405.3 143.6L409.9 145.2M522.3 268.5L524.3 255.2M380.7 25.1L385.1 28.6M387.3 41.7L390 37.5M408 100.9L408 105.7M612.2 125.1L616.7 119.4M555 150.6L557.3 148.9M531.1 193.2L535.2 191.3M441.2 203.8L447.7 199.4M415.6 10L417.4 11.3M467.9 90.8L469.3 94.7M464.4 116.3L462.2 113.8M608.2 126.6L604.5 127.8M619.8 18L621.2 14M529.4 251.7L528.5 256.5M568.6 47.9L569.9 51M456.2 57.3L459.4 60.6M478.4 116.2L479.4 120.4M388.1 254.7L388.5 258.9M615.9 46L617.6 49.9M544.5 263.3L548.9 260.8M608.4 32L612.4 33.8M498.3 79.8L497.9 80.1M377.2 140.5L377 144.6M532.6 91.9L532.5 96.4M467.5 265.7L469.7 263.5M528.2 167.8L530.9 171.2M389.2 144.4L392.5 143.1M622.6 220.1L618.1 220.4M437.8 189.3L435 189.6M579.2 100.6L576 101.4M424.6 44.3L425.8 39.5M509.1 73.4L515.3 77.5M511 249.2L513.3 253.1M439.8 80.4L444.7 81.9M577.3 32.3L576.8 29.2M586.8 62.6L585.1 66.9M603.5 57.3L606.2 53.4M550.2 206.3L545.7 203.5M476.9 18.5L478.2 30.6M471.2 267.3L473.9 263.7M430.9 173L430.9 177.2M390.2 141.9L391.2 137.7M388.8 237.9L386.9 239.2M392.6 224.4L395.4 222M542.2 23.3L541.9 24.9M423.5 80.3L430.6 79.7M510.9 241.6L510.1 237.3M547.1 210.8L549.2 209.7M572.2 178.4L573.5 170.5M622.6 220.1L621.7 223.6M573.7 99.7L569.5 101.1M554 83.5L543.5 86.5M489.4 143L493.6 144.8M473.4 160.8L473.3 166.2M402 254.4L401 250.1M567.2 31L568.1 26.8M430.3 183.9L434.7 186.2M541.7 13L542.2 9.6M508 15.5L509.2 17M549.2 209.7L552.6 213.1M585 252.5L584.2 257.7M429.3 266L427.6 261.9M540.5 31.4L536 30.6M571.1 185L580.7 189M424.5 38.2L424 40.8M384.7 214L384.8 212.1M395.9 209.6L392.7 212.7M611 18.4L608.1 15.5M616.1 262L625.6 252.3M611.8 79.8L612.5 79.3M458.7 19.3L462.4 18.8M575.9 63L577.7 64M611.7 122.1L604.2 111.5M403.3 228.9L404.7 230.9M443.6 220.6L444.4 224.1M458.1 199.4L461.4 200.2M548.3 36.7L550.9 32.9M558.5 253.5L561.8 251.1M595 131.9L596.7 134.6M383.6 215.1L384.7 214M491.8 221.8L486.9 223.1M521.3 101.1L517.7 103.8M431.9 13.5L437.3 19.7M577.2 261.8L574.9 264.3M554.3 9.4L557.5 10.2M562.4 210.6L566.2 207.6M581.6 108.8L581.9 104.9M461.3 186L462.6 181.7M547.2 35.4L556.1 35.6M485.6 233.7L482.9 232M388.6 11.8L392.5 11.3M457.8 169.7L458 174.1M432.3 249.5L432.5 242.1M619.6 104.8L616.7 104.6M579.3 250.6L576.1 249.6M609.2 195.6L613.7 197M438.7 239.8L438.3 244.3M535.9 246.4L533.1 248.2M548 251.7L544.5 254.9M530.9 171.2L535 171.9M537.2 223.1L539.3 226.6M443.5 15L438.7 14.4M545.8 165.1L546.5 162.2M518.4 251.1L518.6 254.9M562.8 86.4L558.2 87.5M460.5 74.2L464.6 74.8M422.1 25.9L409 21.5M615.4 154.9L618.4 157.6M583.1 242.3L579.5 245.2M571.7 149L574.9 147.3M407.7 48.8L406.2 46.6M620.2 73.1L624 75.6M571.9 224.6L574.3 220.2M522.8 11.3L528.6 11.2M593.4 257.4L598.4 256.8M540 69.2L541.9 65.1M577.3 251.4L575.9 255.7M577.6 154.2L577.9 154M483.4 141.8L485.2 144.6M400.2 177L400.4 172.5M390.3 49.3L386.7 51.2M589.4 129.7L587.9 125.9M612.9 43.6L615 45.3M488.1 137.8L484.9 140.5M481.9 98.4L479.8 102.2M616.9 195.8L621.3 196.3M577 138.3L580.8 136.3M397.1 82.1L395.5 79.5M511.2 123.1L511.2 120.5M593.8 83.8L594.4 86.7M591.3 166.8L595.6 162.1M408.5 248.3L409.5 252.7M611 125.9L610.8 122.6M614.6 258.4L604.9 249.9M381.8 200.4L383.2 205.2M542.1 223.9L544.8 224.8M615.3 255L618.2 258.1M410.6 105.3L414.9 109.1M529.6 131.7L529.9 128.2M377 98.8L379.2 96.5M388.1 263.1L385.1 261.4M537.4 102.1L539.6 105.8M400.6 177.9L407.7 187.2M423.7 64.6L422.7 59.9M509.1 75.2L506.8 71.9M444.8 134.3L440.6 132.2M609.5 184.1L617 184.2M512.2 207.8L514.9 203.5M524.1 6.8L528.8 6.9M415.7 256.8L414.1 252.4M614.2 23.4L618.3 23.3M423.2 150.1L419.1 158M439.3 102.6L435.7 102.2M605.2 85.2L601.5 88.1M441 122.8L438 127.3M417.9 228L414.2 227.9M514.9 203.5L519.9 202.8M390.9 45.1L390.3 49.3M553.2 234.8L555.4 237.9M537.6 42.6L540.4 41.2M388.3 147.8L387.1 151.4M477.5 75.2L480.1 74M560.3 53.2L558.2 56.8M415 163L412.7 163.6M574.4 247.5L576.1 249.6M437.6 223.6L436.8 220.1M556.9 122.5L560.8 122.9M390.2 59.4L386.7 57.4M507.1 193.4L507.1 194.7M496.9 61.5L496.9 64.7M482.1 245.3L481.7 242.1M472.5 138.8L474.2 147.4M517.4 174.5L519.7 178.8M625.9 103.6L627 107.2M476.7 219.7L473.2 217.2M457.5 259.7L455 262.6M410.1 81.6L406.7 81.6M395.8 75L397.6 73.1M598.4 140.8L600.4 144.2M435.6 71L432.8 71.9M461.9 35.5L460.2 31.8M543.5 62.6L541.9 65.1M438.7 14.4L439.5 15.1M611.5 105.9L610.6 107M464.4 189.2L463.8 188.1M612.4 147.6L607.8 147.3M596.9 174.4L594.3 173.6M442.5 9.6L445.4 12.6M564.3 217.4L560 227.3M409.3 20.8L409.7 18M425.9 77.2L427.6 73.3M581 78.4L578.7 79.5M414.5 243.4L413.1 242.7M441.5 206.9L440.4 208.5M583.6 135.8L583.3 131.4M498.9 254L499.9 258.3M601.3 102.1L589.9 100.7M466.4 213.3L463.1 209.8M592.5 187.5L594.9 187.7M520.9 97.1L519.2 95.3M448.3 16.7L450.5 20.3M562.8 72.3L567.6 69.1M532.3 216.8L533 213.4M542.5 198L545.8 200M533.9 101.9L537.4 102.1M503.2 166.5L508 165.6M614.1 201.6L618.4 202.9M460.4 160.8L459.3 164.9M395.5 126.5L396 122.6M615.7 17.3L619.8 18M548.8 240.5L549.9 240.2M574.9 147.3L577.8 150M387 229.3L384.5 226.5M408.1 216.6L408.9 206.4M471.4 121L471.1 124M427.5 48.1L428.8 46.1M452.2 113.9L446.3 101.5M502.4 246.8L500.3 250M380.5 91.4L385.1 93.1M457.8 189.2L462.3 191.7M422.2 101.9L425.5 100M446.9 52.2L454.6 46.5M521.5 124L525 126.7M503 69.9L498.5 69.1M561.8 215.2L557.2 213.7M413.6 220.3L412 225.8M383.2 264.4L388.1 263.1M436.1 83.2L432.9 80.4M417.2 233.3L417.6 229.9M455.7 16.3L458.7 19.3M549.4 23.9L546 26.6M447.3 250.4L452 250.6M436.4 130.8L438.6 131.8M576.5 236.9L575.9 250.4M463.1 121.2L456.2 126.1M574.4 243.6L574 247.3M592.4 186.3L588.7 182.8M476.9 18.5L472.7 19.3M429.5 35L432.3 35.6M452.4 135.6L463.6 139.4M574.6 258L572.4 247.4M552.6 213.1L553.9 217.6M536.9 255.3L538.5 254.8M569.4 149.3L567 138.1M536.9 255.3L539.7 253.5M587.6 215.5L592.2 218.1M485.4 153.4L486.1 156.3M424 40.8L419.8 41.3M615.5 12.2L613.9 13.2M526.3 155.8L525.8 146.7M514.1 176L513.1 173.9M592.2 216L595.6 213M470.3 169.2L467.3 166.9M581.6 108.8L584.3 110.8M563.4 202.1L567.7 201.2M603.2 151L609.3 161.2M412.4 165.4L417.8 167.8M411 42.1L411 45.4M618.4 157.6L615.4 154.9M591.2 262L593.4 257.4M451.1 73.8L446 73.5M561.9 11.6L565.4 15.1M614.3 76.8L615.4 73.7M563.8 46.5L568.6 47.9M411.7 63L413.3 66.7M433.4 26.9L429.7 23.9M509.3 198.4L507.1 194.7M515.7 41L518.2 41.8M513.5 73.9L517.7 73.8M579.1 93.2L580.7 96.5M542.2 266.6L543.8 267.9M402 217.5L396.9 217.6M391.8 254.7L400.3 264.7M589.5 174.5L585.6 173.1M446.3 145.8L438.4 146.8M450.7 197L453.5 198.1M464 221.2L465.3 220.2M504.9 179.7L501.4 181.2M565.3 176.7L564.3 171.9M500.4 17L505.1 15.4M546 108.4L546 110.8M492.5 152L496.1 151.3M554.6 60L550.5 62.1M457.7 259.7L455 262.6M617.8 127.7L614.5 128.4M408.8 171.4L408.5 175.9M431.1 193.3L431.9 196.8M387.3 253L383.6 252.4M441.2 216.1L439.9 218.6M559.4 48.9L560.3 53.2M470.2 246.5L473.7 245.8M493.2 79.6L490.4 82.5M443.6 48.1L445.8 51.5M533.5 124.8L534.1 123.5M437.9 203L441.8 202.7M407.2 70L408.7 75.8M405.2 195.4L407.2 191.6M397.2 96.4L401.7 94.1M450.2 270.1L448.1 271.5M605.2 169.9L606.7 174.1M420 98.1L424 110.5M601 20.5L597.4 19.5M423.3 89.3L426 87.1M584.2 121.9L581.3 125.9M474.6 232.5L474.1 231.7M464.7 169.6L469.5 173M500.6 231.1L497.2 227.8M436.8 220.1L439.9 218.6M408.3 257.6L404.4 251M489.1 100.7L486.9 96.8M569.3 127.8L572.1 124.2M536.9 92.3L534.1 88.2M583.6 118.7L583.3 117.2M387.9 43L390.9 45.1M393 202.5L391.8 199.9M497.4 186.4L493 184M391.1 269.3L392.2 266.2M521.3 144L525.6 143.6M467 180.6L470.1 183.9M381.8 228.7L381 218.3M385.6 244.9L386.5 241M436.8 220.1L436.2 221.1M395.8 75L393.4 70.9M446.9 172.9L448.1 175M458.2 62.6L459 64.6M435.5 247.7L433.1 246.6M619.6 79.6L611.9 78.9M388.2 129.8L386.5 130.1M481.4 136.8L480.3 138.7M604.5 127.8L599.8 125.4M436.3 238.7L438.7 239.8M525.2 110.7L525.6 110.8M602.3 196.9L600.8 195.2M484.9 175.4L486.6 178.1M617 175.9L618.4 180.3M563 215.4L562.4 210.6M618.1 85.5L621.7 88.3M500 184.4L497.4 186.4M587.5 226L582.9 223.4M520.8 250.8L525.5 248.8M498 154.6L496.3 158.6M386.4 260.1L388.6 267M523.4 91.7L525.2 94.8M404.8 29.6L399.8 27.5M563.4 128.5L566.1 129.7M423.2 28.5L427.8 27.2M489.9 19.9L501.1 26.2M391.1 183.9L387.6 187.1M529.1 146.2L538.1 136.4M404.8 148.9L402.7 145.4M388.1 263.1L388.4 260.5M558.7 79.4L563.1 82.3M590.1 14.8L591.3 10.7M522.8 11.3L522 14.2M541.5 212.9L544.9 216.6M406.7 199L405.2 195.4M377 226.6L380.8 225M520.3 115.1L516.8 113.1M432.8 155.8L433.9 159M524.3 191.8L529.6 195.7M589.3 268.1L580.2 272M590.4 151.7L594.3 148.7M566.1 129.7L571 132.1M465.3 220.2L464 221.2M466.2 54.9L464.8 52.1M388.3 197.9L384.8 197.2M482.9 262.6L487.4 260.5M444.5 60.8L444.7 64.6M490.3 53.2L488.8 53.2M604.9 34.1L608.4 32M501.4 181.2L504.9 179.7M537.3 213.6L536.2 213.8M432.3 194.8L422.3 195.5M420.4 134.5L416.9 133.6M527.4 144.1L528.6 147.9M544.2 44.1L547 42.7M617.8 27.8L617.9 19.3M392.2 166.4L387.3 166.7M458.2 96.8L465.6 96.3M511.1 162.1L499 166M449.2 132.3L452.7 134M481.2 47L476.6 48M519.7 171L517.4 174.5M468.1 140.5L469.5 136.5M478.8 233L474.1 231.7M444.5 18.6L450.6 14.2M455.8 230.5L452.5 227.6M384.8 197.2L383.4 193.3M581 78.4L584.4 81.3M617.1 44.7L615.9 46M558 64.6L554.2 62.9M611.2 197.7L601.7 198.1M547 115.7L545.9 113.7M617.8 189.8L615.1 192.6M481.5 236.9L478.2 236.3M604.1 172L601.6 169.2M577.8 150L577.6 154.2M455 202.8L459.7 201.5M472.7 19.3L470.4 17.7M438 81.6L435.8 79M583.6 135.8L580.8 136.3M531 210.8L534.6 211.8M504.6 75.1L497.1 70.4M592.4 131.5L593.6 129.4M377.1 200.7L377 197.6M442.6 64.6L440.4 60.8M464.8 35.6L461.9 35.5M527.2 233.3L528.1 231.7M381.6 153.5L377 152.2M606.1 256.7L610.5 257.8M438.7 14.4L435.8 11.5M588.9 271.5L582.3 268.5M435.1 251.6L432.6 248M624.7 101.3L621.7 98.5M417.1 248.9L421.7 249.9M505.4 74.9L507.6 78.6M472.4 139.8L470.9 143.8M467.3 166.9L467.3 161.5M482.5 29.9L484.7 34M485.3 209L483.8 210.2M415.2 232.4L408 231.6M511.2 120.5L515.6 118.4M444.6 162.6L448.1 159.6M597.1 187.8L600.8 190.7M588.4 265.9L591 269.7M405.2 123.6L406.6 120.3M509.2 17L508 15.5M560.4 258.8L562.1 259.9M534.9 251.6L536.9 255.3M550.6 141.3L549.9 145.3M467.6 254.3L470.4 257.2M400 34.9L401.2 30.9M587.9 51.5L599.4 44.9M455.2 165.5L452.2 162.1M472.3 62.8L475.6 62.1M528.9 205.9L527.4 209.9M443.6 116.9L442.4 116.4M527.2 50.5L526.1 47.1M513.7 223L509.6 225.6M501.5 244.7L505.8 245.9M457.2 240.7L449.9 240.6M602.8 89.4L613.4 86.4M586.4 64.8L580.2 65.1M538.5 254.8L541.7 252.7M395.9 209.6L395.7 211.4M398.8 14.2L395.4 6M458.6 182.2L456.1 172.3M415 168.8L410 167.8M621.1 161.1L625.7 158.5M506.6 175.1L507.8 178.7M412.7 124.1L414.9 119.7M388.3 147.8L391.7 151.4M552.9 221.6L562.1 225.4M538.7 82.9L541.4 87M395.3 57.4L397.2 60.5M603.6 264.1L602.7 259.5M419 235.9L421 239.4M380.6 200.3L377.1 200.7M390.7 156.4L388.7 153.6M430.8 240.9L434.1 244.2M582.7 156.1L583.1 160.9M616.5 131.7L616.6 129.4M587.9 37.3L589 44.3M504.9 265.3L503 263.6M544.5 254.9L539.7 253.5M416.9 133.6L419.8 134.8M401.2 30.9L404.8 29.6M465.2 165L464.7 169.6M608.5 73.1L609.8 72.2M605.2 85.2L609.2 85M554.7 140.3L550.6 141.3M501.2 164L503.2 166.5M454.3 122.8L451.6 120.9M408 101.1L416.9 106.3M621.2 14L616.9 14M440.7 225.2L453.1 227.8M447.2 30.1L443.9 33.4M577.7 73.3L578.6 70.5M518.8 248.5L517.9 243.3M437.9 94.9L443.3 89.8M490.7 263L495.8 260.7M569 64.9L572.6 61.7M478.8 161.9L477.8 158.4M384.6 53.7L385.9 52.1M473.4 154.3L471.9 157.2M466.6 256.9L470.4 257.2M390.6 20.7L400.4 20.5M615 45.3L610.1 43.6M596.7 134.6L595 131.9M596.8 187.1L592.4 186.3M606.1 22.1L605.9 26.4M549.2 38.7L546.6 42.6M407.8 93.9L414.4 98.1M595.9 155.8L606.5 147.8M591.2 38L588.1 44.3M609.5 39.7L605.5 37.9M463.2 13.2L466.2 10.3M395.3 250.8L397.7 249.4M430.9 30.5L429.5 35M536.7 29.5L538.7 16.6M381.5 172.3L384.6 173.4M485.4 183.3L482.6 185.8M598.8 91.8L595.5 94.5M385.1 93.1L388.3 90.1M437.7 116.1L437.6 116.6M479.8 102.2L476.5 102.9M559.9 59.2L565.4 57.9M411.3 250.1L410.5 250.9M532.4 172.9L537 171.4M580 111.8L574.8 109.4M609.9 232.3L610.8 233.8M474.7 259.5L473.6 255.3M378.9 133.6L382.5 133.2M480.4 204L476.5 191.4M603 39.1L606.9 37.2M377 58.6L380.5 57.5M430.9 138.8L432.7 143M619.2 64.4L614.4 65.3M469.7 185.1L471.2 182.2M471.2 251.3L467.7 252.1M463.3 89.7L467.9 90.8M544.6 96.7L556.9 91.6M481.3 157.2L483.6 156.1M533.1 121.3L533.5 124.8M614.1 109.3L616.6 108.9M504.3 225.5L504.2 229.9M557.1 208.2L561.7 209.8M460.5 74.2L457.2 72M622.7 40.3L624 48.4M380.8 225L381.1 221.4M445.4 206.6L441.5 206.9M429.3 164.7L432.8 167.2M444.5 17.1L448.3 16.7M568.1 26.8L572.4 24.5M401.8 109.7L405.8 111.5M547.4 246.3L540.1 254.1M593.8 83.8L599.6 83.7M519.2 95.3L517.3 92.2M486.8 81.3L485.9 77.2M415.2 191.5L419.9 191.7M475.2 149.6L478.5 147.8M593.1 70L595.1 66.3M468.1 261.8L466.6 256.9M574.5 228.9L573.6 226.6M540.4 41.2L543.3 45M453.2 87.4L454.7 84M568.4 116L565.1 119.3M549.1 111.7L545.9 113.7M500.8 59.7L499.6 61.4M554.1 80.5L555.4 81.8M386.7 57.4L383.4 59.9M565.2 65.5L562.9 65.2M586.8 62.6L586.4 64.8M503.8 252.1L506.2 248.7M589.3 33.6L587.2 29.7M466.8 25.8L453.1 25.7M508.6 20.3L509.4 25.2M387.6 187.1L385.1 186.3M615.2 152.2L613.9 153.8M487.4 191.8L484.4 195.3M595.1 66.3L598.7 66.7M481.3 232L485.6 233.7M509.5 98.8L514.2 100.2M605.2 169.9L604.1 172M500 184.4L505.4 187.3M599.8 26L599.5 27.5M614.6 198.4L616.9 195.8M484.6 205.6L485.3 209M393.1 103.4L390.8 99.8M442.7 103L439.3 102.6M537 171.4L540.3 173.2M587 15.8L590.1 14.8M453.5 198.1L455 202.8M576.8 270.7L575.4 266.5M478.8 240.1L475.8 240.1M609.2 209.7L613.5 210.3M483.2 231L481.5 236.9M566.4 39.1L564.6 36.3M405.6 264.4L402.9 263M410.6 116.9L411.8 113.6M530.9 171.2L528.3 173.9M389.7 83.2L386 84.5M583.8 238.2L579.1 238.2M396 122.6L391.8 121.3M442.6 73.6L444.9 76.2M596.8 64.3L594.2 59.7M558.2 87.5L553.8 84.5M529.1 241.4L532 239.6M392.7 212.7L390.3 212.4M410.7 191.4L412.2 195M426.7 136L430.9 138.8M525.6 67.5L523.4 72.6M589.4 129.7L587.9 131.5M552.6 213.1L554.8 210.2M410 167.8L408.8 165.2M402.8 227.5L402.9 223.6M416.1 39.2L412.1 39.6M442 158.7L438 151.1M430.2 144.5L425.9 141.7M600 170.3L603.8 165.2M435.7 102.2L434.7 107.1M534.6 123L521.3 126.4M438.3 14.2L433.6 18.9M627 159.9L627 163.7M483.4 164.1L478.8 161.9M457.1 225.5L453.3 225.3M500.9 222.2L504.3 225.5M542.8 142.1L540 138.5M460.2 31.8L461.5 28.2M447 263.4L442.8 264.8M403.2 127.4L390.8 126M481.6 267.1L482.9 262.6M488.2 81.5L482.1 69.8M485.9 77.2L484.6 76.8M596 218.1L592.6 221.1M398.4 266.4L394.7 269.6M420.5 137.3L424.2 137.5M547.1 143.8L549.7 147.3M614.4 214.3L610.4 218M565.4 57.9L567.8 58.2M388.3 31L389.6 35.8M517.6 37.5L520.3 35.5M575.7 26.4L574.7 30.6M394.4 70.5L396.5 66.9M576.1 238.4L572.4 238.9M430.9 63.9L432.1 63.2M482 177.9L484.9 175.4M594.9 9.6L597.4 12.6M413 137.4L412.3 134.9M396 122.6L399.4 121.8M406.7 81.6L405.7 85.7M389.6 46.3L387.3 41.7M502.8 120.1L505.2 118.1M566.8 30L567.2 31M415.7 100.9L415.2 97M388.1 96.6L394.6 99M623.9 251.6L623.9 254.5M399.3 71.6L397.2 75.1M419.8 193.4L419.9 191.7M482.1 123.8L480 128.2M395.5 79.5L395.8 75M536.9 255.3L535.4 260M522.9 104.5L521.2 109.3M452.9 212.5L448 211.8M385.1 227.6L384.9 231.8M581.9 104.9L581.6 108.8M410 230.6L406.7 238.7M421.7 249.9L423.2 254.3M382.2 173.6L384.6 173.4M481.3 228.8L481.3 232M605.5 37.9L604.9 34.1M602.6 29L599.5 27.5M434.6 76.5L432.9 80.4M622.2 51.5L617.9 49.9M402.5 255.9L406.3 255.7M403.6 23.8L407.6 22.5M444.1 54.1L442.2 57.1M465.3 220.2L461.9 222.8M487 150.6L486.1 146M544.3 11.8L543.6 16.8M577.5 258L580.7 256M545.7 203.5L546 198.2M387.3 166.7L391.3 161.3M424.8 20.6L420.4 21.8M602.2 174.2L597.4 174.3M498 218.6L495.8 218.7M602.6 171.1L601.6 169.2M544.3 11.8L541.7 13M402.5 255.9L405.2 257.3M593.2 246.8L604.2 252.4M545.2 48.3L542.4 49.7M466.6 24.2L462.9 24.8M566.7 112.8L567.7 113.6M520.2 100.9L522.9 104.5M415.6 10L414.2 13.4M513.3 253.1L510.9 256.5M468.9 176.2L466.1 179.8M414.9 109.1L418.3 108.6M532.7 105.3L533.9 101.9M611.4 173.5L613.5 172.5M545.2 192.9L542.5 198M475.6 255.2L478.7 251.8M390.1 63.4L391.8 58.8M458.9 101.6L455.7 104.2M504.8 234.4L508.4 234.3M581 44.1L580.8 45.8M392.2 179.9L391.1 183.9M539.8 213.3L534.6 211.8M612.1 124.9L607.6 130.5M509.8 131.8L507.5 133.4M464.1 215.2L465.3 220.2M429.2 44.7L431.1 54.4M452.6 58L456.2 57.3M506.3 67.1L505.8 66.5M392.3 145.1L388.3 147.8M492.5 47.3L495.9 48M412.7 163.6L415 163M601 173.2L596.9 174.4M521.8 131.1L518.3 128.3M430.5 38L429.3 42.9M538 210.2L537.3 213.6M605.4 216.3L606.2 218.7M510.4 80.7L505.6 72.1M377.6 73.9L381.4 75.1M443.2 75.8L451.3 67.8M441.5 41.9L442.9 38.5M418.9 167.2L415 168.8M511.1 201.3L509.3 198.4M613.5 210.3L615.5 207.1M495.5 132.4L497.9 135.4M479.7 150L482.2 150.2M461.6 96.4L460.1 92.5M481.3 228.8L478.7 234.1M435.8 79L438.1 75M581 116.7L580 111.8M386.2 182.3L389.7 179.1M508 240.3L504.6 237.4M383.1 108.6L379.7 110.7M437.9 17.6L440 14.1M405.1 45L408.4 52.6M545.8 200L545.2 204.4M398.4 266.4L399.8 268.5M456.5 144.6L456.6 134.1M425.1 132.9L433.1 132.8M526.2 241.4L527.1 246.5M393.5 34.6L391.6 31.2M452.4 123.4L456 127M559.8 169.8L563.1 181.4M510.9 256.5L509.3 260.1M563.6 138L566.7 137.8M410.6 25.1L409.5 29M528.9 155.9L530.9 159M471.3 225.9L466.9 224.9M541.2 20.4L544.7 17.7M380 262L377.4 272M411.3 142.2L402.4 137.2M571 156.9L571.4 153.2M609.8 165.7L608.2 170.2M438.4 54.7L445.7 63.9M409.9 15.2L412 17.1M427.8 97.9L435.3 97.2M524.3 191.8L521.4 195.3M567.6 62L565.2 65.5M378 199.9L380.6 200.3M609.3 88.2L601 99.3M448.9 70.6L453.4 71.7M521.6 108.7L525.2 110.7M448.1 271.5L447 268M377 147.5L377 142.4M457.5 118.9L459.3 114.4M469.2 43.9L466.7 47.4M571 156.9L570.5 160.7M574.8 117.6L574.5 122.2M461 228.7L464.1 229.1M562.9 239.5L565.4 242.7M398.7 11L406.5 8M441.8 202.7L445.6 204.4M445 18.2L444.5 17.1M462.9 24.8L458.9 22.3M453.6 196.9L453.4 191.8M384.2 117L382.5 121.2M388.1 254.7L387.3 253M518.1 23.7L519.3 27.3M484.1 165.6L490.8 167.9M380.1 105.5L377 103.3M471.5 55.3L473.8 60.1M450.7 197L447.6 197.1M465 122L460.4 122.8M497.1 183.6L501.4 181.2M388.4 249.1L392.1 249.7M592.4 171.3L589.5 174.5M382.5 133.2L383.4 133.1M540.6 264.4L543.6 260.4M581.9 244.1L583.1 242.3M510.9 125.5L511.2 120.5M498.3 6.2L503.3 6.7M580.6 32L577.3 32.3M514.1 19.7L512 29.5M593.5 189.3L593.8 190.6M410.3 52.9L413.6 57.1M448.8 240.3L448.8 231.6M433.5 99.8L435.7 102.2M621.2 147.8L621.3 150.5M459.7 201.5L455 202.8M521.3 144L517.2 141.3M434.7 107.1L431.6 109.4M603.1 20.6L606.1 22.1M569 64.9L567.6 62M561.5 223.6L565.1 228.5M443.6 48.1L444.1 45.3M479.2 91.4L476 88.6M433.7 245.4L437.3 246.4M443.1 174.1L446.9 172.9M419.8 41.3L416.1 39.2M513.7 67.4L509.1 66.2M515.3 8.3L519.5 8.3M503 263.6L502 266.9M503 263.6L504.9 265.3M596.4 82.7L600.1 79.7M605.2 251.4L607.4 252.6M562.2 86.2L562.2 89.5M437.8 146.7L433.4 148.2M418.7 46L417.3 41.9M394.2 21.2L398.1 23.2M488.9 126.6L485.4 126.2M524.6 136.9L525 126.2M543.6 16.8L544.7 17.7M520.1 216.9L518.2 219.3M485.9 193.9L484.4 195.3M541.9 65.1L540 69.2M574.9 147.3L580.8 146.3M505.2 108.7L502.1 112.7M462.6 253.4L467.6 254.3M463 46.6L465.7 40.2M565.5 109.6L560.2 120.2M465.2 36.5L468 36.5M604.7 69L598.5 68.3M455.6 268.5L454.2 263.4M489 49.9L492.5 47.3M569.6 44.8L573.3 46.2M472.4 51.3L471.9 54.3M404.5 25.9L399.8 27.5M537.8 271.1L536.5 272M515.4 170.4L518.7 168.9M484.8 227.3L481.3 228.8M595 131.9L594.6 135.8M459.3 164.9L456.7 163.9M514.6 132.2L513.1 126.9M565.3 175.6L556.2 170.2M440.6 46.1L436.7 48.5M515.7 41L520.3 39.3M419.5 252.6L423.2 254.3M616.6 104.6L619.6 104.8M581.8 227.5L571.8 236.7M445.7 55.1L455.6 63.5M418.7 214.3L417.6 217.7M529.8 257.3L528.5 256.5M561.1 82.9L564.7 80.7M546.8 95.6L535.8 99.9M478.2 148.9L476.4 146.1M618.3 215.7L619.5 212.4M566.9 87.2L562.2 86.2M504.1 161.2L495.1 156.3M508.5 155.9L512.6 167.8M588.8 141L582.9 134.6M558.4 199.2L561.1 198.6M490.7 263L489.4 267.6M577 76.2L571.9 67M544.5 254.9L541.7 252.7M619.8 204.8L624.5 193.4M442.9 21L444.5 17.1M585.3 264.4L588.4 265.9M527.4 144.1L524.9 140.5M454.2 263.4L457.7 259.7M490.3 53.2L491.5 56.7M610.6 109L606.9 108.6M500 184.4L497.1 183.6M395.1 37.7L397.5 42.3M443.9 33.4L440.9 33.3M597.9 243.7L596.7 240.4M561.8 113L566.7 112.8M397.1 110.9L399 111.5M391.8 199.9L388.3 197.9M478.5 147.8L479.5 150.3M573.3 46.2L576.4 50.4M406.6 13.1L409.8 14.1M497.9 80.1L499.3 84.3M397.1 211.6L397.8 222.7M503.6 238.8L507.8 238.5M562.8 247.3L561.8 251.1M496.9 64.7L496.7 64.8M396.3 24.6L398.1 23.2M424.8 20.6L426.7 25.3M386 16.4L385.4 14.3M525.2 94.8L524.3 91.4M569.4 81.8L570.5 85.1M585.5 223.5L587.5 226M427.7 161.7L429.7 157.2M535 83.5L538.7 82.9M588.7 243.1L583.5 246.4M392.5 143.1L393.1 146M504.9 179.7L500.8 177.1M407.2 70L405 73.6M484.8 81.5L481.5 84.6M492.1 93L494.3 97M506.1 215.5L506.4 212.3M550.9 32.9L554.5 31.2M437.4 206.6L437.8 205.1M476.8 204.8L480.6 207.8M412.1 248.5L403.9 252.1M510.5 69.1L511 73.8M619.5 114.5L615.5 112.2M561.5 223.6L561.5 227.5M569.7 238.7L572.4 238.9M453.5 11.1L456.9 9.9M429.1 52.5L427.5 48.1" stroke="#e8e820" stroke-width="1.6" fill="none" stroke-linecap="round"/>
</g>
<circle cx="92.3" cy="21.9" r="4.8" fill="url(#gO)"/>
<circle cx="90.8" cy="20" r="4.3" fill="url(#gC)"/>
<circle cx="88.4" cy="15.6" r="4.8" fill="url(#gO)"/>
<circle cx="86.6" cy="6.6" r="4.3" fill="url(#gC)"/>
<circle cx="80.9" cy="14.4" r="4.8" fill="url(#gO)"/>
<circle cx="78.3" cy="21.1" r="4.3" fill="url(#gC)"/>
<circle cx="77" cy="26.9" r="4.8" fill="url(#gO)"/>
<circle cx="110.3" cy="12.5" r="4.8" fill="url(#gO)"/>
<circle cx="116.6" cy="11.7" r="4.3" fill="url(#gC)"/>
<circle cx="123.3" cy="11.3" r="4.8" fill="url(#gO)"/>
<circle cx="93.4" cy="44.1" r="4.8" fill="url(#gO)"/>
<circle cx="91.1" cy="51.1" r="4.3" fill="url(#gC)"/>
<circle cx="88.8" cy="58.1" r="4.8" fill="url(#gO)"/>
<circle cx="95.5" cy="71.1" r="4.8" fill="url(#gO)"/>
<circle cx="93.9" cy="72.2" r="4.3" fill="url(#gC)"/>
<circle cx="90" cy="74.7" r="4.8" fill="url(#gO)"/>
<circle cx="155.9" cy="69.5" r="4.8" fill="url(#gO)"/>
<circle cx="152.8" cy="76.3" r="4.3" fill="url(#gC)"/>
<circle cx="149.4" cy="82" r="4.8" fill="url(#gO)"/>
<circle cx="217.5" cy="11.7" r="4.8" fill="url(#gO)"/>
<circle cx="234.4" cy="26.9" r="4.8" fill="url(#gO)"/>
<circle cx="229.7" cy="31.3" r="4.3" fill="url(#gC)"/>
<circle cx="225.8" cy="35.2" r="4.8" fill="url(#gO)"/>
<circle cx="318.3" cy="5.5" r="4.3" fill="url(#gC)"/>
<circle cx="313.6" cy="10.6" r="4.8" fill="url(#gO)"/>
<circle cx="330.9" cy="57.8" r="4.8" fill="url(#gO)"/>
<circle cx="326.6" cy="63.3" r="4.3" fill="url(#gC)"/>
<circle cx="322.2" cy="69.5" r="4.8" fill="url(#gO)"/>
<circle cx="326.3" cy="70" r="4.8" fill="url(#gO)"/>
<circle cx="330.5" cy="73.1" r="4.3" fill="url(#gC)"/>
<circle cx="333.1" cy="75" r="4.8" fill="url(#gO)"/>
<circle cx="261.2" cy="87.8" r="4.8" fill="url(#gO)"/>
<circle cx="267.2" cy="87.5" r="4.3" fill="url(#gC)"/>
<circle cx="273.4" cy="87.2" r="4.8" fill="url(#gO)"/>
<circle cx="282.8" cy="80.9" r="4.8" fill="url(#gO)"/>
<circle cx="286.7" cy="86.2" r="4.3" fill="url(#gC)"/>
<circle cx="289.4" cy="91.4" r="4.8" fill="url(#gO)"/>
<circle cx="227.8" cy="92.5" r="4.8" fill="url(#gO)"/>
<circle cx="230.5" cy="99.1" r="4.3" fill="url(#gC)"/>
<circle cx="232.8" cy="105.6" r="4.8" fill="url(#gO)"/>
<circle cx="338.3" cy="93.8" r="4.8" fill="url(#gO)"/>
<circle cx="335.9" cy="99.4" r="4.3" fill="url(#gC)"/>
<circle cx="332.8" cy="105.6" r="4.8" fill="url(#gO)"/>
<circle cx="370" cy="7.8" r="4.8" fill="url(#gO)"/>
<circle cx="352.8" cy="32" r="4.8" fill="url(#gO)"/>
<circle cx="359.7" cy="32" r="4.3" fill="url(#gC)"/>
<circle cx="364.4" cy="36.7" r="4.8" fill="url(#gO)"/>
<circle cx="375" cy="22.7" r="4.8" fill="url(#gO)"/>
<circle cx="369.5" cy="24.2" r="4.8" fill="url(#gO)"/>
<circle cx="368" cy="30.5" r="4.3" fill="url(#gC)"/>
<circle cx="356.2" cy="41" r="4.8" fill="url(#gO)"/>
<circle cx="359.4" cy="47.7" r="4.3" fill="url(#gC)"/>
<circle cx="362.5" cy="53.9" r="4.8" fill="url(#gO)"/>
<circle cx="376.6" cy="48.4" r="4.8" fill="url(#gO)"/>
<circle cx="373.4" cy="52.3" r="4.3" fill="url(#gC)"/>
<circle cx="371.9" cy="54.7" r="4.8" fill="url(#gO)"/>
<circle cx="373.8" cy="61.7" r="4.8" fill="url(#gO)"/>
<circle cx="371.9" cy="64.8" r="4.3" fill="url(#gC)"/>
<circle cx="354.7" cy="70.3" r="4.8" fill="url(#gO)"/>
<circle cx="358.1" cy="76.6" r="4.3" fill="url(#gC)"/>
<circle cx="360.9" cy="81.2" r="4.8" fill="url(#gO)"/>
<circle cx="366.4" cy="69.5" r="4.8" fill="url(#gO)"/>
<circle cx="372.2" cy="72.2" r="4.3" fill="url(#gC)"/>
<circle cx="378.1" cy="76.6" r="4.8" fill="url(#gO)"/>
<circle cx="368" cy="89" r="4.8" fill="url(#gO)"/>
<circle cx="375" cy="90.6" r="4.8" fill="url(#gO)"/>
<circle cx="381.2" cy="92.2" r="4.3" fill="url(#gC)"/>
<circle cx="386.7" cy="93" r="4.8" fill="url(#gO)"/>
<circle cx="172.5" cy="111.9" r="4.8" fill="url(#gO)"/>
<circle cx="171.2" cy="111.1" r="4.3" fill="url(#gC)"/>
<circle cx="168.4" cy="109.1" r="4.8" fill="url(#gO)"/>
<circle cx="75.6" cy="152.2" r="4.8" fill="url(#gO)"/>
<circle cx="80.9" cy="156.4" r="4.3" fill="url(#gC)"/>
<circle cx="86.4" cy="159.8" r="4.8" fill="url(#gO)"/>
<circle cx="140.7" cy="155.3" r="4.8" fill="url(#gO)"/>
<circle cx="147.7" cy="156.4" r="4.3" fill="url(#gC)"/>
<circle cx="155" cy="157.1" r="4.8" fill="url(#gO)"/>
<circle cx="183.4" cy="157.5" r="4.8" fill="url(#gO)"/>
<circle cx="188.8" cy="162.7" r="4.3" fill="url(#gC)"/>
<circle cx="193.9" cy="168.1" r="4.8" fill="url(#gO)"/>
<circle cx="282.5" cy="129.1" r="4.8" fill="url(#gO)"/>
<circle cx="276.6" cy="131.9" r="4.3" fill="url(#gC)"/>
<circle cx="269.8" cy="135" r="4.8" fill="url(#gO)"/>
<circle cx="338.6" cy="107.6" r="4.8" fill="url(#gO)"/>
<circle cx="344.4" cy="111.2" r="4.3" fill="url(#gC)"/>
<circle cx="350.3" cy="114.2" r="4.8" fill="url(#gO)"/>
<circle cx="350.8" cy="110.3" r="4.8" fill="url(#gO)"/>
<circle cx="356.6" cy="113.4" r="4.3" fill="url(#gC)"/>
<circle cx="361.2" cy="114.9" r="4.8" fill="url(#gO)"/>
<circle cx="367.8" cy="107.3" r="4.8" fill="url(#gO)"/>
<circle cx="370" cy="109.8" r="4.3" fill="url(#gC)"/>
<circle cx="372.2" cy="113.4" r="4.8" fill="url(#gO)"/>
<circle cx="381.7" cy="116.4" r="4.8" fill="url(#gO)"/>
<circle cx="377.3" cy="121.5" r="4.3" fill="url(#gC)"/>
<circle cx="372.2" cy="125.9" r="4.8" fill="url(#gO)"/>
<circle cx="362" cy="126.6" r="4.8" fill="url(#gO)"/>
<circle cx="365.6" cy="125.9" r="4.3" fill="url(#gC)"/>
<circle cx="367.1" cy="135.4" r="4.8" fill="url(#gO)"/>
<circle cx="343.7" cy="139" r="4.8" fill="url(#gO)"/>
<circle cx="336.6" cy="140.5" r="4.3" fill="url(#gC)"/>
<circle cx="329" cy="142" r="4.8" fill="url(#gO)"/>
<circle cx="364.9" cy="143.4" r="4.8" fill="url(#gO)"/>
<circle cx="359.8" cy="147.8" r="4.3" fill="url(#gC)"/>
<circle cx="356.1" cy="150" r="4.8" fill="url(#gO)"/>
<circle cx="373" cy="150" r="4.8" fill="url(#gO)"/>
<circle cx="356.9" cy="156.6" r="4.8" fill="url(#gO)"/>
<circle cx="362.7" cy="153.7" r="4.3" fill="url(#gC)"/>
<circle cx="372.2" cy="156.6" r="4.3" fill="url(#gC)"/>
<circle cx="371.5" cy="162.5" r="4.8" fill="url(#gO)"/>
<circle cx="342.2" cy="160.3" r="4.8" fill="url(#gO)"/>
<circle cx="348.4" cy="162.5" r="4.3" fill="url(#gC)"/>
<circle cx="352" cy="164.7" r="4.8" fill="url(#gO)"/>
<circle cx="361.2" cy="164.7" r="4.8" fill="url(#gO)"/>
<circle cx="355.4" cy="171.3" r="4.8" fill="url(#gO)"/>
<circle cx="353.2" cy="177.8" r="4.3" fill="url(#gC)"/>
<circle cx="351" cy="184.4" r="4.8" fill="url(#gO)"/>
<circle cx="344.4" cy="174.9" r="4.8" fill="url(#gO)"/>
<circle cx="339.3" cy="175.7" r="4.3" fill="url(#gC)"/>
<circle cx="332.7" cy="177.6" r="4.8" fill="url(#gO)"/>
<circle cx="364.5" cy="175.7" r="4.8" fill="url(#gO)"/>
<circle cx="368.6" cy="171.3" r="4.3" fill="url(#gC)"/>
<circle cx="72.5" cy="214.1" r="4.8" fill="url(#gO)"/>
<circle cx="72.5" cy="215.6" r="4.3" fill="url(#gC)"/>
<circle cx="73.1" cy="219.1" r="4.8" fill="url(#gO)"/>
<circle cx="105.6" cy="210.5" r="4.8" fill="url(#gO)"/>
<circle cx="112.2" cy="212.8" r="4.3" fill="url(#gC)"/>
<circle cx="118.9" cy="215.2" r="4.8" fill="url(#gO)"/>
<circle cx="147.5" cy="205" r="4.8" fill="url(#gO)"/>
<circle cx="143.1" cy="209.4" r="4.3" fill="url(#gC)"/>
<circle cx="138.8" cy="213.1" r="4.8" fill="url(#gO)"/>
<circle cx="192.3" cy="221.9" r="4.8" fill="url(#gO)"/>
<circle cx="190.8" cy="228.1" r="4.3" fill="url(#gC)"/>
<circle cx="188.8" cy="234.4" r="4.8" fill="url(#gO)"/>
<circle cx="90" cy="241.7" r="4.8" fill="url(#gO)"/>
<circle cx="85.3" cy="243.3" r="4.3" fill="url(#gC)"/>
<circle cx="79.1" cy="245.6" r="4.8" fill="url(#gO)"/>
<circle cx="72.8" cy="257.8" r="4.8" fill="url(#gO)"/>
<circle cx="66.6" cy="259.4" r="4.3" fill="url(#gC)"/>
<circle cx="60" cy="260.5" r="4.8" fill="url(#gO)"/>
<circle cx="85.6" cy="268.8" r="4.8" fill="url(#gO)"/>
<circle cx="201.6" cy="253" r="4.8" fill="url(#gO)"/>
<circle cx="197.8" cy="251.1" r="4.3" fill="url(#gC)"/>
<circle cx="192.3" cy="252.2" r="4.8" fill="url(#gO)"/>
<circle cx="321.9" cy="196.4" r="4.8" fill="url(#gO)"/>
<circle cx="315.3" cy="198" r="4.3" fill="url(#gC)"/>
<circle cx="308.6" cy="200" r="4.8" fill="url(#gO)"/>
<circle cx="289.8" cy="208.1" r="4.8" fill="url(#gO)"/>
<circle cx="292.5" cy="215.2" r="4.3" fill="url(#gC)"/>
<circle cx="294.8" cy="221.9" r="4.8" fill="url(#gO)"/>
<circle cx="294.5" cy="240.6" r="4.8" fill="url(#gO)"/>
<circle cx="289" cy="238.6" r="4.3" fill="url(#gC)"/>
<circle cx="282.8" cy="237" r="4.8" fill="url(#gO)"/>
<circle cx="273.8" cy="238.6" r="4.8" fill="url(#gO)"/>
<circle cx="268.8" cy="243.3" r="4.3" fill="url(#gC)"/>
<circle cx="263.8" cy="248.8" r="4.8" fill="url(#gO)"/>
<circle cx="322.7" cy="268.3" r="4.8" fill="url(#gO)"/>
<circle cx="351" cy="185.1" r="4.8" fill="url(#gO)"/>
<circle cx="359.8" cy="207.1" r="4.8" fill="url(#gO)"/>
<circle cx="365.3" cy="207.1" r="4.3" fill="url(#gC)"/>
<circle cx="368.6" cy="206.6" r="4.8" fill="url(#gO)"/>
<circle cx="367.8" cy="215.1" r="4.3" fill="url(#gC)"/>
<circle cx="369.3" cy="222.8" r="4.8" fill="url(#gO)"/>
<circle cx="351.7" cy="216.6" r="4.8" fill="url(#gO)"/>
<circle cx="354" cy="217" r="4.3" fill="url(#gC)"/>
<circle cx="356.9" cy="217.8" r="4.8" fill="url(#gO)"/>
<circle cx="345.9" cy="222.5" r="4.8" fill="url(#gO)"/>
<circle cx="351.7" cy="226.6" r="4.3" fill="url(#gC)"/>
<circle cx="358" cy="230.1" r="4.8" fill="url(#gO)"/>
<circle cx="358.3" cy="246.6" r="4.8" fill="url(#gO)"/>
<circle cx="359.8" cy="236.8" r="4.8" fill="url(#gO)"/>
<circle cx="361.5" cy="243" r="4.3" fill="url(#gC)"/>
<circle cx="362.7" cy="250" r="4.8" fill="url(#gO)"/>
<circle cx="371.5" cy="248.5" r="4.8" fill="url(#gO)"/>
<circle cx="377.6" cy="250.3" r="4.3" fill="url(#gC)"/>
<circle cx="367.4" cy="264.2" r="4.8" fill="url(#gO)"/>
<circle cx="368.6" cy="270.8" r="4.3" fill="url(#gC)"/>
<circle cx="625" cy="32" r="4.8" fill="url(#gO)"/>
<circle cx="632.8" cy="32.8" r="4.3" fill="url(#gC)"/>
<circle cx="639.8" cy="33.1" r="4.8" fill="url(#gO)"/>
<circle cx="657.8" cy="21.1" r="4.8" fill="url(#gO)"/>
<circle cx="664" cy="21.9" r="4.3" fill="url(#gC)"/>
<circle cx="668.8" cy="24.2" r="4.8" fill="url(#gO)"/>
<circle cx="670.3" cy="15.6" r="4.8" fill="url(#gO)"/>
<circle cx="675.8" cy="19.1" r="4.3" fill="url(#gC)"/>
<circle cx="679.4" cy="22.7" r="4.8" fill="url(#gO)"/>
<circle cx="615.6" cy="48.4" r="4.8" fill="url(#gO)"/>
<circle cx="623.1" cy="50.3" r="4.3" fill="url(#gC)"/>
<circle cx="630" cy="52.3" r="4.8" fill="url(#gO)"/>
<circle cx="635.6" cy="52.8" r="4.8" fill="url(#gO)"/>
<circle cx="629.7" cy="59.1" r="4.3" fill="url(#gC)"/>
<circle cx="625" cy="63.3" r="4.8" fill="url(#gO)"/>
<circle cx="647.7" cy="72.2" r="4.8" fill="url(#gO)"/>
<circle cx="646.1" cy="73.1" r="4.3" fill="url(#gC)"/>
<circle cx="643" cy="74.7" r="4.8" fill="url(#gO)"/>
<circle cx="668.8" cy="74.2" r="4.8" fill="url(#gO)"/>
<circle cx="669.5" cy="80.5" r="4.3" fill="url(#gC)"/>
<circle cx="670.3" cy="87.5" r="4.8" fill="url(#gO)"/>
<circle cx="636.7" cy="86.2" r="4.8" fill="url(#gO)"/>
<circle cx="636.7" cy="93.4" r="4.3" fill="url(#gC)"/>
<circle cx="636.7" cy="98.4" r="4.8" fill="url(#gO)"/>
<circle cx="607" cy="6.6" r="4.3" fill="url(#gC)"/>
<circle cx="618.4" cy="9.7" r="4.8" fill="url(#gO)"/>
<circle cx="608" cy="24.2" r="4.8" fill="url(#gO)"/>
<circle cx="607" cy="38.3" r="4.8" fill="url(#gO)"/>
<circle cx="601.9" cy="43.8" r="4.3" fill="url(#gC)"/>
<circle cx="607" cy="78" r="4.3" fill="url(#gC)"/>
<circle cx="615.3" cy="76.6" r="4.8" fill="url(#gO)"/>
<circle cx="602.3" cy="81.2" r="4.8" fill="url(#gO)"/>
<circle cx="776.4" cy="9.4" r="4.8" fill="url(#gO)"/>
<circle cx="776.4" cy="9.4" r="4.3" fill="url(#gC)"/>
<circle cx="779.3" cy="16" r="4.8" fill="url(#gO)"/>
<circle cx="822.7" cy="6.8" r="4.8" fill="url(#gO)"/>
<circle cx="821.9" cy="14.1" r="4.3" fill="url(#gC)"/>
<circle cx="821.9" cy="20.5" r="4.8" fill="url(#gO)"/>
<circle cx="836.3" cy="27.7" r="4.8" fill="url(#gO)"/>
<circle cx="841.8" cy="31.6" r="4.3" fill="url(#gC)"/>
<circle cx="847.3" cy="35.5" r="4.8" fill="url(#gO)"/>
<circle cx="779.3" cy="45.3" r="4.8" fill="url(#gO)"/>
<circle cx="772.5" cy="47.9" r="4.3" fill="url(#gC)"/>
<circle cx="765.6" cy="50.4" r="4.8" fill="url(#gO)"/>
<circle cx="898.4" cy="16.6" r="4.8" fill="url(#gO)"/>
<circle cx="893.6" cy="18" r="4.3" fill="url(#gC)"/>
<circle cx="888.3" cy="19.5" r="4.8" fill="url(#gO)"/>
<circle cx="929.3" cy="15.2" r="4.8" fill="url(#gO)"/>
<circle cx="929.3" cy="23" r="4.3" fill="url(#gC)"/>
<circle cx="929.3" cy="30.3" r="4.8" fill="url(#gO)"/>
<circle cx="866.8" cy="78.5" r="4.8" fill="url(#gO)"/>
<circle cx="874" cy="78.1" r="4.3" fill="url(#gC)"/>
<circle cx="881.2" cy="78.1" r="4.8" fill="url(#gO)"/>
<circle cx="920.9" cy="66.4" r="4.8" fill="url(#gO)"/>
<circle cx="921.9" cy="69.3" r="4.3" fill="url(#gC)"/>
<circle cx="923.8" cy="73.2" r="4.8" fill="url(#gO)"/>
<circle cx="919.9" cy="85" r="4.8" fill="url(#gO)"/>
<circle cx="919" cy="90.8" r="4.3" fill="url(#gC)"/>
<circle cx="918.4" cy="95.7" r="4.8" fill="url(#gO)"/>
<circle cx="626.9" cy="114.2" r="4.8" fill="url(#gO)"/>
<circle cx="633.6" cy="115" r="4.3" fill="url(#gC)"/>
<circle cx="639.4" cy="115.3" r="4.8" fill="url(#gO)"/>
<circle cx="647.2" cy="105.6" r="4.8" fill="url(#gO)"/>
<circle cx="648.4" cy="113.4" r="4.3" fill="url(#gC)"/>
<circle cx="648.8" cy="121.2" r="4.8" fill="url(#gO)"/>
<circle cx="651.6" cy="117.3" r="4.8" fill="url(#gO)"/>
<circle cx="743" cy="116.9" r="4.8" fill="url(#gO)"/>
<circle cx="739.8" cy="123.6" r="4.3" fill="url(#gC)"/>
<circle cx="737.2" cy="129.8" r="4.8" fill="url(#gO)"/>
<circle cx="754.4" cy="133.8" r="4.8" fill="url(#gO)"/>
<circle cx="754.4" cy="135.3" r="4.3" fill="url(#gC)"/>
<circle cx="753.9" cy="139.7" r="4.8" fill="url(#gO)"/>
<circle cx="614.8" cy="134.5" r="4.8" fill="url(#gO)"/>
<circle cx="621.9" cy="138.4" r="4.8" fill="url(#gO)"/>
<circle cx="623.4" cy="143.1" r="4.3" fill="url(#gC)"/>
<circle cx="625" cy="149.4" r="4.8" fill="url(#gO)"/>
<circle cx="612.5" cy="154" r="4.8" fill="url(#gO)"/>
<circle cx="603.9" cy="163.4" r="4.8" fill="url(#gO)"/>
<circle cx="647.7" cy="158.8" r="4.8" fill="url(#gO)"/>
<circle cx="643" cy="160.3" r="4.3" fill="url(#gC)"/>
<circle cx="636.7" cy="162.2" r="4.8" fill="url(#gO)"/>
<circle cx="627.8" cy="157.2" r="4.8" fill="url(#gO)"/>
<circle cx="626.6" cy="161.9" r="4.3" fill="url(#gC)"/>
<circle cx="625" cy="166.6" r="4.8" fill="url(#gO)"/>
<circle cx="630.5" cy="165.8" r="4.3" fill="url(#gC)"/>
<circle cx="668.8" cy="168.9" r="4.8" fill="url(#gO)"/>
<circle cx="663.3" cy="170.5" r="4.3" fill="url(#gC)"/>
<circle cx="659" cy="172" r="4.8" fill="url(#gO)"/>
<circle cx="643.8" cy="168.9" r="4.8" fill="url(#gO)"/>
<circle cx="644.5" cy="174.4" r="4.3" fill="url(#gC)"/>
<circle cx="645.3" cy="180.6" r="4.8" fill="url(#gO)"/>
<circle cx="654" cy="177.5" r="4.3" fill="url(#gC)"/>
<circle cx="657" cy="179.1" r="4.8" fill="url(#gO)"/>
<circle cx="622.7" cy="177.5" r="4.8" fill="url(#gO)"/>
<circle cx="620.3" cy="185.3" r="4.8" fill="url(#gO)"/>
<circle cx="690.6" cy="180" r="4.8" fill="url(#gO)"/>
<circle cx="687.5" cy="185" r="4.3" fill="url(#gC)"/>
<circle cx="679.7" cy="187.8" r="4.8" fill="url(#gO)"/>
<circle cx="748.1" cy="182.5" r="4.8" fill="url(#gO)"/>
<circle cx="746.5" cy="187" r="4.3" fill="url(#gC)"/>
<circle cx="744" cy="189.7" r="4.8" fill="url(#gO)"/>
<circle cx="792.6" cy="152.1" r="4.8" fill="url(#gO)"/>
<circle cx="794.9" cy="158.8" r="4.3" fill="url(#gC)"/>
<circle cx="797.9" cy="165.2" r="4.8" fill="url(#gO)"/>
<circle cx="839.8" cy="147" r="4.8" fill="url(#gO)"/>
<circle cx="851.6" cy="152.5" r="4.8" fill="url(#gO)"/>
<circle cx="846.1" cy="149.6" r="4.8" fill="url(#gO)"/>
<circle cx="849.6" cy="154.5" r="4.3" fill="url(#gC)"/>
<circle cx="851" cy="157.4" r="4.8" fill="url(#gO)"/>
<circle cx="868.8" cy="145.1" r="4.8" fill="url(#gO)"/>
<circle cx="867.2" cy="143.7" r="4.3" fill="url(#gC)"/>
<circle cx="862.9" cy="141.2" r="4.8" fill="url(#gO)"/>
<circle cx="860.9" cy="158.8" r="4.8" fill="url(#gO)"/>
<circle cx="868.2" cy="159.9" r="4.3" fill="url(#gC)"/>
<circle cx="875" cy="160.7" r="4.8" fill="url(#gO)"/>
<circle cx="925.8" cy="170.1" r="4.8" fill="url(#gO)"/>
<circle cx="926" cy="172" r="4.3" fill="url(#gC)"/>
<circle cx="926.8" cy="175.5" r="4.8" fill="url(#gO)"/>
<circle cx="786.1" cy="180.8" r="4.8" fill="url(#gO)"/>
<circle cx="792.6" cy="184.1" r="4.3" fill="url(#gC)"/>
<circle cx="799.2" cy="186.7" r="4.8" fill="url(#gO)"/>
<circle cx="777" cy="189.8" r="4.8" fill="url(#gO)"/>
<circle cx="772.5" cy="194.6" r="4.3" fill="url(#gC)"/>
<circle cx="768.6" cy="198.6" r="4.8" fill="url(#gO)"/>
<circle cx="636.7" cy="182.3" r="4.8" fill="url(#gO)"/>
<circle cx="636.7" cy="189.7" r="4.3" fill="url(#gC)"/>
<circle cx="635.9" cy="195.6" r="4.8" fill="url(#gO)"/>
<circle cx="645" cy="194.4" r="4.3" fill="url(#gC)"/>
<circle cx="650.8" cy="197.5" r="4.8" fill="url(#gO)"/>
<circle cx="658.6" cy="195.6" r="4.8" fill="url(#gO)"/>
<circle cx="657.8" cy="203.8" r="4.3" fill="url(#gC)"/>
<circle cx="657" cy="210.9" r="4.8" fill="url(#gO)"/>
<circle cx="637.2" cy="203.1" r="4.8" fill="url(#gO)"/>
<circle cx="638.8" cy="208.9" r="4.3" fill="url(#gC)"/>
<circle cx="639.8" cy="213.6" r="4.8" fill="url(#gO)"/>
<circle cx="645.3" cy="208.9" r="4.8" fill="url(#gO)"/>
<circle cx="690.6" cy="180" r="4.8" fill="url(#gO)"/>
<circle cx="685.2" cy="191.7" r="4.8" fill="url(#gO)"/>
<circle cx="681.2" cy="195.6" r="4.3" fill="url(#gC)"/>
<circle cx="683.6" cy="201.9" r="4.8" fill="url(#gO)"/>
<circle cx="646.9" cy="222.2" r="4.8" fill="url(#gO)"/>
<circle cx="651.6" cy="227.7" r="4.3" fill="url(#gC)"/>
<circle cx="655.9" cy="233.1" r="4.8" fill="url(#gO)"/>
<circle cx="659" cy="230.8" r="4.8" fill="url(#gO)"/>
<circle cx="662.2" cy="235.9" r="4.3" fill="url(#gC)"/>
<circle cx="664.4" cy="239.4" r="4.8" fill="url(#gO)"/>
<circle cx="743.8" cy="235.5" r="4.8" fill="url(#gO)"/>
<circle cx="746.1" cy="242.5" r="4.3" fill="url(#gC)"/>
<circle cx="748.1" cy="249.5" r="4.8" fill="url(#gO)"/>
<circle cx="635.6" cy="230.3" r="4.8" fill="url(#gO)"/>
<circle cx="637.5" cy="231.6" r="4.3" fill="url(#gC)"/>
<circle cx="640.3" cy="237" r="4.8" fill="url(#gO)"/>
<circle cx="632" cy="234.7" r="4.8" fill="url(#gO)"/>
<circle cx="633.6" cy="240.9" r="4.8" fill="url(#gO)"/>
<circle cx="645.3" cy="242.2" r="4.8" fill="url(#gO)"/>
<circle cx="643.8" cy="249" r="4.3" fill="url(#gC)"/>
<circle cx="640.6" cy="256.6" r="4.8" fill="url(#gO)"/>
<circle cx="631.2" cy="249.5" r="4.8" fill="url(#gO)"/>
<circle cx="635.2" cy="252.7" r="4.3" fill="url(#gC)"/>
<circle cx="638.3" cy="255" r="4.8" fill="url(#gO)"/>
<circle cx="625" cy="259.7" r="4.8" fill="url(#gO)"/>
<circle cx="628.1" cy="266" r="4.3" fill="url(#gC)"/>
<circle cx="630.5" cy="272.2" r="4.8" fill="url(#gO)"/>
<circle cx="635.2" cy="259.7" r="4.8" fill="url(#gO)"/>
<circle cx="636" cy="266" r="4.3" fill="url(#gC)"/>
<circle cx="637.5" cy="270.6" r="4.8" fill="url(#gO)"/>
<circle cx="645.3" cy="262.8" r="4.3" fill="url(#gC)"/>
<circle cx="649.2" cy="268.3" r="4.8" fill="url(#gO)"/>
<circle cx="609.4" cy="269.8" r="4.8" fill="url(#gO)"/>
<circle cx="617.5" cy="272.2" r="4.3" fill="url(#gC)"/>
<circle cx="623.4" cy="203.4" r="4.8" fill="url(#gO)"/>
<circle cx="625" cy="210.5" r="4.3" fill="url(#gC)"/>
<circle cx="625.8" cy="215.2" r="4.8" fill="url(#gO)"/>
<circle cx="621.1" cy="226.9" r="4.8" fill="url(#gO)"/>
<circle cx="773.8" cy="272.2" r="4.8" fill="url(#gO)"/>
<circle cx="808.2" cy="268.3" r="4.8" fill="url(#gO)"/>
<circle cx="815.4" cy="269.8" r="4.3" fill="url(#gC)"/>
<circle cx="822.7" cy="270.8" r="4.8" fill="url(#gO)"/>
<path d="M74.5 311.5H939.5 M74.5 600.5H939.5" stroke="#555" stroke-width="1" fill="none"/>
<path d="M83.7 600.5V595.5 M83.7 311.5V316.5M112 600.5V595.5 M112 311.5V316.5M140.4 600.5V592.5 M140.4 311.5V319.5M168.8 600.5V595.5 M168.8 311.5V316.5M197.2 600.5V595.5 M197.2 311.5V316.5M225.6 600.5V595.5 M225.6 311.5V316.5M254 600.5V592.5 M254 311.5V319.5M282.4 600.5V595.5 M282.4 311.5V316.5M310.8 600.5V595.5 M310.8 311.5V316.5M339.2 600.5V595.5 M339.2 311.5V316.5M367.6 600.5V592.5 M367.6 311.5V319.5M396 600.5V595.5 M396 311.5V316.5M424.4 600.5V595.5 M424.4 311.5V316.5M452.8 600.5V595.5 M452.8 311.5V316.5M481.2 600.5V592.5 M481.2 311.5V319.5M509.6 600.5V595.5 M509.6 311.5V316.5M538 600.5V595.5 M538 311.5V316.5M566.4 600.5V595.5 M566.4 311.5V316.5M594.8 600.5V592.5 M594.8 311.5V319.5M623.2 600.5V595.5 M623.2 311.5V316.5M651.5 600.5V595.5 M651.5 311.5V316.5M679.9 600.5V595.5 M679.9 311.5V316.5M708.3 600.5V592.5 M708.3 311.5V319.5M736.7 600.5V595.5 M736.7 311.5V316.5M765.1 600.5V595.5 M765.1 311.5V316.5M793.5 600.5V595.5 M793.5 311.5V316.5M821.9 600.5V592.5 M821.9 311.5V319.5M850.3 600.5V595.5 M850.3 311.5V316.5M878.7 600.5V595.5 M878.7 311.5V316.5M907.1 600.5V595.5 M907.1 311.5V316.5M935.5 600.5V592.5 M935.5 311.5V319.5" stroke="#555" stroke-width="1.1" fill="none"/>
<path d="M74.5 311.5V600.5M74.5 594H82M74.5 586.1H79M74.5 578.1H79M74.5 570.2H79M74.5 562.2H79M74.5 554.3H82M74.5 546.4H79M74.5 538.4H79M74.5 530.5H79M74.5 522.5H79M74.5 514.6H82M74.5 506.7H79M74.5 498.7H79M74.5 490.8H79M74.5 482.8H79M74.5 474.9H82M74.5 467H79M74.5 459H79M74.5 451.1H79M74.5 443.1H79M74.5 435.2H82M74.5 427.3H79M74.5 419.3H79M74.5 411.4H79M74.5 403.4H79M74.5 395.5H82M74.5 387.6H79M74.5 379.6H79M74.5 371.7H79M74.5 363.7H79M74.5 355.8H82M74.5 347.9H79M74.5 339.9H79M74.5 332H79M74.5 324H79M74.5 316.1H82" stroke="#ff3030" stroke-width="1" fill="none"/>
<path d="M939.5 311.5V600.5M939.5 595.2H932M939.5 584.9H935M939.5 574.7H935M939.5 564.4H935M939.5 554.1H932M939.5 543.8H935M939.5 533.6H935M939.5 523.3H935M939.5 513H932M939.5 502.7H935M939.5 492.5H935M939.5 482.2H935M939.5 471.9H932M939.5 461.6H935M939.5 451.4H935M939.5 441.1H935M939.5 430.8H932M939.5 420.5H935M939.5 410.2H935M939.5 400H935M939.5 389.7H932M939.5 379.4H935M939.5 369.2H935M939.5 358.9H935M939.5 348.6H932M939.5 338.3H935M939.5 328.1H935M939.5 317.8H935" stroke="#6060ff" stroke-width="1" fill="none"/>
<text x="65.5" y="602.5" fill="#f00" stroke="#f00" text-anchor="end">0</text>
<text x="65.5" y="562.8" fill="#f00" stroke="#f00" text-anchor="end">1</text>
<text x="65.5" y="523.1" fill="#f00" stroke="#f00" text-anchor="end">2</text>
<text x="65.5" y="483.4" fill="#f00" stroke="#f00" text-anchor="end">3</text>
<text x="65.5" y="443.7" fill="#f00" stroke="#f00" text-anchor="end">4</text>
<text x="65.5" y="404" fill="#f00" stroke="#f00" text-anchor="end">5</text>
<text x="65.5" y="364.3" fill="#f00" stroke="#f00" text-anchor="end">6</text>
<text x="65.5" y="324.6" fill="#f00" stroke="#f00" text-anchor="end">7</text>
<text x="948" y="603.7" fill="#00f" stroke="#00f">0</text>
<text x="948" y="562.6" fill="#00f" stroke="#00f">2</text>
<text x="948" y="521.5" fill="#00f" stroke="#00f">4</text>
<text x="948" y="480.4" fill="#00f" stroke="#00f">6</text>
<text x="948" y="439.3" fill="#00f" stroke="#00f">8</text>
<text x="948" y="398.2" fill="#00f" stroke="#00f">10</text>
<text x="948" y="357.1" fill="#00f" stroke="#00f">12</text>
<text x="140.4" y="630.5" fill="#000" stroke="#000" text-anchor="middle">−4</text>
<text x="254" y="630.5" fill="#000" stroke="#000" text-anchor="middle">−2</text>
<text x="367.6" y="630.5" fill="#000" stroke="#000" text-anchor="middle">0</text>
<text x="481.2" y="630.5" fill="#000" stroke="#000" text-anchor="middle">2</text>
<text x="594.8" y="630.5" fill="#000" stroke="#000" text-anchor="middle">4</text>
<text x="708.3" y="630.5" fill="#000" stroke="#000" text-anchor="middle">6</text>
<text x="821.9" y="630.5" fill="#000" stroke="#000" text-anchor="middle">8</text>
<text x="935.5" y="630.5" fill="#000" stroke="#000" text-anchor="middle">10</text>
<text x="506.5" y="677.5" fill="#000" stroke="#000" text-anchor="middle" letter-spacing="-0.8">length [nm]</text>
<text transform="translate(20,457) rotate(-90)" fill="#f00" stroke="#f00" text-anchor="middle" letter-spacing="-0.7">velocity [m/<tspan font-style="italic">s</tspan><tspan dy="-9" font-size="17">2</tspan><tspan dy="9">]</tspan></text>
<text transform="translate(1019,456.5) rotate(-90)" fill="#00f" stroke="#00f" text-anchor="middle" letter-spacing="-0.75">density [10<tspan dy="-9" font-size="17">−3</tspan><tspan dy="9"> mol/cm</tspan><tspan dy="-9" font-size="17">3</tspan><tspan dy="9">]</tspan></text>
<polyline points="91.3,386.6 94,411 97.2,436.4 99.8,438.6 102,447 104.5,457.6 106,478 108.5,470 111.1,478 112.4,487.6 116.8,499.3 119,514 120.5,508.8 122.7,531.5 124.9,522.7 127.1,541.7 132.2,531.5 134.4,541.7 138.1,545.4 140.7,554.9 142.5,546.9 146.9,546.1 149,554.9 151.2,545.4 155.3,560.8 157.4,542.5 159.3,555.6 165.9,550.5 168.1,562.2 171,549.8 174.7,563 176.9,542.5 178.8,553.8 181.4,551.7 183.4,554.4 185,552.8 187.2,558.9 188.6,548.2 190,559.3 192.3,542.4 195,562.7 197.2,555 198.7,541.8 200.8,542.8 202.3,546.8 203.7,551.7 205.6,560 207.6,555.6 209.6,556.1 211.6,547.6 214.2,563.4 216.7,557.1 218.5,546.6 220.2,543 222.5,550.3 225,550 227.7,560.1 229,546.1 231.5,551.8 234.2,550.2 235.6,555.3 238,547.4 239.4,548.8 242.1,558.2 243.5,546.9 245,542.8 247.4,545.4 249.5,551.3 251.1,557.6 252.5,555.7 254,550.8 255.6,547.4 258.3,559.2 260,561 261.6,550.2 264.1,555.6 265.5,563.3 267.1,547.2 269.5,548.7 271.2,543.1 272.6,554.3 274.3,554.7 276.1,551.5 278.7,552.1 280.8,560.6 282.4,544.9 285,559.5 286.6,545.7 289,562.2 290.5,562.4 293.1,554.8 295,543.8 296.3,562.7 297.9,557 299.6,559.6 301.7,548 303.3,557.3 304.7,546.5 306.8,560.3 308.9,547.7 311.5,546 312.8,547.4 314.8,542.8 316.3,549.6 318.4,544.4 320.2,561.1 322.9,556 325.2,554.4 326.6,542.3 328,561.5 330.3,562.7 331,555 334,566 336,558 339,568 341,562 343.3,571.6 345,568 347,577 349.1,583.3 352,578 355,584 357.3,582.1 360,588 363,585 366.7,590.3 370,592 373,588 376,593 379.6,593.2 383,589 386,592 390,588 393,591 397.2,590.3 398.5,589.1 400.5,590.2 402.3,593.4 403.7,588 406,592.2 408.3,589.8 410.7,592.3 412.5,589.5 415.1,591.7 417,590.7 419.5,588.1 421.7,585.8 423.8,588.5 425.2,588.8 427.9,591.7 430.2,585.8 432.5,588 434.4,591.1 435.9,590 437.2,588.2 439.2,583.8 441.4,586.9 443.6,592 445.3,581.1 447,589 448.6,582.9 451.1,588.8 453.1,591.5 454.8,588.8 456.4,586 458.8,591.7 461.4,585.3 463.5,584.5 465,586.6 467.4,590.8 469.7,592 471.4,582.6 473.3,583.9 474.9,585.5 477.1,586.5 478.9,590.6 481.5,585.9 482.9,580.8 485.5,580.9 487.8,587.3 489.5,589.9 490.8,582 492.8,580.6 495.2,583.2 496.7,580.9 498.9,585.6 501.1,588.1 503.5,591.7 505.8,582.6 507.7,582.3 509,585.8 511.3,582.3 513,584.3 515.3,586.3 517.5,589.1 519.3,589.5 521.9,581 524.5,588.6 526,585.4 528.1,590.8 530,586.7 532.5,589.4 535.1,585.4 537.3,582.3 539.6,589.6 541.8,588.4 543.4,590.5 546.1,591.4 548.2,589.2 549.9,590.6 552.4,583.8 553.8,584.9 555.9,588.8 557.9,579.9 560.3,580.3 560,589.9 564.8,583.8 566.8,591.3 570,586 573.7,587.9 576.5,584 579.8,581 583.9,587.9 586,579.6 588.5,586 590.8,592 594.2,581.7 596.5,587 599,591.3 603,583 607.2,579 609,584 611.3,578.3 614.7,587.9 617,582 620.2,579.6 623.5,584 627,577.6 630.4,572.1 633.5,579 636.6,582.4 639.3,570.1 642,575.5 643.4,560.5 645.5,552 647.5,546.8 649.5,499.5 651.5,495.4 654.6,470.8 657.5,455 661.2,434.6 662.4,409.6 664.9,427.1 666.9,387.2 669.4,399.6 671.1,415.9 673.6,368.5 676.1,410.9 677.8,405.4 679.9,389.7 681.6,389.2 684.3,400.9 686.1,369.8 688.6,373.5 691.1,371 692.3,388.5 694.8,348.6 697.3,379.8 699.5,383.9 701,382.2 703.5,333.7 706,349.9 708.1,339.5 709.3,333.7 711.1,360.3 712.2,384.7 714.7,349.9 716.3,358.6 718.5,369.8 721,374.8 723.5,352.4 726,362.3 728.4,352.4 730.9,320 733.4,358.6 734.8,358 736.5,350 738.2,342.8 739.7,336.2 741.6,369.8 743.4,354.1 744.6,342.4 746.3,344.1 748.4,349.9 750,352.5 751,345 752.3,361.2 754.1,372.3 756,347.1 757.1,332.4 759.5,332.4 760.9,345.1 762.1,364.8 764.7,359.1 767.1,353.6 769.1,362.2 770.8,382.2 773.3,366.4 775.8,378.1 778,355.7 780,359.8 782,393 784.4,382.1 785.8,375.6 788.3,398.8 790.3,368.1 792.3,390.3 794.6,406.3 796.9,355.7 799,374.7 801.2,363.1 803.2,387.2 805.7,379.7 807.8,386.5 809.8,393 811.8,359 814,398.8 816.3,373.8 818.1,364.8 820.2,350.2 822.3,338.6 824.9,364.4 826.4,369.8 828.9,331.6 830.7,343 833.1,359 834.4,356.4 836.4,354.8 838.2,367.8 839.4,367.3 841.7,346.5 843.9,370.6 846,349 847.8,341.5 849.7,339 852.2,348.2 854.7,318.3 857.1,344.6 860.5,378.9 862.7,365 864,365 865.8,352.9 867.1,355.7 869.3,386.4 871.6,356.5 873.8,372.3 875.9,367.3 878.2,317.5 879.9,386.4 882.2,344 884.2,373.9 886.2,366.4 888.7,391.3 890.9,344 892.8,391.3 894.8,377.2 897,382 899.2,391.3 901.5,344.9 903.3,363.8 905.8,400.5 907.8,358.1 909.8,388.9 911.9,347.4 914.4,364.8 916.1,364 918.2,396.3 920.7,334.1 923.1,343.2" fill="none" stroke="#f00" stroke-width="2" stroke-linejoin="round"/>
<polyline points="91,592.4 99.6,591.2 111.3,589.3 123.1,586.6 132.4,583.4 141.8,581 154.3,580.7 200,580.6 250,580.8 280,580.6 295,580.3 308.1,579.4 320,577 329.2,573.9 335,570.5 339.8,566.3 343.5,561.5 346.8,555.2 350,548.5 352.7,539.9 356.5,529 359.7,519 361.4,504.8 363.5,475 365.2,447.6 366.6,420 368,393 369.5,365 371,338 372.2,324 373,318.8 374,322 375.5,340 377,365 378.5,390 380.5,418 382.5,440 384.3,457.1 386,472 387.7,480 390,475 393.8,464.8 397,468 400.5,474.3 402.5,470 404.3,469.5 406.5,482 409,498.1 411.9,500 415,510 419.5,525.7 422,520 424.3,514.3 428.1,517.1 432,503 437.6,485.7 441,488 445.1,492 449.5,481.3 453.9,497.1 458.3,483.2 460.5,485.4 464.9,478 467.5,482 470.7,492.7 475.1,486.8 478.5,505 481.7,519 485.5,505 489.8,485.4 494,498 498.5,511.7 502,495 505.9,480.7 507.3,481 511,505 515.4,528.5 519.8,521.2 523.5,530 527.8,535.9 531.5,528 535,500 538,478 541,470.7 545.4,478 548.5,500 552,522.7 555,495 558.2,471.8 561,480 563.3,487.2 565.4,480 568.5,500 571.5,519 575.6,510.8 578.5,522 581.8,532.3 585,524 588,516.9 591,522 594.1,528.2 598,522 601.3,519 604.5,537 607.2,551.6 610,545 613.3,540.7 618.8,541.4 621.5,546 624.3,552.3 628.4,559.8 632.5,560 636.6,559.8 639.3,562.6 642,569 644.8,575.5 647.5,581.5 650.2,586.5 654,589.5 658.4,591.3 669.4,592 700,592.6 800,592.7 923,592.7" fill="none" stroke="#00f" stroke-width="2.4" stroke-linejoin="round"/>
</svg></body></html>
